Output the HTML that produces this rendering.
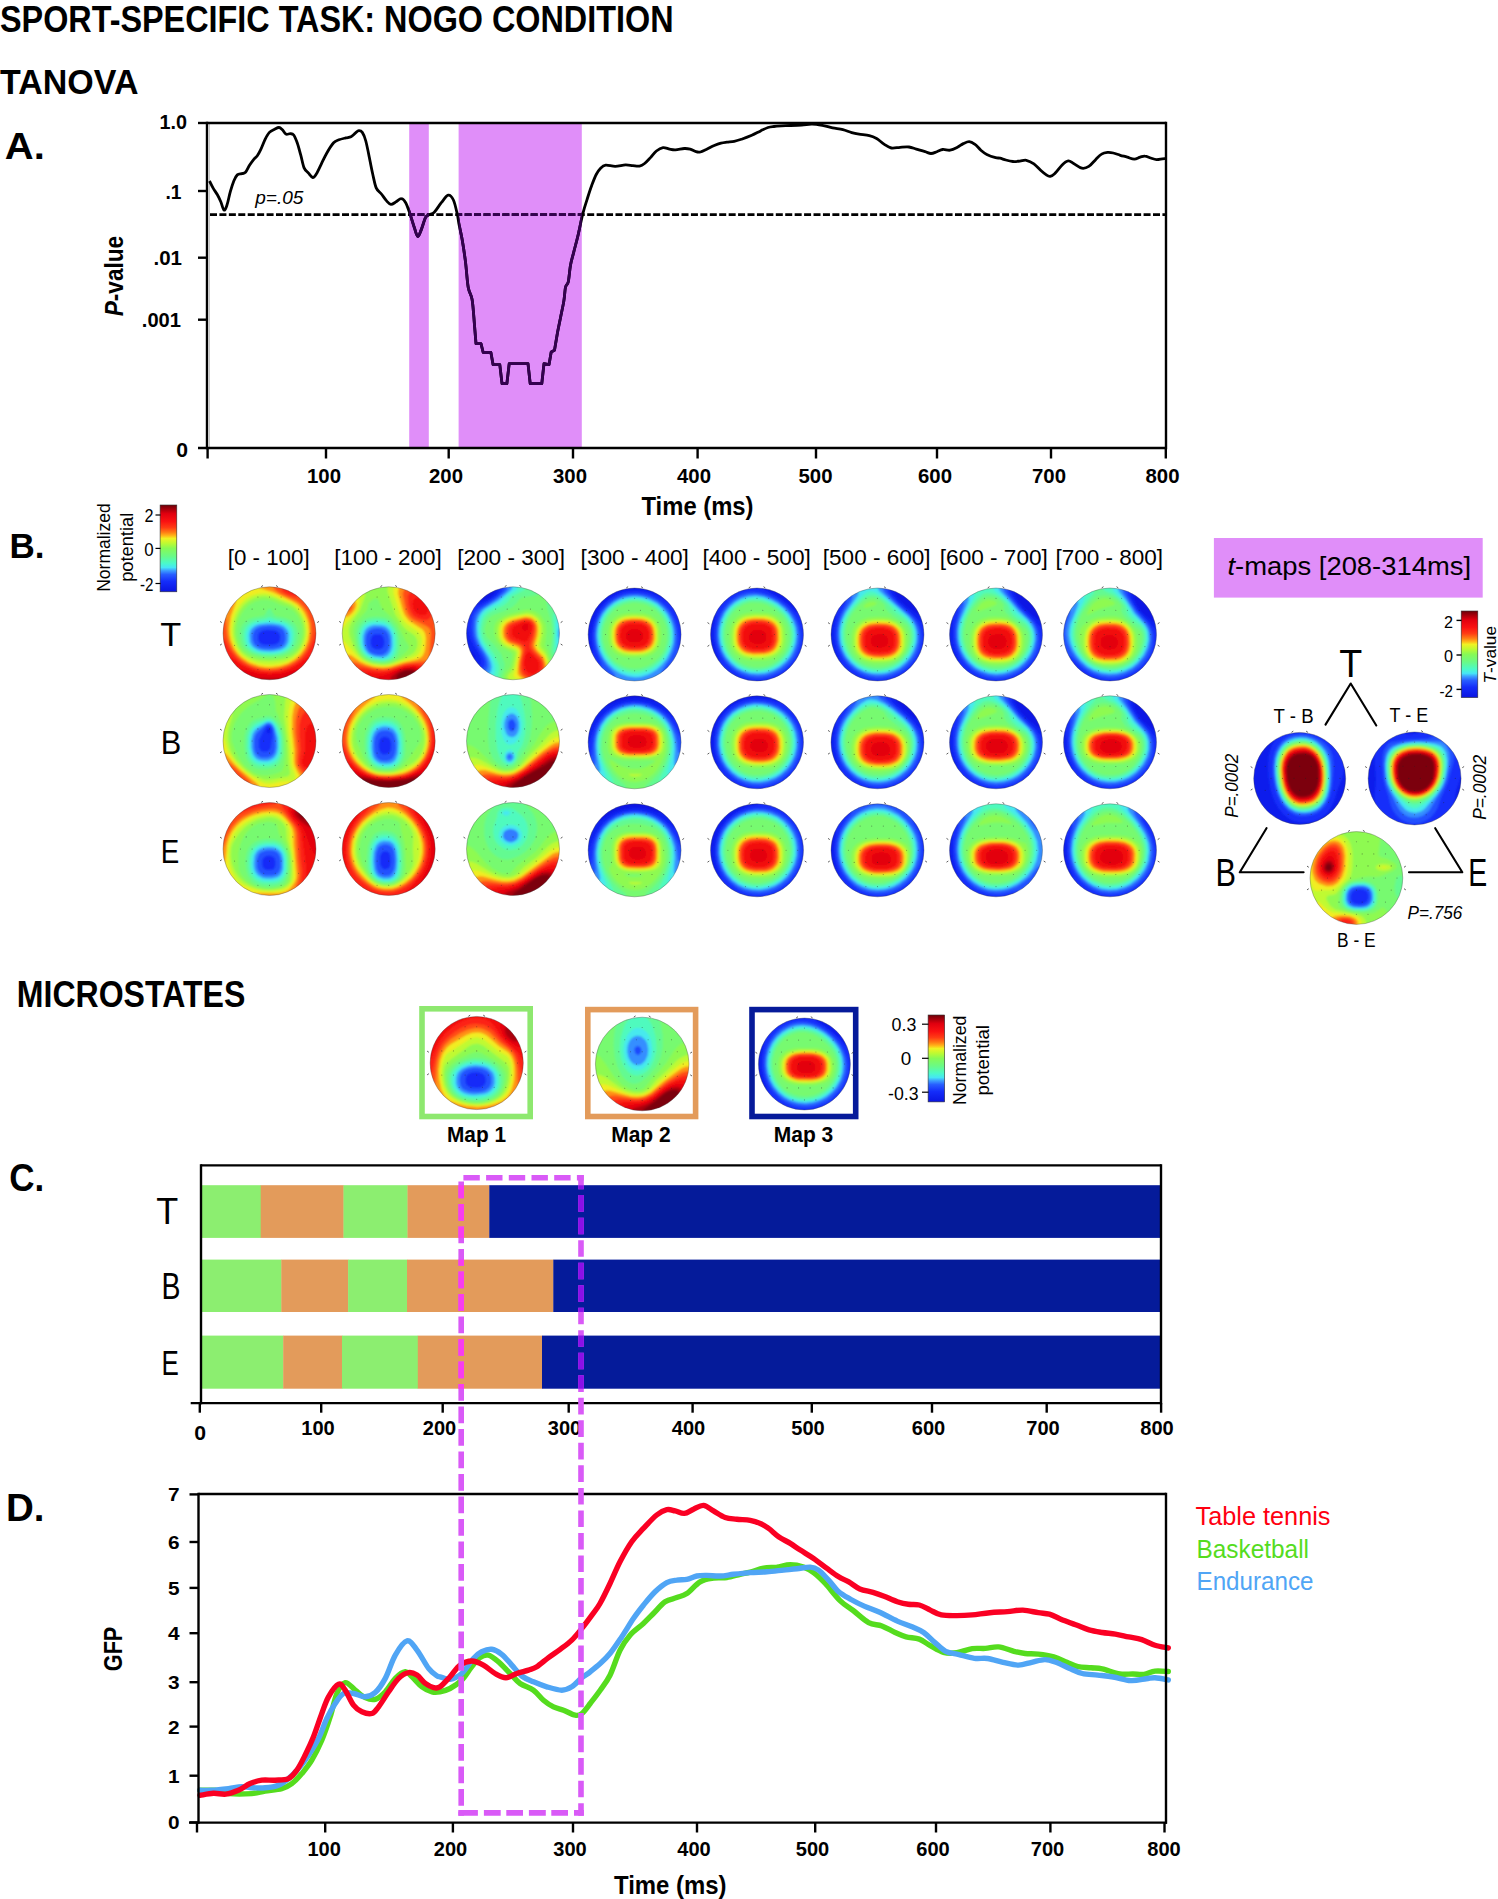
<!DOCTYPE html>
<html><head><meta charset="utf-8"><title>Sport-specific task: NoGo condition</title>
<style>
html,body{margin:0;padding:0;background:#fff;}
body{width:1498px;height:1899px;overflow:hidden;}
svg{display:block;font-family:"Liberation Sans", sans-serif;}
</style></head><body>
<svg width="1498" height="1899" viewBox="0 0 1498 1899">
<rect width="1498" height="1899" fill="#fff"/>
<text x="0" y="31.8" font-size="36.5" font-weight="bold" textLength="673.5" lengthAdjust="spacingAndGlyphs">SPORT-SPECIFIC TASK: NOGO CONDITION</text>
<text x="0" y="93.5" font-size="35.3" font-weight="bold" textLength="138.5" lengthAdjust="spacingAndGlyphs">TANOVA</text>
<text x="4.8" y="158.9" font-size="37.4" font-weight="bold" textLength="40" lengthAdjust="spacingAndGlyphs">A.</text>
<rect x="409.2" y="123.5" width="19.6" height="324.5" fill="#e08ef9"/>
<rect x="458.6" y="123.5" width="123.2" height="324.5" fill="#e08ef9"/>
<line x1="209.5" y1="124" x2="209.5" y2="447" stroke="#c8c8c8" stroke-width="1"/>
<defs><clipPath id="cpBand"><rect x="409.2" y="123.5" width="19.6" height="324.5"/><rect x="458.6" y="123.5" width="123.2" height="324.5"/></clipPath></defs>
<path d="M209.5 181 C210.1 182.2 211.7 185.6 213 187.9 C214.3 190.2 216.1 192.5 217.4 194.8 C218.7 197.1 219.7 199.2 220.8 201.8 C221.9 204.4 223 209.5 224 210.1 C225 210.7 225.8 208.4 226.9 205.3 C228 202.2 229.2 195.5 230.4 191.4 C231.6 187.3 232.7 183.8 233.8 181 C235 178.2 236 176.1 237.3 174.9 C238.6 173.7 240.3 174.1 241.7 173.7 C243.1 173.3 244.2 173.7 245.5 172.3 C246.8 170.9 248.1 167.5 249.5 165.3 C250.9 163.1 252.5 160.9 253.8 159.3 C255.1 157.7 256.2 157.4 257.3 155.8 C258.4 154.2 259.4 152.4 260.7 149.7 C262 146.9 263.7 142.2 265.1 139.3 C266.6 136.4 267.8 134.1 269.4 132.4 C271 130.7 273 130 274.6 129.2 C276.2 128.4 277.7 127.4 279 127.5 C280.3 127.6 281.2 128.7 282.4 129.8 C283.5 130.9 284.6 133.4 285.9 134.1 C287.2 134.8 289 133.5 290.3 133.7 C291.6 133.8 292.6 133.5 293.7 135 C294.8 136.5 296 139.5 297.2 142.8 C298.4 146.1 299.5 150.7 300.7 154.9 C301.9 159.1 302.8 164.9 304.1 167.9 C305.4 170.9 307.1 171.5 308.5 173.1 C309.9 174.7 311.5 177.3 312.8 177.5 C314.1 177.7 314.9 176.3 316.3 174 C317.8 171.7 319.8 167.1 321.5 163.6 C323.2 160.1 324.7 156.7 326.7 153.2 C328.7 149.7 331.6 145 333.6 142.8 C335.6 140.6 336.9 140.6 338.9 139.8 C340.9 139 343.8 138.4 345.8 137.9 C347.8 137.4 349.4 137.5 351 136.7 C352.6 135.9 354 134.2 355.3 133.2 C356.6 132.2 357.6 130.7 358.8 130.6 C360 130.5 361.1 130.7 362.3 132.4 C363.5 134.1 364.7 136.9 365.8 141 C366.9 145.1 368.1 151.2 369.2 156.7 C370.3 162.2 371.5 168.8 372.7 174 C373.9 179.2 374.8 184.6 376.2 187.9 C377.6 191.2 379.7 191.8 381.4 194 C383.1 196.2 385 199.2 386.6 200.9 C388.2 202.6 389.3 204.2 390.9 204.4 C392.5 204.6 394.4 202.8 396.1 201.8 C397.8 200.9 399.7 198.5 401.3 198.7 C402.9 198.8 404.2 200.2 405.7 202.7 C407.1 205.2 408.6 209.7 410 213.9 C411.4 218.1 413.1 224 414.4 227.8 C415.7 231.6 416.6 236.2 417.8 236.5 C419 236.8 420 232.8 421.3 229.6 C422.6 226.4 424.3 219.9 425.6 217.4 C426.9 214.9 427.7 215.7 429.1 214.8 C430.6 213.9 432.3 214.2 434.3 212.2 C436.3 210.2 439 205.5 441.3 202.7 C443.6 199.9 446.2 195.6 448.2 195.2 C450.2 194.8 451.9 196.9 453.4 200 C454.9 203.1 456.3 209.9 457.2 213.8 C458.1 217.7 458 218.9 458.8 223.2 C459.6 227.5 461.1 233.4 462.2 239.8 C463.3 246.2 464.5 254 465.5 261.9 C466.5 269.8 467.1 281 468.2 287.3 C469.3 293.6 471.1 293.6 472.1 299.5 C473.1 305.4 473.7 315.3 474.3 322.7 C474.9 330.1 475.7 340.2 476 343.7 L481 343.7 L483.2 352.5 L490.9 352.5 L493.1 364.7 L499.8 364.7 L502 383.5 L506.9 383.5 L509.2 363.6 L528 363.6 L530.2 383.5 L541.8 383.5 L544 363.6 L549 364.7 L551.2 352 L554.5 350.3 L557.3 333.7 L557.3 333.7 C557.8 330.9 559.5 322.7 560.6 317.2 C561.7 311.7 563.1 305.6 563.9 300.6 C564.7 295.6 564.8 290.4 565.5 287.3 C566.2 284.2 567.5 285.5 568.3 281.8 C569.1 278.1 569.6 270.2 570.5 265.2 C571.4 260.2 572.5 257.1 573.8 251.9 C575.1 246.7 576.8 240.6 578.3 234.2 C579.8 227.8 581.4 219.3 582.9 213.4 C584.4 207.5 585.8 203.3 587.3 198.7 C588.8 194 590.2 189.5 591.7 185.5 C593.2 181.5 594.7 177.4 596.2 174.5 C597.7 171.6 599 169.8 600.6 168.2 C602.2 166.6 603.3 165.5 605.7 165.2 C608.1 164.9 611.9 166.4 615.2 166.4 C618.5 166.4 622.5 165 625.5 164.9 C628.5 164.8 630.6 165.5 632.9 165.7 C635.2 165.9 637.5 166.5 639.5 166.1 C641.5 165.7 642.8 164.9 644.6 163.5 C646.4 162.1 648.5 159.7 650.5 157.6 C652.5 155.5 654.3 152.7 656.4 151 C658.5 149.3 660.8 147.9 663 147.6 C665.2 147.3 667.5 148.7 669.6 149.1 C671.7 149.5 673 149.9 675.5 149.8 C678 149.7 681.9 148.6 684.3 148.5 C686.7 148.4 688.1 148.6 690.1 149.1 C692.1 149.6 694.3 151.2 696 151.7 C697.7 152.2 698.7 152.4 700.4 152 C702.1 151.6 704.1 150.5 706.3 149.5 C708.5 148.5 711.1 146.9 713.6 145.8 C716.1 144.8 718.8 143.8 721 143.2 C723.2 142.6 724.7 142.5 726.9 142.2 C729.1 141.9 731.8 141.9 734.2 141.4 C736.7 140.9 738.7 140.2 741.6 139.2 C744.5 138.2 748.6 136.7 751.8 135.3 C755 133.9 757.9 132.2 760.6 130.9 C763.3 129.6 765.8 128.2 768 127.5 C770.2 126.8 771 126.8 773.9 126.5 C776.8 126.2 781 126 785.6 125.7 C790.2 125.5 797.3 125.3 801.7 125 C806.1 124.7 808.6 124 812 124.1 C815.4 124.1 818.9 124.7 822.3 125.3 C825.7 125.9 829.2 127.2 832.6 127.9 C836 128.6 839.7 128.9 842.9 129.7 C846.1 130.5 849 131.9 851.7 132.6 C854.4 133.3 856.1 133.6 859 134.1 C861.9 134.6 866.4 134.9 869.3 135.6 C872.2 136.3 874.1 137.1 876.6 138.5 C879.1 139.9 881.5 142.5 884 144.1 C886.5 145.7 888.6 147.5 891.3 148 C894 148.5 897.1 147.5 900.1 147.3 C903.1 147.1 906.3 146.7 909 147 C911.7 147.3 913.6 148.3 916.3 149.1 C919 149.9 922.6 151 925.1 151.7 C927.6 152.4 929 153.5 931 153.5 C933 153.5 934.9 152.4 936.9 151.7 C938.9 151 940.5 149.8 942.7 149.5 C944.9 149.2 947.7 150.6 950.1 150.2 C952.5 149.8 955.2 148.4 957.4 147.3 C959.6 146.2 961.3 144.5 963.3 143.6 C965.3 142.7 967.2 141.6 969.2 141.7 C971.2 141.8 973 143 975 144.4 C977 145.8 978.9 148.5 980.9 150.2 C982.9 151.9 984.3 153.2 986.8 154.4 C989.2 155.6 993.4 157 995.6 157.6 C997.8 158.2 998.3 157.8 1000 158.2 C1001.7 158.6 1003.6 159.4 1005.8 160 C1007.9 160.6 1010.5 161.3 1012.9 161.5 C1015.2 161.7 1017.7 161.3 1019.9 161.1 C1022.1 160.9 1024 159.9 1026.3 160.3 C1028.6 160.8 1031.5 162.1 1033.9 163.8 C1036.3 165.5 1038.8 168.6 1040.9 170.5 C1043 172.4 1045.2 174.2 1046.7 175.2 C1048.2 176.2 1048.8 176.6 1050.2 176.3 C1051.6 176 1053 175.2 1054.9 173.4 C1056.9 171.6 1059.7 167.3 1061.9 165.2 C1064.1 163.1 1066.3 161.2 1068.3 160.9 C1070.2 160.6 1071.3 162.3 1073.6 163.5 C1075.8 164.7 1079.3 167.7 1081.8 168.2 C1084.3 168.7 1086.5 167.9 1088.8 166.4 C1091.1 164.9 1093.7 161.5 1095.8 159.4 C1097.9 157.3 1099.6 155.3 1101.6 154.1 C1103.5 152.9 1105.5 152.6 1107.5 152.4 C1109.5 152.2 1111.2 152.5 1113.3 153 C1115.4 153.5 1118 154.6 1120.3 155.3 C1122.6 156 1125 156.4 1127.3 157.1 C1129.6 157.8 1132.1 159.2 1134.3 159.2 C1136.5 159.2 1138.4 157.6 1140.2 157.1 C1142 156.6 1143.2 155.9 1144.9 156.1 C1146.7 156.2 1148.8 157.4 1150.7 158 C1152.6 158.6 1154.5 159.5 1156.5 159.6 C1158.5 159.7 1160.8 159 1162.4 158.8 C1164 158.6 1165.3 158.6 1165.9 158.5" fill="none" stroke="#000" stroke-width="2.8" stroke-linejoin="round"/>
<line x1="210" y1="214.6" x2="1165" y2="214.6" stroke="#000" stroke-width="2.7" stroke-dasharray="7 2.43"/>
<g clip-path="url(#cpBand)"><path d="M209.5 181 C210.1 182.2 211.7 185.6 213 187.9 C214.3 190.2 216.1 192.5 217.4 194.8 C218.7 197.1 219.7 199.2 220.8 201.8 C221.9 204.4 223 209.5 224 210.1 C225 210.7 225.8 208.4 226.9 205.3 C228 202.2 229.2 195.5 230.4 191.4 C231.6 187.3 232.7 183.8 233.8 181 C235 178.2 236 176.1 237.3 174.9 C238.6 173.7 240.3 174.1 241.7 173.7 C243.1 173.3 244.2 173.7 245.5 172.3 C246.8 170.9 248.1 167.5 249.5 165.3 C250.9 163.1 252.5 160.9 253.8 159.3 C255.1 157.7 256.2 157.4 257.3 155.8 C258.4 154.2 259.4 152.4 260.7 149.7 C262 146.9 263.7 142.2 265.1 139.3 C266.6 136.4 267.8 134.1 269.4 132.4 C271 130.7 273 130 274.6 129.2 C276.2 128.4 277.7 127.4 279 127.5 C280.3 127.6 281.2 128.7 282.4 129.8 C283.5 130.9 284.6 133.4 285.9 134.1 C287.2 134.8 289 133.5 290.3 133.7 C291.6 133.8 292.6 133.5 293.7 135 C294.8 136.5 296 139.5 297.2 142.8 C298.4 146.1 299.5 150.7 300.7 154.9 C301.9 159.1 302.8 164.9 304.1 167.9 C305.4 170.9 307.1 171.5 308.5 173.1 C309.9 174.7 311.5 177.3 312.8 177.5 C314.1 177.7 314.9 176.3 316.3 174 C317.8 171.7 319.8 167.1 321.5 163.6 C323.2 160.1 324.7 156.7 326.7 153.2 C328.7 149.7 331.6 145 333.6 142.8 C335.6 140.6 336.9 140.6 338.9 139.8 C340.9 139 343.8 138.4 345.8 137.9 C347.8 137.4 349.4 137.5 351 136.7 C352.6 135.9 354 134.2 355.3 133.2 C356.6 132.2 357.6 130.7 358.8 130.6 C360 130.5 361.1 130.7 362.3 132.4 C363.5 134.1 364.7 136.9 365.8 141 C366.9 145.1 368.1 151.2 369.2 156.7 C370.3 162.2 371.5 168.8 372.7 174 C373.9 179.2 374.8 184.6 376.2 187.9 C377.6 191.2 379.7 191.8 381.4 194 C383.1 196.2 385 199.2 386.6 200.9 C388.2 202.6 389.3 204.2 390.9 204.4 C392.5 204.6 394.4 202.8 396.1 201.8 C397.8 200.9 399.7 198.5 401.3 198.7 C402.9 198.8 404.2 200.2 405.7 202.7 C407.1 205.2 408.6 209.7 410 213.9 C411.4 218.1 413.1 224 414.4 227.8 C415.7 231.6 416.6 236.2 417.8 236.5 C419 236.8 420 232.8 421.3 229.6 C422.6 226.4 424.3 219.9 425.6 217.4 C426.9 214.9 427.7 215.7 429.1 214.8 C430.6 213.9 432.3 214.2 434.3 212.2 C436.3 210.2 439 205.5 441.3 202.7 C443.6 199.9 446.2 195.6 448.2 195.2 C450.2 194.8 451.9 196.9 453.4 200 C454.9 203.1 456.3 209.9 457.2 213.8 C458.1 217.7 458 218.9 458.8 223.2 C459.6 227.5 461.1 233.4 462.2 239.8 C463.3 246.2 464.5 254 465.5 261.9 C466.5 269.8 467.1 281 468.2 287.3 C469.3 293.6 471.1 293.6 472.1 299.5 C473.1 305.4 473.7 315.3 474.3 322.7 C474.9 330.1 475.7 340.2 476 343.7 L481 343.7 L483.2 352.5 L490.9 352.5 L493.1 364.7 L499.8 364.7 L502 383.5 L506.9 383.5 L509.2 363.6 L528 363.6 L530.2 383.5 L541.8 383.5 L544 363.6 L549 364.7 L551.2 352 L554.5 350.3 L557.3 333.7 L557.3 333.7 C557.8 330.9 559.5 322.7 560.6 317.2 C561.7 311.7 563.1 305.6 563.9 300.6 C564.7 295.6 564.8 290.4 565.5 287.3 C566.2 284.2 567.5 285.5 568.3 281.8 C569.1 278.1 569.6 270.2 570.5 265.2 C571.4 260.2 572.5 257.1 573.8 251.9 C575.1 246.7 576.8 240.6 578.3 234.2 C579.8 227.8 581.4 219.3 582.9 213.4 C584.4 207.5 585.8 203.3 587.3 198.7 C588.8 194 590.2 189.5 591.7 185.5 C593.2 181.5 594.7 177.4 596.2 174.5 C597.7 171.6 599 169.8 600.6 168.2 C602.2 166.6 603.3 165.5 605.7 165.2 C608.1 164.9 611.9 166.4 615.2 166.4 C618.5 166.4 622.5 165 625.5 164.9 C628.5 164.8 630.6 165.5 632.9 165.7 C635.2 165.9 637.5 166.5 639.5 166.1 C641.5 165.7 642.8 164.9 644.6 163.5 C646.4 162.1 648.5 159.7 650.5 157.6 C652.5 155.5 654.3 152.7 656.4 151 C658.5 149.3 660.8 147.9 663 147.6 C665.2 147.3 667.5 148.7 669.6 149.1 C671.7 149.5 673 149.9 675.5 149.8 C678 149.7 681.9 148.6 684.3 148.5 C686.7 148.4 688.1 148.6 690.1 149.1 C692.1 149.6 694.3 151.2 696 151.7 C697.7 152.2 698.7 152.4 700.4 152 C702.1 151.6 704.1 150.5 706.3 149.5 C708.5 148.5 711.1 146.9 713.6 145.8 C716.1 144.8 718.8 143.8 721 143.2 C723.2 142.6 724.7 142.5 726.9 142.2 C729.1 141.9 731.8 141.9 734.2 141.4 C736.7 140.9 738.7 140.2 741.6 139.2 C744.5 138.2 748.6 136.7 751.8 135.3 C755 133.9 757.9 132.2 760.6 130.9 C763.3 129.6 765.8 128.2 768 127.5 C770.2 126.8 771 126.8 773.9 126.5 C776.8 126.2 781 126 785.6 125.7 C790.2 125.5 797.3 125.3 801.7 125 C806.1 124.7 808.6 124 812 124.1 C815.4 124.1 818.9 124.7 822.3 125.3 C825.7 125.9 829.2 127.2 832.6 127.9 C836 128.6 839.7 128.9 842.9 129.7 C846.1 130.5 849 131.9 851.7 132.6 C854.4 133.3 856.1 133.6 859 134.1 C861.9 134.6 866.4 134.9 869.3 135.6 C872.2 136.3 874.1 137.1 876.6 138.5 C879.1 139.9 881.5 142.5 884 144.1 C886.5 145.7 888.6 147.5 891.3 148 C894 148.5 897.1 147.5 900.1 147.3 C903.1 147.1 906.3 146.7 909 147 C911.7 147.3 913.6 148.3 916.3 149.1 C919 149.9 922.6 151 925.1 151.7 C927.6 152.4 929 153.5 931 153.5 C933 153.5 934.9 152.4 936.9 151.7 C938.9 151 940.5 149.8 942.7 149.5 C944.9 149.2 947.7 150.6 950.1 150.2 C952.5 149.8 955.2 148.4 957.4 147.3 C959.6 146.2 961.3 144.5 963.3 143.6 C965.3 142.7 967.2 141.6 969.2 141.7 C971.2 141.8 973 143 975 144.4 C977 145.8 978.9 148.5 980.9 150.2 C982.9 151.9 984.3 153.2 986.8 154.4 C989.2 155.6 993.4 157 995.6 157.6 C997.8 158.2 998.3 157.8 1000 158.2 C1001.7 158.6 1003.6 159.4 1005.8 160 C1007.9 160.6 1010.5 161.3 1012.9 161.5 C1015.2 161.7 1017.7 161.3 1019.9 161.1 C1022.1 160.9 1024 159.9 1026.3 160.3 C1028.6 160.8 1031.5 162.1 1033.9 163.8 C1036.3 165.5 1038.8 168.6 1040.9 170.5 C1043 172.4 1045.2 174.2 1046.7 175.2 C1048.2 176.2 1048.8 176.6 1050.2 176.3 C1051.6 176 1053 175.2 1054.9 173.4 C1056.9 171.6 1059.7 167.3 1061.9 165.2 C1064.1 163.1 1066.3 161.2 1068.3 160.9 C1070.2 160.6 1071.3 162.3 1073.6 163.5 C1075.8 164.7 1079.3 167.7 1081.8 168.2 C1084.3 168.7 1086.5 167.9 1088.8 166.4 C1091.1 164.9 1093.7 161.5 1095.8 159.4 C1097.9 157.3 1099.6 155.3 1101.6 154.1 C1103.5 152.9 1105.5 152.6 1107.5 152.4 C1109.5 152.2 1111.2 152.5 1113.3 153 C1115.4 153.5 1118 154.6 1120.3 155.3 C1122.6 156 1125 156.4 1127.3 157.1 C1129.6 157.8 1132.1 159.2 1134.3 159.2 C1136.5 159.2 1138.4 157.6 1140.2 157.1 C1142 156.6 1143.2 155.9 1144.9 156.1 C1146.7 156.2 1148.8 157.4 1150.7 158 C1152.6 158.6 1154.5 159.5 1156.5 159.6 C1158.5 159.7 1160.8 159 1162.4 158.8 C1164 158.6 1165.3 158.6 1165.9 158.5" fill="none" stroke="#340050" stroke-width="2.8" stroke-linejoin="round"/>
<line x1="210" y1="214.6" x2="1165" y2="214.6" stroke="#340050" stroke-width="2.7" stroke-dasharray="7 2.43"/>
</g>
<line x1="207" y1="123" x2="1166" y2="123" stroke="#000" stroke-width="2.6"/>
<line x1="207" y1="121.7" x2="207" y2="449.3" stroke="#000" stroke-width="2.4"/>
<line x1="1166" y1="121.7" x2="1166" y2="449.3" stroke="#000" stroke-width="2.4"/>
<line x1="198" y1="448" x2="1167" y2="448" stroke="#000" stroke-width="2.6"/>
<line x1="198" y1="123" x2="207" y2="123" stroke="#000" stroke-width="2.4"/>
<line x1="198" y1="191" x2="207" y2="191" stroke="#000" stroke-width="2.4"/>
<line x1="198" y1="257.7" x2="207" y2="257.7" stroke="#000" stroke-width="2.4"/>
<line x1="198" y1="319.7" x2="207" y2="319.7" stroke="#000" stroke-width="2.4"/>
<line x1="207.6" y1="448" x2="207.6" y2="458.5" stroke="#000" stroke-width="2.4"/>
<line x1="326" y1="448" x2="326" y2="458.5" stroke="#000" stroke-width="2.4"/>
<line x1="448.7" y1="448" x2="448.7" y2="458.5" stroke="#000" stroke-width="2.4"/>
<line x1="573" y1="448" x2="573" y2="458.5" stroke="#000" stroke-width="2.4"/>
<line x1="697.6" y1="448" x2="697.6" y2="458.5" stroke="#000" stroke-width="2.4"/>
<line x1="816" y1="448" x2="816" y2="458.5" stroke="#000" stroke-width="2.4"/>
<line x1="937" y1="448" x2="937" y2="458.5" stroke="#000" stroke-width="2.4"/>
<line x1="1051" y1="448" x2="1051" y2="458.5" stroke="#000" stroke-width="2.4"/>
<line x1="1165.8" y1="448" x2="1165.8" y2="458.5" stroke="#000" stroke-width="2.4"/>
<text x="187" y="128.7" font-size="19.8" font-weight="bold" text-anchor="end" textLength="27.5" lengthAdjust="spacingAndGlyphs">1.0</text>
<text x="181.5" y="198.7" font-size="19.8" font-weight="bold" text-anchor="end" textLength="16" lengthAdjust="spacingAndGlyphs">.1</text>
<text x="182" y="265" font-size="19.8" font-weight="bold" text-anchor="end" textLength="28.5" lengthAdjust="spacingAndGlyphs">.01</text>
<text x="181" y="326.7" font-size="19.8" font-weight="bold" text-anchor="end" textLength="39.2" lengthAdjust="spacingAndGlyphs">.001</text>
<text x="188" y="456.7" font-size="19.8" font-weight="bold" text-anchor="end" textLength="11.8" lengthAdjust="spacingAndGlyphs">0</text>
<text x="324" y="483.4" font-size="19.8" font-weight="bold" text-anchor="middle" textLength="34" lengthAdjust="spacingAndGlyphs">100</text>
<text x="446" y="483.4" font-size="19.8" font-weight="bold" text-anchor="middle" textLength="34" lengthAdjust="spacingAndGlyphs">200</text>
<text x="570" y="483.4" font-size="19.8" font-weight="bold" text-anchor="middle" textLength="34" lengthAdjust="spacingAndGlyphs">300</text>
<text x="694" y="483.4" font-size="19.8" font-weight="bold" text-anchor="middle" textLength="34" lengthAdjust="spacingAndGlyphs">400</text>
<text x="815.5" y="483.4" font-size="19.8" font-weight="bold" text-anchor="middle" textLength="34" lengthAdjust="spacingAndGlyphs">500</text>
<text x="935" y="483.4" font-size="19.8" font-weight="bold" text-anchor="middle" textLength="34" lengthAdjust="spacingAndGlyphs">600</text>
<text x="1049" y="483.4" font-size="19.8" font-weight="bold" text-anchor="middle" textLength="34" lengthAdjust="spacingAndGlyphs">700</text>
<text x="1162.5" y="483.4" font-size="19.8" font-weight="bold" text-anchor="middle" textLength="34" lengthAdjust="spacingAndGlyphs">800</text>
<text x="641.5" y="515.1" font-size="25.8" font-weight="bold" textLength="112" lengthAdjust="spacingAndGlyphs">Time (ms)</text>
<text x="123.3" y="316.3" font-size="25.5" font-weight="bold" textLength="80.5" lengthAdjust="spacingAndGlyphs" transform="rotate(-90 123.3 316.3)"><tspan font-style="italic">P</tspan>-value</text>
<text x="255.2" y="203.9" font-size="19.2" font-style="italic" textLength="48.2" lengthAdjust="spacingAndGlyphs">p=.05</text>
<text x="9.4" y="558.4" font-size="35" font-weight="bold" textLength="35" lengthAdjust="spacingAndGlyphs">B.</text>
<defs><linearGradient id="cbg2106" x1="0" y1="0" x2="0" y2="1"><stop offset="0.000" stop-color="#6e0008"/><stop offset="0.100" stop-color="#e1000f"/><stop offset="0.190" stop-color="#fa1212"/><stop offset="0.260" stop-color="#ff3c14"/><stop offset="0.315" stop-color="#ff7d14"/><stop offset="0.355" stop-color="#ffb919"/><stop offset="0.385" stop-color="#f0f223"/><stop offset="0.440" stop-color="#befa32"/><stop offset="0.500" stop-color="#87fa55"/><stop offset="0.590" stop-color="#69fa87"/><stop offset="0.670" stop-color="#4bfac8"/><stop offset="0.720" stop-color="#46e6f5"/><stop offset="0.755" stop-color="#3ca0ff"/><stop offset="0.800" stop-color="#285fff"/><stop offset="0.880" stop-color="#142dfa"/><stop offset="1.000" stop-color="#0a14e1"/></linearGradient></defs><rect x="160.1" y="505.0" width="16.7" height="86.8" fill="url(#cbg2106)" stroke="#333" stroke-width="0.6"/>
<line x1="155.5" y1="515" x2="160.5" y2="515" stroke="#000" stroke-width="1.2"/>
<line x1="155.5" y1="548.4" x2="160.5" y2="548.4" stroke="#000" stroke-width="1.2"/>
<line x1="155.5" y1="583.5" x2="160.5" y2="583.5" stroke="#000" stroke-width="1.2"/>
<text x="153.4" y="521.7" font-size="17.9" text-anchor="end" textLength="9" lengthAdjust="spacingAndGlyphs">2</text>
<text x="153.6" y="556" font-size="17.9" text-anchor="end" textLength="9.4" lengthAdjust="spacingAndGlyphs">0</text>
<text x="153.4" y="590.9" font-size="17.9" text-anchor="end" textLength="13.5" lengthAdjust="spacingAndGlyphs">-2</text>
<text x="110" y="591.8" font-size="18" textLength="88.5" lengthAdjust="spacingAndGlyphs" transform="rotate(-90 110 591.8)">Normalized</text>
<text x="133" y="581.8" font-size="17.5" textLength="69" lengthAdjust="spacingAndGlyphs" transform="rotate(-90 133 581.8)">potential</text>
<text x="227.7" y="565.3" font-size="22.3" textLength="81.9" lengthAdjust="spacingAndGlyphs">[0 - 100]</text>
<text x="334.3" y="565.3" font-size="22.3" textLength="107.4" lengthAdjust="spacingAndGlyphs">[100 - 200]</text>
<text x="457.2" y="565.3" font-size="22.3" textLength="107.9" lengthAdjust="spacingAndGlyphs">[200 - 300]</text>
<text x="580.6" y="565.3" font-size="22.3" textLength="108.3" lengthAdjust="spacingAndGlyphs">[300 - 400]</text>
<text x="702.4" y="565.3" font-size="22.3" textLength="108.4" lengthAdjust="spacingAndGlyphs">[400 - 500]</text>
<text x="822.8" y="565.3" font-size="22.3" textLength="107.8" lengthAdjust="spacingAndGlyphs">[500 - 600]</text>
<text x="939.8" y="565.3" font-size="22.3" textLength="108" lengthAdjust="spacingAndGlyphs">[600 - 700]</text>
<text x="1055.4" y="565.3" font-size="22.3" textLength="107.7" lengthAdjust="spacingAndGlyphs">[700 - 800]</text>
<text x="160.2" y="645.8" font-size="34" textLength="21" lengthAdjust="spacingAndGlyphs">T</text>
<text x="160.8" y="753.7" font-size="34" textLength="20.5" lengthAdjust="spacingAndGlyphs">B</text>
<text x="160.8" y="863" font-size="34" textLength="18.5" lengthAdjust="spacingAndGlyphs">E</text>
<rect x="1213.9" y="538" width="268.8" height="59.6" fill="#e08ef9"/>
<text x="1227.5" y="575.4" font-size="25.4" textLength="243.5" lengthAdjust="spacingAndGlyphs"><tspan font-style="italic">t</tspan>-maps [208-314ms]</text>
<defs><linearGradient id="cbg15223" x1="0" y1="0" x2="0" y2="1"><stop offset="0.000" stop-color="#6e0008"/><stop offset="0.100" stop-color="#e1000f"/><stop offset="0.190" stop-color="#fa1212"/><stop offset="0.260" stop-color="#ff3c14"/><stop offset="0.315" stop-color="#ff7d14"/><stop offset="0.355" stop-color="#ffb919"/><stop offset="0.385" stop-color="#f0f223"/><stop offset="0.440" stop-color="#befa32"/><stop offset="0.500" stop-color="#87fa55"/><stop offset="0.590" stop-color="#69fa87"/><stop offset="0.670" stop-color="#4bfac8"/><stop offset="0.720" stop-color="#46e6f5"/><stop offset="0.755" stop-color="#3ca0ff"/><stop offset="0.800" stop-color="#285fff"/><stop offset="0.880" stop-color="#142dfa"/><stop offset="1.000" stop-color="#0a14e1"/></linearGradient></defs><rect x="1461.2" y="611.0" width="16.6" height="86.6" fill="url(#cbg15223)" stroke="#333" stroke-width="0.6"/>
<line x1="1456.5" y1="620.4" x2="1461.5" y2="620.4" stroke="#000" stroke-width="1.4"/>
<line x1="1456.5" y1="655" x2="1461.5" y2="655" stroke="#000" stroke-width="1.4"/>
<line x1="1456.5" y1="689.4" x2="1461.5" y2="689.4" stroke="#000" stroke-width="1.4"/>
<text x="1453" y="627.5" font-size="17.1" text-anchor="end" textLength="9" lengthAdjust="spacingAndGlyphs">2</text>
<text x="1453" y="661.7" font-size="17.1" text-anchor="end" textLength="9" lengthAdjust="spacingAndGlyphs">0</text>
<text x="1453" y="697" font-size="17.1" text-anchor="end" textLength="13.5" lengthAdjust="spacingAndGlyphs">-2</text>
<text x="1496" y="683.5" font-size="17.1" textLength="57.5" lengthAdjust="spacingAndGlyphs" transform="rotate(-90 1496 683.5)"><tspan font-style="italic">T</tspan>-value</text>
<text x="1339.3" y="677.4" font-size="39.7" textLength="23" lengthAdjust="spacingAndGlyphs">T</text>
<text x="1215.5" y="886.2" font-size="38.8" textLength="20.5" lengthAdjust="spacingAndGlyphs">B</text>
<text x="1468.3" y="886.2" font-size="38.8" textLength="19" lengthAdjust="spacingAndGlyphs">E</text>
<text x="1273.6" y="722.8" font-size="20" textLength="40" lengthAdjust="spacingAndGlyphs">T - B</text>
<text x="1389.6" y="722.2" font-size="20" textLength="38.5" lengthAdjust="spacingAndGlyphs">T - E</text>
<text x="1337" y="946.9" font-size="20" textLength="38.6" lengthAdjust="spacingAndGlyphs">B - E</text>
<text x="1238.3" y="817.7" font-size="19.2" font-style="italic" textLength="64" lengthAdjust="spacingAndGlyphs" transform="rotate(-90 1238.3 817.7)">P=.0002</text>
<text x="1485.7" y="819.8" font-size="19.2" font-style="italic" textLength="65" lengthAdjust="spacingAndGlyphs" transform="rotate(-90 1485.7 819.8)">P=.0002</text>
<text x="1407.5" y="918.8" font-size="18.3" font-style="italic" textLength="54.8" lengthAdjust="spacingAndGlyphs">P=.756</text>
<path d="M1325.5 724.6 L1350.7 683.5 L1376.3 725.5" fill="none" stroke="#000" stroke-width="2.1" stroke-linejoin="round" stroke-linecap="round"/>
<path d="M1266.5 828.2 L1239.8 872.3 L1303.6 872.3" fill="none" stroke="#000" stroke-width="2.1" stroke-linejoin="round" stroke-linecap="round"/>
<path d="M1435.2 828.2 L1462.3 872.3 L1409 872.3" fill="none" stroke="#000" stroke-width="2.1" stroke-linejoin="round" stroke-linecap="round"/>
<text x="16.8" y="1007" font-size="37.8" font-weight="bold" textLength="228.5" lengthAdjust="spacingAndGlyphs">MICROSTATES</text>
<rect x="422" y="1008.8" width="108.2" height="107.7" fill="none" stroke="#8ee86f" stroke-width="5.6"/>
<rect x="587.8" y="1009.6" width="107.8" height="106.9" fill="none" stroke="#e39b5b" stroke-width="5.6"/>
<rect x="752" y="1009.6" width="103.7" height="106.9" fill="none" stroke="#061a9a" stroke-width="5.6"/>
<text x="447" y="1142.2" font-size="21.2" font-weight="bold" textLength="59" lengthAdjust="spacingAndGlyphs">Map 1</text>
<text x="611.2" y="1142.2" font-size="21.2" font-weight="bold" textLength="59.5" lengthAdjust="spacingAndGlyphs">Map 2</text>
<text x="773.8" y="1142.2" font-size="21.2" font-weight="bold" textLength="59.5" lengthAdjust="spacingAndGlyphs">Map 3</text>
<defs><linearGradient id="cbg10296" x1="0" y1="0" x2="0" y2="1"><stop offset="0.000" stop-color="#6e0008"/><stop offset="0.100" stop-color="#e1000f"/><stop offset="0.190" stop-color="#fa1212"/><stop offset="0.260" stop-color="#ff3c14"/><stop offset="0.315" stop-color="#ff7d14"/><stop offset="0.355" stop-color="#ffb919"/><stop offset="0.385" stop-color="#f0f223"/><stop offset="0.440" stop-color="#befa32"/><stop offset="0.500" stop-color="#87fa55"/><stop offset="0.590" stop-color="#69fa87"/><stop offset="0.670" stop-color="#4bfac8"/><stop offset="0.720" stop-color="#46e6f5"/><stop offset="0.755" stop-color="#3ca0ff"/><stop offset="0.800" stop-color="#285fff"/><stop offset="0.880" stop-color="#142dfa"/><stop offset="1.000" stop-color="#0a14e1"/></linearGradient></defs><rect x="928.1" y="1015.0" width="16.6" height="86.9" fill="url(#cbg10296)" stroke="#333" stroke-width="0.6"/>
<line x1="922" y1="1024.2" x2="928.5" y2="1024.2" stroke="#000" stroke-width="1.2"/>
<line x1="922" y1="1058.3" x2="928.5" y2="1058.3" stroke="#000" stroke-width="1.2"/>
<line x1="922" y1="1092.2" x2="928.5" y2="1092.2" stroke="#000" stroke-width="1.2"/>
<text x="916.4" y="1030.8" font-size="17.6" text-anchor="end" textLength="24.8" lengthAdjust="spacingAndGlyphs">0.3</text>
<text x="911.2" y="1064.7" font-size="17.6" text-anchor="end" textLength="10.5" lengthAdjust="spacingAndGlyphs">0</text>
<text x="918.5" y="1099.9" font-size="17.6" text-anchor="end" textLength="30.5" lengthAdjust="spacingAndGlyphs">-0.3</text>
<text x="965.7" y="1105.1" font-size="18.2" textLength="89.5" lengthAdjust="spacingAndGlyphs" transform="rotate(-90 965.7 1105.1)">Normalized</text>
<text x="989.3" y="1095.5" font-size="18.1" textLength="70.5" lengthAdjust="spacingAndGlyphs" transform="rotate(-90 989.3 1095.5)">potential</text>
<text x="9.2" y="1191.1" font-size="38" font-weight="bold" textLength="35" lengthAdjust="spacingAndGlyphs">C.</text>
<rect x="202" y="1185.2" width="59" height="52.7" fill="#8cee70"/>
<rect x="260.7" y="1185.2" width="83.1" height="52.7" fill="#e39b5b"/>
<rect x="343.5" y="1185.2" width="64.3" height="52.7" fill="#8cee70"/>
<rect x="407.5" y="1185.2" width="82.1" height="52.7" fill="#e39b5b"/>
<rect x="489.3" y="1185.2" width="671" height="52.7" fill="#051b9a"/>
<rect x="202" y="1259.6" width="79.6" height="52.4" fill="#8cee70"/>
<rect x="281.3" y="1259.6" width="67.1" height="52.4" fill="#e39b5b"/>
<rect x="348.1" y="1259.6" width="59.2" height="52.4" fill="#8cee70"/>
<rect x="407" y="1259.6" width="146.6" height="52.4" fill="#e39b5b"/>
<rect x="553.3" y="1259.6" width="607" height="52.4" fill="#051b9a"/>
<rect x="202" y="1335.6" width="81.5" height="53.1" fill="#8cee70"/>
<rect x="283.2" y="1335.6" width="59.1" height="53.1" fill="#e39b5b"/>
<rect x="342" y="1335.6" width="76.1" height="53.1" fill="#8cee70"/>
<rect x="417.8" y="1335.6" width="124.5" height="53.1" fill="#e39b5b"/>
<rect x="542" y="1335.6" width="618.3" height="53.1" fill="#051b9a"/>
<line x1="201" y1="1165.4" x2="1161" y2="1165.4" stroke="#000" stroke-width="2.4"/>
<line x1="201" y1="1164.2" x2="201" y2="1404.3" stroke="#000" stroke-width="2.4"/>
<line x1="1161" y1="1164.2" x2="1161" y2="1404.3" stroke="#000" stroke-width="2.4"/>
<line x1="190.7" y1="1403.1" x2="1162" y2="1403.1" stroke="#000" stroke-width="2.4"/>
<line x1="199.8" y1="1403.1" x2="199.8" y2="1412.7" stroke="#000" stroke-width="2.4"/>
<line x1="321.2" y1="1403.1" x2="321.2" y2="1412.7" stroke="#000" stroke-width="2.4"/>
<line x1="442.7" y1="1403.1" x2="442.7" y2="1412.7" stroke="#000" stroke-width="2.4"/>
<line x1="568.7" y1="1403.1" x2="568.7" y2="1412.7" stroke="#000" stroke-width="2.4"/>
<line x1="692.6" y1="1403.1" x2="692.6" y2="1412.7" stroke="#000" stroke-width="2.4"/>
<line x1="811.8" y1="1403.1" x2="811.8" y2="1412.7" stroke="#000" stroke-width="2.4"/>
<line x1="932" y1="1403.1" x2="932" y2="1412.7" stroke="#000" stroke-width="2.4"/>
<line x1="1046.7" y1="1403.1" x2="1046.7" y2="1412.7" stroke="#000" stroke-width="2.4"/>
<line x1="1161.1" y1="1403.1" x2="1161.1" y2="1412.7" stroke="#000" stroke-width="2.4"/>
<text x="206" y="1440.4" font-size="19.6" font-weight="bold" text-anchor="end" textLength="11.8" lengthAdjust="spacingAndGlyphs">0</text>
<text x="318" y="1435.3" font-size="19.6" font-weight="bold" text-anchor="middle" textLength="33.5" lengthAdjust="spacingAndGlyphs">100</text>
<text x="439.5" y="1435.3" font-size="19.6" font-weight="bold" text-anchor="middle" textLength="33.5" lengthAdjust="spacingAndGlyphs">200</text>
<text x="564.5" y="1435.3" font-size="19.6" font-weight="bold" text-anchor="middle" textLength="33.5" lengthAdjust="spacingAndGlyphs">300</text>
<text x="688.5" y="1435.3" font-size="19.6" font-weight="bold" text-anchor="middle" textLength="33.5" lengthAdjust="spacingAndGlyphs">400</text>
<text x="808" y="1435.3" font-size="19.6" font-weight="bold" text-anchor="middle" textLength="33.5" lengthAdjust="spacingAndGlyphs">500</text>
<text x="928.5" y="1435.3" font-size="19.6" font-weight="bold" text-anchor="middle" textLength="33.5" lengthAdjust="spacingAndGlyphs">600</text>
<text x="1043" y="1435.3" font-size="19.6" font-weight="bold" text-anchor="middle" textLength="33.5" lengthAdjust="spacingAndGlyphs">700</text>
<text x="1157" y="1435.3" font-size="19.6" font-weight="bold" text-anchor="middle" textLength="33.5" lengthAdjust="spacingAndGlyphs">800</text>
<text x="156.2" y="1223.9" font-size="36.5" textLength="22" lengthAdjust="spacingAndGlyphs">T</text>
<text x="161.6" y="1298.7" font-size="36" textLength="19" lengthAdjust="spacingAndGlyphs">B</text>
<text x="161.6" y="1374.8" font-size="35.8" textLength="17.3" lengthAdjust="spacingAndGlyphs">E</text>
<text x="6" y="1521" font-size="38.6" font-weight="bold" textLength="38.5" lengthAdjust="spacingAndGlyphs">D.</text>
<path d="M200 1790.3 C202.5 1790.3 210.3 1789.8 215 1790.3 C219.7 1790.8 222.3 1793 228.4 1793.6 C234.5 1794.1 245.6 1794 251.7 1793.6 C257.8 1793.2 260.1 1791.9 265.1 1791.1 C270.1 1790.3 277.4 1789.8 281.8 1788.6 C286.2 1787.3 288.5 1786.1 291.8 1783.6 C295.1 1781.1 298.5 1777.5 301.8 1773.6 C305.1 1769.7 308.5 1765.8 311.8 1760.2 C315.1 1754.6 318.7 1747.4 321.8 1740.2 C324.9 1733 327.7 1724.6 330.2 1716.8 C332.7 1709 334.4 1699.2 336.9 1693.5 C339.4 1687.8 342.1 1683.2 345.2 1682.6 C348.2 1682 351.9 1687.6 355.2 1690.1 C358.5 1692.6 361.9 1696.1 365.2 1697.6 C368.5 1699.1 371.8 1700.3 375.2 1699.3 C378.6 1698.3 381.9 1695.3 385.3 1691.8 C388.7 1688.3 392 1681.7 395.3 1678.4 C398.6 1675.1 402.5 1672.1 405.3 1671.8 C408.1 1671.5 409.2 1674.3 412 1676.8 C414.8 1679.3 418.7 1684.3 422 1686.8 C425.3 1689.3 429 1691 432 1691.8 C435 1692.6 437 1692.3 440 1691.8 C443 1691.2 446.4 1690.4 450 1688.5 C453.6 1686.6 458.1 1683.8 461.7 1680.2 C465.3 1676.6 468.6 1670.6 471.7 1666.8 C474.8 1663 477.2 1659.5 480 1657.6 C482.8 1655.6 485.3 1654.4 488.4 1655.1 C491.5 1655.8 494.8 1658.7 498.4 1661.8 C502 1664.9 506.5 1669.9 510.1 1673.5 C513.7 1677.1 516.2 1680.7 520.1 1683.5 C524 1686.3 529.6 1687.4 533.5 1690.2 C537.4 1693 540.2 1697.4 543.5 1700.2 C546.8 1703 550.2 1705.2 553.5 1706.9 C556.8 1708.6 559.9 1708.8 563.5 1710.2 C567.1 1711.6 572.1 1714.7 575.2 1715.2 C578.3 1715.8 579.4 1715.5 581.9 1713.5 C584.4 1711.5 587.2 1707.4 590.2 1703.5 C593.2 1699.6 596.9 1694.9 600.2 1690.2 C603.5 1685.5 606.7 1681.9 610 1675.2 C613.3 1668.5 616.7 1656.9 620 1650.2 C623.3 1643.5 626.1 1639.7 630 1635.2 C633.9 1630.8 639.5 1627.1 643.4 1623.5 C647.3 1619.9 649.8 1617.1 653.4 1613.5 C657 1609.9 661.2 1604.5 665.1 1601.8 C669 1599.1 673.2 1599 676.8 1597.6 C680.4 1596.2 682.9 1596.1 686.8 1593.5 C690.7 1590.9 695.6 1584.4 700.1 1581.8 C704.6 1579.2 709 1578.8 713.5 1578.1 C718 1577.4 722.3 1578.2 726.8 1577.6 C731.2 1577 736.3 1575.2 740.2 1574.3 C744.1 1573.4 746.3 1573.1 750.2 1572.1 C754.1 1571.1 759.2 1568.9 763.6 1568.1 C768 1567.3 772.5 1567.6 776.9 1567.1 C781.3 1566.5 785.8 1564.8 790.3 1564.8 C794.8 1564.8 799.7 1565.8 803.6 1567.1 C807.5 1568.4 810 1569.9 813.6 1572.6 C817.2 1575.3 820.9 1578.8 825.3 1583.5 C829.7 1588.2 835.4 1596.1 840 1600.6 C844.6 1605.1 848.4 1606.8 853.2 1610.5 C858 1614.2 863.8 1620 868.6 1622.6 C873.4 1625.2 877.5 1624.2 881.9 1625.9 C886.3 1627.6 891.1 1630.7 895.1 1632.5 C899.1 1634.3 902.1 1635.8 906.1 1636.9 C910.1 1638 915.3 1637.6 919.3 1639.1 C923.3 1640.6 926.3 1643.5 930.3 1645.7 C934.3 1647.9 939.1 1651.2 943.5 1652.4 C947.9 1653.6 952 1653.4 956.8 1652.8 C961.6 1652.2 967.4 1649.3 972.2 1648.6 C977 1647.9 981 1648.7 985.4 1648.4 C989.8 1648.1 993.8 1646.4 998.6 1646.9 C1003.4 1647.4 1009.6 1650.2 1014 1651.3 C1018.4 1652.4 1021 1653 1025.1 1653.5 C1029.1 1654 1033.5 1653.5 1038.3 1654.1 C1043.1 1654.6 1048.9 1655.4 1053.7 1656.8 C1058.5 1658.2 1062.9 1660.6 1066.9 1662.3 C1070.9 1664 1073.9 1665.8 1077.9 1666.7 C1082 1667.6 1087.2 1667.4 1091.2 1667.8 C1095.2 1668.2 1097.4 1667.9 1102.2 1668.9 C1107 1669.9 1114.7 1673.2 1119.8 1674 C1124.9 1674.8 1129 1673.9 1133 1674 C1137 1674.1 1140.3 1674.9 1144 1674.4 C1147.7 1673.9 1151 1671.6 1155 1671.1 C1159 1670.6 1166.1 1671.4 1168.3 1671.5" fill="none" stroke="#55dc1e" stroke-width="5.4" stroke-linejoin="round" stroke-linecap="round"/>
<path d="M200 1790.3 C201.9 1790.3 207 1790.6 211.7 1790.3 C216.4 1790 223.4 1789.2 228.4 1788.6 C233.4 1788 237.5 1786.7 241.7 1786.6 C245.9 1786.5 249.5 1787.6 253.4 1787.8 C257.3 1788 260.9 1788.2 265.1 1787.8 C269.3 1787.4 274.5 1786.7 278.4 1785.2 C282.3 1783.7 285.1 1781.4 288.5 1778.6 C291.9 1775.8 295.2 1772.5 298.5 1768.6 C301.8 1764.7 305.2 1760.2 308.5 1755.2 C311.8 1750.2 315.4 1744.6 318.5 1738.5 C321.6 1732.4 324 1724.3 326.8 1718.5 C329.6 1712.7 332.4 1707.7 335.2 1703.5 C338 1699.3 340.4 1695.2 343.5 1693.5 C346.6 1691.8 349.9 1693 353.5 1693.5 C357.1 1694 361.6 1697 365.2 1696.8 C368.8 1696.6 371.8 1695.7 375.2 1692.6 C378.6 1689.5 381.9 1684.7 385.3 1678.4 C388.7 1672.2 391.7 1661.3 395.3 1655.1 C398.9 1648.8 403.4 1641.7 407 1640.9 C410.6 1640.1 413.4 1645.5 417 1650.1 C420.6 1654.7 425.3 1664.1 428.6 1668.4 C431.9 1672.7 435.1 1674.5 437 1675.9 C438.9 1677.3 437.8 1676.2 440 1676.8 C442.2 1677.4 446.4 1679.8 450 1679.3 C453.6 1678.8 457.8 1677 461.7 1673.5 C465.6 1670 470.1 1662.1 473.4 1658.5 C476.7 1654.9 478.6 1653.3 481.7 1651.8 C484.8 1650.3 488.4 1648.9 491.7 1649.3 C495 1649.7 498.3 1651.7 501.7 1654.3 C505.1 1656.9 508.5 1661.5 511.8 1665.1 C515.1 1668.7 518.2 1673.2 521.8 1676 C525.4 1678.8 529.3 1680 533.5 1681.8 C537.7 1683.6 542.1 1685.4 546.8 1686.8 C551.5 1688.2 557.6 1690.2 561.8 1690.2 C566 1690.2 568.4 1688.9 571.8 1686.8 C575.1 1684.7 578.8 1680.2 581.9 1677.7 C585 1675.2 587.2 1674.2 590.2 1671.8 C593.2 1669.4 596.9 1666.5 600.2 1663.5 C603.5 1660.5 606.4 1657.9 610 1653.5 C613.6 1649.1 617.8 1642.7 621.7 1636.9 C625.6 1631.1 629.8 1623.8 633.4 1618.5 C637 1613.2 639.8 1609.7 643.4 1605.2 C647 1600.8 651.2 1595.6 655.1 1591.8 C659 1588 663.2 1584.5 666.8 1582.6 C670.4 1580.6 673.5 1580.6 676.8 1580.1 C680.1 1579.5 683.5 1580 686.8 1579.3 C690.1 1578.6 693.5 1576.7 696.8 1576 C700.1 1575.3 702.9 1575.4 706.8 1575.4 C710.7 1575.4 715.8 1576.2 720.2 1576 C724.7 1575.8 728.5 1574.9 733.5 1574.3 C738.5 1573.7 744.6 1573 750.2 1572.6 C755.8 1572.2 761.3 1572.2 766.9 1571.8 C772.5 1571.4 778.6 1570.6 783.6 1570.1 C788.6 1569.6 792.5 1569.3 796.9 1568.8 C801.3 1568.3 806.7 1566.9 810.3 1567.1 C813.9 1567.3 815.5 1567.9 818.6 1570.1 C821.7 1572.3 825.2 1576.5 828.6 1580.1 C832 1583.7 835 1588.6 838.7 1591.8 C842.4 1595 846.8 1597.1 851 1599.5 C855.2 1601.9 859.4 1604 864.2 1606.1 C869 1608.2 874.2 1609.8 879.7 1612.3 C885.2 1614.8 891.8 1618.6 897.3 1621.1 C902.8 1623.5 908.3 1625.1 912.7 1627 C917.1 1628.9 920 1629.9 923.7 1632.5 C927.4 1635.1 931 1639.3 934.7 1642.4 C938.4 1645.5 941.7 1649.3 945.7 1651.3 C949.8 1653.3 954.2 1653.4 959 1654.6 C963.8 1655.8 969.6 1657.6 974.4 1658.3 C979.2 1659 982.8 1657.8 987.6 1658.5 C992.4 1659.2 997.9 1661.2 1003 1662.3 C1008.1 1663.4 1013.7 1665.1 1018.5 1665.1 C1023.3 1665.1 1027.3 1663.2 1031.7 1662.3 C1036.1 1661.4 1040.9 1659.6 1044.9 1659.6 C1048.9 1659.6 1051.9 1660.9 1055.9 1662.3 C1059.9 1663.7 1064.7 1666.3 1069.1 1668.2 C1073.5 1670.1 1077.5 1672.3 1082.3 1673.5 C1087.1 1674.7 1092.6 1674.5 1097.8 1675.1 C1103 1675.7 1107.7 1676.1 1113.2 1677 C1118.7 1677.9 1125.3 1680.3 1130.8 1680.6 C1136.3 1680.9 1142.2 1679.3 1146.2 1678.8 C1150.2 1678.3 1151.3 1677.5 1155 1677.7 C1158.7 1677.9 1166.1 1679.5 1168.3 1679.9" fill="none" stroke="#50a5f5" stroke-width="5.4" stroke-linejoin="round" stroke-linecap="round"/>
<path d="M200 1795.3 C202.2 1795 209.1 1793.5 213.4 1793.3 C217.7 1793.1 221.7 1794.6 225.9 1794.1 C230.1 1793.6 234.4 1792 238.4 1790.3 C242.4 1788.5 246.2 1785.3 250.1 1783.6 C254 1781.9 257.6 1780.8 261.8 1780.2 C266 1779.6 270.7 1780.5 275.1 1780.2 C279.6 1779.9 284.9 1780.3 288.5 1778.6 C292.1 1776.9 294 1774.1 296.8 1770.2 C299.6 1766.3 302.3 1760.8 305.1 1755.2 C307.9 1749.6 310.7 1743.8 313.5 1736.8 C316.3 1729.8 319.3 1720.2 321.8 1713.5 C324.3 1706.8 325.7 1701.7 328.5 1696.8 C331.3 1691.9 335.7 1685.4 338.5 1684.3 C341.3 1683.2 342.7 1686.6 345.2 1690.1 C347.7 1693.6 350.7 1701.5 353.5 1705.1 C356.3 1708.7 358.8 1710.4 361.9 1711.8 C365 1713.2 369.1 1714.3 371.9 1713.5 C374.7 1712.7 375.8 1710.4 378.6 1706.8 C381.4 1703.2 385.3 1696.5 388.6 1691.8 C391.9 1687.1 395.3 1681.6 398.6 1678.4 C401.9 1675.2 405.5 1673.1 408.6 1672.6 C411.7 1672 414.2 1673.3 417 1675.1 C419.8 1676.9 422.5 1681.3 425.3 1683.4 C428.1 1685.5 431.2 1687 433.7 1687.6 C436.1 1688.2 437.3 1688.6 440 1686.8 C442.7 1685 446.7 1680.4 450 1676.8 C453.3 1673.2 456.4 1667.7 460 1665.1 C463.6 1662.5 467.8 1661 471.7 1661 C475.6 1661 479.5 1663 483.4 1665.1 C487.3 1667.2 491.4 1671.4 495.1 1673.5 C498.9 1675.6 502.3 1677.7 505.9 1677.7 C509.5 1677.7 513 1674.8 516.8 1673.5 C520.6 1672.2 525.2 1671.2 528.5 1670.1 C531.8 1669 533.5 1668.9 536.8 1666.8 C540.1 1664.7 544.6 1660.5 548.5 1657.6 C552.4 1654.7 556.3 1652.2 560.2 1649.3 C564.1 1646.4 568.2 1643.6 571.8 1640.1 C575.4 1636.6 578.5 1632.6 581.9 1628.4 C585.2 1624.2 588.9 1619.2 591.9 1615.1 C594.9 1610.9 597 1608.8 600 1603.5 C603 1598.2 606.7 1590.5 610 1583.5 C613.3 1576.5 616.4 1568.8 620 1561.8 C623.6 1554.8 627.8 1547.3 631.7 1541.7 C635.6 1536.1 639.2 1532.9 643.4 1528.4 C647.6 1524 652.8 1518.1 656.7 1515 C660.6 1511.9 663.7 1510.4 666.8 1509.7 C669.9 1509 672.2 1510.3 675.1 1510.9 C678 1511.5 681.2 1513.7 684.3 1513.4 C687.4 1513.1 690.3 1510.5 693.5 1509.2 C696.7 1507.9 700.2 1505.1 703.5 1505.4 C706.8 1505.7 709.9 1508.9 713.5 1510.9 C717.1 1512.9 721.3 1516.1 725.2 1517.5 C729.1 1518.9 732.6 1518.7 736.8 1519.2 C741 1519.7 746.3 1519.7 750.2 1520.4 C754.1 1521.1 757.1 1522.1 760.2 1523.4 C763.3 1524.7 765.5 1526.2 768.6 1528.4 C771.7 1530.6 775 1534.2 778.6 1536.7 C782.2 1539.2 786.7 1541.2 790.3 1543.4 C793.9 1545.6 796.4 1547.6 800.3 1550.1 C804.2 1552.6 809.1 1555.4 813.6 1558.4 C818.1 1561.5 822.8 1565.3 827 1568.4 C831.2 1571.5 835.1 1574.5 838.7 1576.8 C842.3 1579 845.3 1579.9 848.8 1581.9 C852.3 1583.9 855.8 1587.2 859.8 1588.9 C863.8 1590.7 869 1591.2 873 1592.4 C877 1593.6 880.1 1594.7 884.1 1596.2 C888.1 1597.8 893.3 1600.4 897.3 1601.7 C901.3 1603 904.6 1603.8 908.3 1604.3 C912 1604.8 915.6 1604 919.3 1605 C923 1606 926.6 1608.4 930.3 1610.1 C934 1611.8 936.9 1614 941.3 1614.9 C945.7 1615.8 951.6 1615.6 956.8 1615.6 C961.9 1615.6 966.7 1615.4 972.2 1614.9 C977.7 1614.4 983.9 1613.2 989.8 1612.7 C995.7 1612.2 1001.9 1612 1007.4 1611.6 C1012.9 1611.2 1017.8 1609.9 1022.9 1610.1 C1028 1610.3 1033.9 1612 1038.3 1612.7 C1042.7 1613.4 1045.6 1613.2 1049.3 1614.2 C1053 1615.2 1055.9 1617.1 1060.3 1618.9 C1064.7 1620.7 1070.9 1623 1075.7 1624.8 C1080.5 1626.6 1084.6 1628.6 1089 1629.9 C1093.4 1631.2 1097.8 1631.8 1102.2 1632.5 C1106.6 1633.2 1111 1633.4 1115.4 1634.1 C1119.8 1634.8 1124.2 1636 1128.6 1636.9 C1133 1637.8 1137.4 1638.2 1141.8 1639.6 C1146.2 1641 1150.6 1643.9 1155 1645.3 C1159.4 1646.7 1166.1 1647.5 1168.3 1648" fill="none" stroke="#fa0023" stroke-width="5.4" stroke-linejoin="round" stroke-linecap="round"/>
<line x1="198.5" y1="1494" x2="1166" y2="1494" stroke="#000" stroke-width="2.4"/>
<line x1="198.5" y1="1492.8" x2="198.5" y2="1823.8" stroke="#000" stroke-width="2.4"/>
<line x1="1166" y1="1492.8" x2="1166" y2="1823.8" stroke="#000" stroke-width="2.4"/>
<line x1="189" y1="1822.6" x2="1167" y2="1822.6" stroke="#000" stroke-width="2.4"/>
<line x1="197" y1="1822.6" x2="197" y2="1832.5" stroke="#000" stroke-width="2.4"/>
<line x1="325.2" y1="1822.6" x2="325.2" y2="1832.5" stroke="#000" stroke-width="2.4"/>
<line x1="452.9" y1="1822.6" x2="452.9" y2="1832.5" stroke="#000" stroke-width="2.4"/>
<line x1="573" y1="1822.6" x2="573" y2="1832.5" stroke="#000" stroke-width="2.4"/>
<line x1="697" y1="1822.6" x2="697" y2="1832.5" stroke="#000" stroke-width="2.4"/>
<line x1="815.2" y1="1822.6" x2="815.2" y2="1832.5" stroke="#000" stroke-width="2.4"/>
<line x1="936" y1="1822.6" x2="936" y2="1832.5" stroke="#000" stroke-width="2.4"/>
<line x1="1050.4" y1="1822.6" x2="1050.4" y2="1832.5" stroke="#000" stroke-width="2.4"/>
<line x1="1164.5" y1="1822.6" x2="1164.5" y2="1832.5" stroke="#000" stroke-width="2.4"/>
<line x1="189.5" y1="1494.4" x2="198.5" y2="1494.4" stroke="#000" stroke-width="2.4"/>
<text x="179.6" y="1501.4" font-size="19" font-weight="bold" text-anchor="end" textLength="11.6" lengthAdjust="spacingAndGlyphs">7</text>
<line x1="189.5" y1="1542" x2="198.5" y2="1542" stroke="#000" stroke-width="2.4"/>
<text x="179.6" y="1549" font-size="19" font-weight="bold" text-anchor="end" textLength="11.6" lengthAdjust="spacingAndGlyphs">6</text>
<line x1="189.5" y1="1587.9" x2="198.5" y2="1587.9" stroke="#000" stroke-width="2.4"/>
<text x="179.6" y="1594.9" font-size="19" font-weight="bold" text-anchor="end" textLength="11.6" lengthAdjust="spacingAndGlyphs">5</text>
<line x1="189.5" y1="1633.2" x2="198.5" y2="1633.2" stroke="#000" stroke-width="2.4"/>
<text x="179.6" y="1640.2" font-size="19" font-weight="bold" text-anchor="end" textLength="11.6" lengthAdjust="spacingAndGlyphs">4</text>
<line x1="189.5" y1="1682.2" x2="198.5" y2="1682.2" stroke="#000" stroke-width="2.4"/>
<text x="179.6" y="1689.2" font-size="19" font-weight="bold" text-anchor="end" textLength="11.6" lengthAdjust="spacingAndGlyphs">3</text>
<line x1="189.5" y1="1726.6" x2="198.5" y2="1726.6" stroke="#000" stroke-width="2.4"/>
<text x="179.6" y="1733.6" font-size="19" font-weight="bold" text-anchor="end" textLength="11.6" lengthAdjust="spacingAndGlyphs">2</text>
<line x1="189.5" y1="1775.7" x2="198.5" y2="1775.7" stroke="#000" stroke-width="2.4"/>
<text x="179.6" y="1782.7" font-size="19" font-weight="bold" text-anchor="end" textLength="11.6" lengthAdjust="spacingAndGlyphs">1</text>
<line x1="189.5" y1="1822.4" x2="198.5" y2="1822.4" stroke="#000" stroke-width="2.4"/>
<text x="179.6" y="1829.4" font-size="19" font-weight="bold" text-anchor="end" textLength="11.6" lengthAdjust="spacingAndGlyphs">0</text>
<text x="324.2" y="1856" font-size="19.8" font-weight="bold" text-anchor="middle" textLength="33.5" lengthAdjust="spacingAndGlyphs">100</text>
<text x="450.5" y="1856" font-size="19.8" font-weight="bold" text-anchor="middle" textLength="33.5" lengthAdjust="spacingAndGlyphs">200</text>
<text x="570" y="1856" font-size="19.8" font-weight="bold" text-anchor="middle" textLength="33.5" lengthAdjust="spacingAndGlyphs">300</text>
<text x="694" y="1856" font-size="19.8" font-weight="bold" text-anchor="middle" textLength="33.5" lengthAdjust="spacingAndGlyphs">400</text>
<text x="812.5" y="1856" font-size="19.8" font-weight="bold" text-anchor="middle" textLength="33.5" lengthAdjust="spacingAndGlyphs">500</text>
<text x="933" y="1856" font-size="19.8" font-weight="bold" text-anchor="middle" textLength="33.5" lengthAdjust="spacingAndGlyphs">600</text>
<text x="1047.5" y="1856" font-size="19.8" font-weight="bold" text-anchor="middle" textLength="33.5" lengthAdjust="spacingAndGlyphs">700</text>
<text x="1164" y="1856" font-size="19.8" font-weight="bold" text-anchor="middle" textLength="33.5" lengthAdjust="spacingAndGlyphs">800</text>
<text x="614" y="1894" font-size="25.3" font-weight="bold" textLength="112.5" lengthAdjust="spacingAndGlyphs">Time (ms)</text>
<text x="122.1" y="1671.2" font-size="25.4" font-weight="bold" textLength="44.5" lengthAdjust="spacingAndGlyphs" transform="rotate(-90 122.1 1671.2)">GFP</text>
<text x="1195.5" y="1525" font-size="25.2" fill="#ff0010" textLength="135" lengthAdjust="spacingAndGlyphs">Table tennis</text>
<text x="1196.5" y="1558.1" font-size="25.2" fill="#55dc1e" textLength="112.5" lengthAdjust="spacingAndGlyphs">Basketball</text>
<text x="1196.5" y="1589.9" font-size="25.2" fill="#50a5f5" textLength="117" lengthAdjust="spacingAndGlyphs">Endurance</text>
<defs><filter id="tblur" x="-10%" y="-10%" width="120%" height="120%"><feGaussianBlur stdDeviation="0.9"/></filter></defs>
<defs><clipPath id="tc1"><circle cx="269.5" cy="633.3" r="46.5"/></clipPath></defs><g clip-path="url(#tc1)"><g filter="url(#tblur)"><circle cx="269.5" cy="633.3" r="48.5" fill="#132bf8"/><path fill="#2251fe" d="M222.1 584l96.6 0 0 98.6 -98.5 -0 -0 -98.6zM262.7 630.4l-3.1 1.9 -1.2 2 -.4 1.9 .2 3.9 .8 1.9 1.8 1.7 3.9 1.2 7.7 .1 4.4 -1.1 2.3 -1.9 .9 -1.9 .2 -3.9 -.4 -1.9 -1.6 -2.3 -2.9 -1.6 -2.9 -.5 -5.8 -.1z"/><path fill="#368eff" d="M222.1 584l96.6 0 0 98.6 -98.5 -0 -0 -98.6zM261.3 626.5l-4.8 1.9 -2.1 2 -1.3 2.3 -.6 3.5 .2 3.8 1.5 3.9 1.8 1.9 3.4 2 3.3 .8 9.7 .3 6.4 -1.1 3.3 -1.8 2 -2.1 1.4 -3.9 -.1 -5.8 -1.4 -3.4 -1.9 -2 -3.9 -1.9 -3.9 -.8 -5.8 -.3z"/><path fill="#47e9ee" d="M222.1 584l96.6 0 0 98.6 -98.5 -0 -0 -98.6zM258.6 624.6l-3.6 1.4 -3.1 2.5 -1.4 1.9 -1.1 3.9 .5 7.7 2.2 3.9 2.1 1.9 3.7 1.9 2.9 .9 5.8 .7 5.8 -.1 8.1 -1.5 3.5 -1.8 2.2 -2 2.1 -3.9 .5 -7.7 -1.1 -3.9 -3.7 -3.8 -4.5 -2 -7.1 -1.1 -5.8 -.1z"/><path fill="#50fabe" d="M222.1 584l96.6 0 0 98.6 -98.5 -0 -0 -98.6zM257.1 622.7l-4 1.6 -3.2 2.3 -1.6 1.9 -1.5 3.9 -.3 5.8 .8 4.2 1.7 3.5 4.1 3.7 4.6 2.1 5 1.1 11.6 .1 5.8 -1 3.9 -1.6 3.6 -2.5 1.6 -1.9 2.2 -5.8 -0 -7.7 -1.6 -3.9 -3.9 -3.7 -5.8 -2.3 -9.6 -1.6z"/><path fill="#64fa91" d="M222.1 584l96.6 0 0 98.6 -98.5 -0 -0 -98.6zM265.6 618.8l-8.7 1.5 -3.9 1.1 -3.8 2.1 -3.1 3 -1.9 3.9 -.6 3.9 .4 5.8 2.1 5.8 3.1 3.4 3.5 2.4 4.2 1.6 5.8 1.2 7.7 .3 7.8 -.7 5.8 -1.7 3.8 -2.1 4.3 -4.4 2 -5.8 .2 -7.8 -1.2 -3.8 -1.1 -2 -4.2 -3.6 -5.8 -2.4 -7.7 -1.4 -3.9 -1.8 -1.9 0z"/><path fill="#77fa6f" d="M222.1 584l96.6 0 0 98.6 -98.5 -0 -0 -98.6zM268.2 609.1l-3.6 6.1 -1.9 .9 -9.7 1.7 -3.8 1.5 -3.9 2.5 -2.6 2.8 -1.9 3.8 -.7 3.9 .4 5.8 1.5 5.8 2.3 3.9 2.9 2.8 3.9 2.4 5.8 2.1 5.8 1.1 7.7 .3 7.8 -.7 5.7 -1.4 5.8 -2.9 2.4 -1.8 3.1 -3.9 1.6 -3.8 1 -5.8 .1 -3.9 -.7 -3.9 -1.9 -3.8 -3.6 -3.6 -5.8 -2.8 -9.7 -2 -1.9 -.9 -3.7 -6.2z"/><path fill="#8efa51" d="M222.1 584l96.6 0 0 98.6 -98.5 -0 -0 -98.6zM261.8 599.5l-7.1 1.9 -6.2 3.9 -5.1 5.3 -3.8 6.5 -2.1 5.6 -1.2 7.7 .7 7.8 2.6 7.5 3.8 5.2 3.9 2.8 5.8 2.6 7.7 1.7 7.8 .6 7.7 -.3 7.7 -1.6 5.8 -2.3 4.3 -2.7 3.5 -3.6 2.3 -4.1 1.5 -4.6 .9 -5.1 -.1 -5.8 -.8 -4.2 -1.9 -5.1 -1.9 -3.5 -3.6 -4.6 -5.5 -3.9 -8.3 -2.5 -6.2 -3.3 -3.5 -1.1 -3.9 -.9z"/><path fill="#c0fa31" d="M222.1 584l96.6 0 0 98.6 -98.5 -0 -0 -98.6zM255.3 597.5l-6.1 2.9 -5.8 4.9 -4.2 5.7 -3.5 7.7 -1.7 7.8 -.1 7.7 1.7 7.8 2.7 5.8 3.2 4.2 5.8 4.6 5.8 2.5 5.8 1.3 9.7 .8 9.6 -.6 7.8 -1.6 5.8 -2.5 5.8 -4.7 2.9 -4 2.7 -5.8 1.4 -5.8 .3 -5.8 -.7 -5.8 -1.8 -5.8 -2.9 -5.5 -3.9 -4.7 -4.4 -3.4 -18.4 -7.7 -8.1 -1.5 -3.9 .2z"/><path fill="#f1ed22" d="M222.1 584l96.6 0 0 98.6 -98.5 -0 -0 -98.6zM257.8 593.7l-6.7 2.1 -6.1 3.7 -5.5 5.8 -4.4 7.7 -2.6 7.8 -1 9.6 .9 7.8 2.6 7.7 3.6 5.8 4.8 4.8 5.8 3.8 7.7 3 7.7 1.3 7.8 .1 9.6 -1.4 5.8 -2.1 5.8 -3.3 4.9 -4.3 4.2 -5.8 2.5 -5.6 1.5 -6 .3 -5.8 -1.1 -7.7 -2 -5.8 -4.8 -7.7 -3.5 -3.5 -3.9 -2.6 -21.3 -8.8 -5.8 -1.1z"/><path fill="#ff9016" d="M221.1 585.9l14.6 14.2 .4 1.3 -5.3 15.4 -1.5 11.6 .4 5.8 1.1 5.8 2.2 5.8 2.1 3.9 2.8 3.9 3.6 3.6 7.7 5.2 9.7 3.6 5.8 1 5.8 .2 9.6 -1.2 7.8 -2.6 7.7 -4.7 5.4 -5.1 3.9 -5.8 3.1 -7.8 1.1 -7.7 -.5 -7.7 -1.6 -5.8 -2.6 -5.8 -3 -4.6 -3.9 -4 -5.8 -3.5 -19.3 -8.8 -13.8 -4.3 -.7 -3.8 60.9 -0 -0 98.5 -98.6 0 0 -97.5z"/><path fill="#ff4b14" d="M274.3 585.6l1.3 -1.6 43.2 -0 -0 98.6 -98.6 -0 -0 -66.8 5.8 2.3 .7 12.3 .8 5.8 1.6 5.8 3.6 7.7 4.4 5.8 4.3 4.1 5.8 3.9 5.8 2.7 7.8 2.1 7.7 .8 7.7 -.4 7 -1.6 6.6 -2.6 5.8 -3.5 6.2 -5.5 4.3 -5.8 3.5 -7.7 1.8 -9.7 -.7 -9.6 -3.4 -9.7 -3.6 -5.8 -4.3 -4.3 -3.8 -2.5 -15.2 -6.7 -5.5 -3.9 -1.6 -1.9z"/><path fill="#fc2313" d="M284 587.6l5.8 -.7 3.9 1.1 2.5 1.8 1.4 1.9 .6 3.9 -.7 .8 -1.9 .3 -4.9 -1.1 -4.8 -1.9 -2.9 -2 -1.4 -1.9zM316.9 631.9l1.9 -.1 0 50.8 -98.5 0 -0 -44.5 1.9 -.2 1.9 .5 4.7 9.4 3.9 5.8 5.5 5.8 5.2 4 5.8 3.2 7.8 2.7 7.7 1.4 7.7 .2 7.8 -1.1 7.7 -2.4 5.8 -2.8 7.2 -5.2 5.4 -5.8 3.8 -5.8 3.4 -7.7 1.5 -5.8z"/><path fill="#f20d11" d="M227.9 656.9l1.9 -.4 11.6 8.3 9.7 4.7 9.7 2.5 9.6 .7 9.7 -1 9.7 -3 9.6 -5.1 9.7 -7.4 1.9 .2 7.7 4.3 0 21.9 -98.5 0 -0 -21.3z"/><path fill="#e3010f" d="M241.5 668.9l15.5 4.6 11.6 1.2 11.6 -.8 7.7 -1.8 9.7 -3.2 1.7 .1 11.4 13.5 -82.3 0 11.2 -13.3z"/><path fill="#aa000c" d="M258.9 678.4l21.3 -0 1 .3 1 3.9 -25.3 -0 1 -3.9z"/></g></g><circle cx="269.5" cy="633.3" r="46.5" fill="none" stroke="#444" stroke-width="0.5" opacity="0.7"/><path d="M263.0 585.5l-1.8 1.2M276.0 585.5l1.8 1.2" stroke="#333" stroke-width="0.8" fill="none"/><path d="M221.8 622.6l-1.8 -1.2M221.8 644.0l-1.8 1.2" stroke="#333" stroke-width="0.8" fill="none"/><path d="M317.2 622.6l1.8 -1.2M317.2 644.0l1.8 1.2" stroke="#333" stroke-width="0.8" fill="none"/><g fill="#222" opacity="0.45"><circle cx="257.9" cy="597.0" r=".55"/><circle cx="269.5" cy="597.0" r=".55"/><circle cx="281.1" cy="597.0" r=".55"/><circle cx="252.1" cy="609.1" r=".55"/><circle cx="263.7" cy="609.1" r=".55"/><circle cx="275.3" cy="609.1" r=".55"/><circle cx="286.9" cy="609.1" r=".55"/><circle cx="298.6" cy="609.1" r=".55"/><circle cx="234.6" cy="621.2" r=".55"/><circle cx="246.2" cy="621.2" r=".55"/><circle cx="257.9" cy="621.2" r=".55"/><circle cx="269.5" cy="621.2" r=".55"/><circle cx="281.1" cy="621.2" r=".55"/><circle cx="292.8" cy="621.2" r=".55"/><circle cx="304.4" cy="621.2" r=".55"/><circle cx="240.4" cy="633.3" r=".55"/><circle cx="252.1" cy="633.3" r=".55"/><circle cx="263.7" cy="633.3" r=".55"/><circle cx="275.3" cy="633.3" r=".55"/><circle cx="286.9" cy="633.3" r=".55"/><circle cx="298.6" cy="633.3" r=".55"/><circle cx="310.2" cy="633.3" r=".55"/><circle cx="234.6" cy="645.4" r=".55"/><circle cx="246.2" cy="645.4" r=".55"/><circle cx="257.9" cy="645.4" r=".55"/><circle cx="269.5" cy="645.4" r=".55"/><circle cx="281.1" cy="645.4" r=".55"/><circle cx="292.8" cy="645.4" r=".55"/><circle cx="304.4" cy="645.4" r=".55"/><circle cx="252.1" cy="657.5" r=".55"/><circle cx="263.7" cy="657.5" r=".55"/><circle cx="275.3" cy="657.5" r=".55"/><circle cx="286.9" cy="657.5" r=".55"/><circle cx="298.6" cy="657.5" r=".55"/><circle cx="257.9" cy="669.6" r=".55"/><circle cx="269.5" cy="669.6" r=".55"/><circle cx="281.1" cy="669.6" r=".55"/></g>
<defs><clipPath id="tc2"><circle cx="388.7" cy="633.3" r="46.5"/></clipPath></defs><g clip-path="url(#tc2)"><g filter="url(#tblur)"><circle cx="388.7" cy="633.3" r="48.5" fill="#132bf8"/><path fill="#2251fe" d="M341.3 584l96.6 0 0 98.6 -98.5 -0 -0 -98.6zM374.2 634.3l-2.4 1.9 -1.2 3.9 .1 3.9 1.5 3.8 4 1.7 3.8 -.2 1.9 -.8 2.1 -2.6 .4 -3.9 -.5 -4.1 -2 -2.6 -1.7 -1z"/><path fill="#368eff" d="M341.3 584l96.6 0 0 98.6 -98.5 -0 -0 -98.6zM373 628.5l-3.9 1.9 -2.7 3.9 -.9 5.8 .2 3.9 1 3.8 2.7 3.9 2.9 2 5.8 1.4 3.9 -.2 1.9 -.6 3.3 -2.6 1.9 -3.9 .5 -7.7 -1.2 -5.8 -2.6 -3.7 -3.8 -2 -3.9 -.5z"/><path fill="#47e9ee" d="M341.3 584l96.6 0 0 98.6 -98.5 -0 -0 -98.6zM369.2 626.5l-2.7 1.9 -1.5 2 -1.9 5.8 .2 7.7 1.8 5.8 3.3 4 5.8 2.9 7.7 1 2 -.3 3.8 -1.8 3 -3.9 1.5 -5.8 -.3 -9.6 -2.2 -5.7 -3.9 -3.7 -3.9 -1.4 -7.7 -.3z"/><path fill="#50fabe" d="M341.3 584l96.6 0 0 98.6 -98.5 -0 -0 -98.6zM373 622.7l-2.7 .5 -3.8 1.9 -2 1.7 -2.2 3.6 -1.1 3.9 -.3 3.9 .4 5.8 1.3 4.7 1.6 3 2.3 2.7 5.8 3.4 9.6 1.6 5.8 -1.2 2 -1.1 1.9 -2 2.4 -5.3 .6 -9.7 -1.4 -7.7 -3.5 -5.7 -3.9 -2.7 -5.8 -1.4z"/><path fill="#64fa91" d="M341.3 584l96.6 0 0 98.6 -98.5 -0 -0 -98.6zM369.5 620.7l-3 1.2 -3.8 3.2 -2.1 3.3 -1.3 3.9 -.4 5.8 .6 5.8 1 3.9 1.8 3.8 4.2 4.7 6.1 3.1 9.4 1.4 3.8 -.3 3.9 -1.2 2.9 -1.9 1.7 -1.9 1.7 -3.9 .8 -3.8 -.3 -11.6 -2.7 -7.8 -4.1 -4.9 -5.8 -2.9 -7.7 -.8z"/><path fill="#77fa6f" d="M341.3 584l96.6 0 0 98.6 -98.5 -0 -0 -98.6zM371.6 616.9l-5.2 1.5 -3.8 2.6 -3.2 3.6 -1.9 3.9 -.7 3.9 -.1 5.8 .9 5.8 1.8 5.8 2.2 3.8 2.9 3.1 3.9 2.5 3.8 1.5 5.8 1.2 5.8 .3 3.9 -.6 3.9 -1.4 4.2 -2.7 1.7 -1.9 2 -5.8 .3 -5.8 -.5 -5.8 -1.3 -5.8 -1.6 -3.9 -4.8 -6.6 -5.8 -3.8 -7.8 -1.4z"/><path fill="#8efa51" d="M341.3 584l96.6 0 0 98.6 -98.5 -0 -0 -98.6zM372.6 599.5l-4.2 3.9 -1.2 5.8 -1 1.9 -8.9 9.7 -2.7 3.8 -1.2 3.9 -.2 3.9 2.2 11.6 2.1 5.8 2.2 3.8 3.5 3.9 3.3 2.3 5.8 2.3 5.8 1.1 5.8 .3 5.8 -1 7 -3.1 7.8 -5.8 3.6 -3.8 .9 -2 -0 -1.9 -3.9 -5.9 -7.7 -15.4 -5.8 -7.2 -8.9 -8.2 -2.1 -3.9 -2.1 -5.8 -2.4 -1z"/><path fill="#c0fa31" d="M341.3 584l17 0 6.8 9.7 -.5 3.8 -5.1 13.6 -7.3 9.6 -2.8 5.8 -.6 3.9 .6 5.8 4.7 11.6 4.9 7.7 5.5 4.7 7.7 3.2 9.7 1.4 5.8 -.4 3.9 -1 18.4 -7.9 3 -1.9 2 -1.9 1.9 -3.9 .7 -3.9 -.4 -3.8 -1.9 -3.9 -2.5 -2.3 -5.8 -3.7 -3.8 -3.7 -7.6 -11.6 -8 -23.2 -0 -3.8 1.5 -3.9 44.1 -0 4.7 3.8 0 94.8 -98.5 -0 -0 -98.6z"/><path fill="#f1ed22" d="M395.5 585l.8 -1 27.6 0 8.3 5.3 5.8 6.1 0 87.2 -98.6 -0 0 -41.7 3.9 -.4 13.1 15 6.2 5.4 7.8 3.4 7.7 1.5 7.7 .2 7.8 -1.8 20 -6.7 3.5 -2 3.1 -3.8 1.9 -7.8 -0 -3.8 -.8 -3.9 -2.6 -4.2 -11.6 -8 -3.1 -3.3 -2.5 -3.8 -2.5 -5.8 -5.3 -17.4 -.2 -3.9 .4 -1.9zM341.3 592l7.7 1 5.8 2.2 3.9 3.1 .7 3.1 -1.1 5.8 -3.1 5.8 -8.6 9.6 -3.4 5.1 -1.9 .1 -1.9 -.4 -0 -35.6z"/><path fill="#ff9016" d="M401.3 585.6l3.1 -1.6 9.5 0 6.7 2.5 5.8 3.2 5.2 4 3.4 3.9 3 5.8 0 79.2 -98.6 0 0 -23.8 7.8 -3.9 1.9 -.2 1.9 .6 8.9 6.1 6.6 3.2 7.7 2.1 7.8 .9 7.7 -.8 13.5 -4.4 13.3 -3 4.1 -1.7 2.2 -2.1 1.7 -3.9 1 -5.8 .4 -7.7 -.6 -3.9 -.8 -2.1 -1.9 -2.6 -13.5 -8.8 -4.5 -5.8 -2.2 -5.8 -4.3 -15.5 .2 -3.9 .9 -1.9zM347.1 599.3l3.9 -0 3.8 1.7 1.3 2.3 0 1.9 -1.1 3.9 -2.8 3.9 -3.2 2.8 -1.9 1 -1.9 -0 -3.9 -3.8 -1 -2 -.4 -3.8 1.3 -3.9 1.7 -1.9z"/><path fill="#ff4b14" d="M407.1 587.7l3.9 -.4 3.8 .7 9.7 4.4 6.2 5.2 2.8 3.9 1.6 3.8 1 7.7 -1.3 13.6 .7 3.8 2.5 5.3 0 20.7 -3.6 6.9 .4 11.6 -1 7.7 -94.4 0 0 -10.3 9.7 -7.6 3.9 -2.4 3.8 .6 7.8 3 7.7 2.1 11.6 1.1 5.8 -.8 15.5 -4.8 19.3 -2.5 3.7 -1.6 .8 -1.9 1.8 -23.2 -.3 -3.9 -1.1 -1.9 -2.3 -1.9 -14.2 -7.1 -2.9 -2.6 -2.6 -3.9 -2.1 -5.8 -2.7 -13.5 1.3 -3.8zM349.1 604.5l1.9 0 1.1 .8 .4 1.9 -1.5 2.9 -1.9 1.4 -1.9 -.6 -.9 -1.7 -0 -2 1.1 -1.9z"/><path fill="#fc2313" d="M409 593.5l1.9 -1.1 2 -.3 5.8 1.3 5.8 3 3.8 3.4 2.4 3.6 1.7 5.8 -.6 5.8 -2.2 3.8 -3.2 1.4 -3.9 -.2 -5.8 -2 -4 -3 -2.5 -3.9 -1.8 -5.8 -.7 -7.7 .2 -2zM405.1 664.9l7.7 -1 5.8 .2 3.9 1 3.3 2 2.9 3.9 .7 3.8 -.6 3.9 -1.7 3.9 -82.4 -0 10.4 -11.6 3.6 -2.9 3.9 0 13.5 2.3 7.7 .3 5.8 -.9z"/><path fill="#f20d11" d="M414.8 598.7l1.9 -.6 3.9 .8 3.9 2.4 1.8 2.1 1.7 3.8 .2 2 -.3 1.9 -1.5 2.8 -1.9 1.2 -3.9 .1 -3.9 -1.8 -1.9 -2 -2 -4.2 -.3 -3.8 .4 -2.1zM403.2 666.7l9.7 -1.2 3.8 .3 3.9 1.4 2.3 1.8 2.4 3.9 .1 3.9 -1.7 3.8 -1.5 2 -63.1 -0 4.7 -7.8 1.8 -1.9 2.8 -.5 11.6 .5 5.8 -.4z"/><path fill="#e3010f" d="M409 667l3.9 -0 3.8 .8 2.3 1.2 2 2 1 1.9 .2 3.9 -1.6 3 -2.8 2.8 -42.3 -0 .4 -3.9 2 -1.9 7.9 -1.6 14.5 -6.2z"/><path fill="#aa000c" d="M405.1 669l3.9 -.5 3.8 .1 3.9 1.6 2.3 2.7 .4 2 -.3 1.9 -1.1 1.9 -2 2 -3.6 1.9 -17.4 -0 -3.4 -1.9 -1.5 -2 .9 -1.9 4.9 -3.9 3.5 -1.9z"/><path fill="#7c0009" d="M405.1 670.6l5.8 -.4 3 .8 2 1.9 .5 2 -.4 1.9 -3.2 2.9 -5.8 1.7 -5.8 -.5 -4.3 -2.2 -.6 -1.9 1.1 -1.9 2.3 -2z"/></g></g><circle cx="388.7" cy="633.3" r="46.5" fill="none" stroke="#444" stroke-width="0.5" opacity="0.7"/><path d="M382.2 585.5l-1.8 1.2M395.2 585.5l1.8 1.2" stroke="#333" stroke-width="0.8" fill="none"/><path d="M341.0 622.6l-1.8 -1.2M341.0 644.0l-1.8 1.2" stroke="#333" stroke-width="0.8" fill="none"/><path d="M436.4 622.6l1.8 -1.2M436.4 644.0l1.8 1.2" stroke="#333" stroke-width="0.8" fill="none"/><g fill="#222" opacity="0.45"><circle cx="377.1" cy="597.0" r=".55"/><circle cx="388.7" cy="597.0" r=".55"/><circle cx="400.3" cy="597.0" r=".55"/><circle cx="371.3" cy="609.1" r=".55"/><circle cx="382.9" cy="609.1" r=".55"/><circle cx="394.5" cy="609.1" r=".55"/><circle cx="406.1" cy="609.1" r=".55"/><circle cx="417.8" cy="609.1" r=".55"/><circle cx="353.8" cy="621.2" r=".55"/><circle cx="365.4" cy="621.2" r=".55"/><circle cx="377.1" cy="621.2" r=".55"/><circle cx="388.7" cy="621.2" r=".55"/><circle cx="400.3" cy="621.2" r=".55"/><circle cx="411.9" cy="621.2" r=".55"/><circle cx="423.6" cy="621.2" r=".55"/><circle cx="359.6" cy="633.3" r=".55"/><circle cx="371.3" cy="633.3" r=".55"/><circle cx="382.9" cy="633.3" r=".55"/><circle cx="394.5" cy="633.3" r=".55"/><circle cx="406.1" cy="633.3" r=".55"/><circle cx="417.8" cy="633.3" r=".55"/><circle cx="429.4" cy="633.3" r=".55"/><circle cx="353.8" cy="645.4" r=".55"/><circle cx="365.4" cy="645.4" r=".55"/><circle cx="377.1" cy="645.4" r=".55"/><circle cx="388.7" cy="645.4" r=".55"/><circle cx="400.3" cy="645.4" r=".55"/><circle cx="411.9" cy="645.4" r=".55"/><circle cx="423.6" cy="645.4" r=".55"/><circle cx="371.3" cy="657.5" r=".55"/><circle cx="382.9" cy="657.5" r=".55"/><circle cx="394.5" cy="657.5" r=".55"/><circle cx="406.1" cy="657.5" r=".55"/><circle cx="417.8" cy="657.5" r=".55"/><circle cx="377.1" cy="669.6" r=".55"/><circle cx="388.7" cy="669.6" r=".55"/><circle cx="400.3" cy="669.6" r=".55"/></g>
<defs><clipPath id="tc3"><circle cx="513.0" cy="633.3" r="46.5"/></clipPath></defs><g clip-path="url(#tc3)"><g filter="url(#tblur)"><circle cx="513.0" cy="633.3" r="48.5" fill="#0b17e4"/><path fill="#1022ef" d="M465.6 584l96.6 0 0 98.6 -98.5 -0 -0 -98.6zM483.4 589.8l-3.4 1.9 -1.6 2 -.8 1.9 .1 1.9 .8 2 2.6 1.7 3.8 -1.1 5 -2.6 4.4 -3.8 .8 -2 -2.4 -1.9 -2 -.5 -3.8 -.2zM470.9 651.7l-.3 1.9 .8 2.4 1.9 2.2 2 .6 .4 -1.3 -.4 -2 -2 -2.7 -1.9 -1.6z"/><path fill="#152ffa" d="M465.6 584l96.6 0 0 98.6 -98.5 -0 -0 -22.4 5.8 4.2 5.8 1.4 4 -.6 1.8 -1.7 .4 -2.2 -1.7 -5.8 -6.1 -9.6 -2.9 -5.8 -3.3 -11.4 -3.8 -.6 -0 -44.1zM480.5 585.9l-3.2 1.4 -3.4 2.5 -1.7 1.9 -1.6 3.9 .2 3.8 .9 2 3.6 3.9 2 .3 1.9 -.5 9.7 -4.8 6.8 -4.7 3.3 -3.9 .4 -1.9 -.9 -1.1 -5.8 -3 -5.8 -.9z"/><path fill="#2251fe" d="M465.6 584l3.3 0 -5.2 4 -0 -4zM500.4 584l61.9 0 -0 98.6 -98.6 -0 -0 -13.1 7.7 1.3 5.8 -.3 5.8 -2.3 1.9 -3 -0 -3.9 -1.2 -3.8 -8 -13.6 -2.8 -7.7 -1.1 -9.7 .9 -9.6 1.7 -3.9 3.5 -3.9 16.7 -10.5 7.6 -6.9 1.1 -1.9 -.3 -1.9 -4.4 -3.9z"/><path fill="#368eff" d="M506.2 584l56.1 0 -0 98.6 -98.6 -0 -0 -4.2 15.4 -3.6 5.8 -3 2.6 -2.8 .7 -3.8 -1 -5.8 -2.9 -5.8 -6.1 -9.7 -2.4 -5.8 -1.3 -7.7 .6 -9.7 1.8 -5.8 4.2 -5.4 15.4 -10.2 9 -7.6 1.5 -1.9 .6 -1.9 -2.4 -3.9z"/><path fill="#47e9ee" d="M512 584l50.3 0 -0 43.8 -2 .2 -1.9 2.1 -.1 4.2 .1 2.2 1.2 1.6 2.7 .7 -0 43.8 -85.7 -0 8.3 -5.1 3.9 -3.3 2.2 -3.2 .6 -3.9 -.5 -3.8 -2 -5.8 -8.6 -13.6 -3 -7.7 -.7 -9.7 .7 -5.8 1.2 -3.8 2.2 -3.9 3.8 -3.9 13.8 -8.7 12.7 -10.6 1.1 -1.9 -1.1 -3.9z"/><path fill="#50fabe" d="M517.8 584l44.5 0 -0 33.5 -3.9 1.2 -1.9 1.4 -.5 4.5 -.1 15.5 .6 6.3 1.9 1.4 3.9 1.3 -0 33.5 -73.4 -0 5.2 -7.8 1 -3.8 0 -3.9 -.8 -3.8 -2.3 -5.8 -9 -13.6 -2.7 -5.8 -1.3 -7.7 1.1 -9.7 2.4 -5.8 3.5 -3.8 13.7 -7.8 8.3 -7.7 8.5 -5.8 1.4 -1.9z"/><path fill="#64fa91" d="M527.5 584l34.8 0 -0 23.9 -7.7 4 -.8 1.1 -.6 3.9 1 15.4 -.7 17.4 1.1 3.8 7.7 5.1 -0 24 -65.2 -0 2.3 -13.6 -.5 -3.8 -1.3 -3.9 -4 -7.7 -8.6 -11.4 -2.1 -4.1 -1.5 -7.7 .2 -3.9 1.3 -5.8 2.1 -4 3.8 -4 14.9 -7.4 4.4 -3.9 2.6 -3.9 1.3 -1 12.6 -6.7 1.4 -5.8z"/><path fill="#77fa6f" d="M544.9 584l17.4 0 -0 2.8 -15.5 14.6 -.4 1.9 1.1 5.8 3.2 10.8 1.3 8.6 .2 7.7 -1.6 13.5 .3 3.9 1.4 3.9 3.1 5.8 3 8 3.9 5.3 -0 6 -60.1 -0 -.7 -2 -.2 -3.8 3.3 -9.7 0 -3.8 -3.7 -9.7 -8.2 -10.3 -5.8 -5.6 -1.5 -3.4 -.7 -3.9 .2 -3.9 2 -5.8 1.9 -2.6 3.9 -2.9 11.6 -4.1 7.8 -3.9 4.4 -3.9 2.6 -3.8 2.4 -2 15.7 -2.4 1.6 -1.4z"/><path fill="#8efa51" d="M521.7 610.8l3.9 -.9 3.8 -.1 5.8 1.7 3.9 2.6 2.6 2.8 3.3 5.8 1.1 3.8 .3 5.8 -1.5 13 2.3 4.4 4.5 13.5 .8 5.8 -.3 3.9 -1.1 3.9 -3.5 5.8 -40.7 -0 -1.7 -2 -.8 -1.9 .4 -3.9 5.3 -7.4 .8 -2.2 1.5 -7.8 -.1 -3.8 -2.3 -2 -7.6 -4 -5.1 -5.6 -1.9 -3.9 -.9 -3.9 -.4 -3.8 .3 -3.9 1.4 -3.8 1.4 -2 5 -3.8 6 -2.6z"/><path fill="#c0fa31" d="M517.8 614.7l9.7 -1.6 5.8 1.3 3.6 2.5 1.9 1.9 3 5.8 .6 3.9 -.1 5.8 -2 9.7 .1 1.9 .8 1.9 3.7 4.2 1.9 3.4 2.6 7.9 .6 3.9 -.6 5.8 -1.5 3.8 -2.8 3.9 -2.1 1.9 -22.7 0 -10.2 -1.9 -2.1 -1.9 -.3 -2 .7 -1.9 3.6 -4.2 1.5 -3.5 2.7 -13.6 -.5 -1.9 -1.8 -1.7 -7.7 -3.2 -3.9 -2.8 -1.6 -2 -2.5 -5.8 -.2 -7.7 1.1 -3.9 1.1 -1.9 4.1 -3.7 5.8 -2.5z"/><path fill="#f1ed22" d="M517.8 616.6l7.7 -1.5 5.8 .7 4.6 3 1.6 1.9 1.8 3.9 .7 3.9 -.2 5.8 -2.4 11.6 2 3.8 5.5 5.9 2.2 5.7 1 5.8 -.8 5.8 -1.8 3.9 -2.6 3 -4.3 2.8 -12.3 -0 -9.2 -3.9 -3.3 -1.9 -.1 -2 1.8 -5.8 2.6 -13.5 .3 -3.8 -.8 -2 -1.7 -1.4 -7.8 -3 -2.4 -1.4 -2.1 -1.9 -2.3 -3.9 -.8 -3.8 .1 -5.8 1.4 -3.9 1.4 -1.9 4.7 -3.4z"/><path fill="#ff9016" d="M525.6 616.7l5.8 1 3.9 3 1.3 2 1.2 3.9 .2 3.8 -.7 5.8 -2.2 7.7 -.1 2 1.7 3.8 7.2 7.8 2.3 7.7 -.2 5.8 -1.5 3.9 -3.4 4 -2.9 1.8 -2.9 .9 -3.9 .2 -4.7 -1.1 -5 -2.6 -3.5 -3.2 -.5 -2 .2 -5.8 .7 -5.8 1.8 -7.7 -.2 -3.9 -2.3 -2.6 -7.8 -3 -3.4 -2.1 -2.9 -3.9 -.9 -3.8 -.1 -3.9 .9 -3.8 2.9 -3.9 5.5 -2.8z"/><path fill="#ff4b14" d="M523.6 618.4l3.9 -.2 3.8 1.2 2 1.5 1.9 3.1 .7 2.5 0 3.9 -.9 5.8 -2.3 7.7 .3 3.9 2.7 3.8 5.9 5.8 1.3 2.2 1.2 3.6 .3 5.8 -1.5 4.5 -3.8 4.3 -3.9 1.7 -3.9 .3 -3.8 -1 -3.9 -2 -2.1 -2 -1.6 -3.8 -.2 -3.9 .5 -5.8 2.2 -9.7 -.7 -3.8 -1.9 -2 -2 -1 -7.7 -2.9 -2.4 -1.9 -2.2 -3.8 -.4 -3.9 .4 -3.8 2.1 -3.9 4.4 -2.8z"/><path fill="#fc2313" d="M521.7 620.5l3.9 -.8 3.8 .6 2 1.1 2.2 3.2 .5 2 -.2 3.8 -1.3 5.8 -2.6 7.8 -0 3.8 3 3.9 7.4 7.7 1.6 3.9 .4 3.8 -.7 3.9 -1 1.9 -1.6 2.1 -3.9 2.1 -3.8 .3 -2.7 -.6 -3.1 -1.7 -2.1 -2.2 -1.4 -3.8 -.2 -5.8 .9 -5.8 2.1 -7.8 -.1 -1.9 -1.2 -1.9 -2.5 -1.9 -9.4 -3.9 -2.2 -1.9 -1.3 -2.7 -.3 -5.1 1.5 -3.8 2.1 -2 2.5 -1.3z"/><path fill="#f20d11" d="M521.7 622.4l3.9 -1 3.8 .8 2 2.2 .6 2.1 -.5 3.9 -2.1 5.8 -1.9 4 -1.9 1.4 -2 -.2 -8.1 -3.3 -2.3 -1.9 -1 -2 -.2 -3.8 .8 -2 1.6 -1.9zM527.5 652.3l1.9 -.1 3.9 3 3.7 4.2 2 3.8 .3 3.9 -.5 1.9 -1.6 2.8 -2 1.4 -1.9 .5 -3.9 -.5 -1.9 -1.2 -2.1 -3 -.9 -3.8 -0 -5.8 1.1 -4.4z"/><path fill="#e3010f" d="M523.6 624.5l1.9 -.5 2 .3 1.3 2.2 -1.3 3.3 -2 1.1 -1.9 -.3 -2.1 -2.2 .1 -1.9zM529.4 658l1.2 1.3 -1.2 2 -.7 -2z"/></g></g><circle cx="513.0" cy="633.3" r="46.5" fill="none" stroke="#444" stroke-width="0.5" opacity="0.7"/><path d="M506.5 585.5l-1.8 1.2M519.5 585.5l1.8 1.2" stroke="#333" stroke-width="0.8" fill="none"/><path d="M465.3 622.6l-1.8 -1.2M465.3 644.0l-1.8 1.2" stroke="#333" stroke-width="0.8" fill="none"/><path d="M560.7 622.6l1.8 -1.2M560.7 644.0l1.8 1.2" stroke="#333" stroke-width="0.8" fill="none"/><g fill="#222" opacity="0.45"><circle cx="501.4" cy="597.0" r=".55"/><circle cx="513.0" cy="597.0" r=".55"/><circle cx="524.6" cy="597.0" r=".55"/><circle cx="495.6" cy="609.1" r=".55"/><circle cx="507.2" cy="609.1" r=".55"/><circle cx="518.8" cy="609.1" r=".55"/><circle cx="530.4" cy="609.1" r=".55"/><circle cx="542.1" cy="609.1" r=".55"/><circle cx="478.1" cy="621.2" r=".55"/><circle cx="489.8" cy="621.2" r=".55"/><circle cx="501.4" cy="621.2" r=".55"/><circle cx="513.0" cy="621.2" r=".55"/><circle cx="524.6" cy="621.2" r=".55"/><circle cx="536.2" cy="621.2" r=".55"/><circle cx="547.9" cy="621.2" r=".55"/><circle cx="483.9" cy="633.3" r=".55"/><circle cx="495.6" cy="633.3" r=".55"/><circle cx="507.2" cy="633.3" r=".55"/><circle cx="518.8" cy="633.3" r=".55"/><circle cx="530.4" cy="633.3" r=".55"/><circle cx="542.1" cy="633.3" r=".55"/><circle cx="553.7" cy="633.3" r=".55"/><circle cx="478.1" cy="645.4" r=".55"/><circle cx="489.8" cy="645.4" r=".55"/><circle cx="501.4" cy="645.4" r=".55"/><circle cx="513.0" cy="645.4" r=".55"/><circle cx="524.6" cy="645.4" r=".55"/><circle cx="536.2" cy="645.4" r=".55"/><circle cx="547.9" cy="645.4" r=".55"/><circle cx="495.6" cy="657.5" r=".55"/><circle cx="507.2" cy="657.5" r=".55"/><circle cx="518.8" cy="657.5" r=".55"/><circle cx="530.4" cy="657.5" r=".55"/><circle cx="542.1" cy="657.5" r=".55"/><circle cx="501.4" cy="669.6" r=".55"/><circle cx="513.0" cy="669.6" r=".55"/><circle cx="524.6" cy="669.6" r=".55"/></g>
<defs><clipPath id="tc4"><circle cx="634.6" cy="634.5" r="46.5"/></clipPath></defs><g clip-path="url(#tc4)"><g filter="url(#tblur)"><circle cx="634.6" cy="634.5" r="48.5" fill="#0f1fec"/><path fill="#152ffa" d="M682 587.1l1.9 -1.9 0 98.6 -98.5 0 -0 -27.5 7 -3.4 .5 -1.9 -1 -9.7 -.1 -7.7 2 -11.6 3.9 -9.7 3.9 -5.8 3.1 -3.5 5.8 -4.9 7.7 -4.3 5.8 -2 9.7 -1.4 5.8 .3 9.6 1.9 7.8 3 9.6 5.5 1.9 -.4z"/><path fill="#2251fe" d="M624 594.6l5.8 -1.1 7.7 -.3 5.8 .8 5.8 1.6 5.8 2.5 5.8 3.7 5.3 4.7 4.6 5.8 4.2 7.7 2.5 7.8 1 9.6 -.2 12.6 5.8 2.1 0 31.7 -98.6 0 0 -1.1 16.3 -16.3 -.7 -3.8 -5.2 -13.6 -1.6 -9.6 -.1 -5.8 .6 -5.8 2.8 -9.7 4.2 -7.7 6.9 -7.6 7.8 -5.2z"/><path fill="#368eff" d="M624 596.5l5.8 -1.2 7.7 -.2 7.8 1.3 5.8 2 5.8 3.1 6.2 5 5 5.8 3.4 5.8 2.2 5.8 1.7 7.7 .1 7.7 -.8 5.8 -1.5 5.8 -3.5 7.8 -8.9 13.5 8.2 11.6 -56.9 -0 3.4 -7.7 -1.1 -2 -8.7 -9.6 -5.8 -9.7 -2.1 -5.8 -1.4 -5.8 -.7 -7.7 .4 -5.8 1.1 -5.8 2.1 -5.8 3.1 -5.8 3 -3.9 3.8 -3.9 5.1 -3.7 5.8 -3z"/><path fill="#47e9ee" d="M633.6 596.7l7.7 .6 7.8 2.1 7.7 4.2 5.7 4.8 4.6 5.8 3.9 7.7 1.7 5.8 .8 7.8 -.6 7.7 -2.3 7.7 -3.9 7.8 -4.1 5.3 -5.8 5.4 -5.8 3.8 -3.9 1.8 -5.8 1.7 -5.8 .6 -7.7 -1 -7.7 -2.9 -5.8 -3.7 -5.8 -5.4 -4.3 -5.6 -4 -7.8 -2.2 -7.7 -.8 -7.7 .7 -7.8 2.2 -7.7 3 -5.8 4.4 -5.8 6.8 -5.7 5.8 -3.1 5.8 -1.9z"/><path fill="#50fabe" d="M629.8 598.7l7.7 -.2 7.8 1.4 6.6 2.7 5.9 3.9 5.8 5.8 3.8 5.8 3 7.5 1.1 6 0 7.7 -1 5.8 -2.9 7.8 -3.5 5.8 -5.3 5.9 -5.8 4.4 -5.8 2.8 -7.7 2.1 -7.8 .1 -5.8 -1.2 -7.7 -3.4 -5.8 -4.2 -5.8 -6.4 -3.6 -5.9 -2.3 -5.8 -1.6 -7.8 -0 -7.7 1.4 -7.7 2.3 -5.8 3.6 -5.8 4.1 -4.5 5.8 -4.3 5.8 -2.8z"/><path fill="#64fa91" d="M629.8 600.5l7.7 -.2 5.8 1 5.8 2 5.8 3.2 5.8 5.2 3.9 5.2 3.3 6.9 1.4 5.8 .5 5.8 -.9 7.8 -2.4 7.2 -3.6 6.3 -4.1 4.7 -6.2 4.9 -7.3 3.5 -5.8 1.4 -5.8 .3 -7.8 -1.3 -5.8 -2.4 -5.8 -3.8 -5.3 -5.4 -3.8 -5.8 -2.6 -5.8 -1.7 -7.7 -.1 -7.7 1 -5.8 2.9 -7.5 2.5 -4.1 5.2 -5.8 5.6 -3.9 6 -2.6z"/><path fill="#77fa6f" d="M633.6 602.6l5.8 .4 6.4 1.6 7.1 3.6 3.9 3.1 3.9 4.2 3.8 6.4 2 5.7 .7 5.9 -.4 7.8 -1.6 5.8 -2.6 5.4 -3.9 5.3 -5.2 4.7 -6.4 3.7 -5.8 1.9 -5.8 .6 -5.8 -.4 -6.4 -1.9 -6.8 -3.9 -4.2 -3.7 -3.8 -4.9 -3.4 -6.8 -1.6 -5.8 -.6 -5.8 .5 -5.8 1.2 -5.6 3.9 -7.7 3.4 -4.1 4.4 -3.9 7.3 -3.8z"/><path fill="#8efa51" d="M622 614.1l7.7 -1.3 13.6 .3 7.7 2.4 5.7 4.5 3.4 5.8 1.1 5.8 .1 5.8 -1.3 7.8 -1.9 3.8 -3.2 3.5 -2 1.5 -5.8 2.4 -5.8 1.1 -9.6 .3 -5.8 -.5 -5.8 -1.4 -3.9 -2 -3.4 -2.9 -3.5 -5.8 -1.2 -5.8 -.1 -7.8 1.1 -5.8 1.8 -3.8 3.4 -3.9 3.8 -2.6z"/><path fill="#c0fa31" d="M625.9 615.9l7.7 -.6 9.7 .6 5.8 1.8 3.6 2.3 1.9 1.9 2.3 3.9 1.1 3.8 .2 9.7 -.8 3.9 -1.7 3.8 -3.7 3.9 -4.8 2.6 -3.9 .9 -7.7 .6 -7.8 -.3 -5.8 -1.2 -3.8 -1.9 -4.7 -4.6 -1.7 -3.8 -.9 -5.8 .3 -7.8 1.1 -3.8 2.3 -3.9 3.6 -3.2 3.8 -1.8z"/><path fill="#f1ed22" d="M625.9 617.6l7.7 -.7 9.7 .7 5.8 2.1 4.6 4.2 2.3 5.8 .2 9.6 -1.7 5.8 -3.5 4.3 -3.8 2.2 -3.9 1.2 -5.8 .6 -7.7 -.1 -7.8 -1.7 -3.8 -2.2 -2.3 -2.3 -2.1 -3.9 -.8 -3.9 -.1 -7.7 .7 -3.9 1.9 -3.8 2.7 -2.9 3.8 -2.2z"/><path fill="#ff9016" d="M624 619.7l7.7 -1.3 9.7 .4 5.8 1.7 3.9 2.8 2.7 4.5 1 7.7 -.2 3.9 -1 3.8 -2.5 4 -2.2 1.8 -3.6 1.8 -3.9 .9 -5.8 .4 -9.7 -.7 -3.8 -1.4 -3.9 -2.8 -1.9 -2.7 -1.3 -3.2 -.5 -5.8 .4 -5.8 1.4 -3.7 1.3 -2.1 2.5 -2.3z"/><path fill="#ff4b14" d="M629.8 619.9l7.7 -.1 5.8 .8 3.9 1.6 3.8 3.6 2 5.8 -.1 7.7 -1.8 5.1 -3.9 3.7 -3.9 1.7 -3.8 .7 -9.7 -0 -6.1 -1.5 -3.2 -1.9 -2.3 -2.7 -1.4 -3.1 -.6 -3.9 .1 -5.8 1 -3.9 2.6 -3.8 2.2 -1.7 3.8 -1.6z"/><path fill="#fc2313" d="M627.8 621.8l5.8 -.5 7.7 .5 3.9 1.4 3.3 2.6 1.3 1.9 1.2 3.8 .1 5.9 -1.6 5.8 -2.4 2.7 -1.9 1.3 -3.9 1.3 -3.8 .5 -6.8 -0 -6.8 -1.8 -3.8 -3.4 -1.4 -2.6 -.7 -3.8 .6 -7.8 1.5 -3.1 1.9 -2.1z"/><path fill="#f20d11" d="M629.8 623.8l10.3 .1 4.7 1.9 2 2 1.6 3.8 .3 5.8 -1.5 4.8 -3.1 3 -4.6 1.5 -7.8 .3 -5.8 -1.4 -3.8 -3.4 -1.5 -4.8 -0 -3.8 .8 -3.9 1.1 -1.9 1.9 -2z"/><path fill="#e3010f" d="M631.7 629.3l5.8 0 1.9 .6 2.3 1.8 1 1.9 .3 3.8 -.7 2 -1.9 1.9 -4.8 1.3 -3.9 -.3 -2.9 -1 -1.9 -1.9 -.7 -2 .3 -3.8 1.3 -2.4 2 -1.3z"/></g></g><circle cx="634.6" cy="634.5" r="46.5" fill="none" stroke="#444" stroke-width="0.5" opacity="0.7"/><path d="M628.1 586.7l-1.8 1.2M641.1 586.7l1.8 1.2" stroke="#333" stroke-width="0.8" fill="none"/><path d="M586.9 623.8l-1.8 -1.2M586.9 645.2l-1.8 1.2" stroke="#333" stroke-width="0.8" fill="none"/><path d="M682.3 623.8l1.8 -1.2M682.3 645.2l1.8 1.2" stroke="#333" stroke-width="0.8" fill="none"/><g fill="#222" opacity="0.45"><circle cx="623.0" cy="598.2" r=".55"/><circle cx="634.6" cy="598.2" r=".55"/><circle cx="646.2" cy="598.2" r=".55"/><circle cx="617.2" cy="610.3" r=".55"/><circle cx="628.8" cy="610.3" r=".55"/><circle cx="640.4" cy="610.3" r=".55"/><circle cx="652.0" cy="610.3" r=".55"/><circle cx="663.7" cy="610.3" r=".55"/><circle cx="599.7" cy="622.4" r=".55"/><circle cx="611.4" cy="622.4" r=".55"/><circle cx="623.0" cy="622.4" r=".55"/><circle cx="634.6" cy="622.4" r=".55"/><circle cx="646.2" cy="622.4" r=".55"/><circle cx="657.9" cy="622.4" r=".55"/><circle cx="669.5" cy="622.4" r=".55"/><circle cx="605.5" cy="634.5" r=".55"/><circle cx="617.2" cy="634.5" r=".55"/><circle cx="628.8" cy="634.5" r=".55"/><circle cx="640.4" cy="634.5" r=".55"/><circle cx="652.0" cy="634.5" r=".55"/><circle cx="663.7" cy="634.5" r=".55"/><circle cx="675.3" cy="634.5" r=".55"/><circle cx="599.7" cy="646.6" r=".55"/><circle cx="611.4" cy="646.6" r=".55"/><circle cx="623.0" cy="646.6" r=".55"/><circle cx="634.6" cy="646.6" r=".55"/><circle cx="646.2" cy="646.6" r=".55"/><circle cx="657.9" cy="646.6" r=".55"/><circle cx="669.5" cy="646.6" r=".55"/><circle cx="617.2" cy="658.7" r=".55"/><circle cx="628.8" cy="658.7" r=".55"/><circle cx="640.4" cy="658.7" r=".55"/><circle cx="652.0" cy="658.7" r=".55"/><circle cx="663.7" cy="658.7" r=".55"/><circle cx="623.0" cy="670.8" r=".55"/><circle cx="634.6" cy="670.8" r=".55"/><circle cx="646.2" cy="670.8" r=".55"/></g>
<defs><clipPath id="tc5"><circle cx="757.0" cy="634.5" r="46.5"/></clipPath></defs><g clip-path="url(#tc5)"><g filter="url(#tblur)"><circle cx="757.0" cy="634.5" r="48.5" fill="#0f1fec"/><path fill="#152ffa" d="M709.6 585.2l54 0 -.4 3.9 12.1 6.4 5.8 3.7 6.9 5.3 8.6 7.9 1.9 -.2 7.7 -4.1 0 75.7 -98.5 -0 -0 -10.9 11.6 -9.1 .9 -1.3 -.9 -3.8 -3.1 -7.8 -2.3 -11.6 -.1 -11.6 2.1 -13.5 -.5 -1.8 -7.7 -4 -0 -23.2z"/><path fill="#2251fe" d="M746.4 592.6l5.8 -.7 7.7 .6 9.7 3 7.7 4 7.8 5.7 6.9 7.1 4 5.8 3.3 7.7 1.5 7.8 .1 5.8 -1.3 7.7 -4 9.6 -4.1 5.8 -6.4 6.5 -5.8 4 -9.7 4.1 -7.7 1.5 -7.8 -.1 -7.7 -1.5 -7.7 -3.3 -5.8 -3.9 -7.2 -7.3 -4.9 -7.7 -2.9 -7.7 -1.6 -7.7 -.1 -9.7 1.9 -9.7 2.2 -5.8 4.8 -7.7 5.8 -6.2 5.8 -4.1 3.9 -1.9z"/><path fill="#368eff" d="M748.3 594.8l7.7 -.5 7.8 1.2 7.7 2.9 5.8 3.2 7.7 6 5.9 6.6 4.4 7.7 1.9 5.8 .9 7.8 -.7 7.7 -1.7 5.8 -3.8 7.7 -4.9 6.3 -5.8 5 -7.8 4.4 -7.7 2.5 -7.7 .8 -7.8 -.6 -7.7 -2.4 -5.8 -3 -5.8 -4.5 -5.6 -6.5 -4.2 -7.8 -2.4 -7.7 -.9 -7.7 .4 -7.8 1.9 -7.7 3.6 -7.7 5.3 -7 5.8 -4.9 5.8 -3.3z"/><path fill="#47e9ee" d="M748.3 596.7l7.7 -.6 7.8 1.2 7.7 2.9 5.8 3.3 6.2 4.9 5.2 5.8 3.7 5.8 2.8 7.7 .9 7.7 -.9 7.7 -2.6 7.8 -3.2 5.8 -4.4 5.3 -5.8 4.8 -5.8 3.3 -7.7 2.6 -7.7 .9 -7.8 -.7 -7.7 -2.4 -5.8 -3.1 -5.8 -4.8 -4.8 -5.9 -3.2 -5.8 -2.5 -7.8 -1 -7.7 .5 -7.7 2 -7.7 3.2 -6.7 3.9 -5.3 5.8 -5.3 5.8 -3.5z"/><path fill="#50fabe" d="M748.3 598.6l5.8 -.7 7.7 .7 6.6 2.1 7.4 3.8 5.4 4.1 5.8 6.1 3.8 6.2 2.5 6.8 .8 5.8 -.4 7.8 -2.3 7.7 -3 5.8 -4.6 5.8 -4.6 4 -6.3 3.7 -7.2 2.5 -7.7 1 -5.8 -.4 -7.8 -2 -5.8 -2.9 -5.8 -4.4 -4.6 -5.4 -3.4 -5.8 -2.7 -7.7 -1 -7.7 .5 -7.8 1.6 -6.3 3.4 -7.2 4.3 -5.7 4.5 -4 6.5 -3.8z"/><path fill="#64fa91" d="M748.3 600.6l5.8 -.7 5.8 .4 5.8 1.4 6.5 2.9 5.8 3.9 6.2 5.8 4 5.8 2.6 5.9 1.4 7.6 -.2 5.8 -1.2 5.8 -2.4 5.8 -3.8 5.8 -5.4 5.3 -5.8 3.8 -5.9 2.5 -7.6 1.4 -5.8 -.1 -5.8 -1 -6 -2.3 -6.1 -3.8 -5.3 -5.2 -3.9 -5.8 -2.6 -6.4 -1.5 -7.8 .2 -7.7 1.8 -7.7 2.1 -4.8 3.9 -5.8 5.1 -4.9 6.3 -3.8z"/><path fill="#77fa6f" d="M750.2 602.6l9.7 .1 6.4 1.9 7.3 3.8 5.6 4.3 3.9 3.9 3.8 5.9 2 5.3 .9 5.8 -.4 7.7 -1.7 5.8 -2.7 5.4 -3.9 4.8 -3.8 3.5 -6.3 3.7 -5.3 2 -7.8 1 -5.8 -.4 -5.8 -1.5 -5.8 -2.8 -5.8 -4.4 -3.8 -4.6 -2.7 -4.8 -2 -5.8 -1.1 -5.8 -0 -6 1.5 -7.5 2.3 -5.6 3.9 -5.6 4.4 -4.3 6.5 -3.8z"/><path fill="#8efa51" d="M752.2 612.3l13.5 .2 5.8 1.3 3.9 1.9 3.4 2.4 4.6 5.8 1.5 3.9 1 5.8 .1 5.8 -.9 5.8 -1.4 3.8 -2.5 3.9 -5.8 4.8 -5.8 2.1 -3.9 .6 -11.6 .2 -7.7 -.7 -5.8 -2.1 -3.9 -2.6 -2.2 -2.3 -2.5 -3.9 -1.9 -5.8 -.5 -9.6 .7 -5.8 2.4 -5.8 4 -4.8 3.9 -2.4 5.8 -1.9z"/><path fill="#c0fa31" d="M746.4 616l9.7 -1.1 11.6 .7 5.8 2 5.3 4.4 2.3 3.8 1.2 3.9 .5 9.7 -.5 3.8 -1.2 3.9 -1.8 3.2 -2.4 2.6 -3.4 2.3 -5.8 1.9 -5.8 .8 -7.8 -0 -5.8 -.6 -3.8 -1.1 -3.9 -1.8 -3.9 -3.4 -2.4 -3.9 -1.1 -3.9 -.5 -7.7 .9 -7.7 1.6 -3.9 3.2 -3.9 4.1 -2.7z"/><path fill="#f1ed22" d="M746.4 617.9l7.7 -1.2 11.6 .4 5.8 1.7 3.9 2.5 1.9 2 1.6 2.5 1.4 3.9 .4 9.7 -.5 3.8 -1.3 3.9 -3.5 4.4 -3.9 2.5 -3.8 1.3 -5.8 .8 -7.8 0 -5.8 -.7 -3.8 -1.2 -3.9 -2.2 -1.9 -1.9 -2.1 -3 -1.4 -3.9 -.5 -5.8 .5 -7.7 1.3 -3.9 2.8 -3.8 3.2 -2.5z"/><path fill="#ff9016" d="M746.4 619.6l7.7 -1.4 9.7 .2 6.4 1.7 3.3 1.8 2 2 1.8 2.8 1.1 3 .6 9.7 -1.7 6.7 -1.9 2.9 -1.9 1.9 -3.9 2.1 -3.9 1.1 -11.6 .5 -7.7 -1.4 -3.9 -1.9 -2.4 -2.3 -2.4 -3.8 -1 -3.9 -.3 -5.8 .6 -5.8 1.6 -3.8 1.3 -2 2.6 -2.3z"/><path fill="#ff4b14" d="M752.2 619.9l9.7 -.1 5.8 1.1 5.4 3 2.3 3 1.1 2.8 .7 3.9 -.2 7.7 -2.4 5.8 -1.7 1.9 -2.8 2 -6.7 1.9 -11.2 0 -6.8 -1.9 -2.9 -1.9 -1.9 -2.3 -1.7 -3.6 -.6 -3.8 .2 -7.8 1.1 -3.8 2.8 -3.9 2.1 -1.5 3.8 -1.7z"/><path fill="#fc2313" d="M752.2 621.6l7.7 -.2 5.8 .7 4.2 1.7 3.6 3.7 1.7 6 -.3 7.7 -1.4 4 -3.8 3.8 -5.9 2 -11.6 .1 -6.4 -2.1 -3.8 -3.9 -1.7 -5.8 -0 -5.8 .7 -3.9 1.5 -2.8 3.1 -3z"/><path fill="#f20d11" d="M754.1 623.8l7.7 0 3.9 1 3.9 2.4 1.8 2.5 1.1 5.8 -.4 5.8 -2 3.8 -2.5 2.1 -5.8 1.8 -8 0 -6.2 -1.9 -3.2 -3.2 -1.1 -2.6 -.5 -3.9 .2 -3.9 1 -3.8 1.3 -2 2.2 -1.9z"/><path fill="#e3010f" d="M752.2 631.1l1.9 -.8 3.9 -.5 3.9 .7 2.2 1.1 1.6 1.9 .6 2 -0 3.8 -1 2 -2.4 1.9 -3 .7 -3.8 .1 -3.9 -1 -2.1 -1.7 -1.2 -3.9 .9 -3.9z"/></g></g><circle cx="757.0" cy="634.5" r="46.5" fill="none" stroke="#444" stroke-width="0.5" opacity="0.7"/><path d="M750.5 586.7l-1.8 1.2M763.5 586.7l1.8 1.2" stroke="#333" stroke-width="0.8" fill="none"/><path d="M709.3 623.8l-1.8 -1.2M709.3 645.2l-1.8 1.2" stroke="#333" stroke-width="0.8" fill="none"/><path d="M804.7 623.8l1.8 -1.2M804.7 645.2l1.8 1.2" stroke="#333" stroke-width="0.8" fill="none"/><g fill="#222" opacity="0.45"><circle cx="745.4" cy="598.2" r=".55"/><circle cx="757.0" cy="598.2" r=".55"/><circle cx="768.6" cy="598.2" r=".55"/><circle cx="739.6" cy="610.3" r=".55"/><circle cx="751.2" cy="610.3" r=".55"/><circle cx="762.8" cy="610.3" r=".55"/><circle cx="774.4" cy="610.3" r=".55"/><circle cx="786.1" cy="610.3" r=".55"/><circle cx="722.1" cy="622.4" r=".55"/><circle cx="733.8" cy="622.4" r=".55"/><circle cx="745.4" cy="622.4" r=".55"/><circle cx="757.0" cy="622.4" r=".55"/><circle cx="768.6" cy="622.4" r=".55"/><circle cx="780.2" cy="622.4" r=".55"/><circle cx="791.9" cy="622.4" r=".55"/><circle cx="727.9" cy="634.5" r=".55"/><circle cx="739.6" cy="634.5" r=".55"/><circle cx="751.2" cy="634.5" r=".55"/><circle cx="762.8" cy="634.5" r=".55"/><circle cx="774.4" cy="634.5" r=".55"/><circle cx="786.1" cy="634.5" r=".55"/><circle cx="797.7" cy="634.5" r=".55"/><circle cx="722.1" cy="646.6" r=".55"/><circle cx="733.8" cy="646.6" r=".55"/><circle cx="745.4" cy="646.6" r=".55"/><circle cx="757.0" cy="646.6" r=".55"/><circle cx="768.6" cy="646.6" r=".55"/><circle cx="780.2" cy="646.6" r=".55"/><circle cx="791.9" cy="646.6" r=".55"/><circle cx="739.6" cy="658.7" r=".55"/><circle cx="751.2" cy="658.7" r=".55"/><circle cx="762.8" cy="658.7" r=".55"/><circle cx="774.4" cy="658.7" r=".55"/><circle cx="786.1" cy="658.7" r=".55"/><circle cx="745.4" cy="670.8" r=".55"/><circle cx="757.0" cy="670.8" r=".55"/><circle cx="768.6" cy="670.8" r=".55"/></g>
<defs><clipPath id="tc6"><circle cx="877.5" cy="634.5" r="46.5"/></clipPath></defs><g clip-path="url(#tc6)"><g filter="url(#tblur)"><circle cx="877.5" cy="634.5" r="48.5" fill="#0b17e4"/><path fill="#1022ef" d="M830.1 585.2l67.6 0 -2.8 7.7 .6 2 2.8 3.8 5.8 5.8 13 9.3 1.9 0 7.7 -3.8 0 73.8 -98.5 -0 -0 -98.6z"/><path fill="#152ffa" d="M830.1 585.2l62.4 0 -1.7 5.8 .5 1.9 6 7.8 15.7 13.5 7.9 7.8 5.8 -1.1 0 62.9 -98.5 -0 -0 -10.9 11.6 -9.1 .9 -1.3 -.9 -3.8 -3.1 -7.8 -2.3 -11.6 -.1 -11.6 1.6 -9.6 0 -3.9 -7.7 -3.9 -0 -25.1z"/><path fill="#2251fe" d="M832.1 585.2l55.9 0 -.8 5.8 1 1.9 8.7 9.7 17.2 15.5 4 5.8 2.3 5.8 .9 5.8 .1 3.8 -1.9 9.7 -3.4 7.7 -4.1 5.8 -4.5 4.8 -7.7 5.7 -7.8 3.4 -9.6 2.1 -5.8 .2 -9.7 -1.7 -5.8 -2.3 -7.7 -4.9 -5.6 -5.3 -4.3 -5.8 -3.8 -7.8 -2.3 -7.7 -.9 -7.7 .4 -7.8 1.7 -7.7 2.1 -5.8 4.8 -9.7 .6 -1.9 -.3 -1.9 -14.4 -15.5z"/><path fill="#368eff" d="M845.6 585.2l37.8 0 -.5 3.9 .6 1.9 1.5 1.9 11.6 11.6 13.3 11.6 4.7 5.8 2.6 5.8 1.2 5.8 -.2 7.8 -1.3 5.8 -2.4 5.8 -3.5 5.8 -5 5.8 -6.3 4.9 -7.7 3.8 -7.7 2 -7.8 .5 -7.7 -1.1 -7.7 -2.8 -5.8 -3.5 -5.8 -5.1 -4.9 -6.5 -3.7 -7.7 -1.7 -5.8 -.9 -7.7 .4 -7.8 1.3 -5.8 2.1 -5.8 2.9 -5.8 6.2 -9.6 1.4 -3.9z"/><path fill="#47e9ee" d="M855.3 585.2l22.8 0 0 3.9 1.2 1.9 28.3 25.1 3.8 4.2 3.1 5.5 1.7 5.8 .3 5.8 -.7 5.8 -2.6 7.7 -3.3 5.8 -4.3 5.3 -5.8 4.9 -5.8 3.2 -7.8 2.7 -5.8 .8 -7.7 -.3 -7.7 -1.9 -7.8 -4 -5.8 -4.8 -4.8 -5.9 -3.1 -5.8 -2.1 -5.8 -1.1 -5.8 -.3 -7.7 .8 -5.8 1.6 -5.8 3.2 -7 12.6 -18.1 .4 -2z"/><path fill="#50fabe" d="M866.9 591.8l3.9 -.7 3.8 .9 3.9 1.9 5.8 4 23.2 20.6 4.1 5.4 2.3 5.8 .8 5.8 -.8 7.7 -1.9 5.8 -3 5.8 -4.6 5.8 -4.6 4 -6.4 3.8 -7.2 2.5 -7.7 .9 -5.8 -.3 -7.7 -2.1 -5.8 -2.8 -5.8 -4.5 -4.7 -5.3 -3.4 -5.8 -2.7 -7.8 -.9 -5.8 .1 -7.7 1.7 -7.7 2.1 -5.2 3.9 -6.5 5.8 -7.4 5.8 -6.3z"/><path fill="#64fa91" d="M866.9 595.9l3.9 -1 3.8 .3 3.9 1.4 3.9 2.3 6.3 5.6 6.6 7.7 8.3 5.7 3.9 3.5 2.9 4.4 1.5 3.8 .8 5.8 -.4 5.8 -1.5 5.8 -2.7 5.8 -4.3 5.8 -4 3.7 -5.8 3.6 -5.9 2.4 -7.7 1.4 -5.8 -0 -6.9 -1.4 -6.6 -2.8 -5.8 -4.1 -3.9 -4 -3.8 -5.9 -2.6 -6.4 -1.3 -5.8 -.3 -7.7 1.4 -7.8 2.2 -5.8 3.4 -5.8 4.9 -6.3 5.8 -6z"/><path fill="#77fa6f" d="M868.8 598.3l5.8 -.2 6 2.6 3.9 3.9 1.1 3.8 3.2 3.9 4.9 3.9 11.8 7.5 2 2 2 4 .9 5.8 -.3 5.8 -1.5 5.8 -2.6 5.8 -4.3 5.4 -3.9 3.1 -5.8 3.2 -5.8 1.9 -7.7 1 -5.8 -.4 -5.8 -1.4 -5.8 -2.7 -5.8 -4.3 -3.3 -3.9 -2.5 -4.2 -2.7 -7.4 -1.1 -5.8 -.1 -5.8 1.6 -7.7 2.3 -5.7 3.8 -6.2 6.4 -7.4 5.2 -4.4z"/><path fill="#8efa51" d="M868.8 602l3.9 -.6 1.9 .4 1.7 .8 .2 1.9 -3.8 1.8 -5.8 1.4 -2 .1 -1.7 -1.3 1.7 -2.1zM868.8 617.6l9.7 -.8 9.6 .7 7.8 3.1 4.6 3.2 3.7 3.9 2.1 3.9 1 3.8 .2 5.8 -.6 3.9 -1.1 3.9 -1.9 3.8 -2.2 2.9 -3.9 3.4 -3.9 2.1 -5.8 1.8 -5.8 .7 -9.6 -.3 -5.8 -1.1 -3.9 -1.5 -3.9 -2.3 -3.7 -3.7 -2.9 -5.8 -.8 -3.9 -.2 -9.7 1.2 -5.8 2 -3.8 4.4 -4.4 3.9 -2.1z"/><path fill="#c0fa31" d="M872.7 620l9.7 -.3 7.7 .8 5.8 2.4 5.4 4.9 2.1 3.8 1 3.9 .1 9.7 -1.7 5.8 -2.7 3.8 -2.3 2.1 -3.8 2.1 -3.9 1.2 -5.8 .7 -9.7 0 -5.8 -.8 -3.8 -1.2 -3.9 -2.3 -3.6 -3.7 -1.9 -3.9 -1 -5.8 .1 -7.7 1.6 -5.8 2.7 -3.8 4 -3.2 3.9 -1.6z"/><path fill="#f1ed22" d="M872.7 621.6l9.7 -.3 7.7 1 5.8 2.6 4.5 4.7 2 5.8 0 9.7 -1.8 5.8 -1.3 1.9 -3.4 3.1 -3.9 1.9 -5.8 1.2 -13.5 -0 -7.7 -2.2 -3.1 -2 -2.7 -3.1 -2 -4.7 -.6 -3.8 0 -5.8 1.2 -5.8 2.2 -3.9 3 -2.8 3.9 -1.9z"/><path fill="#ff9016" d="M870.7 623.5l7.7 -.7 9.7 .6 5.8 2.1 3.9 3.4 1.6 2.7 1.1 3.9 .3 7.7 -1.3 5.8 -3.7 4.8 -3.8 2.3 -3.9 1.2 -5.8 .6 -7.7 -.1 -7.8 -1.8 -3.8 -2.5 -2 -2.1 -2.1 -4.3 -.6 -3.9 0 -5.8 .8 -4.3 1.6 -3.4 2.3 -2.5 3.8 -2.5z"/><path fill="#ff4b14" d="M868.8 625.6l7.7 -1.4 9.7 .4 5.8 1.7 3.9 2.9 2.4 4.3 .8 7.7 -.8 5.8 -2.4 4.4 -2 1.7 -3.8 2 -7.8 1.3 -9.6 -.5 -3.9 -.9 -3.9 -2.2 -2 -1.9 -2.1 -3.9 -.7 -5.8 .3 -5.8 .7 -2.4 1.8 -3.4 2 -1.9z"/><path fill="#fc2313" d="M868.8 627.6l5.8 -1.5 9.7 -0 5.8 1.4 3.4 2.2 2.7 3.8 .9 5.8 -.4 5.8 -.8 2.7 -2 2.8 -3.1 2.3 -2.7 1 -7.7 .9 -5.8 -.2 -3.9 -.8 -2.3 -.9 -2.8 -2 -1.6 -1.9 -1.6 -3.9 -.2 -7.7 .8 -3.9 1.1 -1.9 1.6 -1.9z"/><path fill="#f20d11" d="M870.7 629.5l5.8 -1.2 5.8 -.1 5.8 1.2 3.5 2.2 2.3 3.8 .5 4 -.4 5.8 -2.2 3.8 -3.7 2.4 -7.7 1.2 -7.8 -.7 -2.6 -.9 -2.6 -2 -1.4 -1.9 -1.1 -3 -.1 -6.7 2 -5z"/><path fill="#e3010f" d="M874.6 634.9l5.8 -.9 3.9 .8 1.9 1.1 2.1 3.4 -.1 3.9 -1.1 1.9 -2.5 2 -4.2 .7 -5.8 -.7 -1.9 -1.3 -1.7 -2.6 -.1 -3.9 1.8 -3.1z"/></g></g><circle cx="877.5" cy="634.5" r="46.5" fill="none" stroke="#444" stroke-width="0.5" opacity="0.7"/><path d="M871.0 586.7l-1.8 1.2M884.0 586.7l1.8 1.2" stroke="#333" stroke-width="0.8" fill="none"/><path d="M829.8 623.8l-1.8 -1.2M829.8 645.2l-1.8 1.2" stroke="#333" stroke-width="0.8" fill="none"/><path d="M925.2 623.8l1.8 -1.2M925.2 645.2l1.8 1.2" stroke="#333" stroke-width="0.8" fill="none"/><g fill="#222" opacity="0.45"><circle cx="865.9" cy="598.2" r=".55"/><circle cx="877.5" cy="598.2" r=".55"/><circle cx="889.1" cy="598.2" r=".55"/><circle cx="860.1" cy="610.3" r=".55"/><circle cx="871.7" cy="610.3" r=".55"/><circle cx="883.3" cy="610.3" r=".55"/><circle cx="894.9" cy="610.3" r=".55"/><circle cx="906.6" cy="610.3" r=".55"/><circle cx="842.6" cy="622.4" r=".55"/><circle cx="854.2" cy="622.4" r=".55"/><circle cx="865.9" cy="622.4" r=".55"/><circle cx="877.5" cy="622.4" r=".55"/><circle cx="889.1" cy="622.4" r=".55"/><circle cx="900.8" cy="622.4" r=".55"/><circle cx="912.4" cy="622.4" r=".55"/><circle cx="848.4" cy="634.5" r=".55"/><circle cx="860.1" cy="634.5" r=".55"/><circle cx="871.7" cy="634.5" r=".55"/><circle cx="883.3" cy="634.5" r=".55"/><circle cx="894.9" cy="634.5" r=".55"/><circle cx="906.6" cy="634.5" r=".55"/><circle cx="918.2" cy="634.5" r=".55"/><circle cx="842.6" cy="646.6" r=".55"/><circle cx="854.2" cy="646.6" r=".55"/><circle cx="865.9" cy="646.6" r=".55"/><circle cx="877.5" cy="646.6" r=".55"/><circle cx="889.1" cy="646.6" r=".55"/><circle cx="900.8" cy="646.6" r=".55"/><circle cx="912.4" cy="646.6" r=".55"/><circle cx="860.1" cy="658.7" r=".55"/><circle cx="871.7" cy="658.7" r=".55"/><circle cx="883.3" cy="658.7" r=".55"/><circle cx="894.9" cy="658.7" r=".55"/><circle cx="906.6" cy="658.7" r=".55"/><circle cx="865.9" cy="670.8" r=".55"/><circle cx="877.5" cy="670.8" r=".55"/><circle cx="889.1" cy="670.8" r=".55"/></g>
<defs><clipPath id="tc7"><circle cx="996.0" cy="634.5" r="46.5"/></clipPath></defs><g clip-path="url(#tc7)"><g filter="url(#tblur)"><circle cx="996.0" cy="634.5" r="48.5" fill="#0b17e4"/><path fill="#1022ef" d="M948.6 585.2l70 0 -3.5 7.7 .1 2 1.8 3.8 4.1 5.8 5.7 5.8 10.7 8.9 1.9 .7 5.8 -1.9 0 65.8 -98.5 -0 -0 -98.6z"/><path fill="#152ffa" d="M948.6 585.2l65 0 -2 5.8 -.1 1.9 1.8 3.9 4 5.8 5 5.8 12.2 11.6 4.9 6.2 2 1.6 3.8 -.6 0 56.6 -98.5 -0 -0 -10.9 11.6 -9.1 .9 -1.3 -.9 -3.8 -3.1 -7.8 -1.9 -7.7 -.7 -9.7 .2 -13.5 -.3 -1.1 -5.8 -2.1 -0 -31.6z"/><path fill="#2251fe" d="M948.6 585.2l60.4 0 -1.3 5.8 1.8 3.9 8.9 11.6 15.2 15.4 3.4 5.8 1.9 5.8 .2 9.7 -.6 3.9 -2 5.8 -2 3.8 -4.1 5.8 -4.5 4.8 -5.8 4.4 -5.8 3.3 -7.7 2.5 -9.7 1.2 -9.6 -1.2 -5.8 -2 -7.8 -4.2 -5.8 -5 -3.8 -4.5 -3.3 -5.1 -3.4 -7.7 -1.5 -5.8 -.8 -5.8 -0 -7.7 .7 -5.8 2.9 -11.6 .3 -3.9 -.7 -1.2 -11.6 -8.4 -0 -13.6z"/><path fill="#368eff" d="M948.6 585.2l55.8 0 -.6 3.9 .2 1.9 1.2 1.9 13 15.7 13.2 13.3 2.5 3.9 2.2 5.8 .6 7.7 -2 9.7 -3.9 7.7 -6.4 7.8 -6.2 4.9 -7.7 3.8 -7.8 2 -7.7 .5 -7.7 -1.1 -7.8 -2.8 -5.8 -3.5 -5.8 -5.1 -4.9 -6.5 -2.9 -5.8 -2.4 -7.7 -.8 -5.8 0 -7.7 .9 -5.8 1.5 -5.8 4.2 -11.6 .7 -3.9 -16.6 -17.4z"/><path fill="#47e9ee" d="M960.2 585.2l39.3 0 -.3 3.9 .9 1.9 8.4 8.7 9.7 11.6 9.4 8.7 3.1 3.9 2.8 5.8 1.2 5.8 -.2 5.8 -1.4 5.8 -2.4 5.8 -3.8 5.8 -3.4 3.8 -5.3 4.4 -5.8 3.2 -7.7 2.7 -7.8 .9 -7.7 -.7 -7.7 -2.4 -5.8 -3.2 -5.8 -4.8 -3.9 -4.6 -3.9 -6.6 -2.3 -6.3 -1.1 -5.8 -.3 -7.7 .7 -5.8 1.5 -5.8 7.5 -17.4 .9 -3.9 -.8 -1.9 -8.5 -11.6z"/><path fill="#50fabe" d="M971.8 585.2l21.4 0 .2 3.9 1.6 1.9 7.7 5.7 3.9 3.5 3.7 4.3 6 8.4 9.6 8 2.6 3 2.3 3.8 1.8 5.8 .2 5.8 -1.1 5.8 -1.9 5.3 -3.7 6.3 -3.3 3.9 -4.6 4 -5.8 3.5 -5.8 2.2 -7.7 1.4 -7.8 -.3 -5.8 -1.3 -7.7 -3.6 -5.3 -4 -4.4 -4.7 -3.8 -6.2 -2 -4.6 -1.5 -5.7 -.6 -5.8 .2 -5.8 1.6 -7.8 2.1 -5.8 9.3 -17.4 1.6 -3.8 -4.7 -9.7z"/><path fill="#64fa91" d="M987.3 592.8l3.9 .5 3.8 1.3 3.9 2 5.3 4.1 3.4 3.9 2.5 5.8 2.6 3.8 4.2 3.9 9.1 5.9 2.6 3.8 1.6 3.8 .7 5.8 -.7 5.8 -1.8 5.8 -3.2 5.8 -4.9 5.8 -4 3.2 -5.8 3.1 -5.8 2 -7.7 1 -5.8 -.4 -7.8 -2.1 -5.8 -3 -4.8 -3.8 -4.8 -5.8 -3.9 -7.6 -1.6 -5.9 -.7 -5.8 .5 -7.7 1.8 -7.1 3.7 -8.4 4 -6.7 5.8 -7.6 5.8 -4.4z"/><path fill="#77fa6f" d="M987.3 596.4l5.8 .4 3.9 1.6 3.5 2.2 3.3 3.9 .1 3.9 1.6 3.8 3.9 3.9 8.1 5.8 8.5 7 1.9 3.8 .6 4.7 -.6 5.8 -1.8 5.8 -3.1 5.8 -3.2 3.8 -3.5 3 -3.9 2.3 -5.8 2.3 -7.7 1.3 -5.8 -0 -5.8 -1 -5.8 -2.2 -5.8 -3.7 -3.8 -3.9 -3.8 -5.8 -2.3 -5.8 -1.6 -7.7 -.1 -5.8 1.9 -9.6 2 -4.9 3.8 -7.3 5.8 -7.8 3.9 -3.3z"/><path fill="#8efa51" d="M985.4 600.5l3.9 -.7 4.7 .9 2.7 1.9 -.1 1.9 -5.4 2.5 -11.6 3.9 -1.9 .5 -1.4 -1.1 .7 -1.9 2.7 -3.9 2.1 -1.9zM985.4 617.9l3.9 -.9 5.8 -.3 9.6 .8 3.9 1.3 5.8 3.4 4.3 3.6 2.9 3.9 1.9 3.9 .8 3.8 .3 3.9 -.5 5.8 -1.3 3.9 -2.1 3.8 -2.4 2.9 -3.6 2.9 -4.2 2.2 -5.8 1.6 -7.7 .6 -7.7 -.5 -5.8 -1.7 -3.9 -1.9 -2.8 -2.2 -3.3 -3.9 -2.5 -5.8 -.7 -3.8 -.2 -7.8 .8 -5.8 1.4 -3.8 3.4 -4.7 5.8 -4z"/><path fill="#c0fa31" d="M991.2 619.8l9.7 -.2 7.7 1.3 5.8 3.4 4.8 5.4 1.6 3.9 .7 3.8 .1 5.8 -.6 5.8 -2.7 5.8 -2 2.3 -3.8 2.7 -3.9 1.6 -3.9 .8 -7.7 .3 -7.7 -.4 -3.9 -1 -3.9 -1.7 -3.3 -2.6 -2.8 -3.9 -1.5 -3.9 -.7 -5.8 .2 -7.7 1.6 -5.8 2.6 -3.8 3.9 -3.2 3.9 -1.8z"/><path fill="#f1ed22" d="M989.2 621.8l9.7 -.6 7.7 .8 5.8 2.7 4.7 4.9 1.7 3.9 .7 3.9 -.2 9.6 -2.1 5.8 -1.4 2 -3.4 2.8 -3.9 1.8 -3.8 .9 -5.8 .5 -7.8 -.3 -3.8 -.7 -3.9 -1.6 -3.9 -2.8 -1.9 -2.6 -1.7 -3.8 -.8 -5.8 0 -5.8 1.3 -5.8 2.1 -3.9 3 -2.8 3.8 -2.1z"/><path fill="#ff9016" d="M989.2 623.4l9.7 -.6 7.7 .9 4.8 2.1 3.8 3.9 2.3 5.8 .3 9.6 -1.6 5.8 -3.8 4.7 -3.9 2.1 -3.8 1.1 -11.6 .4 -7.8 -1.8 -3.8 -2.5 -1.9 -2 -1.9 -3.9 -.8 -3.9 -0 -7.7 .7 -3.9 1.7 -3.8 2.2 -2.6 3.8 -2.4z"/><path fill="#ff4b14" d="M987.3 625.6l5.8 -1.2 9.7 .1 5.8 1.6 3.8 2.7 2.9 4.7 1 7.8 -.2 3.8 -.9 3.9 -2.8 4.3 -1.9 1.6 -3.9 1.8 -3.8 .8 -5.8 .2 -8.8 -1 -4.1 -1.9 -2.2 -1.9 -1.4 -2 -1.5 -3.8 -.5 -5.8 .4 -5.8 .7 -2.4 1.9 -3.5 1.9 -1.9z"/><path fill="#fc2313" d="M987.3 627.6l5.8 -1.4 7.7 -.1 5.8 1.2 4 2.4 1.8 2.2 1.5 3.6 .5 5.8 -.7 5.8 -1.3 3 -1.9 2.3 -3.8 2.4 -2 .6 -9.7 .6 -6.8 -1.2 -4.8 -3.2 -1.7 -2.6 -1.1 -3.9 -0 -7.7 .9 -3.9 1.1 -1.9 1.6 -1.9z"/><path fill="#f20d11" d="M989.2 629.5l5.8 -1.1 5.8 .1 5 1.1 2.9 2 2.4 3.8 .7 5.8 -.8 5.8 -2.5 3.7 -3.6 2.1 -2.2 .5 -7.7 .4 -5.8 -1.2 -3.9 -2.8 -2.1 -4.6 -.1 -7.7 2.2 -5z"/><path fill="#e3010f" d="M993.1 634.7l5.8 -.6 3.9 1 1.9 1.5 1.5 2.7 .4 1.9 -.7 3.9 -1.4 1.9 -3.7 1.9 -3.8 .3 -3.9 -.6 -2.7 -1.6 -1.5 -1.9 -.5 -1.9 .2 -3.9 .8 -1.9 1.8 -1.8z"/></g></g><circle cx="996.0" cy="634.5" r="46.5" fill="none" stroke="#444" stroke-width="0.5" opacity="0.7"/><path d="M989.5 586.7l-1.8 1.2M1002.5 586.7l1.8 1.2" stroke="#333" stroke-width="0.8" fill="none"/><path d="M948.3 623.8l-1.8 -1.2M948.3 645.2l-1.8 1.2" stroke="#333" stroke-width="0.8" fill="none"/><path d="M1043.7 623.8l1.8 -1.2M1043.7 645.2l1.8 1.2" stroke="#333" stroke-width="0.8" fill="none"/><g fill="#222" opacity="0.45"><circle cx="984.4" cy="598.2" r=".55"/><circle cx="996.0" cy="598.2" r=".55"/><circle cx="1007.6" cy="598.2" r=".55"/><circle cx="978.6" cy="610.3" r=".55"/><circle cx="990.2" cy="610.3" r=".55"/><circle cx="1001.8" cy="610.3" r=".55"/><circle cx="1013.4" cy="610.3" r=".55"/><circle cx="1025.1" cy="610.3" r=".55"/><circle cx="961.1" cy="622.4" r=".55"/><circle cx="972.8" cy="622.4" r=".55"/><circle cx="984.4" cy="622.4" r=".55"/><circle cx="996.0" cy="622.4" r=".55"/><circle cx="1007.6" cy="622.4" r=".55"/><circle cx="1019.2" cy="622.4" r=".55"/><circle cx="1030.9" cy="622.4" r=".55"/><circle cx="966.9" cy="634.5" r=".55"/><circle cx="978.6" cy="634.5" r=".55"/><circle cx="990.2" cy="634.5" r=".55"/><circle cx="1001.8" cy="634.5" r=".55"/><circle cx="1013.4" cy="634.5" r=".55"/><circle cx="1025.1" cy="634.5" r=".55"/><circle cx="1036.7" cy="634.5" r=".55"/><circle cx="961.1" cy="646.6" r=".55"/><circle cx="972.8" cy="646.6" r=".55"/><circle cx="984.4" cy="646.6" r=".55"/><circle cx="996.0" cy="646.6" r=".55"/><circle cx="1007.6" cy="646.6" r=".55"/><circle cx="1019.2" cy="646.6" r=".55"/><circle cx="1030.9" cy="646.6" r=".55"/><circle cx="978.6" cy="658.7" r=".55"/><circle cx="990.2" cy="658.7" r=".55"/><circle cx="1001.8" cy="658.7" r=".55"/><circle cx="1013.4" cy="658.7" r=".55"/><circle cx="1025.1" cy="658.7" r=".55"/><circle cx="984.4" cy="670.8" r=".55"/><circle cx="996.0" cy="670.8" r=".55"/><circle cx="1007.6" cy="670.8" r=".55"/></g>
<defs><clipPath id="tc8"><circle cx="1110.0" cy="634.5" r="46.5"/></clipPath></defs><g clip-path="url(#tc8)"><g filter="url(#tblur)"><circle cx="1110.0" cy="634.5" r="48.5" fill="#0b17e4"/><path fill="#1022ef" d="M1062.6 585.2l77.7 0 -6 9.7 -.6 1.9 1 3.9 1.8 3.8 5.4 7.5 9.6 8.6 1.9 1 5.8 -1.5 0 63.7 -98.5 -0 -0 -98.6z"/><path fill="#152ffa" d="M1062.6 585.2l72.2 0 -4.4 9.7 1.2 3.8 2.8 5.8 5.4 7.8 9.5 9.6 4.1 5.3 2 1.6 3.8 -.4 0 55.4 -98.5 -0 -0 -98.6z"/><path fill="#2251fe" d="M1062.6 585.2l67.1 0 -2.8 7.7 1.4 3.9 7.9 13.5 10.6 11.6 2.8 3.9 2.7 5.8 .8 3.9 -.2 9.6 -2.4 7.8 -2 3.8 -4 5.8 -4.6 4.8 -7.7 5.7 -9.7 4.1 -7.7 1.4 -7.7 0 -7.8 -1.4 -9.6 -4.2 -7.8 -5.4 -11.6 -11.5 -1.9 -.5 -7.7 3.9 -0 -74.2z"/><path fill="#368eff" d="M1062.6 585.2l62 0 -1.6 5.8 .4 1.9 12.3 19.4 10.5 11.6 2.3 3.8 1.9 5.8 .1 7.8 -1.8 7.7 -3.9 7.7 -6.4 7.8 -6.2 4.9 -7.7 3.8 -7.8 2 -7.7 .5 -7.7 -1 -7.8 -2.8 -7.7 -4.5 -5.8 -5.1 -4.8 -5.6 -3.8 -5.8 -3.5 -7.7 -1.1 -3.9 -.9 -5.8 .1 -3.8 1.1 -5.8 3.5 -11.6 -.3 -1.3 -.9 -.7 -8.7 -5.2 -0 -19.9z"/><path fill="#47e9ee" d="M1062.6 585.2l56.5 0 -.7 3.9 .2 1.9 7.8 10 7.7 12.2 10 10.7 2.4 3.8 1.5 3.9 .7 7.7 -1.6 7.8 -3.5 7.7 -6.1 7.7 -5.3 4.4 -7.7 4.1 -7.8 2.1 -7.7 .5 -7.7 -1 -7.8 -2.8 -5.8 -3.4 -6.7 -5.8 -4.6 -5.8 -3.4 -5.8 -2.3 -5.8 -1.5 -7.7 .2 -5.8 1.1 -5.8 7 -17.4 .9 -3.9 -1.2 -1.9 -15 -15.5z"/><path fill="#50fabe" d="M1078.1 585.2l34.6 0 -.2 3.9 1.2 1.9 10.2 9.7 2.8 3.8 5.5 10.3 7.8 7 3.8 4.6 2 4 1 5.1 -.2 5.8 -1.4 5.8 -2.6 5.8 -4 5.8 -3.8 3.8 -4.5 3.5 -5.8 3 -7.7 2.2 -7.8 .6 -7.7 -1.1 -7.7 -2.8 -5.8 -3.6 -5.8 -5.3 -4.7 -6.1 -3 -5.8 -2 -5.8 -.9 -5.8 .2 -5.8 2.5 -9.7 9.7 -19.3 .8 -3.9 -7.7 -11.6z"/><path fill="#64fa91" d="M1093.6 585.2l8.3 0 .5 3.9 2.8 1.9 7.7 3.3 6.4 4.4 5.2 6.2 1.6 3.5 .8 3.9 1.9 3.8 3.7 3.9 7.5 4.9 1.9 2.3 2 3.7 1 4.6 -.3 5.8 -1.5 5.8 -2.7 5.8 -4.2 5.8 -3.9 3.7 -3.9 2.7 -5.8 2.7 -7.7 1.9 -7.8 .1 -7.7 -1.5 -5.8 -2.3 -5.5 -3.5 -4.2 -3.8 -4.4 -5.8 -3.9 -7.8 -1.3 -4.4 -.8 -5.2 .3 -5.8 1.3 -5.8 3 -7.8 3.9 -7.1 5.8 -8.7 6 -7.4 .3 -1.9 -2.2 -5.8z"/><path fill="#77fa6f" d="M1097.4 596.3l3.9 -1.1 5.8 .2 5.8 2 4.9 3.3 3.3 3.8 .6 2 -.5 3.8 1.4 3.9 3.4 3.9 10.1 8.9 3.8 2.8 2 3.4 .5 4.2 -.5 5.8 -2 5.8 -1.9 3.9 -2.7 3.8 -3.6 3.9 -3.4 2.5 -5.8 2.8 -5.8 1.6 -7.7 .5 -7.7 -1 -5.8 -1.9 -5.8 -3.2 -5.4 -5.2 -3.8 -5.8 -2.7 -5.8 -1.6 -5.8 -.5 -5.8 .4 -4.7 2 -6.9 3.8 -8.1 5.8 -9 3.9 -4.4z"/><path fill="#8efa51" d="M1103.2 598.6l3.9 .2 5 1.9 2.3 1.9 .4 2 -1.9 1 -11.3 2.8 -5.2 2 -8.7 4.6 -1.1 -.8 2.6 -5.8 4.3 -5.3 3.9 -2.8zM1097.4 617.4l9.7 -1 7.7 .2 3.9 .7 3.8 1.6 3.9 2.5 6.5 6.3 2.4 3.9 1.5 3.8 .7 5.8 -.2 5.8 -1.1 3.9 -1.9 3.8 -3.1 3.9 -2.9 2.4 -5.8 3 -5.8 1.5 -5.8 .5 -7.7 -.5 -5.8 -1.4 -3.9 -1.6 -5.3 -3.9 -3.3 -3.9 -3 -5.7 -1.9 -7.2 -.5 -6.4 .5 -5.3 2.8 -4.3 3 -2.6 5.8 -3.7z"/><path fill="#c0fa31" d="M1101.3 619.8l11.6 -.4 7.7 1.1 5.8 3.1 2.4 2.2 2.9 3.8 1.7 3.9 .7 3.9 .2 5.8 -.5 5.8 -2.1 5.8 -3.2 3.8 -2.7 2 -4.3 1.9 -4.7 1.1 -5.8 .4 -7.8 -.3 -5.8 -1.2 -3.8 -1.8 -3.9 -2.8 -2.6 -3.1 -2 -3.9 -1 -5.8 .1 -7.7 1.2 -5.8 2 -3.9 4.2 -4.3 3.9 -2.1z"/><path fill="#f1ed22" d="M1101.3 621.7l11.6 -.5 7.7 1.3 5.8 3.3 3.3 3.9 1.7 3.8 .8 3.9 .1 5.8 -.6 5.8 -2.4 5.8 -4.8 4.4 -3.9 1.7 -3.8 .9 -13.6 .2 -7.7 -2.1 -3.9 -2.5 -2.3 -2.6 -2 -3.9 -1.1 -5.8 .2 -7.7 1.3 -5.8 2.3 -3.9 3.6 -3.2 3.8 -1.8z"/><path fill="#ff9016" d="M1099.4 623.8l7.7 -1 9.7 .4 3.9 1.1 3.1 1.5 3.9 3.9 2.4 5.8 .5 9.6 -1.3 5.8 -2.3 3.9 -2 1.9 -4.3 2.5 -3.9 1 -11.6 .4 -7.7 -1.6 -3.9 -2.3 -2 -1.9 -2.3 -3.9 -1 -3.8 -.3 -5.8 .5 -5.8 1.2 -3.9 2.8 -3.9 3 -2.3z"/><path fill="#ff4b14" d="M1099.4 625.5l5.8 -1.1 9.7 .2 5.8 1.4 4.8 3.6 1.4 2 1.4 3.8 .6 7.8 -.8 5.8 -1.6 3.5 -2 2.3 -3.8 2.5 -3.9 1.2 -9.7 .5 -7.7 -1.2 -2.6 -1.1 -3.2 -2.4 -2.3 -3.4 -1.2 -3.9 -.3 -5.8 .5 -5.8 1.4 -3.6 1.9 -2.7 1.9 -1.7z"/><path fill="#fc2313" d="M1099.4 627.6l5.8 -1.3 9.7 .2 5.8 1.8 3.8 3.3 2.2 5.8 .1 7.8 -1.8 5.8 -2.4 2.8 -1.9 1.4 -4.1 1.6 -9.5 .5 -3.8 -.3 -3.9 -1.2 -4.3 -2.9 -1.5 -2 -1.4 -3.8 -.4 -3.9 .2 -5.8 1.1 -3.8 1.2 -2 1.7 -1.9z"/><path fill="#f20d11" d="M1101.3 629.6l5.8 -1 5.8 .1 4.5 1 3.3 1.9 2.5 3.8 1 5.8 -.6 5.8 -1 2.5 -2 2.3 -1.9 1.4 -3.9 1.3 -7.7 .4 -5.8 -1.1 -2.1 -1 -2.2 -1.9 -1.5 -2.4 -.9 -3.4 .2 -7.7 .7 -2.4 1.9 -2.9z"/><path fill="#e3010f" d="M1107.1 635.2l5.8 .2 3.9 2.6 1.2 3.2 .1 2 -1.3 3.7 -2 1.5 -3.8 1.1 -3.9 -0 -3.9 -1.4 -1.9 -2.1 -.8 -2.8 .8 -4.4 1.9 -2.1z"/></g></g><circle cx="1110.0" cy="634.5" r="46.5" fill="none" stroke="#444" stroke-width="0.5" opacity="0.7"/><path d="M1103.5 586.7l-1.8 1.2M1116.5 586.7l1.8 1.2" stroke="#333" stroke-width="0.8" fill="none"/><path d="M1062.3 623.8l-1.8 -1.2M1062.3 645.2l-1.8 1.2" stroke="#333" stroke-width="0.8" fill="none"/><path d="M1157.7 623.8l1.8 -1.2M1157.7 645.2l1.8 1.2" stroke="#333" stroke-width="0.8" fill="none"/><g fill="#222" opacity="0.45"><circle cx="1098.4" cy="598.2" r=".55"/><circle cx="1110.0" cy="598.2" r=".55"/><circle cx="1121.6" cy="598.2" r=".55"/><circle cx="1092.6" cy="610.3" r=".55"/><circle cx="1104.2" cy="610.3" r=".55"/><circle cx="1115.8" cy="610.3" r=".55"/><circle cx="1127.4" cy="610.3" r=".55"/><circle cx="1139.1" cy="610.3" r=".55"/><circle cx="1075.1" cy="622.4" r=".55"/><circle cx="1086.8" cy="622.4" r=".55"/><circle cx="1098.4" cy="622.4" r=".55"/><circle cx="1110.0" cy="622.4" r=".55"/><circle cx="1121.6" cy="622.4" r=".55"/><circle cx="1133.2" cy="622.4" r=".55"/><circle cx="1144.9" cy="622.4" r=".55"/><circle cx="1080.9" cy="634.5" r=".55"/><circle cx="1092.6" cy="634.5" r=".55"/><circle cx="1104.2" cy="634.5" r=".55"/><circle cx="1115.8" cy="634.5" r=".55"/><circle cx="1127.4" cy="634.5" r=".55"/><circle cx="1139.1" cy="634.5" r=".55"/><circle cx="1150.7" cy="634.5" r=".55"/><circle cx="1075.1" cy="646.6" r=".55"/><circle cx="1086.8" cy="646.6" r=".55"/><circle cx="1098.4" cy="646.6" r=".55"/><circle cx="1110.0" cy="646.6" r=".55"/><circle cx="1121.6" cy="646.6" r=".55"/><circle cx="1133.2" cy="646.6" r=".55"/><circle cx="1144.9" cy="646.6" r=".55"/><circle cx="1092.6" cy="658.7" r=".55"/><circle cx="1104.2" cy="658.7" r=".55"/><circle cx="1115.8" cy="658.7" r=".55"/><circle cx="1127.4" cy="658.7" r=".55"/><circle cx="1139.1" cy="658.7" r=".55"/><circle cx="1098.4" cy="670.8" r=".55"/><circle cx="1110.0" cy="670.8" r=".55"/><circle cx="1121.6" cy="670.8" r=".55"/></g>
<defs><clipPath id="tc9"><circle cx="269.5" cy="741.0" r="46.5"/></clipPath></defs><g clip-path="url(#tc9)"><g filter="url(#tblur)"><circle cx="269.5" cy="741.0" r="48.5" fill="#0f1fec"/><path fill="#152ffa" d="M222.1 691.7l96.6 0 0 98.6 -98.5 -0 -0 -98.6zM267.9 728.4l-1.2 1.9 .1 2 1.7 1.6 1.5 -1.6 .4 -2 -1.2 -1.9 -.7 -.4z"/><path fill="#2251fe" d="M222.1 691.7l96.6 0 0 98.6 -98.5 -0 -0 -98.6zM266.3 726.5l-2.6 3.9 -4.9 9.6 .1 7.8 1.9 2.8 1.9 1.1 3.9 .1 1.9 -.9 1.2 -1.2 1 -1.9 1.7 -11 .1 -6.4 -1.7 -3.9 -2.3 -1.1z"/><path fill="#368eff" d="M222.1 691.7l96.6 0 0 98.6 -98.5 -0 -0 -98.6zM266.1 724.6l-9.1 8 -2 3.1 -1 4.4 .1 7.7 .9 4.1 2.5 3.6 3.3 1.9 2 .4 5.8 -.3 3.6 -2 2.2 -3 1.1 -4.7 -.1 -9.7 -1.8 -9.6 -1.2 -2.3 -1.9 -2 -1.9 -.5z"/><path fill="#47e9ee" d="M222.1 691.7l96.6 0 0 98.6 -98.5 -0 -0 -98.6zM266.3 722.6l-9.3 5.8 -2 1.8 -2.4 4 -1.2 5.8 0 7.7 1.6 6.6 2 3 1.9 1.7 1.9 1 3.9 .8 3.9 .1 3.8 -.8 3.9 -2.5 2.4 -4.1 1.2 -5.8 -.3 -9.6 -2.6 -9.7 -2.1 -3.9 -2.2 -1.9 -2.2 -.6z"/><path fill="#50fabe" d="M222.1 691.7l96.6 0 0 98.6 -98.5 -0 -0 -98.6zM267.2 720.7l-10.2 4.8 -3.7 2.9 -2.3 3.9 -1.5 5.8 -.1 9.7 1.7 7.7 2 3.4 1.9 1.9 2 1.3 3.8 1.2 7.8 .1 5.4 -2.1 3.5 -3.9 2 -5.8 .2 -11.6 -.9 -5.8 -1.2 -3.8 -2.9 -5.8 -2.3 -2.6 -1.9 -1.2z"/><path fill="#64fa91" d="M222.1 691.7l96.6 0 0 98.6 -98.5 -0 -0 -98.6zM267.5 718.8l-10.5 3.7 -3.9 2.5 -3.8 5.4 -1.7 5.8 -.4 11.6 .8 5.8 1.4 3.9 1.8 3 2.6 2.8 3.2 1.8 3.8 1 7.8 .1 5.8 -1.9 1.9 -1.4 2.8 -3.5 1.6 -3.9 .7 -3.8 -.1 -13.6 -1.1 -5.7 -1.5 -3.9 -2 -3.9 -3.2 -3.9 -3 -1.8z"/><path fill="#77fa6f" d="M222.1 691.7l96.6 0 0 98.6 -98.5 -0 -0 -98.6zM264 716.8l-9 2.7 -3.9 2.6 -3.4 4.4 -1.8 3.8 -1.3 5.8 -.3 11.6 1.7 9.7 1.8 3.9 3 3.8 2.2 1.8 3.9 1.8 3.9 .8 5.8 .1 7.7 -1.6 3.9 -2.6 1.9 -2.4 1.7 -3.7 1.4 -5.8 .1 -11.6 -.6 -5.8 -1.2 -5.8 -2.5 -5.8 -2.6 -3.8 -2.1 -2.3 -3.9 -2.2 -3.8 -.2z"/><path fill="#8efa51" d="M222.1 691.7l44.6 0 .3 1.9 -.6 2 -17.2 10.2 -5.8 4.9 -3.9 4.4 -3.9 6 -1.9 4.2 -1.9 6.9 -.3 4 .3 5.3 3.8 10.1 4.4 7.8 4.4 5.8 4.8 4.3 5.8 3.5 5.8 2 5.8 .5 5.3 -.7 4.3 -1.3 3.9 -1.5 1.9 -1.4 2 -4.7 1.4 -10.4 -.1 -11.6 -1.3 -11.6 -2.1 -7.7 -6 -13.6 -.8 -9.6 -.8 -2.6 -1.8 -3.2 0 -3.9 46.2 0 0 98.6 -98.5 -0 -0 -98.6z"/><path fill="#c0fa31" d="M287.9 691.7l30.9 0 0 98.6 -98.6 -0 0 -87 12.1 9.7 -.3 3.8 -3.5 11.6 -.7 5.8 .1 5.8 2.3 9.7 1.8 3.9 3.7 5.8 9.1 9.6 8.3 6 9.7 4.2 3.8 .7 5.8 -.3 14.6 -2.9 2.8 -1.9 .4 -1.9 -1.5 -9.7 -.4 -11.6 -1.2 -13.5 -2.9 -21.3 1 -15.4 1.7 -7.8 .6 -1.9z"/><path fill="#f1ed22" d="M295.6 691.7l20.2 0 3 3.1 -0 95.5 -98.6 -0 0 -52.3 1.9 .1 2 1.6 2.5 8.1 2.7 5.8 6.8 9.6 10.4 9.7 12.4 8 5.8 2.6 5.8 .6 11.6 -2.5 9.6 -.7 2 -.6 1.6 -1.6 -.1 -3.9 -2.7 -7.7 -.7 -3.9 -.5 -11.6 -2.2 -19.3 -.7 -11.6 .5 -9.7 1.8 -9.6 3 -7.5 1.4 -2.2z"/><path fill="#ff9016" d="M301.4 695.2l3.9 -1.2 3.8 .5 3.9 2 5.8 5.5 -0 88.2 -8.4 0 -4.4 -3.8 -2.7 -3.7 -2.8 -6 -3.5 -5.8 -2.4 -5.8 -.5 -3.9 -0 -11.5 -2.1 -19.4 .2 -13.5 1.3 -7.7 2.1 -6.6 1.9 -3.5zM224.1 753.5l1.9 .5 7.6 9.2 6 6.1 18.4 15.2 .5 1.9 -1.3 3.9 -37 -0 0 -35.7z"/><path fill="#ff4b14" d="M303.3 702.7l3.9 -1.1 3.8 .9 3.9 2.5 3.9 4.1 -0 80 -3.9 -2.1 -3 -2.5 -10.5 -12 -3.8 -5.4 -1.1 -3.9 .5 -13.5 -1.7 -17.4 .3 -11.6 1 -5.8 1.8 -5.8 2.2 -3.9zM227.9 763.2l1.9 .1 2 1.5 17.6 15.9 1.3 1.9 -.3 1.9 -2.6 5.8 -27.6 0 -0 -23z"/><path fill="#fc2313" d="M307.2 710.4l1.9 -.2 3.9 1.3 3.9 3.3 1.9 2.4 -0 63.8 -3.9 -2.1 -11.6 -8.7 -2.8 -3.1 -1.5 -3.9 -0 -3.9 1.4 -9.6 -1.2 -15.5 .3 -9.7 1.3 -5.8 1.6 -3.8 2.9 -3.6zM237.6 774.8l1.9 2 -11.4 13.5 -5.7 0z"/><path fill="#f20d11" d="M309.1 724.1l1.9 -.6 2 .4 3.2 2.6 2.6 3.5 -0 39 -5.8 .1 -5.8 -1.1 -2 -.9 -1.9 -1.7 -1 -2.2 .1 -3.8 3 -9.7 -0 -17.4 1.7 -5.8z"/></g></g><circle cx="269.5" cy="741.0" r="46.5" fill="none" stroke="#444" stroke-width="0.5" opacity="0.7"/><path d="M263.0 693.2l-1.8 1.2M276.0 693.2l1.8 1.2" stroke="#333" stroke-width="0.8" fill="none"/><path d="M221.8 730.3l-1.8 -1.2M221.8 751.7l-1.8 1.2" stroke="#333" stroke-width="0.8" fill="none"/><path d="M317.2 730.3l1.8 -1.2M317.2 751.7l1.8 1.2" stroke="#333" stroke-width="0.8" fill="none"/><g fill="#222" opacity="0.45"><circle cx="257.9" cy="704.7" r=".55"/><circle cx="269.5" cy="704.7" r=".55"/><circle cx="281.1" cy="704.7" r=".55"/><circle cx="252.1" cy="716.8" r=".55"/><circle cx="263.7" cy="716.8" r=".55"/><circle cx="275.3" cy="716.8" r=".55"/><circle cx="286.9" cy="716.8" r=".55"/><circle cx="298.6" cy="716.8" r=".55"/><circle cx="234.6" cy="728.9" r=".55"/><circle cx="246.2" cy="728.9" r=".55"/><circle cx="257.9" cy="728.9" r=".55"/><circle cx="269.5" cy="728.9" r=".55"/><circle cx="281.1" cy="728.9" r=".55"/><circle cx="292.8" cy="728.9" r=".55"/><circle cx="304.4" cy="728.9" r=".55"/><circle cx="240.4" cy="741.0" r=".55"/><circle cx="252.1" cy="741.0" r=".55"/><circle cx="263.7" cy="741.0" r=".55"/><circle cx="275.3" cy="741.0" r=".55"/><circle cx="286.9" cy="741.0" r=".55"/><circle cx="298.6" cy="741.0" r=".55"/><circle cx="310.2" cy="741.0" r=".55"/><circle cx="234.6" cy="753.1" r=".55"/><circle cx="246.2" cy="753.1" r=".55"/><circle cx="257.9" cy="753.1" r=".55"/><circle cx="269.5" cy="753.1" r=".55"/><circle cx="281.1" cy="753.1" r=".55"/><circle cx="292.8" cy="753.1" r=".55"/><circle cx="304.4" cy="753.1" r=".55"/><circle cx="252.1" cy="765.2" r=".55"/><circle cx="263.7" cy="765.2" r=".55"/><circle cx="275.3" cy="765.2" r=".55"/><circle cx="286.9" cy="765.2" r=".55"/><circle cx="298.6" cy="765.2" r=".55"/><circle cx="257.9" cy="777.3" r=".55"/><circle cx="269.5" cy="777.3" r=".55"/><circle cx="281.1" cy="777.3" r=".55"/></g>
<defs><clipPath id="tc10"><circle cx="388.7" cy="741.0" r="46.5"/></clipPath></defs><g clip-path="url(#tc10)"><g filter="url(#tblur)"><circle cx="388.7" cy="741.0" r="48.5" fill="#132bf8"/><path fill="#2251fe" d="M341.3 691.7l96.6 0 0 98.6 -98.5 -0 -0 -98.6zM380.9 738.1l-1.4 1.9 -.8 3.9 .1 3.9 .9 3.8 2.2 2.4 1.9 .5 3.9 -.4 1.9 -1.5 1.3 -2.9 .4 -5.8 -1 -3.9 -1.3 -1.9 -3.2 -1.3 -2 0z"/><path fill="#368eff" d="M341.3 691.7l96.6 0 0 98.6 -98.5 -0 -0 -98.6zM381.9 730.4l-3.8 1.9 -2.7 3.9 -1.4 5.8 .3 9.7 1.8 5 2.4 2.7 3.4 1.5 5.8 .1 3.9 -1.7 1.9 -2.1 1.6 -3.6 .9 -5.8 -.6 -8.9 -1.8 -4.6 -2 -2.3 -3.9 -1.7z"/><path fill="#47e9ee" d="M341.3 691.7l96.6 0 0 98.6 -98.5 -0 -0 -98.6zM377.7 728.4l-3.6 3.9 -2.1 5.8 -.5 9.6 1.1 7.8 1.6 3.4 2 2.2 3.5 2.1 6.1 .9 5.5 -.9 2.3 -1.4 1.9 -2.1 2.4 -6.2 .6 -11.6 -1.6 -7.7 -3.3 -4.9 -3.9 -2.1 -3.9 -.6 -3.8 .2z"/><path fill="#50fabe" d="M341.3 691.7l96.6 0 0 98.6 -98.5 -0 -0 -98.6zM379.1 724.6l-2.9 1.5 -2 1.7 -1.9 2.6 -1.6 3.9 -1.3 9.6 .1 5.8 .9 5.8 3 5.8 4.7 3.5 5.8 1.3 3.9 .1 3.8 -.7 3.9 -2.1 1.9 -2.1 2.4 -5.8 .8 -5.8 0 -5.8 -1.3 -9.6 -2.9 -5.8 -2.8 -2.6 -2 -1.1 -5.8 -1z"/><path fill="#64fa91" d="M341.3 691.7l96.6 0 0 98.6 -98.5 -0 -0 -98.6zM376.1 722.6l-2.6 1.9 -3 3.9 -2.7 7.7 -.6 5.8 .1 7.8 1.6 7.7 3.7 5.8 2.3 1.9 3.2 1.6 7.7 1.2 3.9 -.2 3.8 -1 2.9 -1.6 2.9 -2.9 1.7 -2.9 1.1 -3.8 .6 -5.8 -.1 -9.7 -.9 -5.8 -1.3 -3.9 -2.2 -3.8 -1.7 -2 -4.9 -2.9 -3.9 -.8 -5.8 .1z"/><path fill="#77fa6f" d="M341.3 691.7l96.6 0 0 98.6 -98.5 -0 -0 -98.6zM375.4 718.8l-3.2 2.1 -3.3 3.7 -3.2 7.7 -.9 5.8 -.2 7.8 .4 5.8 1.6 5.8 3.4 5.8 2.2 2.2 3.9 2.3 3.9 1.2 3.8 .5 5.8 -.1 3.9 -.8 3.3 -1.5 2.7 -1.9 3.2 -3.9 1.7 -3.8 .9 -5.8 .1 -9.7 -.8 -7.7 -.9 -3.9 -1.6 -3.9 -2.6 -3.8 -2.1 -2.1 -3.9 -2.3 -3.9 -1.1 -5.8 -.2 -3.8 .3z"/><path fill="#8efa51" d="M341.3 691.7l96.6 0 0 98.6 -98.5 -0 -0 -98.6zM381 707.2l-5.8 1.9 -3.7 2 -5 3.6 -3.9 4.1 -3.9 6 -1.9 4.9 -.7 4.6 .3 5.8 .4 2.1 6.6 15.3 2.3 3.8 3.3 3.9 5.2 3.6 3.9 1.4 5.8 .8 7.7 -.3 5.5 -1.6 3.5 -2 4.3 -3.8 3.2 -3.9 12.5 -17.8 .6 -5.4 -.5 -5.8 -2 -5.2 -3.9 -6.1 -3.9 -4.2 -5.4 -3.8 -3.7 -2 -6.3 -2 -7.8 -.6z"/><path fill="#c0fa31" d="M341.3 691.7l96.6 0 0 98.6 -98.5 -0 -0 -98.6zM381 703.3l-6.8 2.4 -5.8 3.4 -5.8 5 -3.9 4.7 -3.8 7.1 -2 6.4 -.6 7.7 .6 5.8 2 5.9 3.8 6.3 6.8 7.2 4.8 3.6 4.6 2.2 5.1 1.1 7.7 .4 5.8 -.6 8.3 -2.9 10.6 -5.8 2.4 -1.6 3.8 -3.8 3.9 -6.7 1.5 -5.3 .7 -5.8 -.3 -5.8 -1.9 -7.2 -3.9 -7.6 -3.8 -4.9 -5.8 -5.2 -7.1 -4.1 -6.5 -2.1 -7.7 -.7z"/><path fill="#f1ed22" d="M341.3 691.7l96.6 0 0 98.6 -98.5 -0 -0 -98.6zM384.1 699.4l-6 1.5 -7.7 3.8 -5.8 4.3 -5.8 6.1 -3.9 5.8 -3.1 7.5 -1.3 5.8 -.2 7.7 1.6 7.8 2.6 5.8 4.1 5.8 6.3 5.8 6.3 3.8 5.4 2 7.3 .9 7.7 -.2 5.8 -.9 10.7 -3.7 6.4 -3.9 4.1 -3.8 4 -5.7 2.4 -5.9 1.4 -7 .1 -6.6 -1.5 -7.7 -2.4 -6.2 -3.9 -6.4 -5.8 -6.4 -5.8 -4.5 -7.7 -3.9 -7.8 -1.8z"/><path fill="#ff9016" d="M341.3 691.7l32.3 0 1.2 3.9 -.3 1.9 -8.1 6.2 -5.8 5.5 -4.6 5.7 -3.4 5.8 -2.5 5.8 -1.4 5.8 -.6 5.8 .4 5.8 1.3 5.8 3.1 6.8 3.9 5.4 5.4 5.2 5.9 3.9 6.1 2.4 5.8 1.3 7.7 .4 6 -.3 9.1 -1.9 6.2 -2.4 5.8 -3.4 4.2 -3.9 4.3 -5.8 2.7 -5.8 1.5 -5.8 .6 -5.8 -.6 -7.7 -1.4 -5.8 -2.3 -5.8 -3.4 -5.8 -5.6 -6.9 -5.8 -5.3 -7.1 -5.2 -.8 -1.9 1 -3.9 35.8 -0 0 98.6 -98.5 -0 -0 -98.6z"/><path fill="#ff4b14" d="M339.9 693.6l15 14.5 .3 1 -7 15.4 -2 9.7 -.1 5.8 .7 5.8 1.8 5.8 2.8 5.8 2.7 3.9 4.7 4.8 3.8 3.1 5.8 3.3 9.7 2.9 11.6 .7 10.9 -1.3 6.5 -1.9 4.4 -2 3.3 -2 4.5 -3.8 5.8 -7.7 2.6 -5.8 1.5 -5.8 .6 -5.8 -.5 -7.7 -1.3 -5.8 -2 -5.8 -8.3 -15.5 .8 -1.9 9.2 -11.6 10.3 -0 0 98.5 -98.6 0 0 -97.1z"/><path fill="#fc2313" d="M438 712l0 78.3 -98.6 0 0 -48 2 -0 1.9 1.8 1 3.7 3.6 7.7 5.5 7.8 6.4 5.8 6.5 3.8 7.9 2.8 9.7 1.4 11.6 -.3 9.8 -1.9 5.6 -2.2 6.2 -3.6 6 -5.8 3.8 -5.8 3.1 -7.8 1.6 -9.6 -.5 -9.7 -2.3 -11.6 .9 -1.9z"/><path fill="#f20d11" d="M436.1 739.5l1.9 -.1 0 50.9 -98.5 0 -0 -26.3 7.7 -3.2 7.3 6.3 6.2 4.4 7.1 3.4 8.4 2.3 7.7 .8 7.7 0 13.6 -1.9 5.8 -2 5.8 -3 5 -4 3.6 -3.8 3.8 -5.8 1.9 -3.9 2.1 -5.8 1 -5.4z"/><path fill="#e3010f" d="M428.3 764.7l9.7 4.9 -0 20.7 -98.6 -0 -0 -11.8 13.5 -8.3 1.9 .4 9.7 4.4 7.7 2.3 9.7 1.4 11.6 .1 9.7 -1.3 9.4 -2.7 7.4 -3.9z"/><path fill="#aa000c" d="M418.7 774.3l1.9 -.4 2 .5 12.4 8.1 3 3.3 0 4.5 -96.1 -0 1.7 -3.9 3.4 -3.9 9.8 -6.7 2 -.5 17.4 3.8 13.5 .7 15.5 -1.6z"/><path fill="#7c0009" d="M362.6 778.4l3.9 .3 5.8 1.2 15.4 1.2 17.4 -1.3 7.8 -1.7 3.8 -0 4.6 2.5 4.7 3.9 1.4 1.9 .9 3.9 -77.1 0 1 -3.9 1.3 -1.9 4.7 -3.9z"/></g></g><circle cx="388.7" cy="741.0" r="46.5" fill="none" stroke="#444" stroke-width="0.5" opacity="0.7"/><path d="M382.2 693.2l-1.8 1.2M395.2 693.2l1.8 1.2" stroke="#333" stroke-width="0.8" fill="none"/><path d="M341.0 730.3l-1.8 -1.2M341.0 751.7l-1.8 1.2" stroke="#333" stroke-width="0.8" fill="none"/><path d="M436.4 730.3l1.8 -1.2M436.4 751.7l1.8 1.2" stroke="#333" stroke-width="0.8" fill="none"/><g fill="#222" opacity="0.45"><circle cx="377.1" cy="704.7" r=".55"/><circle cx="388.7" cy="704.7" r=".55"/><circle cx="400.3" cy="704.7" r=".55"/><circle cx="371.3" cy="716.8" r=".55"/><circle cx="382.9" cy="716.8" r=".55"/><circle cx="394.5" cy="716.8" r=".55"/><circle cx="406.1" cy="716.8" r=".55"/><circle cx="417.8" cy="716.8" r=".55"/><circle cx="353.8" cy="728.9" r=".55"/><circle cx="365.4" cy="728.9" r=".55"/><circle cx="377.1" cy="728.9" r=".55"/><circle cx="388.7" cy="728.9" r=".55"/><circle cx="400.3" cy="728.9" r=".55"/><circle cx="411.9" cy="728.9" r=".55"/><circle cx="423.6" cy="728.9" r=".55"/><circle cx="359.6" cy="741.0" r=".55"/><circle cx="371.3" cy="741.0" r=".55"/><circle cx="382.9" cy="741.0" r=".55"/><circle cx="394.5" cy="741.0" r=".55"/><circle cx="406.1" cy="741.0" r=".55"/><circle cx="417.8" cy="741.0" r=".55"/><circle cx="429.4" cy="741.0" r=".55"/><circle cx="353.8" cy="753.1" r=".55"/><circle cx="365.4" cy="753.1" r=".55"/><circle cx="377.1" cy="753.1" r=".55"/><circle cx="388.7" cy="753.1" r=".55"/><circle cx="400.3" cy="753.1" r=".55"/><circle cx="411.9" cy="753.1" r=".55"/><circle cx="423.6" cy="753.1" r=".55"/><circle cx="371.3" cy="765.2" r=".55"/><circle cx="382.9" cy="765.2" r=".55"/><circle cx="394.5" cy="765.2" r=".55"/><circle cx="406.1" cy="765.2" r=".55"/><circle cx="417.8" cy="765.2" r=".55"/><circle cx="377.1" cy="777.3" r=".55"/><circle cx="388.7" cy="777.3" r=".55"/><circle cx="400.3" cy="777.3" r=".55"/></g>
<defs><clipPath id="tc11"><circle cx="513.0" cy="741.0" r="46.5"/></clipPath></defs><g clip-path="url(#tc11)"><g filter="url(#tblur)"><circle cx="513.0" cy="741.0" r="48.5" fill="#1f49fd"/><path fill="#368eff" d="M465.6 691.7l96.6 0 0 98.6 -98.5 -0 -0 -98.6zM509.2 720.7l-1.1 1.9 0 5.5 2 2.8 1.9 .6 1.9 -.8 1.4 -2.3 .6 -4 -2 -4.4 -1.9 -1 -1.9 .7zM509.1 755.5l-.9 2.1 1.9 .7 .7 -.9 -.1 -1.9z"/><path fill="#47e9ee" d="M465.6 691.7l96.6 0 0 98.6 -98.5 -0 -0 -98.6zM508.1 714.9l-1.9 2.3 -1.4 3.5 -.6 3.9 .2 3.8 2.2 5.8 2 2 3.4 1.1 2 -.5 1.9 -1.3 1.9 -2.8 1.3 -4.3 0 -5.8 -2 -5.8 -3.1 -2.9 -2 -.5 -1.9 .3zM507.5 753.6l-1.3 1.9 -.3 2 .6 1.9 1.7 1.8 2.6 .1 2.2 -1.9 .7 -1.9 -.2 -2 -1.5 -2.3 -1.9 -.7z"/><path fill="#50fabe" d="M465.6 691.7l96.6 0 0 98.6 -98.5 -0 -0 -98.6zM506.9 709.1l-2.6 3.3 -1.9 4.4 -1.3 5.8 -.1 5.8 .9 5.8 2.4 6.3 1.9 2.6 1.9 1.2 2 .2 3.8 -1.1 2 -1.4 3 -3.9 1.8 -3.9 .9 -3.8 .2 -7.8 -2.1 -7.9 -1.9 -3.4 -1.9 -2.2 -2 -1.4 -1.9 -.5 -1.9 .1zM506.2 751.6l-1.3 1.9 -.5 2 .3 3.8 1 2 2.4 1.6 2 .2 1.9 -.7 2.6 -3.1 .5 -3.8 -.5 -2 -2.6 -3.2 -1.9 -.5 -2 .2z"/><path fill="#64fa91" d="M465.6 691.7l38.2 0 -3.6 7.7 -2.9 11.6 -1.5 13.6 0 13.5 1.5 11.6 2.6 7.7 2.4 3.9 2 1.9 3.8 1.6 3.9 -.7 3 -2.8 1.7 -3.9 1.1 -5.3 3.9 -6.1 1.6 -4 1.7 -7.8 .5 -11.6 -1.2 -9.6 -2.6 -11.7 -2 -5.3 -2.3 -4.3 44.8 -0 0 98.6 -98.5 -0 -0 -98.6z"/><path fill="#77fa6f" d="M465.6 691.7l26.6 0 -2.5 13.5 -1.5 17.4 -.1 15.5 1.2 11.6 3 7.7 4.8 5.8 5.2 3 5.8 .8 3.9 -.8 3.7 -3 10.4 -15.4 1.9 -3.9 1.9 -5.8 1.9 -11.6 .3 -11.6 -1.2 -13.5 -1.9 -9.7 33.2 0 0 98.6 -98.5 -0 -0 -98.6z"/><path fill="#8efa51" d="M558.4 720.4l3.9 -.3 -0 70.2 -98.6 0 -0 -45.5 5.8 .1 3.9 1.8 5.7 4.4 13.1 12.2 5.8 3.8 6.3 2.1 5.8 -.1 5 -2 4.3 -3.8 14.7 -19.4 7.2 -11.6 4.6 -5.8 2.8 -2.3 3.9 -2.3z"/><path fill="#c0fa31" d="M558.4 730.1l3.9 -0 -0 60.2 -98.6 -0 -0 -30.2 7.7 -2.6 3.9 .4 5.8 2.4 17.4 9.4 3.8 1.1 3.9 .4 5.8 -.8 3.9 -1.6 5.1 -3.6 8.4 -9.8 10.1 -9.6 10.3 -11.6 4.7 -3.1z"/><path fill="#f1ed22" d="M554.6 738l3.9 -1.2 3.8 .2 0 53.3 -98.5 -0 -0 -18.6 9.6 -6 3.9 -1 3.8 .6 15.5 5.8 5.8 1.6 5.8 .1 5.8 -1.4 7.6 -4.3 13.7 -13.1 15.4 -13.5z"/><path fill="#ff9016" d="M554.6 743.1l3.9 -.9 3.8 .3 0 47.8 -98.5 -0 -0 -7.3 14.1 -12.1 3.2 -1 3.9 .2 13.5 3.6 5.8 .9 5.8 -.5 3.9 -1.1 7.7 -4.2 21.3 -18.1 7.7 -5.5z"/><path fill="#ff4b14" d="M552.6 747.5l3.9 -1.2 5.8 .3 -0 43.7 -93.9 0 14.6 -15.7 5.8 -.6 15.5 2.3 5.8 -.6 3.8 -1.1 3.9 -1.8 6 -3.7 19.1 -15.7z"/><path fill="#fc2313" d="M554.6 749.5l3.9 -.4 3.8 .6 0 40.6 -83.9 0 8.5 -11.9 3.9 -1.1 15.5 .6 3.8 -.6 5.8 -2 10.3 -6.3 20.7 -16z"/><path fill="#f20d11" d="M556.5 751.5l5.8 .8 -0 38 -75.7 -0 4.2 -7.8 1.9 -1.6 15.5 -1.5 7.7 -2.6 12.6 -7.8 18.3 -13.8 5.8 -2.9z"/><path fill="#e3010f" d="M550.7 755.3l5.8 -1.5 5.8 1.2 -0 13.6 -1.8 2.4 -1.5 3.8 -1.9 15.5 -62.4 0 2.7 -5.8 1.1 -.7 11.6 -3 7.7 -3.3 19.2 -12.3 9.8 -7.6z"/><path fill="#aa000c" d="M552.6 756.9l3.9 -.6 4.2 1.1 1.6 1.4 -0 4.5 -6.1 7.7 -1 3.8 -1.1 9.7 -1.8 5.8 -48.7 -0 .8 -3.9 2.3 -1.9 13 -6.5 20.7 -12.8 8.3 -6.3z"/><path fill="#7c0009" d="M550.7 761.2l3.9 -1.1 2.1 1.2 -.3 1.9 -4 5.8 -.8 3.9 -.9 9.6 -1.1 3.9 -2 3.9 -36.1 -0 -.3 -3.9 1.8 -1.9 14.5 -9.8 17.7 -9.6z"/></g></g><circle cx="513.0" cy="741.0" r="46.5" fill="none" stroke="#444" stroke-width="0.5" opacity="0.7"/><path d="M506.5 693.2l-1.8 1.2M519.5 693.2l1.8 1.2" stroke="#333" stroke-width="0.8" fill="none"/><path d="M465.3 730.3l-1.8 -1.2M465.3 751.7l-1.8 1.2" stroke="#333" stroke-width="0.8" fill="none"/><path d="M560.7 730.3l1.8 -1.2M560.7 751.7l1.8 1.2" stroke="#333" stroke-width="0.8" fill="none"/><g fill="#222" opacity="0.45"><circle cx="501.4" cy="704.7" r=".55"/><circle cx="513.0" cy="704.7" r=".55"/><circle cx="524.6" cy="704.7" r=".55"/><circle cx="495.6" cy="716.8" r=".55"/><circle cx="507.2" cy="716.8" r=".55"/><circle cx="518.8" cy="716.8" r=".55"/><circle cx="530.4" cy="716.8" r=".55"/><circle cx="542.1" cy="716.8" r=".55"/><circle cx="478.1" cy="728.9" r=".55"/><circle cx="489.8" cy="728.9" r=".55"/><circle cx="501.4" cy="728.9" r=".55"/><circle cx="513.0" cy="728.9" r=".55"/><circle cx="524.6" cy="728.9" r=".55"/><circle cx="536.2" cy="728.9" r=".55"/><circle cx="547.9" cy="728.9" r=".55"/><circle cx="483.9" cy="741.0" r=".55"/><circle cx="495.6" cy="741.0" r=".55"/><circle cx="507.2" cy="741.0" r=".55"/><circle cx="518.8" cy="741.0" r=".55"/><circle cx="530.4" cy="741.0" r=".55"/><circle cx="542.1" cy="741.0" r=".55"/><circle cx="553.7" cy="741.0" r=".55"/><circle cx="478.1" cy="753.1" r=".55"/><circle cx="489.8" cy="753.1" r=".55"/><circle cx="501.4" cy="753.1" r=".55"/><circle cx="513.0" cy="753.1" r=".55"/><circle cx="524.6" cy="753.1" r=".55"/><circle cx="536.2" cy="753.1" r=".55"/><circle cx="547.9" cy="753.1" r=".55"/><circle cx="495.6" cy="765.2" r=".55"/><circle cx="507.2" cy="765.2" r=".55"/><circle cx="518.8" cy="765.2" r=".55"/><circle cx="530.4" cy="765.2" r=".55"/><circle cx="542.1" cy="765.2" r=".55"/><circle cx="501.4" cy="777.3" r=".55"/><circle cx="513.0" cy="777.3" r=".55"/><circle cx="524.6" cy="777.3" r=".55"/></g>
<defs><clipPath id="tc12"><circle cx="634.6" cy="742.3" r="46.5"/></clipPath></defs><g clip-path="url(#tc12)"><g filter="url(#tblur)"><circle cx="634.6" cy="742.3" r="48.5" fill="#0b17e4"/><path fill="#1022ef" d="M587.2 693l8 0 9.4 11.8 1.9 1.1 11.6 -4.6 9.7 -2.1 11.6 -.3 7.7 .9 3.9 1 3.9 .1 .5 -.2 3.9 -7.7 24.5 0 0 98.6 -98.5 -0 -0 -98.6z"/><path fill="#152ffa" d="M624 702.5l5.8 -1 7.7 -.2 5.8 .6 5.8 1.4 9.7 4.1 5.8 3.8 7.7 6.1 2 .1 9.6 -6.1 0 80.3 -98.6 0 0 -49.3 3.9 -.4 3.3 -10.2 3.4 -7.7 3.8 -5.8 3.4 -3.9 4.3 -3.9 5 -3.3 5.8 -2.8z"/><path fill="#2251fe" d="M624 704.3l7.7 -1.2 9.7 .3 7.7 1.9 7.8 3.4 7.7 5.6 5.4 5.8 5.1 7.7 5 9.7 3.8 -.3 0 54.4 -98.6 -0 0 -33.6 5.8 -2 .5 -1.1 2 -17.4 3 -9.7 4.3 -7.7 3.1 -3.9 4.1 -3.9 8.2 -5.2z"/><path fill="#368eff" d="M633.6 704.5l5.8 .2 5.8 1.1 9.7 3.8 4.3 2.7 4.7 3.9 3.5 3.8 3.9 5.8 4.1 9.7 1.7 7.7 1 8.5 1.9 2.2 3.9 1 -0 36.6 -98.6 0 -0 -20.9 9.9 -6.1 .3 -3.9 -.9 -13.5 .6 -7.7 1.8 -7.8 3.4 -7.7 5.9 -7.7 8 -6.3 9.6 -4z"/><path fill="#47e9ee" d="M629.8 706.4l5.8 -.3 5.3 .5 10.2 2.9 5.2 2.9 4.4 3.2 3.9 3.8 3.5 4.6 3.9 7.7 2.4 9.7 .5 7.7 -.9 15.4 .3 .6 9.6 5.7 0 20.8 -98.6 0 0 -7.2 13.6 -11.6 1.4 -2.5 -3.1 -15.4 -.7 -9.7 1.1 -9.6 3.6 -9.7 5.4 -7.7 6.9 -5.8 7.7 -3.9z"/><path fill="#50fabe" d="M627.8 708.3l5.8 -.6 5.8 .3 9.7 2.5 3.9 1.8 5.8 3.9 4 3.9 3.7 4.7 4.2 8.8 1.4 5.8 .6 5.8 -1.1 11.6 -4.1 15.4 .9 2.4 15.5 14.7 -0 2.3 -89.4 -0 11 -13.6 .4 -1.9 -5.4 -15.5 -2 -9.6 -.2 -9.7 1 -5.8 1.4 -4.8 3.9 -7.4 6.4 -7.1 7.1 -4.7z"/><path fill="#64fa91" d="M627.8 710.2l5.8 -.6 5.8 .3 5.8 1.2 5.8 2.3 4.6 2.8 5.1 4.3 3.8 4.6 2.7 4.6 2.1 5.8 1.1 5.8 .2 5.8 -.5 5.8 -3.4 11.6 -7.7 15.4 7.1 11.6 -57.3 0 4.7 -9.6 -.6 -2 -6.9 -11.5 -4 -9.7 -1.4 -5.8 -.6 -5.8 .7 -10 1.6 -5.5 2.3 -4.9 5.8 -7.5 3.6 -3 4.1 -2.6 3.9 -1.7z"/><path fill="#77fa6f" d="M625.9 714.2l5.8 -.9 5.8 -0 6.9 1 5.4 1.9 7 4.3 5.8 5.4 2.6 3.9 2.2 5.8 1 6.5 0 7 -1 5.8 -1.9 5.8 -2.9 6.3 -3.8 5.9 -5.8 6.5 -7.5 6.4 1.1 5.8 -20.9 0 .8 -3.8 -.7 -2 -7.6 -6 -5.8 -6.3 -5.6 -8.9 -2.9 -7.8 -1.5 -7.7 0 -7.7 1.7 -7.8 2.5 -5.6 3.8 -5 5.8 -4.8 3.6 -2z"/><path fill="#8efa51" d="M620.1 723.4l3.9 -.8 7.7 -.5 11.6 .1 7.7 .8 5.8 1.8 3.9 2.3 2.2 2.6 1.7 3.4 1.4 8.2 -0 7.8 -1.4 5.4 -3.9 8.8 -3.9 6.6 -3.7 4.3 -4.9 3.9 -4.9 2.5 -7.7 1.6 -5.8 -.7 -3.9 -1.3 -3.9 -2.2 -4.7 -3.8 -3.3 -3.9 -3.6 -5.9 -.9 -3.7 .9 -1.5 7.6 5.3 4 2.1 7.8 2.2 7.7 .2 4.1 -.6 5.7 -1.9 6.4 -3.9 1.6 -1.9 -2.3 -.8 -15.5 .4 -13.5 -.4 -9.7 -2.5 -3.9 -2.3 -1.5 -2.2 -1.3 -5.8 .2 -7.7 .9 -5.8 1.8 -3.9 1.9 -2.2 3.8 -2.7z"/><path fill="#c0fa31" d="M620.1 725.8l7.7 -1.4 17.4 -0 5.8 .6 5.8 2.1 3.9 3.3 2.2 5.1 .6 9.7 -1.2 5.8 -1.6 2.1 -3.9 2.5 -9.6 2.2 -21.3 -.2 -5.8 -1.2 -3.7 -1.6 -2.4 -1.9 -2.3 -3.9 -.7 -5.8 .3 -7.7 1.2 -3.9 1.3 -1.9 2.4 -2.1zM629.8 774l12.8 .2 -2.9 1.9 -4.1 .5 -4.8 -.5 -2.3 -1.9z"/><path fill="#f1ed22" d="M629.8 725.8l11.6 -.1 7.7 .5 5.5 1.6 3 1.9 2.7 3.9 .9 5.8 -.2 7.7 -2.2 4.7 -1.9 1.6 -3.9 1.8 -9.7 1.4 -17.4 -.4 -5.5 -1.3 -3.5 -2 -2.9 -3.8 -.8 -3.9 -0 -7.7 1.1 -4.8 2.2 -3 3.6 -2.2 3.9 -1.1z"/><path fill="#ff9016" d="M624 727.8l7.7 -.9 13.6 .2 5.8 .9 3.8 1.7 2.3 2 1.8 3.9 .4 7.7 -1.1 5.8 -1.3 1.9 -2.4 2 -3.5 1.4 -3.9 .7 -17.4 .3 -5.8 -.8 -4.2 -1.6 -2.4 -2 -2 -3.8 -.5 -5.8 .4 -5.8 1 -2.6 1.9 -2.5 1.9 -1.3z"/><path fill="#ff4b14" d="M624 729.2l7.7 -1.1 11.6 .1 5.8 .7 3.9 1.4 2 1.4 2.1 3.9 .3 9.6 -1.2 3.9 -1.6 1.9 -3.5 2 -7.8 1.2 -15.4 -.3 -4.5 -.9 -3.3 -1.7 -2 -2.2 -1.2 -3.9 .3 -9.6 2.2 -3.9z"/><path fill="#fc2313" d="M629.8 729.6l15.5 .1 6.6 2 2.1 1.9 1.4 3.9 -.1 7.7 -1.6 3.9 -2.4 1.9 -2.2 .9 -7.7 1.1 -11.6 -.2 -3.9 -.7 -3.8 -1.8 -2 -2 -1 -3.1 -.2 -5.8 .5 -3.8 1 -2 2 -1.9 3.5 -1.4z"/><path fill="#f20d11" d="M629.8 731.5l13.5 -.1 3.9 .7 3.1 1.5 1.5 2 .9 3.8 0 3.9 -1 3.8 -2.6 2.4 -5.8 1.6 -13.2 -.1 -5.7 -1.9 -1.7 -2 -.8 -1.9 .2 -8.5 1.9 -3.1z"/><path fill="#e3010f" d="M633.6 735.3l7.7 .1 3.9 1.9 1.5 4 -.7 3.9 -2.4 1.9 -4.2 .7 -5.8 -.1 -3.9 -1.2 -1.4 -1.3 -.7 -2 .2 -3.8 1.9 -2.6z"/></g></g><circle cx="634.6" cy="742.3" r="46.5" fill="none" stroke="#444" stroke-width="0.5" opacity="0.7"/><path d="M628.1 694.5l-1.8 1.2M641.1 694.5l1.8 1.2" stroke="#333" stroke-width="0.8" fill="none"/><path d="M586.9 731.6l-1.8 -1.2M586.9 753.0l-1.8 1.2" stroke="#333" stroke-width="0.8" fill="none"/><path d="M682.3 731.6l1.8 -1.2M682.3 753.0l1.8 1.2" stroke="#333" stroke-width="0.8" fill="none"/><g fill="#222" opacity="0.45"><circle cx="623.0" cy="706.0" r=".55"/><circle cx="634.6" cy="706.0" r=".55"/><circle cx="646.2" cy="706.0" r=".55"/><circle cx="617.2" cy="718.1" r=".55"/><circle cx="628.8" cy="718.1" r=".55"/><circle cx="640.4" cy="718.1" r=".55"/><circle cx="652.0" cy="718.1" r=".55"/><circle cx="663.7" cy="718.1" r=".55"/><circle cx="599.7" cy="730.2" r=".55"/><circle cx="611.4" cy="730.2" r=".55"/><circle cx="623.0" cy="730.2" r=".55"/><circle cx="634.6" cy="730.2" r=".55"/><circle cx="646.2" cy="730.2" r=".55"/><circle cx="657.9" cy="730.2" r=".55"/><circle cx="669.5" cy="730.2" r=".55"/><circle cx="605.5" cy="742.3" r=".55"/><circle cx="617.2" cy="742.3" r=".55"/><circle cx="628.8" cy="742.3" r=".55"/><circle cx="640.4" cy="742.3" r=".55"/><circle cx="652.0" cy="742.3" r=".55"/><circle cx="663.7" cy="742.3" r=".55"/><circle cx="675.3" cy="742.3" r=".55"/><circle cx="599.7" cy="754.4" r=".55"/><circle cx="611.4" cy="754.4" r=".55"/><circle cx="623.0" cy="754.4" r=".55"/><circle cx="634.6" cy="754.4" r=".55"/><circle cx="646.2" cy="754.4" r=".55"/><circle cx="657.9" cy="754.4" r=".55"/><circle cx="669.5" cy="754.4" r=".55"/><circle cx="617.2" cy="766.5" r=".55"/><circle cx="628.8" cy="766.5" r=".55"/><circle cx="640.4" cy="766.5" r=".55"/><circle cx="652.0" cy="766.5" r=".55"/><circle cx="663.7" cy="766.5" r=".55"/><circle cx="623.0" cy="778.6" r=".55"/><circle cx="634.6" cy="778.6" r=".55"/><circle cx="646.2" cy="778.6" r=".55"/></g>
<defs><clipPath id="tc13"><circle cx="757.0" cy="742.3" r="46.5"/></clipPath></defs><g clip-path="url(#tc13)"><g filter="url(#tblur)"><circle cx="757.0" cy="742.3" r="48.5" fill="#0f1fec"/><path fill="#152ffa" d="M785 694.7l1 -1.7 20.3 0 -0 98.6 -98.6 0 -0 -10.5 11.6 -9.1 1.2 -1.6 -4.2 -11.6 -1.8 -7.8 -.6 -5.8 .1 -7.7 1.9 -9.7 2.2 -5.8 2.1 -3.8 4.3 -5.8 4.4 -4.3 3.9 -2.8 5.8 -3.1 5.8 -2.1 9.7 -1.5 5.8 -.1 9.6 1.2 9.7 2.8 1.9 -1.2z"/><path fill="#2251fe" d="M746.4 702.5l7.7 -1.3 9.7 .4 7.7 1.8 7.8 3.4 7.7 5.6 5.4 5.8 3.8 5.8 3.2 7.7 1.5 7.7 .1 7.8 -1.4 7.7 -4.1 9.7 -4 5.8 -6.4 6.4 -5.8 4.1 -9.7 4.1 -7.7 1.4 -7.8 -.1 -7.7 -1.5 -7.7 -3.3 -5.8 -3.9 -7.2 -7.2 -4.8 -7.8 -3 -7.7 -1.5 -7.7 0 -9.7 1.6 -7.7 3.2 -7.8 3.9 -5.9 5.8 -5.9 7.8 -4.9z"/><path fill="#368eff" d="M746.4 704.4l7.7 -1.3 7.8 .1 7.7 1.6 7.7 3.2 6.4 4.3 5.8 5.8 4.9 7.8 2.7 7.7 1.1 7.7 -.5 7.8 -2 7.7 -3.8 7.7 -4.9 6.3 -5.8 5 -5.8 3.5 -7.7 2.9 -7.8 1.2 -7.7 -.2 -7.7 -1.9 -7.8 -3.8 -5.8 -4.5 -5.5 -6.5 -3.4 -5.8 -2.7 -7.8 -1.3 -7.7 .2 -7.7 1.7 -7.8 3.4 -7.7 4.1 -5.8 5.5 -5.1 5.8 -3.7z"/><path fill="#47e9ee" d="M746.4 706.2l7.7 -1.4 7.8 .2 7.5 1.6 6 2.5 5.8 3.6 5.8 5.5 4.2 5.8 3.3 7.7 1.5 7.7 -.1 7.8 -1.7 7.7 -2.5 5.8 -4.7 7 -5.8 5.6 -5.8 3.8 -7.7 3 -7.8 1.3 -7.7 -.2 -7.7 -2 -5.8 -2.7 -5.8 -4.2 -5.4 -5.8 -3.6 -5.8 -2.9 -7.7 -1.3 -7.8 .2 -7.7 1.7 -7.7 2.5 -5.8 3.9 -5.8 4.9 -4.9 5.8 -3.9z"/><path fill="#50fabe" d="M754.1 706.4l7.7 .2 7.8 1.8 5.8 2.5 5.8 4 5.1 5.1 3.8 5.8 2.7 6.5 1.3 7.1 -.1 7.7 -1.2 5.8 -3.2 7.7 -4.1 5.8 -6.1 5.8 -6 3.6 -5.8 2.3 -7.7 1.4 -7.7 -.3 -5.8 -1.4 -7.8 -3.5 -5.3 -4 -5.1 -5.8 -3.4 -5.8 -2.2 -5.8 -1.4 -7.7 0 -5.9 1.5 -7.7 2.4 -6.1 3.9 -6 5.2 -5.3 6 -3.8 6.2 -2.5z"/><path fill="#64fa91" d="M754.1 708.3l7.7 .2 5.8 1.3 6.4 2.5 5.8 3.9 5.2 5.3 3.9 6.2 2.2 5.9 1.1 5.8 0 5.8 -1.4 7.7 -2.3 5.8 -3.8 5.8 -5.5 5.4 -5.8 3.8 -5.9 2.4 -7.6 1.5 -5.8 -.1 -7.7 -1.6 -5.8 -2.6 -5.8 -4.2 -4.4 -4.6 -3.6 -5.8 -2.3 -5.8 -1.5 -7.7 .2 -7.5 1.3 -6 2.5 -6 3.9 -5.6 3.9 -3.9 5.8 -3.9 5.8 -2.4z"/><path fill="#77fa6f" d="M746.4 712.3l7.7 -1.5 5.8 -0 7.8 1.4 4.8 2 5.9 3.9 4.7 4.8 3.9 5.9 1.9 4.8 1.1 5.8 -.1 7.7 -1.2 5.8 -2.5 5.8 -3.1 4.4 -5.8 5.4 -6.2 3.7 -5.3 2 -5.9 .9 -5.8 -.1 -5.2 -.8 -5.2 -2 -6.2 -3.8 -4.1 -3.9 -4.1 -5.8 -2.2 -5 -1.5 -6.6 -.4 -5.8 1.2 -7.7 2.2 -5.8 2.3 -4 5.3 -5.7 5.7 -3.9z"/><path fill="#8efa51" d="M752.2 721.7l11.6 -.2 9.7 1.6 5.8 3 5.2 5.6 2.1 5.8 .5 3.8 -.1 7.2 -.9 4.4 -1.5 3.9 -2.5 3.9 -2.8 2.8 -3.9 2.4 -3.9 1.3 -5.8 .9 -11.6 .1 -5.8 -.6 -5.8 -1.8 -3.8 -2.2 -3.1 -2.9 -2.5 -3.9 -1.8 -5.8 -.4 -7.7 .5 -5.8 2.1 -5.8 3.2 -4 3.9 -2.9 5.8 -2.2z"/><path fill="#c0fa31" d="M746.4 725.6l7.7 -1.3 13.6 .3 7.7 2.4 3.9 2.9 1.9 2.3 1.7 3.3 1 3.9 .3 5.8 -.9 7.7 -1.6 3.9 -2.4 3 -3.9 2.8 -3.9 1.6 -5.8 1.1 -7.7 .3 -5.8 -.3 -5.8 -1.2 -3.9 -1.7 -3.8 -2.9 -3.1 -4.7 -1.1 -3.8 -.5 -7.8 .8 -5.8 1.4 -3.8 2.5 -3.4 3.8 -3z"/><path fill="#f1ed22" d="M758 725.9l9.7 .5 5.8 1.8 4.7 3.5 2.5 3.9 1.1 3.8 .4 3.9 -.2 5.8 -.8 3.9 -1.9 3.8 -1.8 2 -2.5 1.9 -3.5 1.6 -3.8 1.1 -5.8 .5 -7.8 -.1 -5.8 -1 -3.8 -1.4 -3.8 -2.6 -2 -2.5 -1.6 -3.3 -1 -5.8 .3 -7.8 1.1 -3.8 2.5 -3.9 4.5 -3.3 3.8 -1.5z"/><path fill="#ff9016" d="M752.2 727.7l9.7 -.3 5.8 .6 5.8 2.1 4 3.5 2.5 5.8 .2 9.7 -1.8 5.8 -3.5 3.9 -3.4 1.9 -3.8 1.1 -5.8 .6 -7.8 -.1 -7.7 -1.8 -3 -1.7 -2.8 -2.8 -1.6 -3 -1 -3.9 -.1 -7.7 .8 -3.9 1.9 -3.7 1.9 -2.1 3.9 -2.4z"/><path fill="#ff4b14" d="M750.2 729.6l5.8 -.7 9.7 .3 5.8 1.7 3.7 2.7 2.1 3.2 .8 2.6 .5 7.8 -1.3 5.8 -2.8 3.8 -3 2.1 -3.9 1.3 -3.9 .7 -7.7 .1 -7.7 -1.4 -3.9 -2.1 -1.9 -1.9 -1.7 -2.6 -1.1 -3.9 -0 -7.7 .8 -3.9 2 -3.3 1.9 -1.9z"/><path fill="#fc2313" d="M750.2 731.4l5.8 -.9 9.7 .4 3.8 1.1 3.9 2.7 1.9 2.7 .7 2 .6 5.8 -.7 5.8 -2.5 4.1 -2 1.7 -3.8 1.6 -3.9 .7 -5.8 .2 -7.7 -1 -3.4 -1.5 -2.4 -1.9 -1.9 -3.3 -.7 -2.5 -.3 -5.8 .6 -3.9 2.3 -4.4 1.9 -1.7z"/><path fill="#f20d11" d="M752.2 733.4l5.8 -.6 5.8 .2 3.9 .9 3.8 2.7 2 3.5 .5 5.1 -.5 4.7 -2 3.4 -1.9 1.7 -3.9 1.6 -7.7 .6 -5.8 -.7 -3.7 -1.6 -2.1 -1.9 -1.9 -4.3 -0 -7.4 1.5 -3.8 1.8 -1.9z"/><path fill="#e3010f" d="M754.1 739.4l5.8 -.8 3.9 .7 1.9 1.2 1.9 2.8 .2 3.9 -.7 1.9 -1.9 1.9 -3.4 1.2 -3.8 .2 -5 -1.4 -1.9 -1.9 -.8 -1.9 -.1 -2 1.4 -3.8z"/></g></g><circle cx="757.0" cy="742.3" r="46.5" fill="none" stroke="#444" stroke-width="0.5" opacity="0.7"/><path d="M750.5 694.5l-1.8 1.2M763.5 694.5l1.8 1.2" stroke="#333" stroke-width="0.8" fill="none"/><path d="M709.3 731.6l-1.8 -1.2M709.3 753.0l-1.8 1.2" stroke="#333" stroke-width="0.8" fill="none"/><path d="M804.7 731.6l1.8 -1.2M804.7 753.0l1.8 1.2" stroke="#333" stroke-width="0.8" fill="none"/><g fill="#222" opacity="0.45"><circle cx="745.4" cy="706.0" r=".55"/><circle cx="757.0" cy="706.0" r=".55"/><circle cx="768.6" cy="706.0" r=".55"/><circle cx="739.6" cy="718.1" r=".55"/><circle cx="751.2" cy="718.1" r=".55"/><circle cx="762.8" cy="718.1" r=".55"/><circle cx="774.4" cy="718.1" r=".55"/><circle cx="786.1" cy="718.1" r=".55"/><circle cx="722.1" cy="730.2" r=".55"/><circle cx="733.8" cy="730.2" r=".55"/><circle cx="745.4" cy="730.2" r=".55"/><circle cx="757.0" cy="730.2" r=".55"/><circle cx="768.6" cy="730.2" r=".55"/><circle cx="780.2" cy="730.2" r=".55"/><circle cx="791.9" cy="730.2" r=".55"/><circle cx="727.9" cy="742.3" r=".55"/><circle cx="739.6" cy="742.3" r=".55"/><circle cx="751.2" cy="742.3" r=".55"/><circle cx="762.8" cy="742.3" r=".55"/><circle cx="774.4" cy="742.3" r=".55"/><circle cx="786.1" cy="742.3" r=".55"/><circle cx="797.7" cy="742.3" r=".55"/><circle cx="722.1" cy="754.4" r=".55"/><circle cx="733.8" cy="754.4" r=".55"/><circle cx="745.4" cy="754.4" r=".55"/><circle cx="757.0" cy="754.4" r=".55"/><circle cx="768.6" cy="754.4" r=".55"/><circle cx="780.2" cy="754.4" r=".55"/><circle cx="791.9" cy="754.4" r=".55"/><circle cx="739.6" cy="766.5" r=".55"/><circle cx="751.2" cy="766.5" r=".55"/><circle cx="762.8" cy="766.5" r=".55"/><circle cx="774.4" cy="766.5" r=".55"/><circle cx="786.1" cy="766.5" r=".55"/><circle cx="745.4" cy="778.6" r=".55"/><circle cx="757.0" cy="778.6" r=".55"/><circle cx="768.6" cy="778.6" r=".55"/></g>
<defs><clipPath id="tc14"><circle cx="877.5" cy="742.3" r="46.5"/></clipPath></defs><g clip-path="url(#tc14)"><g filter="url(#tblur)"><circle cx="877.5" cy="742.3" r="48.5" fill="#0b17e4"/><path fill="#1022ef" d="M830.1 693l70.2 0 -3.5 7.7 .5 2 5.5 5.8 8.5 7.2 3.8 2.8 2 .6 9.6 -5.5 0 78 -98.5 -0 -0 -98.6z"/><path fill="#152ffa" d="M830.1 693l62 0 -1.6 5.8 2.6 3.9 19.3 17.4 8.5 9.4 5.8 -1.2 0 63.3 -98.5 -0 -0 -10.9 11.6 -9.1 .9 -1.3 -.9 -3.8 -3.1 -7.8 -2.3 -11.6 -.1 -11.6 1.6 -9.6 .2 -3.9 -.2 -.6 -7.7 -3.9 -0 -24.5z"/><path fill="#2251fe" d="M837.9 693l47.7 0 -.6 3.9 .6 1.9 21.9 19.2 5.6 5.9 5 7.8 2.2 5.8 .9 7.7 -.4 5.8 -1.4 5.8 -3.3 7.7 -4.1 5.8 -6.4 6.5 -5.8 4 -9.7 4.1 -7.7 1.4 -7.8 -0 -7.7 -1.5 -7.7 -3.3 -5.8 -3.9 -7.2 -7.3 -3.9 -5.8 -3.4 -7.7 -1.8 -7.7 -.5 -9.7 .6 -5.8 2 -7.7 3.4 -7.8 5.4 -9.6 -.4 -2.1 -11.2 -13.4z"/><path fill="#368eff" d="M853.3 693l25.3 0 -0 3.9 1.8 1.9 11.6 8.3 13.5 11.4 6.7 7.4 3.5 5.8 2 5.8 .7 7.7 -.6 5.8 -2.4 7.7 -3.1 5.8 -4.9 6.3 -5.8 5 -5.8 3.5 -7.7 2.9 -7.7 1.2 -7.8 -.2 -7.7 -1.9 -7.7 -3.8 -5.8 -4.5 -5.6 -6.5 -3.3 -5.8 -2.3 -5.8 -1.4 -5.8 -.5 -5.8 .4 -7.8 1.8 -7.7 3.5 -7.7 12.5 -17.4 -.2 -2 -3.9 -7.7z"/><path fill="#47e9ee" d="M866.9 699.9l3.9 -.6 5.8 1 7.7 3.7 7.7 5.3 10.6 8.8 6.8 6.9 4.3 6.6 2 5.8 .8 5.8 -.7 7.8 -1.7 5.8 -4.1 7.7 -4.4 5.3 -5.8 4.8 -5.8 3.3 -7.8 2.6 -7.7 .9 -7.7 -.6 -7.8 -2.4 -5.8 -3.2 -5.8 -4.8 -4.8 -5.9 -3.1 -5.8 -2.6 -7.7 -.9 -7.8 .2 -5.8 1.6 -7.7 2.3 -5.8 3.5 -6 5.8 -7.2 7.7 -7.3z"/><path fill="#50fabe" d="M870.7 702.6l5.8 .5 5.8 2.2 7.7 4.8 7.6 6.2 7.9 7.1 3.9 4.5 3.1 5.8 1.7 5.7 .3 5.8 -1.2 7.8 -2.1 5.8 -3.4 5.8 -4.2 4.7 -5.8 4.5 -5.8 3 -7.8 2.3 -7.7 .5 -5.8 -.7 -7.7 -2.5 -5.8 -3.3 -5.4 -4.7 -4.5 -5.8 -3.7 -7.7 -1.5 -5.8 -.6 -5.8 .5 -7.7 2.2 -7.7 3.3 -6.7 5.1 -6.9 6.5 -6.2 5.8 -3.8z"/><path fill="#64fa91" d="M866.9 706l3.9 -1 5.8 .4 3.8 1.2 5.8 3.3 19.4 16.5 3.8 5.1 2 4.2 1.2 5.6 .1 5.8 -1.7 7.8 -2.5 5.8 -4.5 5.8 -4.2 3.7 -5.8 3.5 -5.8 2.4 -7.8 1.4 -5.8 -0 -5.8 -1 -6 -2.3 -6.1 -3.9 -5.3 -5.1 -3.8 -5.9 -2.6 -6.4 -1.3 -5.8 -.3 -7.7 1.4 -7.7 2.3 -5.8 3.4 -5.8 4.8 -5.8 5.8 -5.1z"/><path fill="#77fa6f" d="M868.8 708l3.9 -.5 3.8 .4 5.7 2.5 2.3 1.9 2 3.9 3.7 3.8 7.4 5.8 7.9 5 2.3 2.8 2.4 5.8 .6 5.8 -.6 5.8 -1.6 5.8 -3.1 5.5 -3.8 4.2 -3.9 2.8 -5.8 3 -5.5 1.9 -6.1 .9 -7.7 -.3 -5.8 -1.4 -5.8 -2.7 -3.9 -2.6 -3.9 -3.8 -3.7 -5.6 -2.4 -5.8 -1.5 -7.7 -.1 -5.8 1.6 -7.8 2.3 -5.6 3.8 -6 5.3 -5.8 5 -3.8z"/><path fill="#8efa51" d="M866.9 727.6l9.7 -1.3 13.5 .6 5.8 2 3.9 2.1 5.4 4.5 2.3 3.5 .8 2.3 .5 3.9 -.3 5.8 -2.4 7.7 -4.4 5.8 -3.9 2.9 -5.8 2.5 -5.8 1.1 -5.8 .4 -5.8 -.2 -7.7 -1.2 -5.8 -2.5 -4 -3 -3.1 -3.8 -2.2 -5.8 -.7 -7.8 1.1 -7.7 1.9 -3.9 3.1 -3.3 5.8 -3.5z"/><path fill="#c0fa31" d="M870.7 729.6l9.7 -.7 9.6 .7 5.8 1.7 6.2 4.3 2.8 3.8 .7 2 .9 3.8 .2 3.9 -.3 3.9 -1.1 3.8 -3.7 5.8 -3.7 2.9 -3.9 1.7 -5.8 1.1 -7.7 .4 -7.8 -.4 -5.8 -1.1 -3.8 -1.6 -4.1 -3 -2.8 -3.8 -1.6 -5.8 -.1 -7.8 1.4 -5.8 2.5 -3.8 2.7 -2.4 3.9 -2.1z"/><path fill="#f1ed22" d="M870.7 731.2l7.7 -.7 9.7 .3 5.8 1.4 5.8 3.5 1.9 2.2 1.9 3.4 .9 3.9 .1 3.8 -.1 3.9 -1 3.9 -1.8 3.2 -1.9 2.1 -3.9 2.5 -3.8 1.3 -5.8 1 -9.7 .1 -9.7 -1.7 -3.8 -1.9 -3.2 -2.8 -2.3 -3.8 -.9 -3.9 -.1 -7.7 .9 -3.9 2 -3.9 3.6 -3.2 3.8 -1.9z"/><path fill="#ff9016" d="M868.8 733.3l7.7 -1.2 9.7 .1 7 1.4 4.6 2.6 2.8 3.2 2 5.8 -.1 7.8 -1 3.8 -1.8 2.8 -1.9 2 -3.9 2.2 -3.8 1.2 -5.8 .7 -7.8 -.1 -5.8 -.7 -3.8 -1.2 -3.9 -2.3 -2.4 -2.6 -1.7 -3.9 -.6 -5.8 .5 -5.8 1.5 -3.9 1.5 -1.9 3.1 -2.5z"/><path fill="#ff4b14" d="M874.6 733.6l9.7 -.2 5.8 .9 3.8 1.3 4.6 3.8 1.2 2.2 1 3.6 -0 7.8 -1.3 3.8 -3.2 3.9 -3.5 1.9 -4.6 1.2 -11.6 .4 -8.1 -1.6 -3.5 -1.9 -2 -1.9 -2.1 -3.9 -.6 -3.9 .1 -5.8 1.1 -3.8 2.9 -3.9 2.6 -1.7z"/><path fill="#fc2313" d="M872.7 735.5l7.7 -.6 7.8 .6 5.3 1.9 2.5 2 2.2 3.8 .7 5.8 -.8 5.8 -2.6 3.9 -2.8 1.9 -2.6 1 -3.9 .9 -5.8 .2 -5.8 -.3 -3.8 -.9 -5.1 -2.8 -1.7 -1.9 -1.5 -3.9 -.2 -5.8 .6 -3.9 2.1 -3.6 1.9 -1.7z"/><path fill="#f20d11" d="M874.6 737.4l12 0 5.2 2 2.1 1.8 1.9 4 .3 3.8 -.4 3.9 -2.1 3.9 -2.5 1.9 -3 1.1 -7.7 .9 -7.7 -1 -2.7 -1 -2.6 -1.9 -1.3 -2 -1.1 -3.8 -0 -3.9 .9 -3.9 1.2 -1.9 2.2 -1.9z"/><path fill="#e3010f" d="M876.5 742.6l3.9 -.4 3.8 .3 2.2 .7 1.7 1.3 1.6 2.6 .4 1.9 -.1 2 -1.9 3.3 -3.9 1.8 -3.8 .5 -3.9 -.5 -3.9 -2.1 -1.7 -3.1 .4 -3.8 1.3 -2.4 2 -1.5z"/></g></g><circle cx="877.5" cy="742.3" r="46.5" fill="none" stroke="#444" stroke-width="0.5" opacity="0.7"/><path d="M871.0 694.5l-1.8 1.2M884.0 694.5l1.8 1.2" stroke="#333" stroke-width="0.8" fill="none"/><path d="M829.8 731.6l-1.8 -1.2M829.8 753.0l-1.8 1.2" stroke="#333" stroke-width="0.8" fill="none"/><path d="M925.2 731.6l1.8 -1.2M925.2 753.0l1.8 1.2" stroke="#333" stroke-width="0.8" fill="none"/><g fill="#222" opacity="0.45"><circle cx="865.9" cy="706.0" r=".55"/><circle cx="877.5" cy="706.0" r=".55"/><circle cx="889.1" cy="706.0" r=".55"/><circle cx="860.1" cy="718.1" r=".55"/><circle cx="871.7" cy="718.1" r=".55"/><circle cx="883.3" cy="718.1" r=".55"/><circle cx="894.9" cy="718.1" r=".55"/><circle cx="906.6" cy="718.1" r=".55"/><circle cx="842.6" cy="730.2" r=".55"/><circle cx="854.2" cy="730.2" r=".55"/><circle cx="865.9" cy="730.2" r=".55"/><circle cx="877.5" cy="730.2" r=".55"/><circle cx="889.1" cy="730.2" r=".55"/><circle cx="900.8" cy="730.2" r=".55"/><circle cx="912.4" cy="730.2" r=".55"/><circle cx="848.4" cy="742.3" r=".55"/><circle cx="860.1" cy="742.3" r=".55"/><circle cx="871.7" cy="742.3" r=".55"/><circle cx="883.3" cy="742.3" r=".55"/><circle cx="894.9" cy="742.3" r=".55"/><circle cx="906.6" cy="742.3" r=".55"/><circle cx="918.2" cy="742.3" r=".55"/><circle cx="842.6" cy="754.4" r=".55"/><circle cx="854.2" cy="754.4" r=".55"/><circle cx="865.9" cy="754.4" r=".55"/><circle cx="877.5" cy="754.4" r=".55"/><circle cx="889.1" cy="754.4" r=".55"/><circle cx="900.8" cy="754.4" r=".55"/><circle cx="912.4" cy="754.4" r=".55"/><circle cx="860.1" cy="766.5" r=".55"/><circle cx="871.7" cy="766.5" r=".55"/><circle cx="883.3" cy="766.5" r=".55"/><circle cx="894.9" cy="766.5" r=".55"/><circle cx="906.6" cy="766.5" r=".55"/><circle cx="865.9" cy="778.6" r=".55"/><circle cx="877.5" cy="778.6" r=".55"/><circle cx="889.1" cy="778.6" r=".55"/></g>
<defs><clipPath id="tc15"><circle cx="996.0" cy="742.3" r="46.5"/></clipPath></defs><g clip-path="url(#tc15)"><g filter="url(#tblur)"><circle cx="996.0" cy="742.3" r="48.5" fill="#0b17e4"/><path fill="#1022ef" d="M948.6 693l70 0 -3.5 7.7 .1 2 1.8 3.8 4.1 5.8 5.7 5.8 10.7 8.9 1.9 .7 5.8 -1.9 0 65.8 -98.5 -0 -0 -98.6z"/><path fill="#152ffa" d="M948.6 693l65 0 -2 5.8 -.1 1.9 1.8 3.9 4 5.8 5 5.8 12.2 11.6 4.9 6.2 2 1.6 3.8 -.6 0 56.6 -98.5 -0 -0 -10.9 11.6 -9.1 .9 -1.3 -.9 -3.8 -3.1 -7.8 -1.9 -7.7 -.7 -9.7 .2 -13.5 -.3 -1.1 -5.8 -2.1 -0 -31.6z"/><path fill="#2251fe" d="M948.6 693l60.4 0 -1.3 5.8 1.8 3.9 8.9 11.6 15.2 15.4 3.4 5.8 1.9 5.8 .2 9.7 -.6 3.9 -2 5.8 -2 3.8 -4.1 5.8 -4.5 4.8 -5.8 4.4 -5.8 3.3 -7.7 2.5 -9.7 1.2 -9.6 -1.2 -5.8 -2 -7.8 -4.2 -5.8 -5 -3.8 -4.5 -3.3 -5.1 -3.4 -7.7 -1.5 -5.8 -.8 -5.8 -0 -7.7 .7 -5.8 2.9 -11.6 .3 -3.9 -.7 -1.2 -11.6 -8.4 -0 -13.6z"/><path fill="#368eff" d="M948.6 693l55.8 0 -.6 3.9 .2 1.9 1.2 1.9 13 15.7 13.2 13.3 2.5 3.9 2.2 5.8 .6 7.7 -2 9.7 -3.9 7.7 -6.4 7.8 -6.2 4.9 -7.7 3.8 -7.8 2 -7.7 .5 -7.7 -1.1 -7.8 -2.8 -5.8 -3.5 -5.8 -5.1 -4.9 -6.5 -2.9 -5.8 -2.4 -7.7 -.8 -5.8 0 -7.7 .9 -5.8 1.5 -5.8 4.2 -11.6 .7 -3.9 -16.6 -17.4z"/><path fill="#47e9ee" d="M960.2 693l39.3 0 -.3 3.9 .9 1.9 8.4 8.7 9.7 11.6 9.4 8.7 3.1 3.9 2.8 5.8 1.2 5.8 -.2 5.8 -1.4 5.8 -2.4 5.8 -3.8 5.8 -3.4 3.8 -5.3 4.4 -5.8 3.2 -7.7 2.7 -7.8 .9 -7.7 -.7 -7.7 -2.4 -5.8 -3.2 -5.8 -4.8 -3.9 -4.6 -3.9 -6.6 -2.3 -6.3 -1.1 -5.8 -.3 -7.7 .7 -5.8 1.5 -5.8 7.5 -17.4 .9 -3.9 -.8 -1.9 -8.5 -11.6z"/><path fill="#50fabe" d="M971.8 693l21.4 0 .2 3.9 1.6 1.9 7.7 5.7 3.9 3.5 3.7 4.3 6 8.4 9.6 8 2.7 3 2.3 3.8 1.7 5.8 .2 5.8 -1 5.8 -2 5.3 -3.8 6.3 -3.3 3.9 -4.5 3.9 -5.8 3.6 -5.8 2.2 -7.7 1.4 -7.8 -.3 -5.8 -1.3 -7.7 -3.6 -5.3 -4 -5.2 -5.8 -3.4 -5.8 -3.1 -9.6 -.6 -5.8 .2 -5.8 1.6 -7.8 2.1 -5.8 9.3 -17.4 1.6 -3.8 -4.7 -9.7z"/><path fill="#64fa91" d="M987.3 700.6l3.9 .5 3.8 1.3 3.9 2 5.3 4.1 3.4 3.9 2.5 5.8 2.5 3.8 4.4 3.9 9 5.7 2.8 4 1.5 3.8 .7 5.8 -.6 5.8 -2 5.8 -2.4 4.5 -4.1 5.2 -5.6 4.8 -5.8 3.3 -5.8 2 -7.7 1.1 -5.8 -.4 -5.8 -1.4 -7.5 -3.6 -4.9 -3.9 -5 -5.8 -3.2 -5.8 -2 -5.8 -.9 -5.8 .1 -7.7 1.7 -7.7 2.3 -6.1 5.8 -10.3 5.8 -7.6 5.8 -4.4z"/><path fill="#77fa6f" d="M987.3 704.2l5.8 .4 3.9 1.6 3.5 2.2 3.3 3.9 .6 5.8 2.6 3.9 2.2 1.9 14.8 9.5 2.1 2.1 2 3.9 .8 5.8 -.6 5.8 -2 5.8 -2.3 3.7 -3.8 4.5 -3.9 3.4 -6.3 3.8 -5.3 2 -7.7 1 -5.8 -.4 -5.8 -1.5 -5.8 -2.8 -5.8 -4.5 -3.9 -4.4 -2.9 -4.8 -2.1 -5.8 -1 -5.8 .2 -7.5 1.9 -8 2 -4.8 3.8 -7.3 5.8 -7.8 3.9 -3.3z"/><path fill="#8efa51" d="M985.4 708.3l3.9 -.7 4.7 .9 2.7 1.9 -.1 1.9 -5.4 2.5 -11.6 3.9 -1.9 .5 -1.4 -1.1 .7 -1.9 2.7 -3.9 2.1 -1.9zM985.4 725.6l9.7 -.8 9.6 .7 7.8 2.7 8.3 5.4 4.5 5.8 1.2 5.8 -.1 3.8 -.8 3.9 -3.5 6.2 -1.9 1.9 -3.9 2.5 -5.8 1.7 -7.7 .9 -17.4 -.5 -7.7 -2.2 -3.9 -2.4 -3.8 -4.2 -1.8 -3.9 -1.1 -7.7 .1 -3.9 .8 -3.9 1.9 -4 3.9 -3.8 5.8 -2.8z"/><path fill="#c0fa31" d="M989.2 727.6l9.7 -.3 7.7 .6 5.8 1.9 5.9 3.8 1.9 1.9 2.4 3.9 1.1 5.8 -0 3.8 -.8 3.9 -2.8 4.4 -3.8 3 -3.9 1.7 -7.7 1.5 -7.8 .3 -7.7 -.3 -7.7 -1.5 -3.9 -1.7 -3.9 -3 -2.7 -4.4 -.9 -3.9 0 -7.7 1.1 -3.9 2.7 -3.8 3.7 -2.9 5.8 -2.2z"/><path fill="#f1ed22" d="M987.3 729.4l9.7 -.6 9.6 .6 5.8 1.9 3.9 2.5 3.3 3.7 1.9 5.8 -.3 7.7 -1 2.7 -2 2.8 -3.8 2.8 -3.9 1.6 -5.8 1.1 -5.8 .3 -7.7 -.1 -5.8 -.8 -5.8 -2 -3.6 -2.6 -1.7 -1.9 -1.7 -3.9 -.5 -5.8 .7 -5.8 2.1 -3.8 2.7 -2.6 3.9 -2.1z"/><path fill="#ff9016" d="M985.4 731.2l7.7 -1 9.7 .1 5.8 .9 5.8 2.9 3.3 3.4 1.1 1.9 .9 3.9 -.4 7.7 -2 3.9 -2.9 2.6 -3.9 1.9 -9.6 1.6 -7.8 0 -5.8 -.6 -5.5 -1.6 -3.2 -2 -2 -1.9 -2 -3.9 -.6 -3.8 .3 -5.8 1.5 -3.9 1.9 -2.3 3.8 -2.6z"/><path fill="#ff4b14" d="M991.2 731.6l13.5 .2 5.8 1.6 3.9 2.6 2.5 3.4 1.1 5.8 -.7 5.8 -2.3 3.9 -2.5 2 -4.7 1.9 -10.8 1 -10.9 -1 -4.6 -1.9 -2.5 -2 -1.5 -1.9 -1.4 -3.9 -.1 -5.8 .9 -3.9 2.7 -3.7 3.2 -2.1z"/><path fill="#fc2313" d="M989.2 733.3l7.7 -.5 7.8 .5 3.8 1.1 3.9 2.3 2.2 2.7 1.1 3.9 -.1 5.8 -1.7 3.8 -1.8 2 -3.5 1.9 -7.8 1.5 -11.6 -.5 -4 -1 -3.5 -1.9 -2.2 -2.5 -1.3 -3.3 -.2 -3.9 .4 -3.9 2.1 -3.8 2.3 -2z"/><path fill="#f20d11" d="M989.2 735.4l5.8 -.6 7.7 .3 2.5 .5 4.2 1.9 2 1.9 1.5 3.9 -.2 5.8 -2.2 3.8 -2.9 2 -2.9 .9 -7.8 .9 -7.7 -.8 -3 -1 -2.8 -1.8 -2.3 -4 -.3 -3.9 .6 -3.9 3 -3.8z"/><path fill="#e3010f" d="M991.2 739.3l7.7 -.7 3.9 .7 1.9 1.1 2 1.9 1 2.9 .1 1.9 -1.1 3 -3.9 2.8 -3.9 .6 -7.6 -.6 -3.3 -1.9 -1.4 -1.9 -.4 -2 .5 -3.8 1.3 -2z"/></g></g><circle cx="996.0" cy="742.3" r="46.5" fill="none" stroke="#444" stroke-width="0.5" opacity="0.7"/><path d="M989.5 694.5l-1.8 1.2M1002.5 694.5l1.8 1.2" stroke="#333" stroke-width="0.8" fill="none"/><path d="M948.3 731.6l-1.8 -1.2M948.3 753.0l-1.8 1.2" stroke="#333" stroke-width="0.8" fill="none"/><path d="M1043.7 731.6l1.8 -1.2M1043.7 753.0l1.8 1.2" stroke="#333" stroke-width="0.8" fill="none"/><g fill="#222" opacity="0.45"><circle cx="984.4" cy="706.0" r=".55"/><circle cx="996.0" cy="706.0" r=".55"/><circle cx="1007.6" cy="706.0" r=".55"/><circle cx="978.6" cy="718.1" r=".55"/><circle cx="990.2" cy="718.1" r=".55"/><circle cx="1001.8" cy="718.1" r=".55"/><circle cx="1013.4" cy="718.1" r=".55"/><circle cx="1025.1" cy="718.1" r=".55"/><circle cx="961.1" cy="730.2" r=".55"/><circle cx="972.8" cy="730.2" r=".55"/><circle cx="984.4" cy="730.2" r=".55"/><circle cx="996.0" cy="730.2" r=".55"/><circle cx="1007.6" cy="730.2" r=".55"/><circle cx="1019.2" cy="730.2" r=".55"/><circle cx="1030.9" cy="730.2" r=".55"/><circle cx="966.9" cy="742.3" r=".55"/><circle cx="978.6" cy="742.3" r=".55"/><circle cx="990.2" cy="742.3" r=".55"/><circle cx="1001.8" cy="742.3" r=".55"/><circle cx="1013.4" cy="742.3" r=".55"/><circle cx="1025.1" cy="742.3" r=".55"/><circle cx="1036.7" cy="742.3" r=".55"/><circle cx="961.1" cy="754.4" r=".55"/><circle cx="972.8" cy="754.4" r=".55"/><circle cx="984.4" cy="754.4" r=".55"/><circle cx="996.0" cy="754.4" r=".55"/><circle cx="1007.6" cy="754.4" r=".55"/><circle cx="1019.2" cy="754.4" r=".55"/><circle cx="1030.9" cy="754.4" r=".55"/><circle cx="978.6" cy="766.5" r=".55"/><circle cx="990.2" cy="766.5" r=".55"/><circle cx="1001.8" cy="766.5" r=".55"/><circle cx="1013.4" cy="766.5" r=".55"/><circle cx="1025.1" cy="766.5" r=".55"/><circle cx="984.4" cy="778.6" r=".55"/><circle cx="996.0" cy="778.6" r=".55"/><circle cx="1007.6" cy="778.6" r=".55"/></g>
<defs><clipPath id="tc16"><circle cx="1110.0" cy="742.3" r="46.5"/></clipPath></defs><g clip-path="url(#tc16)"><g filter="url(#tblur)"><circle cx="1110.0" cy="742.3" r="48.5" fill="#0b17e4"/><path fill="#1022ef" d="M1062.6 693l77.7 0 -6 9.7 -.6 1.9 1 3.9 1.8 3.8 5.4 7.5 9.6 8.6 1.9 1 5.8 -1.5 0 63.7 -98.5 -0 -0 -98.6z"/><path fill="#152ffa" d="M1062.6 693l72.2 0 -4.4 9.7 1.2 3.8 2.8 5.8 5.4 7.8 9.5 9.6 4.1 5.3 2 1.6 3.8 -.4 0 55.4 -98.5 -0 -0 -10.9 11.6 -9.1 .9 -1.3 -.9 -3.8 -3.1 -7.8 -1.9 -7.7 -1.3 -19.3 -1.5 -1.9 -3.8 -1.1 -0 -35.7z"/><path fill="#2251fe" d="M1062.6 693l67.1 0 -2.8 7.7 1.4 3.9 7.9 13.5 10.6 11.6 2.8 3.9 2.7 5.8 .8 3.9 -.2 9.6 -2.4 7.8 -2 3.8 -4 5.8 -4.6 4.8 -5.8 4.4 -5.8 3.3 -7.7 2.5 -9.7 1.2 -9.6 -1.2 -5.8 -2 -7.8 -4.2 -5.8 -5 -3.8 -4.5 -3.3 -5.1 -3.4 -7.7 -1.6 -5.8 -.9 -11.6 2.1 -19.3 -.7 -1.6 -9.6 -5.9 -0 -19.6z"/><path fill="#368eff" d="M1062.6 693l62 0 -1.6 5.8 .4 1.9 12.3 19.4 10.5 11.6 2.3 3.8 1.9 5.8 .1 7.8 -1.8 7.7 -3.9 7.7 -6.4 7.8 -6.2 4.9 -7.7 3.8 -7.8 2 -7.7 .5 -7.7 -1.1 -7.8 -2.8 -5.8 -3.5 -5.8 -5.1 -3.6 -4.5 -3.4 -5.8 -2.2 -5.8 -1.7 -7.8 -.3 -5.8 .5 -7.7 4.6 -19.3 -.6 -2 -1 -1 -13.5 -11.7 -0 -6.6z"/><path fill="#47e9ee" d="M1068.4 693l50.7 0 -.7 3.9 .2 1.9 7.8 10 7.7 12.2 10 10.7 2.4 3.8 1.9 5.8 .1 7.8 -2.1 7.7 -4.1 7.7 -7 7.8 -7 4.7 -5.8 2.5 -7.7 1.7 -7.7 .1 -7.8 -1.5 -5.8 -2.3 -5.8 -3.7 -5.8 -5.5 -4 -5.7 -2.8 -5.8 -1.7 -5.8 -1 -7.7 .1 -5.8 1.3 -7.8 6 -17.4 .6 -3.8 -13 -15.5z"/><path fill="#50fabe" d="M1080 693l32.7 0 -.3 3.9 1.2 1.9 10.3 9.7 2.8 3.8 5.5 10.3 7.7 7 3.9 4.6 1.9 4 1.1 5.1 -.2 5.8 -1.4 5.8 -2.7 5.8 -4 5.8 -4.4 4.3 -4.7 3.4 -6.9 3.3 -5.8 1.5 -7.7 .6 -7.7 -1.2 -5.8 -2 -5.8 -3.4 -5.4 -4.6 -4.5 -5.8 -2.1 -3.9 -2.2 -5.8 -1.2 -5.8 -.4 -5.8 .5 -5.8 1.7 -7.9 2.9 -7.5 5.5 -11.6 1.3 -3.9 -7 -11.6z"/><path fill="#64fa91" d="M1093.6 693l8 0 .5 3.9 3 1.9 9.8 4.5 5.8 4.5 4.7 6.5 1.5 5.8 1.8 3.8 3.6 3.9 7.7 4.8 2.4 2.9 1.8 3.9 .8 5.8 -.6 5.8 -2 5.8 -2.4 4.5 -3.9 5 -4.4 4 -5.2 3.4 -5.8 2.4 -7.8 1.4 -5.8 -0 -5.8 -1 -6 -2.3 -5.6 -3.5 -4.6 -4.2 -4.3 -5.8 -2.8 -5.8 -1.6 -5.8 -.6 -5.8 .2 -5.8 1 -5.8 3.1 -9.1 3.8 -7.7 5.8 -8.8 4.7 -5.4 .8 -1.9 -2.2 -5.8z"/><path fill="#77fa6f" d="M1097.4 704.2l3.9 -1.2 5.8 .2 5.8 2 3.8 2.4 4.4 4.7 .6 2 -.5 3.8 .4 2 3.4 5.7 14.2 9.7 2.7 3.9 1 5.8 -.6 5.8 -1.3 3.8 -3 5.4 -3.9 4.7 -3.8 3.5 -6.3 3.8 -5.3 2 -5.8 .9 -5.8 -0 -5.3 -.9 -5.2 -2 -6.1 -3.8 -4.7 -4.6 -3.9 -5.3 -2.5 -5.6 -1.3 -5.8 -.3 -5.8 .3 -3.9 1.9 -8.4 3.7 -8.9 4 -6.8 4 -4.8z"/><path fill="#8efa51" d="M1103.2 706.4l3.9 .2 4.9 1.9 2.4 1.9 .4 1.9 -3.9 1.7 -9.3 2.2 -11.9 4.6 -1.3 -.7 1.3 -3.9 4.7 -5.8 4.9 -3.1zM1103.2 727.6l11.6 -.2 7.7 1 5.8 2.4 7.2 4.8 3.3 3.8 .9 2 .7 3.8 -.1 3.9 -.9 3.9 -3.3 5.3 -2 1.7 -3.8 1.9 -5.8 1.6 -13.6 .8 -13.5 -.8 -5.8 -1.6 -5.8 -3.6 -3.6 -5.3 -1.1 -5.8 .1 -5.8 2.1 -5.8 2.5 -2.8 3.9 -2.3 5.8 -1.9z"/><path fill="#c0fa31" d="M1105.2 729.6l9.7 -.1 7.7 .7 5.8 2.2 4.7 3.1 3.1 3.9 1.4 3.8 -.2 7.8 -1.9 3.8 -3.2 3 -3.9 2 -5.8 1.6 -5.8 .6 -9.7 .1 -7.7 -.7 -5.8 -1.6 -5.3 -3 -3 -3.9 -1.1 -3.9 .1 -7.7 1.6 -3.9 1.9 -2.2 3.9 -2.7 5.8 -2z"/><path fill="#f1ed22" d="M1099.4 731.7l7.7 -.8 9.7 .1 5.8 .7 5.8 2.2 4.5 3.6 2.2 3.9 .6 5.8 -.5 3.8 -.9 2 -2 2.5 -3.9 2.6 -3.9 1.4 -5.8 1 -9.6 .3 -7.8 -.5 -5.8 -1.4 -3.8 -1.8 -2.7 -2.2 -2.3 -3.9 -.6 -3.8 .4 -5.8 1.9 -3.9 1.9 -1.9 3.3 -2.1z"/><path fill="#ff9016" d="M1097.4 733.4l7.7 -1.3 11.6 0 7.8 1.3 3.8 1.9 4 4.1 1.3 3.8 0 5.8 -1.4 3.9 -1.7 1.9 -2.8 2 -3.2 1.3 -5.8 1.2 -15.5 0 -5.8 -1.2 -3.3 -1.3 -2.8 -2 -2.6 -3.8 -.7 -3.9 .1 -3.9 1.1 -3.8 1.3 -2 3 -2.3z"/><path fill="#ff4b14" d="M1103.2 733.5l7.7 -.4 7.8 .4 5.8 1.4 3.8 2.3 2 2.2 1.5 3.9 -.1 5.8 -1.7 3.9 -2 1.9 -3.6 1.9 -9.6 1.7 -7.7 0 -5.8 -.6 -3.9 -1.1 -3.6 -1.9 -2.2 -2.2 -1.5 -3.6 -.3 -3.9 .6 -3.8 2.5 -3.9 2.6 -1.8z"/><path fill="#fc2313" d="M1101.3 735.2l5.8 -.7 9.7 .1 5.1 .9 4.1 2 2.4 2.4 1.3 3.4 .1 3.8 -.9 3.9 -1.4 1.9 -2.6 2 -6.2 1.9 -13.5 .3 -3.9 -.7 -4.4 -1.5 -2.5 -2 -1.4 -1.9 -1 -3.9 .2 -3.8 1.4 -3.7 1.9 -1.9z"/><path fill="#f20d11" d="M1101.3 737.2l5.8 -1 5.8 -.1 5.8 .7 3.9 1.3 2.1 1.3 1.5 1.9 .6 2 .2 3.8 -1.2 3.9 -1.9 1.9 -3.3 1.6 -5.8 1.1 -5.8 .1 -5.8 -.6 -5.2 -2.2 -1.9 -1.9 -.9 -1.9 -.2 -5.8 .7 -2 1.5 -1.9z"/><path fill="#e3010f" d="M1109 739.2l5.8 .2 3.9 1.5 1.9 1.7 1 2.6 .1 1.9 -.5 1.9 -1.5 1.9 -4.4 2 -4.4 .3 -4.4 -.3 -4.4 -2 -1.5 -1.9 -.5 -1.9 .7 -3.9 2.4 -2.4z"/></g></g><circle cx="1110.0" cy="742.3" r="46.5" fill="none" stroke="#444" stroke-width="0.5" opacity="0.7"/><path d="M1103.5 694.5l-1.8 1.2M1116.5 694.5l1.8 1.2" stroke="#333" stroke-width="0.8" fill="none"/><path d="M1062.3 731.6l-1.8 -1.2M1062.3 753.0l-1.8 1.2" stroke="#333" stroke-width="0.8" fill="none"/><path d="M1157.7 731.6l1.8 -1.2M1157.7 753.0l1.8 1.2" stroke="#333" stroke-width="0.8" fill="none"/><g fill="#222" opacity="0.45"><circle cx="1098.4" cy="706.0" r=".55"/><circle cx="1110.0" cy="706.0" r=".55"/><circle cx="1121.6" cy="706.0" r=".55"/><circle cx="1092.6" cy="718.1" r=".55"/><circle cx="1104.2" cy="718.1" r=".55"/><circle cx="1115.8" cy="718.1" r=".55"/><circle cx="1127.4" cy="718.1" r=".55"/><circle cx="1139.1" cy="718.1" r=".55"/><circle cx="1075.1" cy="730.2" r=".55"/><circle cx="1086.8" cy="730.2" r=".55"/><circle cx="1098.4" cy="730.2" r=".55"/><circle cx="1110.0" cy="730.2" r=".55"/><circle cx="1121.6" cy="730.2" r=".55"/><circle cx="1133.2" cy="730.2" r=".55"/><circle cx="1144.9" cy="730.2" r=".55"/><circle cx="1080.9" cy="742.3" r=".55"/><circle cx="1092.6" cy="742.3" r=".55"/><circle cx="1104.2" cy="742.3" r=".55"/><circle cx="1115.8" cy="742.3" r=".55"/><circle cx="1127.4" cy="742.3" r=".55"/><circle cx="1139.1" cy="742.3" r=".55"/><circle cx="1150.7" cy="742.3" r=".55"/><circle cx="1075.1" cy="754.4" r=".55"/><circle cx="1086.8" cy="754.4" r=".55"/><circle cx="1098.4" cy="754.4" r=".55"/><circle cx="1110.0" cy="754.4" r=".55"/><circle cx="1121.6" cy="754.4" r=".55"/><circle cx="1133.2" cy="754.4" r=".55"/><circle cx="1144.9" cy="754.4" r=".55"/><circle cx="1092.6" cy="766.5" r=".55"/><circle cx="1104.2" cy="766.5" r=".55"/><circle cx="1115.8" cy="766.5" r=".55"/><circle cx="1127.4" cy="766.5" r=".55"/><circle cx="1139.1" cy="766.5" r=".55"/><circle cx="1098.4" cy="778.6" r=".55"/><circle cx="1110.0" cy="778.6" r=".55"/><circle cx="1121.6" cy="778.6" r=".55"/></g>
<defs><clipPath id="tc17"><circle cx="269.5" cy="849.0" r="46.5"/></clipPath></defs><g clip-path="url(#tc17)"><g filter="url(#tblur)"><circle cx="269.5" cy="849.0" r="48.5" fill="#132bf8"/><path fill="#2251fe" d="M222.1 799.7l96.6 0 0 98.6 -98.5 -0 -0 -98.6zM266.7 855.8l-3.1 1.9 -1.1 2 -.3 3.8 .6 3.5 1.9 2.3 1.9 .7 5.8 -.3 2 -1.4 1 -2.8 0 -3.9 -1 -3.8 -3.5 -2z"/><path fill="#368eff" d="M222.1 799.7l96.6 0 0 98.6 -98.5 -0 -0 -98.6zM261.3 851.9l-2.4 2.2 -2.1 5.5 .1 7.8 1.6 3.8 2.3 2.5 3.9 1.7 7.7 .2 3.9 -1.2 1.9 -1.5 1.2 -1.7 1.3 -3.8 -.1 -7.8 -.5 -2.6 -1.5 -3.2 -2.3 -2.2 -3.9 -1.3 -5.8 -.1z"/><path fill="#47e9ee" d="M222.1 799.7l96.6 0 0 98.6 -98.5 -0 -0 -98.6zM262.4 848l-3.5 1.8 -2 1.8 -2.3 4.1 -.9 7.8 .3 3.8 1 3.9 2.7 3.9 5 2.8 3.9 .7 5.8 -0 5.4 -1.6 2.3 -1.8 1.5 -2.1 1.4 -3.8 .2 -9.7 -1.4 -5.8 -2.9 -3.9 -4.6 -2.3 -5.8 -.5z"/><path fill="#50fabe" d="M222.1 799.7l96.6 0 0 98.6 -98.5 -0 -0 -98.6zM260.3 846.1l-3.4 1.9 -2 2 -2.9 5.8 -.7 3.8 -0 5.8 .5 3.9 1.3 3.9 3.8 4.6 5.8 2.7 3.9 .6 5.8 -0 5.8 -1.4 3.5 -2.7 1.4 -1.9 1.9 -5.8 .1 -9.7 -.6 -3.8 -1.4 -3.9 -3 -4.1 -1.9 -1.3 -3.9 -1.4 -7.7 -.3z"/><path fill="#64fa91" d="M222.1 799.7l96.6 0 0 98.6 -98.5 -0 -0 -98.6zM258.3 844.2l-5.2 3.9 -2.5 3.8 -1.2 3.9 -.6 5.8 .2 5.8 .7 3.9 1.6 3.8 3.8 4.6 3.8 2.3 3.9 1.2 9.6 .4 3.9 -.6 3.9 -1.5 1.9 -1.5 2.4 -2.9 1.6 -3.9 .7 -3.9 -.2 -11.6 -.7 -3.8 -1.9 -4.5 -3.8 -4.4 -5.8 -2.4 -9.7 -.1z"/><path fill="#77fa6f" d="M222.1 799.7l96.6 0 0 98.6 -98.5 -0 -0 -98.6zM259.1 840.3l-4.1 1.8 -3.9 3 -2.3 2.9 -1.8 3.9 -1.2 5.8 -.2 5.8 .5 5.8 1.6 5.8 3.8 5.8 2.4 1.9 3.7 2 5.1 1.3 5.8 .6 5.8 -.4 5.9 -1.5 3.8 -3.1 1.9 -2.7 1.5 -3.9 .8 -3.9 .3 -5.8 -.4 -7.7 -2.2 -8.6 -3.8 -5.7 -2 -1.6 -3.8 -1.9 -3.9 -.7 -5.8 -.2z"/><path fill="#8efa51" d="M222.1 799.7l96.6 0 0 98.6 -98.5 -0 -0 -98.6zM259.7 822.9l-4.3 1.9 -6.2 4.7 -4.3 5 -3.5 6.5 -1.9 6.1 -1 6.7 -0 9.7 .8 7.7 2 3.9 5.1 5.8 5.7 3.9 4.6 1.9 6 1.4 5.8 .5 5.8 -.3 5.8 -1.2 3.8 -1.8 2.8 -2.5 1.1 -2.2 1.6 -5.5 .6 -5.8 -.1 -7.7 -.5 -5.8 -1.3 -5.8 -2.2 -5.5 -6.6 -10 -2.5 -9.7 -1.6 -1.9 -6.7 -1.5z"/><path fill="#c0fa31" d="M222.1 799.7l96.6 0 0 98.6 -98.5 -0 -0 -98.6zM258.5 819l-7.3 3.4 -6 4.3 -5.6 5.8 -5.3 7.8 -2.5 4.9 -.8 4.7 -.3 5.8 1.1 7.9 3 7.6 3.8 5.8 4.8 4.7 5.8 3.7 7.8 3 7.7 1.5 7.7 .1 7.8 -1.2 5.2 -2.1 4.2 -3.9 1 -1.9 .9 -5.8 .3 -7.8 -.7 -11.6 -1.1 -5.8 -3.3 -11.6 -.6 -9.6 -1.7 -3.9 -1.5 -1.9 -2.7 -2.5 -3.9 -2.1 -3.9 -1 -3.8 -.2z"/><path fill="#f1ed22" d="M222.1 799.7l96.6 0 0 98.6 -98.5 -0 -0 -98.6zM262.1 815.2l-9 2.9 -7.8 4.3 -7.7 6.3 -3.9 5 -3.8 8.6 -1.2 5.8 -.4 7.7 1.3 9.7 1.6 5.8 3.8 7.7 2.6 2.8 5.8 3.6 9.7 3.9 7.7 1.7 9.7 .7 9.6 -1.1 3.9 -1.1 4.6 -2.8 3.4 -3.8 1.6 -3.9 -.5 -19.3 -2.7 -19.4 -.3 -9.6 -1.3 -3.9 -2.5 -3.9 -6.2 -5.8 -3.8 -1.8 -3.9 -.8 -5.8 0z"/><path fill="#ff9016" d="M222.1 799.7l96.6 0 0 98.6 -66.3 -0 1.5 -3.9 1.1 -1.1 21.2 .2 3.9 -.3 5.8 -1.4 3.9 -2.9 4.6 -6.1 1.5 -3.8 .4 -3.9 -2.8 -30.9 -.1 -9.7 -1.1 -5.8 -3.3 -5.8 -5 -5.7 -3.9 -3.2 -3.9 -1.6 -5.8 -.7 -7.7 .7 -7.7 2 -5.8 2.4 -5.8 3.3 -3.9 2.9 -3.9 3.9 -3.8 5.4 -2.9 6.1 -1.7 5.8 -2 17.4 -1.2 1.4 -3.8 1.2 -0 -64.5z"/><path fill="#ff4b14" d="M222.1 799.7l96.6 0 0 98.6 -19.3 -0 -.9 -2 -2 -5.8 -.7 -3.8 2.6 -7.7 .6 -3.9 -1.8 -17.4 -1.3 -25.1 -1.1 -3.9 -2 -3.9 -8.8 -10.9 -3.9 -3.2 -3.9 -1.4 -3.8 -.5 -9.7 .9 -9.7 2.5 -9.6 4.6 -5.8 4.4 -5.1 5.6 -5.5 9.6 -3 9.4 -1.9 1.6 -1.9 -0 -0 -47.7z"/><path fill="#fc2313" d="M227.9 799.7l48.2 0 .7 3.9 -18 3.3 -5.8 1.5 -13.5 5 -12.1 -13.7zM285.9 801.2l2.1 -1.5 30.8 0 -0 94.3 -3.9 2.4 -3.9 .3 -3.8 -2 -3.3 -4.1 -2.5 -5.9 -.4 -3.8 1.1 -9.7 -1.9 -13.5 -1.6 -25.1 -2.2 -5.8 -7.4 -9.7 -7.7 -11.6 .8 -1.9z"/><path fill="#f20d11" d="M297.5 800.7l1.5 -1 19.8 0 -0 81.8 -3.9 2.8 -1.9 .3 -2 -.6 -1.9 -1.6 -2.1 -3.4 -.9 -3.9 -.1 -9.6 -4.5 -32.9 -2.5 -5.8 -7.7 -9.7 -2.9 -5.8 -.2 -1.9 .6 -1.9 2.9 -2.8z"/><path fill="#e3010f" d="M303.3 802.9l5.8 -1.1 3.9 .4 3.8 2.3 2 2.1 -0 46.7 -2 .8 -1.9 -.2 -1.9 -2 -3.9 -7.8 -3.1 -9.6 -2.5 -5.8 -2.8 -3.9 -7.1 -7.6 -2 -4 -.2 -1.9 .6 -2 1.6 -1.7 3.9 -2.4z"/><path fill="#aa000c" d="M301.4 807.4l3.9 -.4 3.8 .7 3.1 1.7 1.9 1.9 1.8 3.9 .4 3.8 -1.4 5.8 -1.9 2.1 -1.9 .6 -3.9 -1.6 -7.7 -5.6 -3.9 -4.2 -1.1 -2.9 .3 -1.9 2.7 -2.4z"/><path fill="#7c0009" d="M299.5 812.7l1.9 -1 2 -.1 1.9 .6 1.9 1.8 .5 1.2 -.4 1.9 -2 1.4 -1.9 0 -2 -.8 -2.4 -2.5 -0 -1.9z"/></g></g><circle cx="269.5" cy="849.0" r="46.5" fill="none" stroke="#444" stroke-width="0.5" opacity="0.7"/><path d="M263.0 801.2l-1.8 1.2M276.0 801.2l1.8 1.2" stroke="#333" stroke-width="0.8" fill="none"/><path d="M221.8 838.3l-1.8 -1.2M221.8 859.7l-1.8 1.2" stroke="#333" stroke-width="0.8" fill="none"/><path d="M317.2 838.3l1.8 -1.2M317.2 859.7l1.8 1.2" stroke="#333" stroke-width="0.8" fill="none"/><g fill="#222" opacity="0.45"><circle cx="257.9" cy="812.7" r=".55"/><circle cx="269.5" cy="812.7" r=".55"/><circle cx="281.1" cy="812.7" r=".55"/><circle cx="252.1" cy="824.8" r=".55"/><circle cx="263.7" cy="824.8" r=".55"/><circle cx="275.3" cy="824.8" r=".55"/><circle cx="286.9" cy="824.8" r=".55"/><circle cx="298.6" cy="824.8" r=".55"/><circle cx="234.6" cy="836.9" r=".55"/><circle cx="246.2" cy="836.9" r=".55"/><circle cx="257.9" cy="836.9" r=".55"/><circle cx="269.5" cy="836.9" r=".55"/><circle cx="281.1" cy="836.9" r=".55"/><circle cx="292.8" cy="836.9" r=".55"/><circle cx="304.4" cy="836.9" r=".55"/><circle cx="240.4" cy="849.0" r=".55"/><circle cx="252.1" cy="849.0" r=".55"/><circle cx="263.7" cy="849.0" r=".55"/><circle cx="275.3" cy="849.0" r=".55"/><circle cx="286.9" cy="849.0" r=".55"/><circle cx="298.6" cy="849.0" r=".55"/><circle cx="310.2" cy="849.0" r=".55"/><circle cx="234.6" cy="861.1" r=".55"/><circle cx="246.2" cy="861.1" r=".55"/><circle cx="257.9" cy="861.1" r=".55"/><circle cx="269.5" cy="861.1" r=".55"/><circle cx="281.1" cy="861.1" r=".55"/><circle cx="292.8" cy="861.1" r=".55"/><circle cx="304.4" cy="861.1" r=".55"/><circle cx="252.1" cy="873.2" r=".55"/><circle cx="263.7" cy="873.2" r=".55"/><circle cx="275.3" cy="873.2" r=".55"/><circle cx="286.9" cy="873.2" r=".55"/><circle cx="298.6" cy="873.2" r=".55"/><circle cx="257.9" cy="885.3" r=".55"/><circle cx="269.5" cy="885.3" r=".55"/><circle cx="281.1" cy="885.3" r=".55"/></g>
<defs><clipPath id="tc18"><circle cx="388.7" cy="849.0" r="46.5"/></clipPath></defs><g clip-path="url(#tc18)"><g filter="url(#tblur)"><circle cx="388.7" cy="849.0" r="48.5" fill="#132bf8"/><path fill="#2251fe" d="M341.3 799.7l96.6 0 0 98.6 -98.5 -0 -0 -98.6zM382.4 851.9l-2.4 4.1 0 8.2 2 3.9 1.9 1.1 2 .1 1.9 -.5 1.6 -1.4 .8 -2 .6 -3.8 -.4 -5.8 -.7 -2.3 -1.9 -1.9 -3.9 -.4z"/><path fill="#368eff" d="M341.3 799.7l96.6 0 0 98.6 -98.5 -0 -0 -98.6zM379.7 846.1l-1.7 1.9 -2 5.8 -.4 7.8 .6 6.2 1.9 4.6 2 2.1 3.8 1.4 3.9 -.1 1.9 -.6 1.9 -1.4 2.5 -4.5 1.1 -7.7 -.9 -9.7 -1.6 -3.9 -3 -2.8 -1.9 -.7 -3.9 -.2z"/><path fill="#47e9ee" d="M341.3 799.7l96.6 0 0 98.6 -98.5 -0 -0 -98.6zM379.3 842.2l-3.2 3.3 -2.3 6.4 -.6 9.6 1 8.5 1.9 4.5 2.6 2.5 5.1 1.7 5.8 -.3 3.9 -2.2 1.9 -3.2 1.2 -3.7 .7 -9.7 -1.1 -9.7 -2.7 -5.8 -3.9 -2.8 -5.8 -.5z"/><path fill="#50fabe" d="M341.3 799.7l96.6 0 0 98.6 -98.5 -0 -0 -98.6zM380.7 838.4l-2.7 1.3 -1.9 1.7 -1.9 2.8 -1.6 3.9 -1.3 9.6 .2 7.8 .7 5.2 1.9 4.4 3.9 3.6 5.8 1.8 5.8 -.1 3.9 -1.4 1.9 -1.6 2.2 -4.2 1.5 -9.7 -.1 -7.7 -.7 -5.8 -1.1 -3.9 -1.8 -3.4 -3.8 -3.6 -3.9 -1.2 -3.9 -.1z"/><path fill="#64fa91" d="M341.3 799.7l96.6 0 0 98.6 -98.5 -0 -0 -98.6zM377.8 836.4l-4.1 3.9 -2 3.8 -1.2 3.9 -1 11.6 .2 7.7 .7 3.9 3.5 5.8 4.2 3.2 5.8 1.7 3.9 .1 3.8 -.6 3.9 -1.8 1.9 -1.7 1.9 -2.8 .5 -2 .9 -5.8 .2 -9.6 -.4 -5.8 -1.1 -5.8 -2.6 -5.8 -3.2 -3.5 -2 -1.1 -3.8 -.9 -3.9 -.1 -3.9 .6z"/><path fill="#77fa6f" d="M341.3 799.7l96.6 0 0 98.6 -98.5 -0 -0 -98.6zM377 832.6l-2.8 2 -3.1 3.8 -2.9 7.7 -1.2 9.7 0 9.7 .7 3.8 1.6 3.9 2.7 3.9 4.5 3.8 3.5 1.6 3.9 .8 7.7 -.4 3.9 -1.5 3.2 -2.4 1.7 -1.9 1.7 -3.9 .7 -7.7 -0 -9.7 -.5 -5.8 -1.2 -5.8 -1.3 -3.9 -2.4 -4.1 -1.9 -2.1 -3.9 -2.4 -3.9 -.8 -3.8 -.1 -3.9 .5z"/><path fill="#8efa51" d="M341.3 799.7l96.6 0 0 98.6 -98.5 -0 -0 -98.6zM384.3 819l-6.2 1.8 -4.1 2.1 -5.1 3.8 -4.4 5 -1.9 3.1 -2.2 5.5 -1.1 5.8 -0 5.8 1.4 7.3 2.5 6.2 4.2 7.7 4.6 5.8 4.1 3.2 3.9 1.6 3.9 .8 5.8 -0 3.8 -.9 5.2 -2.7 4 -3.9 2.4 -3.9 .7 -5.8 -.5 -15.4 -1.1 -9.7 -3.5 -13.5 -.9 -5.8 -2.2 -2 -5.5 -1.9z"/><path fill="#c0fa31" d="M341.3 799.7l96.6 0 0 98.6 -98.5 -0 -0 -98.6zM382.6 815.2l-5.2 1.9 -6.6 3.9 -4.3 3.6 -3.9 4.5 -3.3 5.4 -2.2 5.8 -1 5.8 -.1 5.8 .9 5.8 3.1 7.8 5.2 7.7 4.9 5.8 4.1 3.4 3.9 2.1 5.8 1.3 5.8 .1 5.8 -1.5 5.7 -3.5 7.6 -7.7 3.4 -5.8 .8 -1.9 .6 -3.9 -.6 -11.6 .4 -15.5 -2.2 -5.8 -2.5 -3.8 -3.6 -3.9 -3.8 -2.8 -5.8 -2.8 -3.9 -.8 -3.9 -.2z"/><path fill="#f1ed22" d="M341.3 799.7l96.6 0 0 98.6 -98.5 -0 -0 -98.6zM385.6 811.3l-5.6 1.6 -5.8 2.9 -5.8 4.1 -5.8 5.7 -3.9 5.5 -2.5 5.3 -1.7 5.8 -.8 7.8 .9 7.7 1.9 5.8 3.2 5.8 4.6 5.8 5.7 5.8 6.1 4.1 5.8 1.8 5.8 .5 5.8 -.8 5.8 -2.5 7 -5 4.6 -4.7 3.9 -5.5 3.2 -7.2 1.4 -5.8 .6 -7.8 -.9 -7.7 -2.4 -7.3 -3.4 -6.2 -4.3 -5.5 -5.8 -5.1 -5.8 -3.3 -5.8 -1.7z"/><path fill="#ff9016" d="M341.3 799.7l96.6 0 0 98.6 -98.5 -0 -0 -98.6zM381 809.4l-6.8 3.6 -5.8 4.2 -5.8 5.4 -4.6 6.1 -3.1 6 -2.3 7.6 -.7 7.7 .4 5.8 2.1 7.7 2.9 5.8 4.5 5.8 6.6 6.4 5.8 4.1 3.9 1.7 5.8 1.2 7.7 -.1 5.8 -1.7 6.9 -3.8 6.7 -5.5 3.8 -4.6 3.9 -6.7 2.4 -6.4 1.4 -7.8 -.2 -7.7 -1.8 -7.7 -3.7 -8.3 -5.2 -7.2 -6.4 -6.3 -5.8 -4 -5.8 -2.5 -5.8 -.6z"/><path fill="#ff4b14" d="M341.3 799.7l38.9 0 .6 3.9 -1.4 1.9 -14.9 12.2 -4.7 5.2 -4 5.8 -2.8 5.8 -1.9 5.8 -1 5.8 -0 7.7 1.5 7.8 2.3 5.8 3.5 5.8 5.2 5.7 5.8 4.8 5.8 3.7 5.8 2.1 7.7 .8 5.8 -.6 5.8 -2 7.7 -4.5 5 -4.2 4.7 -5.6 3.5 -6 2.4 -5.8 1.7 -7.8 .3 -5.8 -.6 -5.8 -1.4 -5.8 -2.4 -5.8 -3.3 -5.8 -4.3 -5.8 -5.6 -5.9 -8.5 -7.6 -1.1 -1.9 .7 -3.9 39.8 -0 0 98.6 -98.5 -0 -0 -98.6z"/><path fill="#fc2313" d="M341.3 799.7l25.9 0 2.9 7.7 -1.1 2 -8.4 9.1 -4.8 6.3 -3.3 5.8 -2.3 5.8 -1.5 5.8 -.8 5.8 .1 5.8 .8 5.8 1.7 5.8 2.8 5.8 4.1 5.8 5.2 5.1 7.7 5.6 3.9 2.1 5.8 1.9 7.7 .7 5.8 -.5 5.8 -1.8 5.8 -2.9 5.8 -4.3 5.5 -5.9 4 -5.8 2.9 -5.8 2.4 -7.7 1 -9.7 -1.4 -9.6 -2 -5.8 -4 -7.8 -10.1 -13.5 -2.3 -3.9 2.7 -7.7 28.3 0 0 98.6 -98.5 -0 -0 -98.6z"/><path fill="#f20d11" d="M341.3 799.7l8.1 0 9.3 11.6 .9 1.9 -.6 2 -5 7.7 -4.1 7.7 -2.2 5.8 -1.8 7.8 -.6 7.7 .4 7.7 2.3 9.7 1 2.2 .3 3.6 -9.9 6.9 -0 -82.3zM420.6 799.7l17.4 0 -0 98.6 -32 -0 -1.2 -3.9 -.3 -1.9 10.3 -9.9 7 -9.4 3.8 -7.8 2.7 -9.6 .5 -9.7 -1.8 -9.7 -4.1 -9.6 -8.1 -13.6 -.7 -1.9 .7 -2.3z"/><path fill="#e3010f" d="M432.2 808.8l3.9 -.4 1.9 .5 -0 82.8 -1.9 1 -3.9 .5 -3.9 -1.1 -2.2 -1.6 -3.6 -3.7 -2.2 -4 .5 -1.9 5.2 -9.7 3.2 -7.7 1.8 -7.7 .5 -5.8 -.2 -5.8 -1.6 -7.8 -2.8 -7.7 -4.4 -9.7 -.1 -1.9 4 -4.8z"/></g></g><circle cx="388.7" cy="849.0" r="46.5" fill="none" stroke="#444" stroke-width="0.5" opacity="0.7"/><path d="M382.2 801.2l-1.8 1.2M395.2 801.2l1.8 1.2" stroke="#333" stroke-width="0.8" fill="none"/><path d="M341.0 838.3l-1.8 -1.2M341.0 859.7l-1.8 1.2" stroke="#333" stroke-width="0.8" fill="none"/><path d="M436.4 838.3l1.8 -1.2M436.4 859.7l1.8 1.2" stroke="#333" stroke-width="0.8" fill="none"/><g fill="#222" opacity="0.45"><circle cx="377.1" cy="812.7" r=".55"/><circle cx="388.7" cy="812.7" r=".55"/><circle cx="400.3" cy="812.7" r=".55"/><circle cx="371.3" cy="824.8" r=".55"/><circle cx="382.9" cy="824.8" r=".55"/><circle cx="394.5" cy="824.8" r=".55"/><circle cx="406.1" cy="824.8" r=".55"/><circle cx="417.8" cy="824.8" r=".55"/><circle cx="353.8" cy="836.9" r=".55"/><circle cx="365.4" cy="836.9" r=".55"/><circle cx="377.1" cy="836.9" r=".55"/><circle cx="388.7" cy="836.9" r=".55"/><circle cx="400.3" cy="836.9" r=".55"/><circle cx="411.9" cy="836.9" r=".55"/><circle cx="423.6" cy="836.9" r=".55"/><circle cx="359.6" cy="849.0" r=".55"/><circle cx="371.3" cy="849.0" r=".55"/><circle cx="382.9" cy="849.0" r=".55"/><circle cx="394.5" cy="849.0" r=".55"/><circle cx="406.1" cy="849.0" r=".55"/><circle cx="417.8" cy="849.0" r=".55"/><circle cx="429.4" cy="849.0" r=".55"/><circle cx="353.8" cy="861.1" r=".55"/><circle cx="365.4" cy="861.1" r=".55"/><circle cx="377.1" cy="861.1" r=".55"/><circle cx="388.7" cy="861.1" r=".55"/><circle cx="400.3" cy="861.1" r=".55"/><circle cx="411.9" cy="861.1" r=".55"/><circle cx="423.6" cy="861.1" r=".55"/><circle cx="371.3" cy="873.2" r=".55"/><circle cx="382.9" cy="873.2" r=".55"/><circle cx="394.5" cy="873.2" r=".55"/><circle cx="406.1" cy="873.2" r=".55"/><circle cx="417.8" cy="873.2" r=".55"/><circle cx="377.1" cy="885.3" r=".55"/><circle cx="388.7" cy="885.3" r=".55"/><circle cx="400.3" cy="885.3" r=".55"/></g>
<defs><clipPath id="tc19"><circle cx="513.0" cy="849.0" r="46.5"/></clipPath></defs><g clip-path="url(#tc19)"><g filter="url(#tblur)"><circle cx="513.0" cy="849.0" r="48.5" fill="#317cff"/><path fill="#47e9ee" d="M465.6 799.7l96.6 0 0 98.6 -98.5 -0 -0 -98.6zM505.2 830.6l-1.7 1.9 -.8 3.9 1.6 3.2 1.9 1.5 3 1.1 3 -0 3.7 -1.6 2 -2.3 .6 -3.8 -.7 -2 -1.9 -2.1 -2 -1 -3.8 -.6 -2 .4z"/><path fill="#50fabe" d="M465.6 799.7l96.6 0 0 98.6 -98.5 -0 -0 -98.6zM502.9 811.3l-.8 1.9 2.2 2.2 2 .4 1.9 -.3 2.2 -2.3 -1 -1.9 -1.2 -.6 -1.9 -.3zM503.9 826.8l-3.5 3.5 -1.4 4.2 .6 3.9 2.7 3.9 3.9 2.4 3.9 .7 3.8 -.4 5 -2.7 1.7 -2 1.5 -3.8 -.3 -3.9 -2.1 -3.9 -3.8 -2.8 -3.9 -.9 -3.9 .1z"/><path fill="#64fa91" d="M465.6 799.7l96.6 0 0 98.6 -98.5 -0 -0 -98.6zM500.2 809.4l-2 1.9 -.8 2 -.2 3.8 -3.5 9.7 -.4 5.8 1 5.8 1.9 3.9 2.3 2.8 5.8 3.9 5.8 1 5.8 -1 3.9 -2 3.2 -2.8 3.7 -5.8 1.3 -7.7 -.4 -3.9 -1 -3.9 -1.9 -3.8 -3 -3.7 -7.8 -6 -3.8 -1.5 -3.9 -.3 -3.8 .7z"/><path fill="#77fa6f" d="M465.6 799.7l96.6 0 0 98.6 -98.5 -0 -0 -98.6zM501.4 801.6l-4.8 2.5 -3.9 3.2 -3.2 4 -2.2 3.8 -1.6 3.9 -1.4 5.8 -.1 9.7 1.2 5.8 2.1 5.8 2.3 3.8 2.9 3.4 3.9 3.2 3.9 1.9 3.8 1 3.9 .1 5.8 -1.4 5.8 -2.7 5.8 -4 5.1 -5.3 3.7 -5.8 1.5 -3.9 1.1 -5.8 -.1 -5.8 -1.3 -5.8 -2.6 -5.8 -4.5 -5.8 -4.8 -3.9 -5.8 -2.7 -5.8 -1 -5.8 .3z"/><path fill="#8efa51" d="M560.4 830.4l1.9 -.3 0 68.2 -98.5 0 -0 -53.3 3.8 .4 3.9 2 3.9 3.5 11 12.6 6.9 5.8 8 3.9 6.9 .5 2.3 -.5 6.9 -7.7 17.7 -13.6 3.7 -3.8 8.1 -10.6 3.8 -3.6 3.9 -2.2z"/><path fill="#c0fa31" d="M556.5 841.6l5.8 -.4 -0 57.1 -98.6 -0 0 -35.3 5.8 -1.4 3.9 .6 3.8 1.8 11.6 7.2 7.8 3.8 7.7 2 5.8 -.1 5.5 -1.8 2.9 -2 5.2 -5.8 13.5 -10 11.6 -11.5 3.8 -2.6z"/><path fill="#f1ed22" d="M556.5 847.6l5.8 -.2 -0 50.9 -98.6 0 .2 -23.2 7.6 -4 3.8 -.8 3.9 .8 15.1 5.9 6.1 1.7 7.8 .6 5.8 -1.1 3.8 -1.6 5 -3.4 27.9 -22.8z"/><path fill="#ff9016" d="M552.6 853.8l3.9 -1.5 5.8 .3 -0 45.7 -98.6 -0 -0 -11.7 12.7 -9.6 2.7 -.7 3.9 .3 13.5 3.5 5.8 1 5.8 .2 5.8 -1.1 7.8 -3.8z"/><path fill="#ff4b14" d="M554.6 857.1l3.9 -.5 3.8 1.1 0 40.6 -97.6 0 16.4 -16.5 2 -.8 3.8 -0 13.6 2 5.8 .2 5.8 -.7 3.8 -1.1 5.8 -3 25.2 -17.3z"/><path fill="#fc2313" d="M552.6 861.5l3.9 -.6 2.4 .6 3.4 2 -0 34.8 -86.2 -0 8.7 -11.6 2.1 -1.6 3.8 -.6 15.5 .5 5.8 -.8 3.9 -1.1 5.8 -2.9 17.4 -11.8z"/><path fill="#f20d11" d="M552.6 865.1l3.1 .3 2.7 1.6 2 2.3 1.6 3.8 .2 25.2 -76.6 -0 5.8 -9.7 3.2 -.9 13.5 -1 7.8 -1.9 5.8 -2.8 17.4 -11.6 7.7 -3.6z"/><path fill="#e3010f" d="M548.8 868.9l3.9 -0 1.9 .9 2.7 3.3 1.4 3.9 .5 3.9 -.2 5.8 -2.5 11.6 -62.2 -0 2.1 -5.8 2.1 -1.8 13.6 -2.7 5.8 -2.1 5.8 -3.3 13.5 -9.2 5.8 -2.7z"/><path fill="#aa000c" d="M543 872.8l3.9 -.9 3.8 .3 2 1.2 2 3.6 .9 3.9 -.1 5.8 -1.4 5.8 -2.7 5.8 -48 -0 .3 -3.9 2.1 -1.9 12.1 -4.6 17.4 -11.5z"/><path fill="#7c0009" d="M543 875l3.9 -.3 1.9 .4 2 1.9 1.3 3.9 0 5.8 -1.1 3.8 -2.2 4.4 -2.7 3.3 -32.4 0 -1.1 -3.8 2.1 -1.9 7 -4.5 12.6 -9.1 4.8 -2.6z"/></g></g><circle cx="513.0" cy="849.0" r="46.5" fill="none" stroke="#444" stroke-width="0.5" opacity="0.7"/><path d="M506.5 801.2l-1.8 1.2M519.5 801.2l1.8 1.2" stroke="#333" stroke-width="0.8" fill="none"/><path d="M465.3 838.3l-1.8 -1.2M465.3 859.7l-1.8 1.2" stroke="#333" stroke-width="0.8" fill="none"/><path d="M560.7 838.3l1.8 -1.2M560.7 859.7l1.8 1.2" stroke="#333" stroke-width="0.8" fill="none"/><g fill="#222" opacity="0.45"><circle cx="501.4" cy="812.7" r=".55"/><circle cx="513.0" cy="812.7" r=".55"/><circle cx="524.6" cy="812.7" r=".55"/><circle cx="495.6" cy="824.8" r=".55"/><circle cx="507.2" cy="824.8" r=".55"/><circle cx="518.8" cy="824.8" r=".55"/><circle cx="530.4" cy="824.8" r=".55"/><circle cx="542.1" cy="824.8" r=".55"/><circle cx="478.1" cy="836.9" r=".55"/><circle cx="489.8" cy="836.9" r=".55"/><circle cx="501.4" cy="836.9" r=".55"/><circle cx="513.0" cy="836.9" r=".55"/><circle cx="524.6" cy="836.9" r=".55"/><circle cx="536.2" cy="836.9" r=".55"/><circle cx="547.9" cy="836.9" r=".55"/><circle cx="483.9" cy="849.0" r=".55"/><circle cx="495.6" cy="849.0" r=".55"/><circle cx="507.2" cy="849.0" r=".55"/><circle cx="518.8" cy="849.0" r=".55"/><circle cx="530.4" cy="849.0" r=".55"/><circle cx="542.1" cy="849.0" r=".55"/><circle cx="553.7" cy="849.0" r=".55"/><circle cx="478.1" cy="861.1" r=".55"/><circle cx="489.8" cy="861.1" r=".55"/><circle cx="501.4" cy="861.1" r=".55"/><circle cx="513.0" cy="861.1" r=".55"/><circle cx="524.6" cy="861.1" r=".55"/><circle cx="536.2" cy="861.1" r=".55"/><circle cx="547.9" cy="861.1" r=".55"/><circle cx="495.6" cy="873.2" r=".55"/><circle cx="507.2" cy="873.2" r=".55"/><circle cx="518.8" cy="873.2" r=".55"/><circle cx="530.4" cy="873.2" r=".55"/><circle cx="542.1" cy="873.2" r=".55"/><circle cx="501.4" cy="885.3" r=".55"/><circle cx="513.0" cy="885.3" r=".55"/><circle cx="524.6" cy="885.3" r=".55"/></g>
<defs><clipPath id="tc20"><circle cx="634.6" cy="850.3" r="46.5"/></clipPath></defs><g clip-path="url(#tc20)"><g filter="url(#tblur)"><circle cx="634.6" cy="850.3" r="48.5" fill="#0b17e4"/><path fill="#1022ef" d="M670.4 801l13.5 -0 0 98.6 -98.5 -0 -0 -88.6 11.6 9.3 1.9 .9 1.9 -.8 7.7 -5.4 5.8 -3 5.8 -2.1 7.8 -1.7 5.8 -.5 7.7 .4 7.7 1.4 9.7 3.2 3.2 -.1z"/><path fill="#152ffa" d="M627.8 810.4l5.8 -.5 5.8 .2 7.7 1.4 5.8 1.9 9.7 5.2 11.6 9.7 1.9 -.3 7.8 -4.1 -0 75.7 -98.6 0 -0 -48.3 3.8 -.5 3 -9.2 3.2 -7.7 4.9 -7.7 3.4 -3.9 6.8 -5.4 5.8 -3.2 5.8 -2.1z"/><path fill="#2251fe" d="M625.9 812.4l7.7 -.9 7.8 .5 7.7 1.8 7.7 3.5 7.1 4.9 5.7 5.8 5.1 7.8 5.3 10.7 3.9 -.1 -0 53.1 -98.6 0 0 -33.3 5.8 -1.9 .6 -1.5 2 -17.4 1.6 -5.8 2.4 -5.8 5.1 -7.7 5.9 -5.8 7.5 -4.7z"/><path fill="#368eff" d="M624 814.5l5.8 -1.1 7.7 -.2 5.8 .8 5.8 1.6 5.8 2.5 5.8 3.8 4.6 4.2 3.3 3.9 4.5 7.7 2.2 5.8 1.7 7.8 1.1 9.2 2 1.8 3.8 1 0 36.3 -98.6 -0 0 -20.9 10 -6.2 .3 -3.8 -.8 -9.7 .1 -7.7 1.2 -7.8 2.6 -7.7 4.7 -7.7 5.6 -5.8 7.3 -4.9z"/><path fill="#47e9ee" d="M624 816.1l5.8 -1.2 5.8 -.3 5.8 .6 5.8 1.4 5.8 2.3 5.4 3.3 4.6 3.9 3.5 4.1 4.5 7.5 3 9.7 .8 9.6 -.9 15.5 .4 .7 9.6 5.7 0 20.7 -98.6 -0 0 -7.2 13.6 -11.5 1.4 -2.6 -3.1 -15.5 -.7 -9.6 1.3 -9.7 2.7 -7.7 4.2 -6.8 5.8 -6 5.8 -3.8z"/><path fill="#50fabe" d="M631.7 816.4l9.7 .5 5.8 1.4 4.7 2 8.5 5.8 6.4 7.7 2.1 3.9 2.2 5.8 1.2 5.8 .3 5.8 -1 9.7 -4.1 15.4 .9 2.4 15.5 14.8 -0 2.1 -89.4 0 11 -13.5 .5 -1.9 -5.5 -15.5 -2 -9.6 -.3 -5.8 .5 -5.8 2.7 -9.7 5.2 -8.5 3.8 -4 3.9 -3 7.9 -3.8z"/><path fill="#64fa91" d="M633.6 818.4l5.8 .3 5.8 1.2 5.8 2.2 3.9 2.2 4.7 3.8 3.5 3.8 3.4 5.2 1.9 4.5 2 9.7 0 5.8 -.7 5.8 -3.2 10.2 -7.5 14.9 7 11.6 -57.2 -0 4.8 -9.7 -8.6 -15.4 -3.5 -9.7 -1.1 -5.8 -.3 -5.8 .4 -5.8 1.4 -5.8 2.4 -5.8 2.2 -3.5 5.8 -6.2 5.8 -3.8 4.7 -2z"/><path fill="#77fa6f" d="M627.8 824l5.8 -.6 7.7 .6 7.8 2.1 5.8 2.5 3.8 2.7 3.9 4.1 2.4 4.3 2.1 5.8 .9 5.8 .1 5.8 -.9 5.8 -1.7 5.8 -2.9 6.2 -3.9 6 -5.8 6.5 -7.4 6.4 1 5.8 -20.9 0 .9 -3.9 -.8 -1.9 -7.6 -6.1 -5.8 -6.2 -5.5 -9 -2.9 -7.7 -1.4 -7.7 .1 -7.7 1.9 -7.8 2 -4.3 3.9 -5.1 3.9 -3 6 -3z"/><path fill="#8efa51" d="M627.8 831.8l15.5 -.2 7.7 1.2 3.9 1.5 3.8 2.7 2.3 2.7 1.1 1.9 1.6 5.8 .9 7.7 -0 5.8 -1.5 5.8 -2.4 5.2 -4.2 6.4 -5.5 5.7 -5.8 3.8 -5.8 2 -3.9 .4 -5.8 -.7 -3.8 -1.3 -3.9 -2.2 -4.7 -3.8 -3.4 -3.9 -3.4 -5.8 -1.1 -3.8 2.1 -3.9 -.2 -17.4 .7 -3.9 1.5 -3.8 1.3 -2 3.3 -2.9 3.9 -1.9zM623.7 874.5l4.6 1.9 5.3 .6 7 -.6 2.8 -1.9 -15.6 -.5z"/><path fill="#c0fa31" d="M622 835.7l3.9 -1.2 3.8 -.4 15.5 -0 5.8 1 5.1 2.7 3.1 3.8 1.5 5.8 .2 13.6 -.9 3.8 -1.3 2 -2 1.9 -3.8 1.6 -11.6 1.1 -13.5 -.3 -5.8 -1.4 -3.9 -2.5 -1.9 -2.4 -1.5 -3.8 -.5 -5.8 .3 -9.7 1.1 -3.9 1.2 -1.9 1.8 -1.9zM629.8 882l12.8 .2 -2.9 1.9 -4.1 .5 -4.8 -.5 -2.2 -1.9z"/><path fill="#f1ed22" d="M629.8 835.6l11.6 -.2 5.8 .4 5.8 1.8 2.7 2.1 1.5 1.9 1.4 3.9 .5 11.6 -1.1 5.8 -3 3.8 -3.9 1.9 -3.9 .9 -15.5 .3 -7.7 -1.3 -3.4 -1.8 -1.9 -1.9 -1.9 -3.9 -.6 -3.8 -.1 -7.8 .9 -5.8 2.3 -3.8 2.6 -2 4 -1.5z"/><path fill="#ff9016" d="M625.9 837.7l5.8 -.9 11.6 0 5.8 .8 4.2 2.1 3 3.9 1.1 5.8 -.2 9.6 -1.3 3.9 -1.5 1.9 -2.8 1.9 -2.5 .9 -3.9 .7 -7.7 .3 -9.7 -.6 -3.8 -1.1 -3.1 -2.1 -1.5 -1.9 -1.4 -3.9 -.3 -7.7 .5 -5.8 1.9 -4.1 1.9 -1.9z"/><path fill="#ff4b14" d="M625.9 839.3l5.8 -1.1 11.6 -0 5.8 1 3.9 2.3 2.2 4 .6 3.9 -.3 9.6 -1.7 3.9 -2.1 1.9 -2.6 1.3 -5.8 1.1 -13.5 -.2 -3.9 -1 -2.4 -1.2 -2 -1.9 -1.7 -3.9 -.2 -11.6 1.1 -3.8 1.3 -1.9z"/><path fill="#fc2313" d="M631.7 839.7l13.5 .2 3.9 1.2 3.1 2.5 1.5 3.8 .3 7.8 -1 5.3 -2 2.6 -3.2 1.7 -2.6 .6 -9.6 .4 -7.8 -.8 -3.8 -2.1 -2 -3 -.6 -2.8 -.1 -7.7 .7 -3.9 1.1 -1.9 2 -2 2.7 -1.1z"/><path fill="#f20d11" d="M633.6 841.6l7.7 -0 3.9 .6 3.3 1.4 1.7 1.9 1.2 3.9 .1 5.8 -.7 3.8 -1.7 2.4 -3.9 1.8 -9.7 .6 -5.8 -.6 -4 -2.2 -1.9 -3.9 .3 -9.7 .9 -1.9 1.7 -1.9 3 -1.4z"/><path fill="#e3010f" d="M633.6 847l5.8 -.3 3.9 .9 1.7 1.7 .7 1.9 .2 3.9 -.7 2 -2.4 1.9 -3.4 .6 -3.9 -.1 -3.8 -.9 -2 -1.9 -.4 -1.6 .1 -3.9 .8 -1.9 1.5 -1.5z"/></g></g><circle cx="634.6" cy="850.3" r="46.5" fill="none" stroke="#444" stroke-width="0.5" opacity="0.7"/><path d="M628.1 802.5l-1.8 1.2M641.1 802.5l1.8 1.2" stroke="#333" stroke-width="0.8" fill="none"/><path d="M586.9 839.6l-1.8 -1.2M586.9 861.0l-1.8 1.2" stroke="#333" stroke-width="0.8" fill="none"/><path d="M682.3 839.6l1.8 -1.2M682.3 861.0l1.8 1.2" stroke="#333" stroke-width="0.8" fill="none"/><g fill="#222" opacity="0.45"><circle cx="623.0" cy="814.0" r=".55"/><circle cx="634.6" cy="814.0" r=".55"/><circle cx="646.2" cy="814.0" r=".55"/><circle cx="617.2" cy="826.1" r=".55"/><circle cx="628.8" cy="826.1" r=".55"/><circle cx="640.4" cy="826.1" r=".55"/><circle cx="652.0" cy="826.1" r=".55"/><circle cx="663.7" cy="826.1" r=".55"/><circle cx="599.7" cy="838.2" r=".55"/><circle cx="611.4" cy="838.2" r=".55"/><circle cx="623.0" cy="838.2" r=".55"/><circle cx="634.6" cy="838.2" r=".55"/><circle cx="646.2" cy="838.2" r=".55"/><circle cx="657.9" cy="838.2" r=".55"/><circle cx="669.5" cy="838.2" r=".55"/><circle cx="605.5" cy="850.3" r=".55"/><circle cx="617.2" cy="850.3" r=".55"/><circle cx="628.8" cy="850.3" r=".55"/><circle cx="640.4" cy="850.3" r=".55"/><circle cx="652.0" cy="850.3" r=".55"/><circle cx="663.7" cy="850.3" r=".55"/><circle cx="675.3" cy="850.3" r=".55"/><circle cx="599.7" cy="862.4" r=".55"/><circle cx="611.4" cy="862.4" r=".55"/><circle cx="623.0" cy="862.4" r=".55"/><circle cx="634.6" cy="862.4" r=".55"/><circle cx="646.2" cy="862.4" r=".55"/><circle cx="657.9" cy="862.4" r=".55"/><circle cx="669.5" cy="862.4" r=".55"/><circle cx="617.2" cy="874.5" r=".55"/><circle cx="628.8" cy="874.5" r=".55"/><circle cx="640.4" cy="874.5" r=".55"/><circle cx="652.0" cy="874.5" r=".55"/><circle cx="663.7" cy="874.5" r=".55"/><circle cx="623.0" cy="886.6" r=".55"/><circle cx="634.6" cy="886.6" r=".55"/><circle cx="646.2" cy="886.6" r=".55"/></g>
<defs><clipPath id="tc21"><circle cx="757.0" cy="850.3" r="46.5"/></clipPath></defs><g clip-path="url(#tc21)"><g filter="url(#tblur)"><circle cx="757.0" cy="850.3" r="48.5" fill="#0f1fec"/><path fill="#152ffa" d="M759.9 801l46.4 0 -0 98.6 -98.6 -0 0 -7.8 13.6 -11.5 .1 -2 -5.2 -13.5 -1.7 -11.6 .2 -5.8 1.3 -7.7 3.7 -9.7 2.3 -3.9 4.5 -5.8 8.3 -7 5.8 -3.4 5.8 -2.4 5.8 -1.7 5.4 -.9 1.1 -2 .1 -1.9z"/><path fill="#2251fe" d="M756 808.6l7.7 .1 7.8 1.5 7.7 3.1 7.7 5.4 6.8 7.4 3.4 5.8 2.9 7.7 1.5 9.7 -.3 5.8 -2.2 9.7 -3.5 7.7 -5.7 7.7 -4.8 4.6 -5.8 4 -3.9 2 -5.8 2.1 -9.6 1.6 -5.8 -.2 -7.8 -1.6 -7.7 -3.3 -7.7 -5.6 -5.2 -5.5 -4.7 -7.7 -2.9 -7.8 -1.5 -9.6 .3 -7.8 1.8 -7.7 3.4 -7.7 4.9 -7 5.8 -5.5 5.8 -3.8 9.7 -3.8z"/><path fill="#368eff" d="M756 810.6l7.7 .2 7.8 1.8 7.7 3.6 5.6 4.1 5.4 5.8 3.7 5.8 2.9 7.7 1.4 7.8 -.4 9.6 -2.1 7.8 -3.9 7.7 -4.4 5.8 -6.3 5.5 -5.8 3.5 -7.7 2.9 -7.7 1.2 -7.8 -.3 -7.7 -1.9 -7.7 -3.8 -5.8 -4.5 -5.5 -6.5 -3.3 -5.8 -2.7 -7.7 -1.1 -7.7 .3 -7.8 1.8 -7.7 3.6 -7.7 4.3 -5.8 6.3 -5.8 5.9 -3.6 7.8 -3z"/><path fill="#47e9ee" d="M754.1 812.6l7.7 -.1 7.8 1.5 7.7 3.3 5.8 4.2 5.8 6.3 3.6 6.1 2.8 7.7 .8 5.8 -.1 7.8 -1.8 7.7 -3.6 7.7 -4.3 5.8 -5.1 4.9 -5.8 3.7 -7.8 3.1 -7.7 1.3 -7.7 -.3 -7.8 -1.9 -5.8 -2.8 -5.8 -4.2 -5.2 -5.7 -3.6 -5.8 -2.9 -7.7 -1.2 -7.8 .3 -7.7 1.3 -5.8 3.3 -7.7 4 -5.8 6 -5.8 5.8 -3.7 5.8 -2.4z"/><path fill="#50fabe" d="M754.1 814.3l7.7 -.1 5.8 1.1 7.8 3 5.8 3.9 5.6 5.9 3.7 5.8 2.3 5.8 1.4 7.7 -.1 7.7 -1.3 5.8 -3.2 7.7 -4.1 5.8 -6.1 5.8 -6 3.7 -5.8 2.2 -7.7 1.4 -7.7 -.3 -5.8 -1.3 -7.8 -3.6 -5.2 -4 -4.4 -4.8 -4.1 -6.8 -2.1 -5.8 -1.3 -7.7 .1 -5.8 1.6 -7.8 3.5 -7.7 4.2 -5.7 4.2 -3.9 5.8 -3.9 5.5 -2.4z"/><path fill="#64fa91" d="M754.1 816.2l7.7 -.1 5.8 1.2 7.4 3 5.5 3.9 4.5 4.7 3.9 6.2 2.4 6.5 1 5.8 -0 5.8 -1.5 7.7 -2.3 5.8 -3.8 5.8 -5.5 5.4 -5.8 3.8 -5.9 2.4 -7.6 1.4 -5.8 -0 -7.7 -1.7 -5.8 -2.6 -5.8 -4.1 -4.3 -4.6 -3.6 -5.8 -2.3 -5.8 -1.3 -7.7 .1 -5.8 1.6 -7.8 2 -4.7 3.9 -5.9 4.8 -4.8 5.6 -3.9 5.1 -2.3z"/><path fill="#77fa6f" d="M748.3 820.1l7.7 -1.5 3.9 -.1 7.7 1.3 6 2.4 5.5 3.9 4 4.1 3.9 6.2 1.9 5.1 1.2 7.8 -.3 5.8 -1.3 5.8 -2.4 5.8 -3 4.6 -5.3 5 -6.3 3.8 -5.6 2 -7.9 1.1 -5.8 -.4 -5.8 -1.5 -5.8 -2.7 -3.9 -2.8 -3.9 -3.8 -3.5 -5.3 -2.3 -5.8 -1.1 -5.8 -.2 -5.8 1.2 -7.7 2.1 -5 3.8 -5.9 4.7 -4.6 5.7 -3.9z"/><path fill="#8efa51" d="M750.2 831.8l11.6 -.5 9.7 1.3 5.8 2.5 1.9 1.3 4.5 5.2 2.1 5.8 .5 3.9 -.1 5.8 -1.1 5.8 -1.6 3.9 -2.4 3.4 -5.8 4.8 -3.8 1.7 -5.8 1.2 -9.7 .2 -7.7 -.7 -5.8 -1.8 -3.9 -2.4 -2.7 -2.6 -2.6 -3.8 -1.8 -5.8 -.4 -7.8 .5 -5.8 2.1 -5.8 3 -3.8 3.8 -3.1 3.9 -1.7z"/><path fill="#c0fa31" d="M746.4 835.4l7.7 -1.3 13.6 .5 5.8 1.8 3.8 2.4 2 1.9 1.8 2.8 1.5 3.9 .5 3.9 -.1 7.7 -1.3 5.8 -2.4 3.8 -2 2 -3.8 2.4 -5.8 1.8 -5.8 .6 -7.8 -.1 -3.8 -.4 -5.8 -1.6 -3.9 -2.2 -2.6 -2.5 -2.3 -3.8 -1.4 -5.8 -.1 -7.7 .6 -3.9 1.4 -3.9 2.8 -3.8 3.5 -2.7z"/><path fill="#f1ed22" d="M756 835.7l9.7 .3 5.8 1.5 3.7 2.1 2.1 1.9 2.5 3.9 1 3.9 .3 3.9 -.1 5.8 -.8 3.8 -2 3.9 -1.7 1.9 -5 3.2 -7.8 1.7 -7.7 .2 -5.8 -.6 -3.9 -1 -3.8 -2 -2 -1.6 -2.7 -3.7 -1.6 -5.8 -.2 -5.8 .8 -5.8 1.6 -3.9 3.6 -3.9 3.4 -1.9 4.8 -1.5z"/><path fill="#ff9016" d="M752.2 837.5l9.7 -.3 5.8 .8 5.8 2.4 3.2 3.2 2.4 5.8 .2 9.6 -1.8 5.8 -4 4.3 -3.9 1.9 -3.9 .9 -11.6 .3 -7.7 -1.8 -3.1 -1.7 -2.7 -2.8 -1.9 -3.9 -.8 -4.9 .3 -7.7 1.2 -3.9 2.9 -3.9 2.2 -1.6 3.8 -1.7z"/><path fill="#ff4b14" d="M750.2 839.4l7.7 -.7 7.8 .4 5.8 2.1 2.9 2.4 1.4 1.9 1.5 3.9 .4 7.7 -1.3 5.8 -3 4.1 -3.9 2.3 -3.8 1.1 -9.7 .4 -7.7 -1.3 -3.9 -2.1 -1.9 -1.8 -1.7 -2.7 -1.1 -3.9 -.1 -7.7 .8 -3.9 2.1 -3.5 1.9 -1.8z"/><path fill="#fc2313" d="M750.2 841.2l7.7 -.9 7.8 .6 3.8 1.3 3.9 3.2 1.9 4.2 .4 7.5 -1.5 5.8 -2.7 3.1 -5.9 2.7 -9.6 .4 -5.8 -.8 -3.5 -1.6 -2.3 -1.9 -1.9 -3.1 -.8 -2.7 -.2 -5.8 .5 -3.9 2.4 -4.6 1.9 -1.7z"/><path fill="#f20d11" d="M752.2 843.2l7.7 -.6 5.8 .7 3.9 2 1.9 2.1 1.5 3.9 .2 5.8 -1 3.9 -2.6 3.3 -5.8 2.5 -7.7 .2 -5.8 -1.2 -2 -1 -2.1 -1.9 -1.8 -3.9 -.3 -3.8 .4 -4.6 1.3 -3.2 1.7 -1.9z"/><path fill="#e3010f" d="M754.1 849.1l3.9 -.7 3.8 .3 2 .7 1.9 1.4 1.6 4.4 -.1 1.9 -1.5 2.9 -1.9 1.3 -3.9 .9 -3.9 -.1 -3.8 -1.5 -1.4 -1.6 -.8 -1.9 .2 -3.9 2 -2.9z"/></g></g><circle cx="757.0" cy="850.3" r="46.5" fill="none" stroke="#444" stroke-width="0.5" opacity="0.7"/><path d="M750.5 802.5l-1.8 1.2M763.5 802.5l1.8 1.2" stroke="#333" stroke-width="0.8" fill="none"/><path d="M709.3 839.6l-1.8 -1.2M709.3 861.0l-1.8 1.2" stroke="#333" stroke-width="0.8" fill="none"/><path d="M804.7 839.6l1.8 -1.2M804.7 861.0l1.8 1.2" stroke="#333" stroke-width="0.8" fill="none"/><g fill="#222" opacity="0.45"><circle cx="745.4" cy="814.0" r=".55"/><circle cx="757.0" cy="814.0" r=".55"/><circle cx="768.6" cy="814.0" r=".55"/><circle cx="739.6" cy="826.1" r=".55"/><circle cx="751.2" cy="826.1" r=".55"/><circle cx="762.8" cy="826.1" r=".55"/><circle cx="774.4" cy="826.1" r=".55"/><circle cx="786.1" cy="826.1" r=".55"/><circle cx="722.1" cy="838.2" r=".55"/><circle cx="733.8" cy="838.2" r=".55"/><circle cx="745.4" cy="838.2" r=".55"/><circle cx="757.0" cy="838.2" r=".55"/><circle cx="768.6" cy="838.2" r=".55"/><circle cx="780.2" cy="838.2" r=".55"/><circle cx="791.9" cy="838.2" r=".55"/><circle cx="727.9" cy="850.3" r=".55"/><circle cx="739.6" cy="850.3" r=".55"/><circle cx="751.2" cy="850.3" r=".55"/><circle cx="762.8" cy="850.3" r=".55"/><circle cx="774.4" cy="850.3" r=".55"/><circle cx="786.1" cy="850.3" r=".55"/><circle cx="797.7" cy="850.3" r=".55"/><circle cx="722.1" cy="862.4" r=".55"/><circle cx="733.8" cy="862.4" r=".55"/><circle cx="745.4" cy="862.4" r=".55"/><circle cx="757.0" cy="862.4" r=".55"/><circle cx="768.6" cy="862.4" r=".55"/><circle cx="780.2" cy="862.4" r=".55"/><circle cx="791.9" cy="862.4" r=".55"/><circle cx="739.6" cy="874.5" r=".55"/><circle cx="751.2" cy="874.5" r=".55"/><circle cx="762.8" cy="874.5" r=".55"/><circle cx="774.4" cy="874.5" r=".55"/><circle cx="786.1" cy="874.5" r=".55"/><circle cx="745.4" cy="886.6" r=".55"/><circle cx="757.0" cy="886.6" r=".55"/><circle cx="768.6" cy="886.6" r=".55"/></g>
<defs><clipPath id="tc22"><circle cx="877.5" cy="850.3" r="46.5"/></clipPath></defs><g clip-path="url(#tc22)"><g filter="url(#tblur)"><circle cx="877.5" cy="850.3" r="48.5" fill="#0f1fec"/><path fill="#152ffa" d="M830.1 801l96.6 0 0 98.6 -98.5 -0 -0 -10.9 11.6 -9.1 .9 -1.3 -.9 -3.8 -3.1 -7.8 -2.3 -11.6 -.1 -11.6 1.6 -9.8 -0 -3.7 -7.7 -3.8 -0 -25.2z"/><path fill="#2251fe" d="M845.6 801l81.2 0 -0 3.8 -14.7 13.6 .9 3.9 5.3 9.6 2 5.8 1.2 5.8 .5 9.7 -1.8 9.7 -4.1 9.6 -4.1 5.8 -6.5 6.5 -5.8 4 -9.6 4.1 -7.8 1.4 -7.7 -0 -7.7 -1.5 -7.8 -3.3 -5.8 -3.9 -5.5 -5.3 -4.3 -5.8 -3.1 -5.8 -2.1 -5.8 -1.5 -7.8 -.3 -7.7 1 -7.7 3.2 -9.7 4.2 -7.7 7.1 -9.7 -.5 -1.9 -6.3 -9.7z"/><path fill="#368eff" d="M870.7 806.6l5.8 -1.1 7.7 .7 7.8 3 7.7 4.8 7 6.4 5.8 7.7 3.8 7.7 2 7.8 .5 7.7 -.9 7.7 -2.4 7.7 -4.5 7.8 -5.5 6.2 -5.8 4.5 -7.7 3.8 -7.8 2.1 -7.7 .4 -7.7 -1.1 -7.8 -2.7 -5.8 -3.5 -5.8 -5.2 -4.9 -6.5 -3.7 -7.7 -2 -7.7 -.5 -7.7 .7 -7.8 2.2 -7.7 3.9 -7.7 6.2 -7.8 5.9 -5.1 5.8 -3.6z"/><path fill="#47e9ee" d="M868.8 810.2l7.7 -1.3 7.8 .7 5.8 1.8 7.7 4.1 5.8 4.8 5.8 6.7 3.8 6.8 2.6 7.8 1 7.7 -.6 7.7 -2 7.7 -2.9 5.8 -5.8 7.3 -5.8 4.8 -5.8 3.3 -7.7 2.6 -7.7 .9 -7.8 -.7 -7.7 -2.4 -5.8 -3.1 -5.8 -4.8 -4.8 -5.9 -3.2 -5.8 -2.5 -7.7 -1 -7.8 .5 -7.7 2 -7.7 2.6 -5.8 4.5 -6.7 5.8 -5.8 5.8 -4z"/><path fill="#50fabe" d="M868.8 812.5l5.8 -1.2 7.7 .2 7.8 2.2 5.8 3 5.8 4.5 5.8 6.4 3.8 6.6 2.6 7.4 1 7.7 -.2 5.8 -1.7 7.7 -2.4 5.8 -5.1 6.8 -5.8 5 -6.3 3.7 -7.2 2.5 -7.7 1 -5.8 -.4 -7.8 -2 -5.8 -2.9 -5.8 -4.4 -4.6 -5.4 -3.4 -5.8 -2.7 -7.7 -1.1 -7.8 .6 -7.7 1.6 -6.4 3.3 -7.1 4.4 -6.1 5.8 -5.4 5.8 -3.7z"/><path fill="#64fa91" d="M870.7 814.2l5.8 -.8 7.7 .7 6.8 2.4 6.5 3.9 6.1 5.6 3.8 5.2 3.2 6.6 1.7 5.8 .8 7.7 -.4 5.8 -2 7.7 -3.1 5.8 -4 4.5 -5.8 4.4 -5.8 3.1 -7.8 2.4 -7.7 .6 -5.8 -.7 -5.8 -1.7 -5.8 -3.1 -5.8 -4.7 -3.9 -4.8 -3.8 -7.5 -1.7 -6 -.6 -5.8 .5 -7.7 1.8 -6.5 3.5 -7.1 4.6 -5.8 5.4 -4.6 5.8 -3.4z"/><path fill="#77fa6f" d="M872.7 816.2l5.8 -.4 5.8 .7 5.4 1.9 6.5 3.9 5.5 5.1 3.9 5.2 3.8 8.6 1.5 6.2 .5 5.8 -.9 7.7 -2 5.8 -2.5 3.9 -4.3 4.2 -3.9 2.6 -5.8 2.8 -7.7 2.4 -7.7 .6 -7.3 -1 -6.3 -2.4 -5.3 -3.4 -4.3 -4 -3.9 -5.7 -1.9 -4.6 -1.6 -7 -.4 -7.4 1.1 -6.1 2.8 -7.6 1.9 -3.2 3.7 -4.7 4.2 -3.8 6.4 -3.9z"/><path fill="#8efa51" d="M866.9 839.3l9.7 -1.1 15.4 .4 7.8 1.8 5.8 3.3 1.9 1.9 .9 1.8 1 3.6 .3 4.2 -1.2 7.7 -2.9 6.3 -3.9 3.9 -3.9 2.5 -5.8 2.2 -5.8 .8 -9.6 .1 -9.7 -1.1 -5.8 -2.2 -3.9 -2.6 -3.5 -4.1 -1.8 -3.9 -1 -7.7 .7 -5.8 1.8 -3.9 3.8 -3.9 3.9 -2.3z"/><path fill="#c0fa31" d="M868.8 841.5l7.7 -1 13.6 .3 7.7 1.8 5.1 2.9 3.4 3.8 1.6 5.8 -.8 7.8 -2.8 5.8 -2.6 2.8 -3.9 2.5 -3.9 1.4 -5.8 .8 -11.6 .1 -7.7 -.8 -5.8 -2 -3.9 -2.5 -3.4 -4.3 -1.2 -3.8 -.2 -7.8 .9 -3.8 2 -3.5 2.3 -2.3 5.4 -3z"/><path fill="#f1ed22" d="M868.8 843l7.7 -1 11.6 .1 5.8 1 5.8 2.4 4.1 3.8 1.1 1.9 1 3.9 -.3 7.7 -2 4.5 -3 3.2 -2.8 1.8 -3.9 1.4 -5.8 1 -9.6 .2 -7.8 -.7 -5.7 -1.7 -3.4 -2 -3.5 -3.8 -1.4 -3.9 -.3 -5.8 .5 -3.8 1.7 -3.9 2.5 -2.7 3.8 -2.3z"/><path fill="#ff9016" d="M874.6 843.4l9.7 -.2 5.8 .5 5.8 1.5 3.8 2.2 3.2 3.8 1.3 5.8 -.6 6.5 -1.4 3.2 -1.6 1.9 -2.8 2.1 -5.8 2.1 -11.6 .8 -5.8 -.2 -5.8 -1.1 -3.9 -1.5 -3 -2.2 -2.7 -3.8 -.9 -3.9 .1 -5.8 1.2 -3.9 1.5 -2.2 3.8 -3 3.9 -1.5z"/><path fill="#ff4b14" d="M870.7 845.4l7.7 -.9 9.7 .3 5.8 1.3 3.9 2 2.9 3.2 1.3 3.8 -.2 7.8 -1.8 3.8 -2.2 2.1 -3.3 1.8 -8.3 1.7 -7.8 .1 -5.8 -.5 -4.7 -1.3 -3.5 -1.9 -2 -2 -1.9 -3.8 -.3 -5.8 .6 -3.9 2.2 -3.7 1.9 -1.6z"/><path fill="#fc2313" d="M870.7 847l5.8 -1 9.7 .1 5.8 1 3.8 1.8 2.4 2.3 1.7 3.9 .1 5.8 -1.2 3.9 -1.5 1.9 -2.6 1.9 -6.6 2 -13.5 .1 -6.9 -2.1 -2.7 -1.9 -2 -3.3 -.6 -2.5 .1 -5.8 .5 -1.9 1.9 -2.8 1.9 -1.6z"/><path fill="#f20d11" d="M870.7 849.3l5.8 -1.3 5.8 -.2 5.8 .6 3.9 1.1 2.6 1.7 1.5 2 .8 1.9 .2 5.8 -1.3 3.4 -1.9 2 -1.9 1.1 -5.8 1.5 -11.6 -.2 -5.6 -2 -2.2 -1.9 -1 -2 -.6 -5.8 1.6 -4.7z"/><path fill="#e3010f" d="M876.5 852.8l5.8 -.5 3.9 .6 1.9 .9 1.6 1.3 .9 2 .2 3.8 -1 2 -3.6 2.1 -5.8 .6 -5 -.8 -2.8 -1.9 -1 -2 .1 -3.8 .9 -2z"/></g></g><circle cx="877.5" cy="850.3" r="46.5" fill="none" stroke="#444" stroke-width="0.5" opacity="0.7"/><path d="M871.0 802.5l-1.8 1.2M884.0 802.5l1.8 1.2" stroke="#333" stroke-width="0.8" fill="none"/><path d="M829.8 839.6l-1.8 -1.2M829.8 861.0l-1.8 1.2" stroke="#333" stroke-width="0.8" fill="none"/><path d="M925.2 839.6l1.8 -1.2M925.2 861.0l1.8 1.2" stroke="#333" stroke-width="0.8" fill="none"/><g fill="#222" opacity="0.45"><circle cx="865.9" cy="814.0" r=".55"/><circle cx="877.5" cy="814.0" r=".55"/><circle cx="889.1" cy="814.0" r=".55"/><circle cx="860.1" cy="826.1" r=".55"/><circle cx="871.7" cy="826.1" r=".55"/><circle cx="883.3" cy="826.1" r=".55"/><circle cx="894.9" cy="826.1" r=".55"/><circle cx="906.6" cy="826.1" r=".55"/><circle cx="842.6" cy="838.2" r=".55"/><circle cx="854.2" cy="838.2" r=".55"/><circle cx="865.9" cy="838.2" r=".55"/><circle cx="877.5" cy="838.2" r=".55"/><circle cx="889.1" cy="838.2" r=".55"/><circle cx="900.8" cy="838.2" r=".55"/><circle cx="912.4" cy="838.2" r=".55"/><circle cx="848.4" cy="850.3" r=".55"/><circle cx="860.1" cy="850.3" r=".55"/><circle cx="871.7" cy="850.3" r=".55"/><circle cx="883.3" cy="850.3" r=".55"/><circle cx="894.9" cy="850.3" r=".55"/><circle cx="906.6" cy="850.3" r=".55"/><circle cx="918.2" cy="850.3" r=".55"/><circle cx="842.6" cy="862.4" r=".55"/><circle cx="854.2" cy="862.4" r=".55"/><circle cx="865.9" cy="862.4" r=".55"/><circle cx="877.5" cy="862.4" r=".55"/><circle cx="889.1" cy="862.4" r=".55"/><circle cx="900.8" cy="862.4" r=".55"/><circle cx="912.4" cy="862.4" r=".55"/><circle cx="860.1" cy="874.5" r=".55"/><circle cx="871.7" cy="874.5" r=".55"/><circle cx="883.3" cy="874.5" r=".55"/><circle cx="894.9" cy="874.5" r=".55"/><circle cx="906.6" cy="874.5" r=".55"/><circle cx="865.9" cy="886.6" r=".55"/><circle cx="877.5" cy="886.6" r=".55"/><circle cx="889.1" cy="886.6" r=".55"/></g>
<defs><clipPath id="tc23"><circle cx="996.0" cy="850.3" r="46.5"/></clipPath></defs><g clip-path="url(#tc23)"><g filter="url(#tblur)"><circle cx="996.0" cy="850.3" r="48.5" fill="#0f1fec"/><path fill="#152ffa" d="M948.6 801l96.6 0 0 98.6 -98.5 -0 -0 -10.9 11.6 -9.1 .9 -1.3 -.9 -3.8 -3.1 -7.8 -1.9 -7.7 -.7 -7.7 -.1 -14.8 -5.8 -2.2 -0 -33.3z"/><path fill="#2251fe" d="M948.6 801l96.6 0 0 98.6 -21.6 -0 -4.3 -7.8 -1.1 -.7 -17.4 3.4 -5.8 0 -7.7 -1.2 -9.7 -3.8 -3.9 -2.4 -5.8 -5 -3.8 -4.5 -3.3 -5.1 -3.4 -7.7 -1.6 -5.8 -.9 -7.7 .3 -7.8 4 -19.3 -.9 -1.8 -11.6 -8.6 -0 -12.8z"/><path fill="#368eff" d="M954.4 801l90.8 0 0 2.2 -15.6 15.2 .2 1.9 5.8 8.2 1.9 1.9 7.7 -3.6 0 40.8 -5.8 -2 -1.9 1.6 -7.4 9.2 -6.1 5.4 -7.7 5 -9.7 3.5 -7.7 1.2 -9.7 -.6 -7.7 -2.4 -7.8 -4.4 -5.8 -5.1 -4.9 -6.5 -3.7 -7.7 -1.6 -5.8 -1 -9.7 1 -9.6 2.2 -7.8 4.9 -11.6 1.1 -3.8 -13.2 -15.5z"/><path fill="#47e9ee" d="M968 801l51.1 0 -3.6 7.7 .6 2 10.4 11.6 6.6 9.6 4 9.7 1.1 9.7 -1.8 9.6 -3.7 7.8 -6.1 7.7 -8.3 6.7 -7.8 3.9 -7.7 2 -7.7 .5 -7.8 -1.1 -7.7 -2.9 -5.8 -3.7 -5.7 -5.4 -4 -5.5 -2.9 -6.1 -1.8 -5.8 -.8 -5.8 -.1 -5.8 1 -7.7 2.4 -7.8 3.8 -7.7 7 -11.6 .1 -1.9 -5.7 -9.7z"/><path fill="#50fabe" d="M981.5 801l23.1 0 -.7 3.9 1 1.9 11.4 8.6 8.7 8.8 5.4 7.7 4 9.7 1 5.8 -.2 7.7 -2.2 7.8 -2.9 5.8 -4.5 5.8 -5.4 4.9 -5.8 3.7 -7.8 3.1 -7.7 1.3 -5.8 -0 -7.2 -1.5 -6.3 -2.6 -5.8 -3.8 -5.8 -6 -3.9 -6.1 -2.5 -6.6 -1.3 -5.8 -.3 -5.8 .5 -5.8 1.7 -7.2 2.6 -6.3 4.5 -7.7 4.5 -5.7 7.4 -7.9 1.1 -1.9 -1.9 -5.8z"/><path fill="#64fa91" d="M993.1 808.5l5.8 .5 7.7 2.9 7.8 5.1 5.8 5.1 5.1 5.9 3.7 5.8 2.8 6.5 1.4 7.1 -.3 7.7 -1.4 5.8 -2.6 5.8 -4.3 5.8 -6.3 5.8 -5.9 3.6 -5.8 2.3 -7.7 1.4 -7.7 -.4 -5.8 -1.3 -5.8 -2.7 -5.8 -4.1 -4.4 -4.6 -3.8 -5.8 -2.3 -5.8 -1.4 -7.7 .1 -7.8 1.6 -7.7 2.4 -6.1 3.9 -6.6 5.8 -7 5.8 -5 5.8 -3.2z"/><path fill="#77fa6f" d="M989.2 812.5l5.8 -.8 5.8 .9 5.8 2.4 5.8 3.6 6.4 5.6 5.2 6.1 3.9 6.7 2.2 6.5 .8 5.8 -.3 5.8 -1.4 5.8 -3.3 6.6 -3.8 4.6 -5.8 4.8 -5.9 3.3 -5.7 2 -7.8 1 -5.8 -.4 -5.8 -1.5 -5.8 -2.8 -5.8 -4.3 -3.8 -4.2 -3.2 -5.2 -1.9 -5.8 -.9 -5.8 .2 -7 1.9 -8.5 1.9 -4.8 4 -6.8 5.7 -6.6 5.8 -4.5z"/><path fill="#8efa51" d="M989.2 816.1l5.8 -.8 6.7 1.2 7 3.9 2.1 1.9 1.1 1.9 -11.1 -1.6 -5.8 -0 -5.8 .7 -9.7 2.2 -.9 -1.3 3.2 -3.8 2.5 -2zM985.4 837.7l9.7 -.8 11.6 .4 7.7 1.5 11.6 4.7 1.9 5.8 .1 5.9 -1.2 5.8 -2.7 5.8 -3.9 4.1 -3.9 2.4 -5.8 1.7 -5.8 .7 -11.6 .1 -7.7 -.6 -5.8 -1.4 -5.8 -3.2 -3.9 -4.4 -2.1 -5.2 -.7 -7.8 1.3 -5.8 2.6 -3.8 4.7 -3.3 3.9 -1.5z"/><path fill="#c0fa31" d="M989.2 839.5l11.6 -.3 7.7 .8 7.8 2.5 3.8 2.8 3.1 4 1.2 5.8 -.3 5.8 -1.5 3.9 -1.4 1.9 -3 2.6 -5.8 2.5 -5.8 1.2 -5.8 .5 -9.7 -.1 -5.8 -.7 -5.8 -1.6 -4.3 -2.4 -3.4 -3.9 -1.5 -3.9 -.3 -7.7 .9 -3.9 2.6 -3.8 4.1 -3.1 5.8 -2.1z"/><path fill="#f1ed22" d="M985.4 841.5l7.7 -.9 11.6 .3 7.8 1.7 3.8 2 3.1 2.8 1.2 1.9 1.2 3.9 -.2 7.7 -1.6 3.9 -1.7 1.9 -3.9 2.6 -5.8 1.9 -5.8 .8 -15.5 -.4 -5.8 -1.5 -3.8 -1.9 -3.5 -3.4 -1.7 -3.9 -.4 -5.8 .5 -3.8 1.9 -3.9 1.9 -1.9 3.2 -2.1z"/><path fill="#ff9016" d="M983.4 843.4l7.7 -1.4 11.6 0 5.8 .9 5.8 2.3 2.8 2.2 2.2 3.9 .6 5.8 -1.1 5.8 -1.2 1.9 -3.3 2.8 -3.8 1.8 -5.8 1.2 -7.8 .4 -7.7 -.4 -5.8 -1.2 -3.9 -1.8 -3.2 -2.8 -1.2 -1.9 -1.1 -3.9 .1 -5.8 1.2 -3.8 1.4 -2 2.8 -2.3z"/><path fill="#ff4b14" d="M989.2 843.4l9.7 -.4 6.6 .5 5 1.4 4.2 2.5 2.6 3.9 .7 3.8 -.5 5.8 -2.3 3.9 -2.8 2.2 -3.9 1.5 -9.6 1.2 -11.6 -.7 -3.9 -1.1 -3.9 -2.3 -1.9 -2.1 -1.3 -2.6 -.5 -5.8 .7 -3.8 2.6 -3.9 2.4 -1.6z"/><path fill="#fc2313" d="M987.3 845.2l5.8 -.7 9.7 .1 4.8 .9 4.2 1.9 2.6 2.6 1.2 3.2 .1 5.8 -1.4 3.9 -1.8 1.9 -3.3 1.9 -8.4 1.7 -11.6 -.5 -4.5 -1.2 -3.2 -1.8 -2 -2 -.9 -2 -.6 -3.8 .2 -3.9 1.4 -3.3 1.9 -2z"/><path fill="#f20d11" d="M987.3 847.3l5.8 -1 5.8 -.1 5.8 .6 3.9 1.4 1.9 1.3 2.3 3.7 .3 3.9 -.7 3.9 -1.4 1.9 -2.4 1.9 -7.1 2 -9.2 -0 -7 -2 -2.5 -1.9 -1.3 -1.9 -.7 -5.8 .7 -3.1 1.9 -2.7z"/><path fill="#e3010f" d="M995 849.3l5.8 .3 3.9 1.3 1.9 1.6 1.4 2.7 .2 1.9 -.2 1.9 -1.4 2.4 -1.8 1.5 -2.1 .7 -5.8 .9 -5.8 -.8 -2.1 -.8 -2.2 -1.9 -1.2 -3.9 1 -3.9 2.6 -2.3z"/></g></g><circle cx="996.0" cy="850.3" r="46.5" fill="none" stroke="#444" stroke-width="0.5" opacity="0.7"/><path d="M989.5 802.5l-1.8 1.2M1002.5 802.5l1.8 1.2" stroke="#333" stroke-width="0.8" fill="none"/><path d="M948.3 839.6l-1.8 -1.2M948.3 861.0l-1.8 1.2" stroke="#333" stroke-width="0.8" fill="none"/><path d="M1043.7 839.6l1.8 -1.2M1043.7 861.0l1.8 1.2" stroke="#333" stroke-width="0.8" fill="none"/><g fill="#222" opacity="0.45"><circle cx="984.4" cy="814.0" r=".55"/><circle cx="996.0" cy="814.0" r=".55"/><circle cx="1007.6" cy="814.0" r=".55"/><circle cx="978.6" cy="826.1" r=".55"/><circle cx="990.2" cy="826.1" r=".55"/><circle cx="1001.8" cy="826.1" r=".55"/><circle cx="1013.4" cy="826.1" r=".55"/><circle cx="1025.1" cy="826.1" r=".55"/><circle cx="961.1" cy="838.2" r=".55"/><circle cx="972.8" cy="838.2" r=".55"/><circle cx="984.4" cy="838.2" r=".55"/><circle cx="996.0" cy="838.2" r=".55"/><circle cx="1007.6" cy="838.2" r=".55"/><circle cx="1019.2" cy="838.2" r=".55"/><circle cx="1030.9" cy="838.2" r=".55"/><circle cx="966.9" cy="850.3" r=".55"/><circle cx="978.6" cy="850.3" r=".55"/><circle cx="990.2" cy="850.3" r=".55"/><circle cx="1001.8" cy="850.3" r=".55"/><circle cx="1013.4" cy="850.3" r=".55"/><circle cx="1025.1" cy="850.3" r=".55"/><circle cx="1036.7" cy="850.3" r=".55"/><circle cx="961.1" cy="862.4" r=".55"/><circle cx="972.8" cy="862.4" r=".55"/><circle cx="984.4" cy="862.4" r=".55"/><circle cx="996.0" cy="862.4" r=".55"/><circle cx="1007.6" cy="862.4" r=".55"/><circle cx="1019.2" cy="862.4" r=".55"/><circle cx="1030.9" cy="862.4" r=".55"/><circle cx="978.6" cy="874.5" r=".55"/><circle cx="990.2" cy="874.5" r=".55"/><circle cx="1001.8" cy="874.5" r=".55"/><circle cx="1013.4" cy="874.5" r=".55"/><circle cx="1025.1" cy="874.5" r=".55"/><circle cx="984.4" cy="886.6" r=".55"/><circle cx="996.0" cy="886.6" r=".55"/><circle cx="1007.6" cy="886.6" r=".55"/></g>
<defs><clipPath id="tc24"><circle cx="1110.0" cy="850.3" r="46.5"/></clipPath></defs><g clip-path="url(#tc24)"><g filter="url(#tblur)"><circle cx="1110.0" cy="850.3" r="48.5" fill="#0f1fec"/><path fill="#152ffa" d="M1062.6 801l96.6 0 0 98.6 -98.5 -0 -0 -10.9 11.6 -9.1 .9 -1.3 -.9 -3.8 -3.1 -7.8 -1.9 -7.7 -.8 -7.7 -0 -14.1 -2 -1.2 -3.8 -1.2 -0 -33.8z"/><path fill="#2251fe" d="M1062.6 801l91.2 0 -13.4 15.5 1.2 3.8 6.9 11.6 3.5 7.8 1.9 7.7 .3 5.8 -1.5 9.7 -2.2 5.8 -2 3.8 -4 5.8 -4.6 4.8 -5.8 4.4 -5.8 3.3 -7.7 2.5 -9.7 1.2 -9.6 -1.2 -5.8 -2 -7.8 -4.2 -5.8 -5 -3.8 -4.5 -3.3 -5.1 -3.4 -7.7 -1.6 -5.8 -.9 -7.7 .2 -7.8 3.3 -15.4 .2 -3.9 -11.9 -9 -0 -14.2z"/><path fill="#368eff" d="M1064.6 801l75.5 0 -5.9 9.7 -.3 1.9 1.9 3.9 8.9 13.5 3.9 7.7 2.2 7.8 .4 7.7 -1.2 7.7 -2.9 7.8 -3.5 5.8 -5.5 6.2 -5.8 4.5 -7.8 3.8 -7.7 2 -7.7 .5 -7.8 -1.1 -7.7 -2.8 -5.8 -3.5 -5.8 -5.1 -4.9 -6.5 -2.9 -5.8 -2.5 -7.7 -.9 -7.7 .9 -11.6 2.2 -7.8 4.6 -11.6 .4 -1.9 -.4 -1.9 -14.3 -15.5z"/><path fill="#47e9ee" d="M1080 801l50.4 0 -2.9 7.7 2 3.9 9 11.6 6.2 9.7 3.6 9.6 .8 7.8 -1.3 9.6 -1.3 3.9 -2.7 5.5 -5.8 7.5 -7.7 6.1 -5.8 2.9 -7.8 2.1 -7.7 .5 -7.7 -1 -7.8 -2.9 -5.8 -3.7 -5.7 -5.4 -3.9 -5.5 -2.2 -4.2 -2.1 -5.8 -1.1 -5.8 -.4 -5.8 .7 -7.7 2.1 -7.7 3.3 -7.8 5.5 -9.6 1.4 -3.9 -7.1 -11.6z"/><path fill="#50fabe" d="M1091.6 801l29.2 0 -.9 3.9 .2 1.9 10.2 10.4 5.8 6.9 5.8 8.4 3.4 7.2 1.5 5.8 .4 7.7 -1.3 7.7 -2.2 5.8 -3.8 6.1 -5.2 5.5 -6.4 4.5 -5.8 2.7 -5.8 1.5 -7.7 .6 -7.7 -1.2 -6.4 -2.3 -5.2 -3.1 -5.8 -5.1 -4.1 -5.3 -3.7 -7.7 -1.5 -5.8 -.6 -5.8 .2 -5.8 1 -5.8 2.5 -7.8 3 -5.8 12.1 -17.4 -2.7 -7.7z"/><path fill="#64fa91" d="M1101.3 808.5l3.9 -1.3 5.8 .2 5.8 2.1 7.7 5.2 7.6 7.5 5.9 7.7 3.9 6.6 2.6 7 .9 5.8 -.4 7.7 -1.4 5.8 -2.7 5.8 -4.7 5.8 -4.4 3.9 -6.4 3.9 -6.7 2.4 -7.7 1 -5.8 -.4 -5.8 -1.4 -7.6 -3.6 -6 -4.8 -3.8 -4.6 -3.3 -6 -1.9 -5.8 -.9 -5.8 .1 -7.8 1.6 -7.7 2.4 -6.2 3.9 -6.8 5.8 -7.3 5.8 -5.4z"/><path fill="#77fa6f" d="M1101.3 812.4l3.9 -1.1 5.8 -.1 5.8 1.8 5.9 3.5 6.2 5.8 7.2 9.2 3.9 6.4 2.8 7.6 .8 5.8 -.4 5.8 -1.3 5.8 -2.9 5.8 -3.3 3.9 -5.4 4.3 -5.8 3.2 -5.8 2.2 -7.7 1 -5.8 -.4 -5.8 -1.5 -5.8 -2.7 -5.8 -4.1 -3.8 -4 -2.5 -3.8 -2.2 -5.8 -1.2 -5.8 -.2 -7.8 2.1 -9.6 2 -5 3.8 -6.8 4.6 -5.6 5.1 -4.7z"/><path fill="#8efa51" d="M1107.1 814.5l3.9 .2 5.6 1.8 5.1 3.8 1.2 2 -2.3 .8 -13.5 -.2 -15.7 3.2 .5 -1.9 1.3 -1.9 4.1 -3.9 4 -2.3zM1101.3 835.6l13.5 -.6 11.6 1.3 5.8 1.9 5.8 4.3 2 2.6 1.3 4.2 .1 7.7 -2 7.8 -2.3 3.8 -2.9 3.1 -5.8 3.6 -5.8 1.7 -5.8 .6 -11.6 -.1 -5.8 -.7 -5.8 -1.7 -3.9 -2 -3.9 -3.5 -3 -4.8 -1.5 -5.8 -.3 -7.7 1.7 -5.8 3.1 -4.1 3.9 -2.7 5.8 -2.2z"/><path fill="#c0fa31" d="M1107.1 837.7l11.6 .1 7.7 1.3 5.8 2.5 4.4 3.9 2.5 5.8 .1 7.7 -1.6 5.8 -1.5 2.5 -3.3 3.3 -4.4 2.4 -7.8 1.7 -15.4 .3 -7.8 -1.2 -3.8 -1.4 -3.9 -2.3 -3.2 -3.4 -2.3 -5.8 -.3 -5.8 .7 -5.8 2 -3.8 3.1 -3.1 3.9 -2.2 5.8 -1.7z"/><path fill="#f1ed22" d="M1103.2 839.5l9.7 -.4 7.7 .5 5.8 1.3 5.8 3 3.1 3.5 1.8 5.8 -.2 7.8 -1.3 3.8 -1.5 2.1 -3.8 3.2 -3.9 1.8 -9.7 1.6 -9.6 .1 -5.8 -.6 -5.8 -1.6 -4.7 -2.7 -3.1 -3.9 -1.4 -3.8 -.2 -7.8 .9 -3.8 2.3 -3.9 4.2 -3.2 3.9 -1.6z"/><path fill="#ff9016" d="M1099.4 841.6l7.7 -1.1 11.6 .2 5.8 1.1 5.8 2.8 2.8 2.8 1.1 2 1 3.8 -.2 7.7 -1.6 3.9 -1.5 1.9 -3.5 2.7 -3.9 1.5 -5.8 1.1 -7.7 .3 -7.7 -.4 -5.5 -1.3 -4.1 -1.9 -2.3 -2 -2.5 -3.8 -.9 -5.8 .5 -5.8 1.2 -3.1 2.2 -2.7 3.6 -2.5z"/><path fill="#ff4b14" d="M1099.4 843.1l7.7 -1.3 9.7 .1 7.7 1.4 3.9 1.9 3.7 4.1 1.1 3.9 -.3 7.7 -1.7 3.9 -1.8 1.9 -3.1 1.9 -3.7 1.3 -5.8 .9 -12.9 -.2 -4.5 -1.1 -3.9 -1.7 -1.9 -1.4 -2.6 -3.6 -1 -3.8 .1 -5.8 1.2 -3.9 1.2 -1.9 3 -2.6z"/><path fill="#fc2313" d="M1105.2 843.5l13.5 .1 5.8 1.6 3.5 2.2 2.5 3.9 .6 3.8 -.4 5.8 -2.2 3.9 -2.3 1.9 -4.8 2 -8.5 .9 -11 -.9 -4.4 -1.8 -2 -1.4 -2.1 -2.6 -1.1 -3.9 -.1 -3.9 .6 -3.8 2.5 -3.9 2.2 -1.5 3.8 -1.6z"/><path fill="#f20d11" d="M1107.1 845.3l11.6 .4 4.9 1.7 2.5 1.9 1.2 2 1 3.8 -.1 3.9 -1.8 4.1 -1.9 1.8 -3.7 1.8 -6 .9 -9.6 -.3 -2.7 -.6 -3.9 -1.9 -1.9 -1.9 -1.6 -3.9 -.1 -3.9 .9 -3.8 1.3 -2 2.4 -1.9 3.6 -1.4z"/><path fill="#e3010f" d="M1107.1 849.2l7.7 -.2 2 .3 3.8 1.9 1.6 2 .7 1.9 .1 3.9 -.9 1.9 -1.9 1.9 -5.4 2 -6.4 -0 -5.4 -2 -1.9 -1.9 -.8 -1.9 .1 -3.9 .7 -1.9 1.6 -2z"/></g></g><circle cx="1110.0" cy="850.3" r="46.5" fill="none" stroke="#444" stroke-width="0.5" opacity="0.7"/><path d="M1103.5 802.5l-1.8 1.2M1116.5 802.5l1.8 1.2" stroke="#333" stroke-width="0.8" fill="none"/><path d="M1062.3 839.6l-1.8 -1.2M1062.3 861.0l-1.8 1.2" stroke="#333" stroke-width="0.8" fill="none"/><path d="M1157.7 839.6l1.8 -1.2M1157.7 861.0l1.8 1.2" stroke="#333" stroke-width="0.8" fill="none"/><g fill="#222" opacity="0.45"><circle cx="1098.4" cy="814.0" r=".55"/><circle cx="1110.0" cy="814.0" r=".55"/><circle cx="1121.6" cy="814.0" r=".55"/><circle cx="1092.6" cy="826.1" r=".55"/><circle cx="1104.2" cy="826.1" r=".55"/><circle cx="1115.8" cy="826.1" r=".55"/><circle cx="1127.4" cy="826.1" r=".55"/><circle cx="1139.1" cy="826.1" r=".55"/><circle cx="1075.1" cy="838.2" r=".55"/><circle cx="1086.8" cy="838.2" r=".55"/><circle cx="1098.4" cy="838.2" r=".55"/><circle cx="1110.0" cy="838.2" r=".55"/><circle cx="1121.6" cy="838.2" r=".55"/><circle cx="1133.2" cy="838.2" r=".55"/><circle cx="1144.9" cy="838.2" r=".55"/><circle cx="1080.9" cy="850.3" r=".55"/><circle cx="1092.6" cy="850.3" r=".55"/><circle cx="1104.2" cy="850.3" r=".55"/><circle cx="1115.8" cy="850.3" r=".55"/><circle cx="1127.4" cy="850.3" r=".55"/><circle cx="1139.1" cy="850.3" r=".55"/><circle cx="1150.7" cy="850.3" r=".55"/><circle cx="1075.1" cy="862.4" r=".55"/><circle cx="1086.8" cy="862.4" r=".55"/><circle cx="1098.4" cy="862.4" r=".55"/><circle cx="1110.0" cy="862.4" r=".55"/><circle cx="1121.6" cy="862.4" r=".55"/><circle cx="1133.2" cy="862.4" r=".55"/><circle cx="1144.9" cy="862.4" r=".55"/><circle cx="1092.6" cy="874.5" r=".55"/><circle cx="1104.2" cy="874.5" r=".55"/><circle cx="1115.8" cy="874.5" r=".55"/><circle cx="1127.4" cy="874.5" r=".55"/><circle cx="1139.1" cy="874.5" r=".55"/><circle cx="1098.4" cy="886.6" r=".55"/><circle cx="1110.0" cy="886.6" r=".55"/><circle cx="1121.6" cy="886.6" r=".55"/></g>
<defs><clipPath id="tc25"><circle cx="476.7" cy="1063.0" r="46.6"/></clipPath></defs><g clip-path="url(#tc25)"><g filter="url(#tblur)"><circle cx="476.7" cy="1063.0" r="48.6" fill="#132bf8"/><path fill="#2251fe" d="M429.2 1013.6l96.9 0 -0 98.8 -98.8 -0 -0 -98.8zM468.5 1073.7l-2 1.9 -1.1 3.9 .4 3.9 2.2 2.8 3.8 1.6 5.9 .3 3.7 -.8 2.6 -2 1.3 -1.9 .4 -2 -.2 -3.8 -.9 -2 -2 -1.9 -3 -1.2 -3.9 -.5 -3.9 .4z"/><path fill="#368eff" d="M429.2 1013.6l96.9 0 -0 98.8 -98.8 -0 -0 -98.8zM473.4 1067.8l-7.3 1.8 -3.1 2.1 -1.7 1.9 -1 1.9 -.8 3.9 .8 5.9 1.9 2.9 1.9 1.6 5.9 2.1 7.7 .4 3.9 -.5 3.9 -1.3 4.1 -3.3 1.7 -3.9 -0 -5.8 -1.5 -3.9 -2.4 -2.6 -3.9 -2.1 -3.9 -.9z"/><path fill="#47e9ee" d="M429.2 1013.6l96.9 0 -0 98.8 -98.8 -0 -0 -98.8zM468.8 1065.9l-6.7 2.8 -3.3 3 -1.3 1.9 -1.2 3.9 -.2 5.8 1.3 3.9 1.3 1.9 2 2 3.4 1.9 3.9 1.2 5.8 .8 9.7 -.9 3.4 -1.1 3.3 -1.9 3.3 -3.9 1.2 -3.9 -.1 -5.8 -1.2 -3.9 -1.2 -1.9 -4.5 -3.9 -5.2 -1.9 -6.8 -.7z"/><path fill="#50fabe" d="M429.2 1013.6l96.9 0 -0 98.8 -98.8 -0 -0 -98.8zM467.5 1064l-5.2 1.9 -3.1 2 -2.8 2.8 -1.8 3 -1.1 3.9 -.1 5.8 1.1 3.8 2.8 3.9 3 2.5 3.8 1.8 5.8 1.4 5.9 .4 9.6 -1.2 3.9 -1.5 3.9 -2.7 3.4 -4.6 1.1 -5.8 -.6 -5.8 -1.7 -3.9 -1.4 -1.9 -4.7 -3.7 -5.8 -2.3 -7.7 -.8z"/><path fill="#64fa91" d="M429.2 1013.6l96.9 0 -0 98.8 -98.8 -0 -0 -98.8zM466.3 1062l-6.1 2.5 -3.9 2.7 -2.4 2.5 -2.2 3.9 -1.2 5.8 .4 3.9 2.1 5.8 3.1 3.9 4.1 3 3.9 1.6 5.1 1.2 6.5 .5 5.8 -.4 5.8 -1.3 3.9 -1.7 3.9 -2.8 1.9 -2.1 2.2 -3.8 1.2 -5.8 -1.2 -7.8 -3.8 -5.8 -6.1 -4.3 -7.8 -2.5 -7.7 -.4z"/><path fill="#77fa6f" d="M429.2 1013.6l96.9 0 -0 98.8 -98.8 -0 -0 -98.8zM471.6 1058.2l-5.5 1.3 -7.8 3.4 -4.2 3 -3.3 3.9 -2 3.9 -.6 3.9 .5 5.8 1.9 5.5 2.7 4.2 4.8 3.8 4.1 2.1 5.8 1.6 5.8 .7 5.8 -0 4.1 -.5 6.5 -1.9 3.8 -2 3.1 -2.4 2.8 -3.4 1.9 -3.8 1.1 -3.9 .4 -3.9 -.5 -3.9 -1.3 -3.8 -4.4 -6 -3.9 -2.9 -3.9 -2.1 -3.9 -1.5 -5.8 -1.4 -3.9 -.2z"/><path fill="#8efa51" d="M429.2 1013.6l96.9 0 -0 98.8 -98.8 -0 -0 -98.8zM474.6 1052.3l-4.7 1.5 -11.6 5.7 -5.9 3.9 -3.8 3.9 -2 3 -.7 3.3 0 5.8 1.1 5.8 1.4 3.9 2.5 3.9 4.3 3.9 5 2.7 5.8 1.9 7.8 1.2 6.1 -0 7.4 -1.3 5.8 -2.2 3.9 -2.3 2.4 -2 3.1 -3.9 2.9 -7.7 .8 -5.8 -.2 -3.9 -1.6 -3.9 -2.8 -3.8 -6.5 -5.5 -13.6 -7.3 -3.9 -1z"/><path fill="#c0fa31" d="M429.2 1013.6l96.9 0 -0 98.8 -98.8 -0 -0 -98.8zM471.8 1044.6l-3.8 2.2 -17.4 12.7 -4.9 4.5 -1.6 3.8 -.7 5.9 .4 5.8 1.1 5.8 2.5 5.8 3.1 3.9 3.9 3.1 5.8 3 7.8 2.2 7.7 .8 7.8 -.5 5.8 -1.3 5.8 -2.4 3.9 -2.3 3 -2.6 3.1 -3.9 2.5 -5.8 1.2 -5.8 .5 -5.8 -.6 -6 -2 -3.8 -2 -1.9 -21.2 -16.3 -5.8 -2.1z"/><path fill="#f1ed22" d="M429.2 1013.6l96.9 0 -0 98.8 -98.8 -0 -0 -98.8zM470 1038.8l-21.4 13.6 -2 1.5 -1.9 2.7 -2.7 7.4 -.9 7.7 .4 7.8 1.7 7.7 3.1 5.8 3.5 3.9 4.6 3.2 7.7 3.2 7.8 1.7 7.7 .4 5.8 -.5 7.8 -1.7 7.7 -3.5 3.8 -2.8 3.6 -3.9 2.3 -3.8 2 -5.8 1.2 -7.8 -.1 -7.7 -1.1 -6.1 -2 -4 -1.9 -2.1 -7.8 -4.5 -15.5 -12.1 -5.8 -1.8 -3.9 .3z"/><path fill="#ff9016" d="M429.2 1013.6l96.9 0 -0 98.8 -98.8 -0 -0 -98.8zM471.8 1033l-5.7 2.3 -15.5 8.9 -3.9 3.6 -3.9 5.7 -2.4 6.6 -1.5 9.7 .3 9.7 2 9.7 2.7 5.8 2.8 3.5 2 1.6 3.8 2 5.8 2 7.8 1.9 11.6 .9 9.7 -1 7.7 -1.9 5.9 -2.3 5.8 -4.2 3.2 -4.4 1.8 -3.9 2 -7.8 .7 -7.7 -.3 -7.8 -1.3 -5.8 -1.7 -3.9 -2.5 -3.4 -9.7 -6.6 -11.6 -10.2 -3.9 -2.2 -3.9 -1.2 -3.8 -.2z"/><path fill="#ff4b14" d="M429.2 1013.6l96.9 0 -0 75 -7.8 -4.1 -.6 -1.2 -.7 -13.5 -1.1 -7.8 -2 -5.8 -2.4 -3.9 -3.9 -3.8 -7.8 -5.8 -10.5 -10.4 -5.9 -3.1 -3.8 -.9 -3.9 -.2 -7.8 1.6 -7.7 3.6 -9.7 6.1 -5.8 5.8 -4.3 7.1 -2.6 7.8 -1.3 7.7 -1 15.5 -.5 1 -7.7 4.3 -0 -75zM475.7 1111.8l1.9 -0 .8 .6 -3.4 -0z"/><path fill="#fc2313" d="M429.2 1013.6l96.9 0 -0 61 -3.9 -.9 -1.4 -2 -3.4 -13.5 -1.7 -3.9 -3.2 -4.3 -10.9 -9.3 -8.5 -10 -3.8 -3.3 -5.9 -2.7 -7.7 -.9 -5.8 .8 -7.8 2.9 -7.7 4.4 -7.8 6.3 -5.1 6.4 -3.1 5.8 -2.8 7.8 -3.2 13.5 -1.3 2 -3.8 .9 -0 -61z"/><path fill="#f20d11" d="M429.2 1013.6l96.9 0 -0 46 -3.9 -.2 -2.9 -5.1 -3 -3.9 -11.5 -9.7 -3.5 -3.9 -6.2 -9.9 -3.9 -4.6 -5.8 -3.4 -7.8 -1.5 -7.7 .7 -5.8 2 -7.8 4.2 -5.8 4.2 -5.8 5.5 -5.1 6.7 -3.2 5.8 -5.3 12.2 -1.9 .6 -1.9 -.2 -0 -45.5z"/><path fill="#e3010f" d="M504.8 1020.7l3.9 -1 5.8 .4 5.8 2.9 3.7 4.2 2.1 5.7 -.2 5.9 -1.7 4.1 -3.9 4.3 -1.9 -0 -7.8 -4.6 -4.6 -3.8 -3 -3.9 -2.4 -5.8 -.4 -3.9 .9 -1.9z"/><path fill="#aa000c" d="M506.7 1026.8l1.9 -.7 3.9 .1 2.5 1 2.4 1.9 1.3 1.9 1 3.9 -.8 3.9 -1.2 1.9 -1.3 .9 -2 -.2 -3.8 -1.9 -3 -2.7 -1.4 -1.9 -1.4 -3.9 0 -1.9z"/></g></g><circle cx="476.7" cy="1063.0" r="46.6" fill="none" stroke="#444" stroke-width="0.5" opacity="0.7"/><path d="M470.2 1015.1l-1.8 1.2M483.2 1015.1l1.8 1.2" stroke="#333" stroke-width="0.8" fill="none"/><path d="M428.9 1052.3l-1.8 -1.2M428.9 1073.7l-1.8 1.2" stroke="#333" stroke-width="0.8" fill="none"/><path d="M524.5 1052.3l1.8 -1.2M524.5 1073.7l1.8 1.2" stroke="#333" stroke-width="0.8" fill="none"/><g fill="#222" opacity="0.45"><circle cx="465.1" cy="1026.7" r=".55"/><circle cx="476.7" cy="1026.7" r=".55"/><circle cx="488.3" cy="1026.7" r=".55"/><circle cx="459.2" cy="1038.8" r=".55"/><circle cx="470.9" cy="1038.8" r=".55"/><circle cx="482.5" cy="1038.8" r=".55"/><circle cx="494.2" cy="1038.8" r=".55"/><circle cx="505.8" cy="1038.8" r=".55"/><circle cx="441.8" cy="1050.9" r=".55"/><circle cx="453.4" cy="1050.9" r=".55"/><circle cx="465.1" cy="1050.9" r=".55"/><circle cx="476.7" cy="1050.9" r=".55"/><circle cx="488.3" cy="1050.9" r=".55"/><circle cx="500.0" cy="1050.9" r=".55"/><circle cx="511.6" cy="1050.9" r=".55"/><circle cx="447.6" cy="1063.0" r=".55"/><circle cx="459.2" cy="1063.0" r=".55"/><circle cx="470.9" cy="1063.0" r=".55"/><circle cx="482.5" cy="1063.0" r=".55"/><circle cx="494.2" cy="1063.0" r=".55"/><circle cx="505.8" cy="1063.0" r=".55"/><circle cx="517.5" cy="1063.0" r=".55"/><circle cx="441.8" cy="1075.1" r=".55"/><circle cx="453.4" cy="1075.1" r=".55"/><circle cx="465.1" cy="1075.1" r=".55"/><circle cx="476.7" cy="1075.1" r=".55"/><circle cx="488.3" cy="1075.1" r=".55"/><circle cx="500.0" cy="1075.1" r=".55"/><circle cx="511.6" cy="1075.1" r=".55"/><circle cx="459.2" cy="1087.2" r=".55"/><circle cx="470.9" cy="1087.2" r=".55"/><circle cx="482.5" cy="1087.2" r=".55"/><circle cx="494.2" cy="1087.2" r=".55"/><circle cx="505.8" cy="1087.2" r=".55"/><circle cx="465.1" cy="1099.3" r=".55"/><circle cx="476.7" cy="1099.3" r=".55"/><circle cx="488.3" cy="1099.3" r=".55"/></g>
<defs><clipPath id="tc26"><circle cx="642.2" cy="1064.0" r="46.8"/></clipPath></defs><g clip-path="url(#tc26)"><g filter="url(#tblur)"><circle cx="642.2" cy="1064.0" r="48.8" fill="#1f49fd"/><path fill="#368eff" d="M594.5 1014.4l97.3 0 -0 99.2 -99.2 0 -0 -99.2zM635 1047.5l-.6 1.9 .7 3.9 2.3 1.7 1.9 -.3 2.1 -3.3 -.1 -2 -.9 -1.9 -1.1 -1.1 -1.9 -.5z"/><path fill="#47e9ee" d="M594.5 1014.4l97.3 0 -0 99.2 -99.2 0 -0 -99.2zM637 1035.8l-3.6 1.1 -1.9 1.6 -2 2.5 -1.8 4.5 -.5 5.9 1.2 5.8 2 3.9 3 2.9 3.9 1.3 3.9 -.9 3.9 -3.4 2.6 -5.7 .6 -5.9 -1.1 -5.8 -2.1 -3.9 -3.9 -3.2z"/><path fill="#50fabe" d="M594.5 1014.4l97.3 0 -0 99.2 -99.2 0 -0 -99.2zM636.4 1028l-2.9 .9 -2 1.3 -4.5 5.6 -2.8 7.8 -.6 7.7 1.5 7.8 2.5 5.2 3.9 4 2 1.1 3.9 .9 3.8 -.7 2 -1 4 -3.6 2.5 -3.9 1.5 -3.9 1.1 -7.8 -1.3 -8.8 -2 -4.8 -1.9 -3 -2 -2.1 -3.9 -2.4z"/><path fill="#64fa91" d="M594.5 1014.4l40.5 0 -3.5 1.9 -2 1.8 -3.1 4.1 -2 3.9 -3.7 11.6 -1.1 11.7 1.4 9.7 3.3 7.8 3 3.9 2.2 2.1 3.9 2.1 3.9 .5 5.8 -1.7 3.9 -2.9 3.5 -4 4 -7.8 1.9 -9.7 -.6 -11.7 -2.9 -10.5 -2.5 -5 -2.9 -3.9 -2.4 -2.2 -3.3 -1.7 50 0 -0 99.2 -99.2 0 -0 -99.2z"/><path fill="#77fa6f" d="M594.5 1014.4l25.4 0 -3.2 7.8 -2.5 11.7 -.5 11.6 1.1 11.7 2.7 9.7 4.2 8.4 2.7 3.3 3.2 2.9 3.9 2 1.9 .3 3.9 -.4 3.9 -1.8 7.8 -6.3 7 -8.4 4.7 -9.7 2.1 -9.7 0 -11.7 -2.1 -11.7 -3.8 -9.7 34.9 0 -0 99.2 -99.2 0 -0 -99.2z"/><path fill="#8efa51" d="M687.9 1041.4l3.9 -1 -0 73.2 -99.2 -0 -0 -59.8 3.9 .9 3.9 2.4 3.8 4.8 9.8 14.7 7.8 7.8 7.7 4.4 5.6 1.4 4.2 -0 4.8 -1.9 6.3 -7.8 10.9 -11.7 4.9 -5.8 8.1 -12.5 3.9 -4.4 3.9 -2.8z"/><path fill="#c0fa31" d="M686 1055.2l5.8 -.5 0 58.9 -99.2 -0 0 -38 3.9 -.9 3.9 .2 5.8 2.9 12.1 8.5 7.3 3.9 7.9 2.4 7.8 -.1 3.8 -1.4 4.3 -2.8 7.4 -8.7 10.2 -8.8 9.3 -9.7 3.9 -3.2z"/><path fill="#f1ed22" d="M684 1062.3l3.9 -1 3.9 .1 -0 52.2 -99.2 0 -0 -25.3 7.7 -3.8 3.9 -.3 5.9 1.9 13.6 6.1 5.8 1.8 7.8 .9 5.8 -.8 3.9 -1.5 3.6 -2.3 10.1 -9.6 15.5 -13.3 3.9 -3z"/><path fill="#ff9016" d="M686 1066.6l5.8 .1 0 46.9 -99.2 -0 0 -13.9 11.7 -8.4 1.9 -.7 3.9 .1 21.4 5.7 5.9 .4 5.8 -.8 3.9 -1.5 3.9 -2.3 11.7 -10.1 13.6 -10.2 5.8 -3.8z"/><path fill="#ff4b14" d="M682.1 1072.3l5.8 -1.3 3.9 1 0 41.6 -99.2 -0 0 -1.5 15.6 -15.1 1.9 -1.3 5.9 -.1 17.5 2.9 5.8 -.1 5.8 -1.3 5.9 -2.9 15.5 -12.4z"/><path fill="#fc2313" d="M682.1 1076.2l3.9 -.6 3.3 1 2.5 1.7 0 35.3 -88.6 0 11.2 -13.6 5.4 -.7 17.6 1 7.7 -1.4 7.8 -4.2 9.7 -7.9 5.9 -3.9 7.8 -4.2z"/><path fill="#f20d11" d="M680.1 1080.3l3.9 -.2 1.9 .7 2.1 1.7 2.2 3.9 1 7.7 -.7 19.5 -77.5 -0 4.8 -8.2 2 -2.1 3.9 -.9 13.6 -.2 7.8 -1.6 7.8 -4 9.7 -7.8 5.8 -3.8 5.9 -2.8z"/><path fill="#e3010f" d="M676.2 1084.2l3.9 -.4 2.6 .7 2 1.9 1.7 3.9 .5 3.9 -.2 5.8 -2.8 13.6 -62.1 0 2.4 -5.8 2.1 -2 14.9 -2.2 5.8 -1.8 5.9 -3.3 13.6 -10.3 3.9 -2z"/><path fill="#aa000c" d="M670.4 1088.3l3.9 -1.1 3.9 -.2 2.7 1.3 2 3.9 .5 3.9 -.6 5.8 -1.7 5.9 -2.9 5.8 -47 0 .8 -3.9 1.4 -1.3 11.7 -3.6 3.9 -1.8 3.9 -2.4 11.7 -9.2z"/><path fill="#7c0009" d="M672.4 1090l3.9 -0 1.9 1 1.6 3.1 .2 3.9 -.6 3.9 -1.4 3.9 -2.4 3.9 -3.2 3.5 -.4 .4 -28.2 -0 -.9 -2 -0 -1.9 10 -6.7 11.7 -9.5 3.9 -2.2z"/></g></g><circle cx="642.2" cy="1064.0" r="46.8" fill="none" stroke="#444" stroke-width="0.5" opacity="0.7"/><path d="M635.6 1015.9l-1.8 1.2M648.8 1015.9l1.8 1.2" stroke="#333" stroke-width="0.8" fill="none"/><path d="M594.2 1053.2l-1.8 -1.2M594.2 1074.8l-1.8 1.2" stroke="#333" stroke-width="0.8" fill="none"/><path d="M690.2 1053.2l1.8 -1.2M690.2 1074.8l1.8 1.2" stroke="#333" stroke-width="0.8" fill="none"/><g fill="#222" opacity="0.45"><circle cx="630.5" cy="1027.5" r=".55"/><circle cx="642.2" cy="1027.5" r=".55"/><circle cx="653.9" cy="1027.5" r=".55"/><circle cx="624.7" cy="1039.7" r=".55"/><circle cx="636.4" cy="1039.7" r=".55"/><circle cx="648.1" cy="1039.7" r=".55"/><circle cx="659.8" cy="1039.7" r=".55"/><circle cx="671.5" cy="1039.7" r=".55"/><circle cx="607.1" cy="1051.8" r=".55"/><circle cx="618.8" cy="1051.8" r=".55"/><circle cx="630.5" cy="1051.8" r=".55"/><circle cx="642.2" cy="1051.8" r=".55"/><circle cx="653.9" cy="1051.8" r=".55"/><circle cx="665.6" cy="1051.8" r=".55"/><circle cx="677.3" cy="1051.8" r=".55"/><circle cx="613.0" cy="1064.0" r=".55"/><circle cx="624.7" cy="1064.0" r=".55"/><circle cx="636.4" cy="1064.0" r=".55"/><circle cx="648.1" cy="1064.0" r=".55"/><circle cx="659.8" cy="1064.0" r=".55"/><circle cx="671.5" cy="1064.0" r=".55"/><circle cx="683.2" cy="1064.0" r=".55"/><circle cx="607.1" cy="1076.2" r=".55"/><circle cx="618.8" cy="1076.2" r=".55"/><circle cx="630.5" cy="1076.2" r=".55"/><circle cx="642.2" cy="1076.2" r=".55"/><circle cx="653.9" cy="1076.2" r=".55"/><circle cx="665.6" cy="1076.2" r=".55"/><circle cx="677.3" cy="1076.2" r=".55"/><circle cx="624.7" cy="1088.3" r=".55"/><circle cx="636.4" cy="1088.3" r=".55"/><circle cx="648.1" cy="1088.3" r=".55"/><circle cx="659.8" cy="1088.3" r=".55"/><circle cx="671.5" cy="1088.3" r=".55"/><circle cx="630.5" cy="1100.5" r=".55"/><circle cx="642.2" cy="1100.5" r=".55"/><circle cx="653.9" cy="1100.5" r=".55"/></g>
<defs><clipPath id="tc27"><circle cx="804.4" cy="1064.0" r="46.0"/></clipPath></defs><g clip-path="url(#tc27)"><g filter="url(#tblur)"><circle cx="804.4" cy="1064.0" r="48.0" fill="#0f1fec"/><path fill="#152ffa" d="M757.6 1015.2l58 0 -.9 3.8 1.2 1.9 8.6 5.3 7.7 5.9 6.5 6 6.9 7.7 1.9 -.3 5.7 -2.4 0 69.6 -97.5 0 -0 -10.8 11.5 -8.9 .9 -1.3 -.9 -3.8 -3 -7.7 -2.4 -11.5 -0 -11.4 2 -13.4 -.5 -1.7 -7.6 -4.1 -0 -22.9z"/><path fill="#2251fe" d="M792 1022.9l7.6 -1.3 7.7 .4 7.6 2.2 7.7 3.8 8.7 6.4 7.3 7.7 3.9 5.7 4 9.6 1.1 7.6 -.4 7.7 -2.1 7.6 -2.6 5.7 -4 5.8 -6.3 6.4 -5.8 4 -9.5 4 -7.7 1.4 -7.6 -0 -7.7 -1.5 -7.6 -3.3 -5.8 -3.8 -7.1 -7.2 -4.8 -7.7 -2.9 -7.6 -1.5 -7.7 -.2 -9.5 1.9 -9.6 2.2 -5.7 4.7 -7.7 5.8 -6.2 5.8 -4.1z"/><path fill="#368eff" d="M795.8 1024.5l7.6 -.6 7.7 1.2 7.6 2.9 7.3 4.4 6.7 5.8 6.2 7.6 3.9 7.7 1.5 5.7 .6 5.7 -.6 7.7 -2.4 7.6 -4.3 7.7 -5 5.7 -6.2 4.9 -7.7 3.8 -5.7 1.6 -7.6 .8 -7.7 -.6 -7.6 -2.3 -5.8 -3 -5.7 -4.5 -5.5 -6.4 -4.2 -7.7 -2.4 -7.6 -.9 -7.7 .5 -7.6 1.8 -7.7 3.5 -7.6 5.3 -6.9 5.7 -4.9 7.7 -4.1z"/><path fill="#47e9ee" d="M795.8 1026.5l5.7 -.7 7.7 .7 7.6 2.5 6.3 3.4 7.1 5.7 5.2 5.8 3.7 5.7 2.9 7.7 .9 7.6 -.7 7.7 -2.5 7.6 -3.3 5.8 -4.3 5.2 -5.7 4.8 -5.7 3.2 -7.7 2.6 -7.6 .9 -7.7 -.6 -7.6 -2.4 -5.8 -3.2 -5.7 -4.7 -4.7 -5.8 -3.2 -5.8 -2.5 -7.6 -1 -7.7 .5 -7.6 2 -7.7 3.2 -6.5 3.8 -5.3 5.7 -5.3 5.8 -3.4z"/><path fill="#50fabe" d="M795.8 1028.4l5.7 -.7 7.7 .7 6.8 2.2 6.6 3.6 5.7 4.5 5.7 6.2 3.9 6.3 2.2 6.1 .9 5.8 -.3 7.6 -2.2 7.7 -3.1 5.7 -4.5 5.7 -4.5 4 -6.3 3.7 -7.1 2.5 -7.6 .9 -5.8 -.4 -7.6 -2 -5.8 -2.8 -5.7 -4.4 -4.6 -5.3 -3.4 -5.7 -2.6 -7.7 -1.1 -7.6 .6 -7.7 1.5 -6.2 3.4 -7.2 4.3 -5.6 4.4 -3.9 6.4 -3.8z"/><path fill="#64fa91" d="M795.8 1030.3l5.7 -.7 5.8 .3 5.7 1.5 6.3 2.9 7.1 5.2 5.7 6 3.9 6 2.2 5.8 .9 5.7 -.4 7.7 -1.5 5.7 -2.8 5.7 -4.2 5.6 -4.4 4 -5.1 3.3 -5.9 2.4 -7.5 1.4 -5.8 -0 -5.7 -1 -6 -2.3 -6 -3.8 -5.2 -5.2 -3.8 -5.7 -2.6 -6.3 -1.5 -7.7 .1 -7.6 1.8 -7.7 2.2 -4.7 3.8 -5.7 5 -4.9 6.1 -3.8z"/><path fill="#77fa6f" d="M797.7 1032.3l5.7 -.3 4.2 .4 5.9 1.9 6.4 3.8 4.8 3.9 5.5 5.4 3.8 5.7 2.3 6.1 .7 5.7 -.4 5.8 -1.7 5.7 -2.8 5.1 -3.8 4.8 -3.8 3.5 -6.3 3.8 -5.2 1.9 -7.7 1 -5.7 -.4 -5.7 -1.5 -5.8 -2.7 -5.2 -4 -4.3 -5.2 -2.5 -4.4 -2.1 -5.7 -1.1 -5.8 -.1 -5.7 1.6 -7.7 2.3 -5.4 3.8 -5.6 4.4 -4.3 6.3 -3.8z"/><path fill="#8efa51" d="M790.1 1049.6l3.8 -1.2 3.8 -.4 17.3 0 5.7 1 5.7 2.8 4.2 3.6 3 5.7 .5 8.5 -2.1 6.8 -3.7 4.3 -3.8 2.2 -9.5 2.3 -11.5 .3 -7.7 -.5 -7.6 -2.1 -3.8 -2.1 -4.1 -4.4 -1.6 -3.8 -.7 -5.7 .5 -5.8 1.2 -3.8 2.8 -3.5 3.8 -2.7z"/><path fill="#c0fa31" d="M792 1051.5l7.6 -1.5 11.5 -.1 7.7 1 5.7 2.4 4.4 4 1.8 3.8 .6 7.7 -1.5 5.7 -1.5 2.2 -3.8 3.1 -3.8 1.7 -5.8 1.3 -7.6 .4 -9.6 -.4 -5.7 -1.2 -3.8 -1.7 -4.3 -3.5 -2 -3.8 -.7 -3.8 .1 -5.8 1.1 -3.8 2.7 -3.8 3.1 -2.3z"/><path fill="#f1ed22" d="M799.6 1051.5l9.6 -.2 5.7 .5 5.7 1.4 4.1 2.2 3.2 3.9 1.3 5.7 -.2 5.7 -1.5 3.9 -1.4 1.9 -3.6 2.6 -3.8 1.5 -5.7 1 -7.7 .3 -5.7 -.2 -5.7 -1.1 -3.9 -1.4 -3.6 -2.7 -2.4 -3.9 -.8 -3.8 .1 -5.7 1.2 -3.8 1.7 -2.4 3.8 -2.9 3.9 -1.5z"/><path fill="#ff9016" d="M795.8 1053.3l7.6 -.9 9.6 .3 5.7 1.2 3.9 1.8 3.4 3.5 1.3 3.9 -.1 7.6 -1.7 3.8 -1.7 1.9 -3.1 2 -3.9 1.3 -5.7 .9 -13.4 -.4 -3.8 -1 -3.8 -1.8 -3.2 -2.9 -1 -1.9 -.9 -3.8 .2 -5.7 1.3 -3.9 1.7 -2 3.8 -2.6z"/><path fill="#ff4b14" d="M793.9 1055.2l5.7 -1.4 9.6 -.3 5.7 .7 5.8 2.1 3.3 2.9 1.5 3.8 .2 5.7 -1 3.9 -1.2 1.9 -2.8 2.3 -3.5 1.5 -4.2 .8 -13.4 0 -3.8 -.7 -3.8 -1.6 -2.9 -2.3 -1.3 -1.9 -1 -3.9 -.1 -3.8 .8 -3.8 1 -1.9 1.8 -1.9z"/><path fill="#fc2313" d="M799.6 1055.2l13.4 0 3.8 1 3.8 2.2 2.2 2.7 .9 3.8 -0 3.8 -1.2 3.9 -1.6 1.9 -2.9 1.9 -5 1.4 -3.8 .4 -9.6 -.4 -5.1 -1.4 -2.5 -1.6 -2.1 -2.2 -1.1 -3.9 -.1 -3.8 .9 -3.8 1.3 -1.9 2.4 -1.9z"/><path fill="#f20d11" d="M799.6 1057.1l11.5 -.2 2.6 .4 4.2 1.9 1.9 1.9 1.3 3.8 -.1 3.8 -1.6 3.9 -2.3 1.9 -2.2 .9 -5.7 1.1 -9.6 -.5 -3.8 -1.3 -1.9 -1.4 -1.9 -2.5 -.6 -2.1 .3 -5.7 1 -1.9 1.8 -1.9z"/><path fill="#e3010f" d="M801.5 1061.1l7.6 -.3 3.9 1.4 2.2 2.7 .2 3.9 -1 1.9 -2.8 1.9 -4.4 .7 -5.7 -.5 -1.9 -.9 -1.6 -1.2 -.9 -1.9 .2 -3.9 1.1 -1.9z"/></g></g><circle cx="804.4" cy="1064.0" r="46.0" fill="none" stroke="#444" stroke-width="0.5" opacity="0.7"/><path d="M798.0 1016.7l-1.8 1.2M810.8 1016.7l1.8 1.2" stroke="#333" stroke-width="0.8" fill="none"/><path d="M757.2 1053.4l-1.8 -1.2M757.2 1074.6l-1.8 1.2" stroke="#333" stroke-width="0.8" fill="none"/><path d="M851.6 1053.4l1.8 -1.2M851.6 1074.6l1.8 1.2" stroke="#333" stroke-width="0.8" fill="none"/><g fill="#222" opacity="0.45"><circle cx="792.9" cy="1028.1" r=".55"/><circle cx="804.4" cy="1028.1" r=".55"/><circle cx="815.9" cy="1028.1" r=".55"/><circle cx="787.1" cy="1040.1" r=".55"/><circle cx="798.6" cy="1040.1" r=".55"/><circle cx="810.1" cy="1040.1" r=".55"/><circle cx="821.6" cy="1040.1" r=".55"/><circle cx="833.1" cy="1040.1" r=".55"/><circle cx="769.9" cy="1052.0" r=".55"/><circle cx="781.4" cy="1052.0" r=".55"/><circle cx="792.9" cy="1052.0" r=".55"/><circle cx="804.4" cy="1052.0" r=".55"/><circle cx="815.9" cy="1052.0" r=".55"/><circle cx="827.4" cy="1052.0" r=".55"/><circle cx="838.9" cy="1052.0" r=".55"/><circle cx="775.6" cy="1064.0" r=".55"/><circle cx="787.1" cy="1064.0" r=".55"/><circle cx="798.6" cy="1064.0" r=".55"/><circle cx="810.1" cy="1064.0" r=".55"/><circle cx="821.6" cy="1064.0" r=".55"/><circle cx="833.1" cy="1064.0" r=".55"/><circle cx="844.6" cy="1064.0" r=".55"/><circle cx="769.9" cy="1076.0" r=".55"/><circle cx="781.4" cy="1076.0" r=".55"/><circle cx="792.9" cy="1076.0" r=".55"/><circle cx="804.4" cy="1076.0" r=".55"/><circle cx="815.9" cy="1076.0" r=".55"/><circle cx="827.4" cy="1076.0" r=".55"/><circle cx="838.9" cy="1076.0" r=".55"/><circle cx="787.1" cy="1087.9" r=".55"/><circle cx="798.6" cy="1087.9" r=".55"/><circle cx="810.1" cy="1087.9" r=".55"/><circle cx="821.6" cy="1087.9" r=".55"/><circle cx="833.1" cy="1087.9" r=".55"/><circle cx="792.9" cy="1099.9" r=".55"/><circle cx="804.4" cy="1099.9" r=".55"/><circle cx="815.9" cy="1099.9" r=".55"/></g>
<defs><clipPath id="tc28"><circle cx="1299.7" cy="778.4" r="46.0"/></clipPath></defs><g clip-path="url(#tc28)"><g filter="url(#tblur)"><circle cx="1299.7" cy="778.4" r="48.0" fill="#0f1fec"/><path fill="#152ffa" d="M1285.4 731.1l4 -1.5 41.1 0 5.9 5.8 3.5 5.7 1.6 3.8 2.1 7.7 .9 9.5 -.8 9.6 -2 7.6 -4.7 11.8 -2.8 9.3 -3.6 7.6 -2.8 3.9 -4.2 4.2 -3.8 2.6 -3.8 1.8 -7.7 1.7 -7.6 .3 -7.7 -1.8 -3.8 -1.9 -5.7 -4.6 -5.1 -6.2 -3.2 -5.7 -2.4 -5.7 -2.2 -7.7 -2.1 -13.4 -.3 -11.5 .9 -9.5 2.3 -7.7 3 -5.7 5.3 -6.1z"/><path fill="#2251fe" d="M1293 735.1l7.6 -1.1 5.8 .3 5.7 1.5 5.8 2.6 5.7 3.7 4.7 4.8 2.3 3.8 2 5.7 1 9.6 -.8 13.4 -.8 7.6 -2.2 9.6 -3.5 7.6 -2.9 3.9 -5.5 4.6 -5.8 2.4 -5.7 1 -5.8 .1 -5.7 -1.3 -5.7 -3.1 -4.2 -3.7 -4.3 -5.8 -3.6 -7.6 -2.3 -7.7 -1.9 -11.4 -.4 -7.7 .5 -7.6 1.7 -7.7 2.6 -5.7 4.2 -5.5 3.9 -3.2 3.8 -1.9z"/><path fill="#368eff" d="M1294.9 737.1l5.7 -.7 5.8 .4 5.7 1.7 5.7 3.1 4 3.4 4.7 5.7 1.8 3.8 1.7 5.8 .8 7.6 -.2 13.4 -.9 7.6 -1.9 7.7 -2.7 5.7 -4.8 5.8 -4.4 3 -5.7 2 -5.7 .7 -5.8 -.3 -3.8 -1 -5.7 -3.3 -4.9 -5 -3.6 -5.7 -2.5 -5.7 -2.1 -7.7 -1.5 -9.5 -.3 -9.6 .8 -7.7 1.7 -5.7 3 -5.7 3.6 -4.3 5.8 -3.8z"/><path fill="#47e9ee" d="M1294.9 738.8l5.7 -.7 5.8 .4 5.7 1.8 3.8 2.2 5.2 4.4 3 3.8 2.9 5.7 1.5 5.8 .9 11.4 -.3 9.6 -1.1 7.7 -1.7 5.7 -3 5.7 -3.5 4.1 -3.9 2.8 -5.7 2.2 -5.7 .8 -5.8 -.4 -3.8 -1 -5.7 -3.5 -3.9 -4 -3.2 -4.8 -3.2 -7.6 -2 -7.7 -1.2 -9.6 -.2 -7.6 .9 -7.6 1.9 -5.8 3.2 -5.6 3.8 -3.9 3.9 -2.4z"/><path fill="#50fabe" d="M1293 740.7l5.7 -1.1 5.8 0 3.8 .8 5.7 2.5 3.9 2.7 4.5 5.1 2.3 3.8 2.1 5.8 1.3 7.6 .3 11.5 -.7 7.6 -1.9 7.7 -2.7 5.7 -3.3 4.3 -3.9 2.9 -5.7 2.3 -5.7 .9 -3.9 -0 -5.7 -1.5 -3.8 -2.1 -3.8 -3.4 -3.9 -5.3 -2.8 -5.7 -1.8 -5.8 -1.7 -9.5 -.7 -7.7 .4 -7.6 1.3 -5.7 2.4 -5.8 2.9 -4 3.9 -3.4z"/><path fill="#64fa91" d="M1296.8 741.1l5.7 -.5 3.9 .5 3.8 1.1 5.7 3.3 3.5 3.3 2.9 3.8 2.7 5.7 1.5 5.8 .8 7.6 0 9.6 -.9 7.6 -1.7 5.7 -2.9 5.8 -4 4.4 -3.8 2.4 -5.7 1.9 -5.8 .5 -3.8 -.4 -5.7 -2.2 -3.8 -2.8 -3.9 -4.5 -2.9 -5.1 -2.2 -5.7 -1.7 -7.6 -1.1 -9.6 -0 -5.7 1.1 -7.7 2.2 -5.7 2.7 -4.3 3.8 -3.6 3.9 -2.1z"/><path fill="#77fa6f" d="M1294.9 742.6l5.7 -.8 3.9 .1 5.7 1.5 3.8 2.1 3.8 3.1 3.3 4 2.9 5.7 1.6 5.8 .9 7.6 0 9.6 -1 7.6 -1.7 5.8 -2.1 4.1 -3.9 4.6 -3.8 2.6 -5.7 1.9 -5.8 .6 -3.8 -.4 -3.8 -1.3 -4.2 -2.6 -3.4 -3.4 -2.9 -4.2 -2.6 -5.8 -2.1 -7.6 -1.2 -7.7 -.4 -7.6 .5 -5.7 1.5 -5.8 1.7 -3.8 3.5 -4.8 3.9 -3z"/><path fill="#8efa51" d="M1300.7 742.9l5.7 .4 3.9 1.3 4.1 2.3 4.2 3.8 2.7 3.8 2.5 5.8 1.4 5.7 .6 5.8 .1 7.6 -.8 7.6 -1.5 5.8 -1.9 4.2 -3.8 5.1 -3.8 2.8 -3.8 1.5 -5.8 1 -5.7 -.4 -3.8 -1.3 -3.9 -2.4 -4.4 -4.8 -3.2 -5.7 -2.1 -5.8 -1.3 -5.7 -1.1 -9.5 .1 -5.8 .8 -5.7 2 -5.8 2.3 -3.8 3.1 -3.3 3.8 -2.4 3.9 -1.3z"/><path fill="#c0fa31" d="M1294.9 744.8l5.7 -.9 3.9 .1 5.7 1.6 3.8 2.2 3.3 2.9 3 3.8 1.9 3.9 1.8 5.7 1 7.7 .1 7.6 -.8 7.7 -1.6 5.7 -1.8 3.8 -3.1 4.1 -3.8 3 -5.7 2.1 -5.8 .6 -3.8 -.4 -3.8 -1.3 -3.8 -2.6 -3.4 -3.6 -2.5 -3.8 -2.5 -5.7 -1.5 -5.8 -1.2 -7.6 -.3 -7.7 .6 -5.7 1.2 -4.6 2.4 -5 3.3 -3.8 3.9 -2.6z"/><path fill="#f1ed22" d="M1300.7 744.9l5.7 .4 3.9 1.3 3.8 2.3 3.8 3.7 2.6 3.8 1.7 3.8 1.5 5.8 .6 5.7 .2 7.7 -.6 5.7 -1.3 5.7 -2.6 5.8 -2.1 2.7 -3.8 3.2 -3.8 1.7 -5.8 1.1 -5.7 -.4 -3.8 -1.4 -3.9 -2.6 -3.7 -4.3 -2.2 -3.8 -2.2 -5.8 -2.4 -13.4 -.1 -5.7 .6 -5.7 1.8 -5.8 2.2 -3.8 2.2 -2.6 3.8 -2.7 3.9 -1.5z"/><path fill="#ff9016" d="M1296.8 746.4l5.7 -.6 3.9 .5 3.8 1.3 3.8 2.4 2.8 2.6 2.9 4.2 2 4.4 1.2 4.8 .8 7.6 -.1 7.7 -.9 5.7 -1.8 5.7 -2.1 3.8 -3.5 3.9 -3.2 2 -5.7 1.6 -3.9 .3 -3.8 -.4 -3.8 -1.5 -3.8 -2.7 -2.8 -3.2 -3 -5.1 -1.9 -5.2 -1.4 -6.9 -.9 -11.4 .8 -5.8 1.5 -4.9 2.8 -4.6 3 -3 3.8 -2.1z"/><path fill="#ff4b14" d="M1293 748.6l3.8 -1.1 5.8 -.6 3.8 .4 3.8 1.4 3.8 2.4 3.3 3.4 2.4 3.8 1.5 3.8 1.3 5.8 .6 7.6 -.2 5.8 -1.2 6.8 -1.7 4.6 -2.3 3.9 -3.7 3.5 -3.8 1.9 -7.6 1.3 -3.9 -.5 -3.8 -1.5 -3.8 -2.8 -1.9 -2.2 -2.3 -3.6 -2.4 -5.7 -1.5 -5.7 -1 -7.7 -.1 -5.7 .8 -5.8 2.1 -5.7 2.5 -3.7 2.2 -2z"/><path fill="#fc2313" d="M1296.8 748.6l7.6 -.5 3.9 .9 3.8 1.9 3.8 3.3 1.9 2.5 2.6 5.5 1.3 4.9 .6 6.5 -.2 7.7 -1 5.7 -1.4 4.2 -1.9 3.6 -3.8 4 -3.8 2.1 -3.8 1 -3.9 .3 -3.8 -.5 -3.8 -1.5 -3.8 -3.1 -3.2 -4.3 -1.9 -3.9 -2.5 -9.5 -.8 -11.5 .7 -5.2 1.5 -4.3 2.2 -3.9 2.1 -2.2 3.8 -2.5z"/><path fill="#f20d11" d="M1294.9 750.3l7.6 -1.2 3.9 .4 3.8 1.4 2.7 1.7 3 2.9 2 2.9 2.4 5.7 1 5.7 .3 7.7 -.5 5.7 -1.3 5.5 -2 4.2 -2.9 3.7 -2.8 2.2 -3.8 1.5 -7.7 .7 -3.8 -1.1 -2.5 -1.4 -5.1 -5.3 -1.9 -3.5 -2 -5.4 -1.8 -12.6 .2 -5.7 .8 -3.8 1.5 -3.8 2.5 -3.9 2.6 -2.3z"/><path fill="#e3010f" d="M1298.7 750.6l3.8 -.4 3.8 .4 3.9 1.5 3.8 2.7 4 5.4 1.7 4.9 .8 4.7 -0 11.5 -.8 4.2 -1.9 5.3 -2.6 3.9 -3.1 2.6 -3.8 1.7 -3.9 .7 -3.8 -0 -3.8 -1.1 -3.2 -2 -2.5 -2.5 -4 -7.1 -1.6 -5.7 -.8 -5.8 -0 -9.5 .8 -3.9 1.7 -4 1.9 -2.6 3.6 -2.9z"/><path fill="#aa000c" d="M1296.8 752.4l7.6 -.7 3.9 .8 3.8 2 3.8 4 1.9 3.5 1.3 4 .7 3.8 .2 7.6 -.7 5.8 -1.5 4.9 -1.9 3.7 -2.5 2.9 -3.2 2.2 -3.8 1.1 -3.9 .4 -3.8 -.5 -2.9 -1.3 -2.6 -1.9 -4 -5.6 -2.6 -7.8 -1.3 -11.5 1.4 -7.7 1.9 -3.8 2.5 -2.9 1.9 -1.4z"/><path fill="#7c0009" d="M1296.8 754.1l7.6 -.7 5.2 1.1 2.5 1.6 2.4 2.3 1.4 2 2.3 5.6 .2 15.3 -.6 3.4 -1.7 4.3 -2.1 3 -3.1 2.7 -5.4 1.9 -5.4 0 -3.3 -1.2 -3.4 -2.6 -2.3 -2.9 -1.9 -3.8 -2 -7.1 -.6 -7.3 .6 -6.9 1.8 -4.5 2.1 -2.8 1.9 -1.6z"/></g></g><circle cx="1299.7" cy="778.4" r="46.0" fill="none" stroke="#444" stroke-width="0.5" opacity="0.7"/><path d="M1293.3 731.1l-1.8 1.2M1306.1 731.1l1.8 1.2" stroke="#333" stroke-width="0.8" fill="none"/><path d="M1252.5 767.8l-1.8 -1.2M1252.5 789.0l-1.8 1.2" stroke="#333" stroke-width="0.8" fill="none"/><path d="M1346.9 767.8l1.8 -1.2M1346.9 789.0l1.8 1.2" stroke="#333" stroke-width="0.8" fill="none"/><g fill="#222" opacity="0.45"><circle cx="1288.2" cy="742.5" r=".55"/><circle cx="1299.7" cy="742.5" r=".55"/><circle cx="1311.2" cy="742.5" r=".55"/><circle cx="1282.5" cy="754.5" r=".55"/><circle cx="1294.0" cy="754.5" r=".55"/><circle cx="1305.5" cy="754.5" r=".55"/><circle cx="1317.0" cy="754.5" r=".55"/><circle cx="1328.5" cy="754.5" r=".55"/><circle cx="1265.2" cy="766.4" r=".55"/><circle cx="1276.7" cy="766.4" r=".55"/><circle cx="1288.2" cy="766.4" r=".55"/><circle cx="1299.7" cy="766.4" r=".55"/><circle cx="1311.2" cy="766.4" r=".55"/><circle cx="1322.7" cy="766.4" r=".55"/><circle cx="1334.2" cy="766.4" r=".55"/><circle cx="1271.0" cy="778.4" r=".55"/><circle cx="1282.5" cy="778.4" r=".55"/><circle cx="1294.0" cy="778.4" r=".55"/><circle cx="1305.5" cy="778.4" r=".55"/><circle cx="1317.0" cy="778.4" r=".55"/><circle cx="1328.5" cy="778.4" r=".55"/><circle cx="1340.0" cy="778.4" r=".55"/><circle cx="1265.2" cy="790.4" r=".55"/><circle cx="1276.7" cy="790.4" r=".55"/><circle cx="1288.2" cy="790.4" r=".55"/><circle cx="1299.7" cy="790.4" r=".55"/><circle cx="1311.2" cy="790.4" r=".55"/><circle cx="1322.7" cy="790.4" r=".55"/><circle cx="1334.2" cy="790.4" r=".55"/><circle cx="1282.5" cy="802.3" r=".55"/><circle cx="1294.0" cy="802.3" r=".55"/><circle cx="1305.5" cy="802.3" r=".55"/><circle cx="1317.0" cy="802.3" r=".55"/><circle cx="1328.5" cy="802.3" r=".55"/><circle cx="1288.2" cy="814.3" r=".55"/><circle cx="1299.7" cy="814.3" r=".55"/><circle cx="1311.2" cy="814.3" r=".55"/></g>
<defs><clipPath id="tc29"><circle cx="1414.6" cy="778.4" r="46.5"/></clipPath></defs><g clip-path="url(#tc29)"><g filter="url(#tblur)"><circle cx="1414.6" cy="778.4" r="48.5" fill="#0f1fec"/><path fill="#152ffa" d="M1382.7 730.6l1.8 -1.5 13.7 0 4.4 3.9 5.2 1.4 5.8 -.3 4.9 -1.1 3.7 -3.9 35.8 0 1.3 2 3.3 7.7 1.3 5 -0 23 -1.1 4.9 -6.4 17.4 -2.7 17.4 -1.8 5.8 -3.7 7.7 -5.9 7.7 -55.4 0 -6 -7.7 -4.3 -9.7 -1.8 -9.6 -.1 -5.8 1.4 -15.5 -2 -25.1 .6 -5.8 1.9 -7.8 2.7 -5.8z"/><path fill="#2251fe" d="M1438.8 734.5l1.9 -.1 3.9 1.1 3.9 3 3.6 6 1.6 5.8 .4 5.8 -.6 5.8 -6.1 21.3 -6.7 15.1 -3.4 10 -2.4 4.3 -3.8 4.5 -5.8 4 -5.8 2.1 -7.8 .3 -5.8 -1.5 -5.8 -3.3 -3.8 -3.6 -3.4 -4.9 -2.3 -5.8 -2.1 -8.3 -3.1 -9.1 -2.2 -9.6 -1 -15.5 .8 -7.7 1 -3.9 3.4 -5.8 2.6 -1.9 2.4 -.9 17.4 -2.3 17.5 -.7z"/><path fill="#368eff" d="M1404 742.3l11.6 -1.2 25.1 .4 3.9 2 1.9 2.2 2.7 6.7 .5 5.8 -.6 7.7 -2.9 13.5 -2.9 7.7 -14.2 23.6 -5.8 4.8 -5.8 1.9 -5.8 0 -3.8 -1 -3.9 -2.1 -3.9 -3.6 -2.7 -4.2 -7.8 -15.5 -2.5 -5.8 -1.5 -5.8 -1.2 -15.5 1 -7.7 1.3 -3.8 2.5 -3.9 3.2 -2.6 5.8 -2.2z"/><path fill="#47e9ee" d="M1411.7 742.5l7.7 -.2 9.7 .8 5.8 .9 5.8 2.1 2.7 2.4 2.3 3.8 1.5 7.8 -.2 5.8 -1.4 9.6 -2.3 7.8 -2.8 5.8 -3.7 5.3 -11.6 13.8 -3.8 3 -5.8 1.7 -5.8 -.9 -3.9 -2.1 -3.9 -4 -7.7 -10.7 -2.8 -4.2 -3.5 -7.7 -1.3 -5.8 -.9 -7.8 -0 -5.8 .9 -5.8 1.2 -3.8 2.5 -4 3.9 -3.1 3.9 -1.8 5.8 -1.7z"/><path fill="#50fabe" d="M1405.9 744.4l5.8 -.9 9.7 -0 5.8 .6 7.7 1.8 3.9 1.9 3 2.6 2.3 3.9 1.4 5.8 -.1 7.7 -1.5 9.7 -1.8 5.8 -3 5.8 -6.1 7.4 -7.8 6.9 -5.8 3.9 -3.8 1.1 -3.9 -.4 -3.9 -1.8 -9.6 -8.8 -5.2 -6.4 -2.2 -3.9 -1.6 -3.8 -1.5 -5.8 -.7 -13.6 1 -5.8 1.5 -3.8 2.9 -3.8 2.7 -2 5 -2.4z"/><path fill="#64fa91" d="M1411.7 744.5l7.7 -.2 5.8 .6 9.7 2.6 3.9 2.3 2.3 2.5 2 3.9 1.2 5.8 -.2 7.7 -1.3 7.8 -1.8 5.8 -3.2 5.8 -4.8 5.6 -5.8 4.8 -7.8 4.2 -3.8 .8 -3.9 -.3 -5.8 -2.6 -5.8 -4.3 -3.9 -3.9 -3.1 -4.3 -2.8 -5.8 -1.6 -5.8 -.6 -5.8 -.2 -5.8 .7 -5.8 1.3 -3.9 2.5 -3.9 3.8 -3.2 3.9 -1.9 5.8 -1.8z"/><path fill="#77fa6f" d="M1405.9 746.3l5.8 -.9 9.7 -.1 5.8 .9 5.8 1.7 3.8 2.1 2.6 2.4 2.3 3.8 1.2 3.9 .5 5.8 -1.1 9.6 -1.6 5.8 -2.7 5.8 -3.1 4.2 -3.9 3.8 -5.8 3.9 -5.8 2.5 -3.8 .6 -3.9 -.3 -5.8 -2.1 -3.9 -2.5 -3.8 -3.3 -4 -4.8 -2.2 -3.9 -2 -5.8 -.9 -5.8 -.3 -7.7 .8 -5.8 1.5 -3.9 2.8 -3.8 2.3 -2 3.9 -2.1z"/><path fill="#8efa51" d="M1409.8 746.4l7.7 -.4 5.8 .4 5.8 1.2 3.9 1.4 3.9 2.5 2.5 2.8 1.9 3.8 .9 3.9 .2 5.8 -.9 7.7 -1.6 5.8 -2.9 5.8 -4 5 -3.9 3.3 -5.8 3.2 -5.8 1.6 -3.8 .2 -3.9 -.7 -5.8 -2.5 -3.9 -2.8 -3.8 -4 -3.3 -5.2 -1.5 -3.9 -1.3 -5.8 -.3 -11.6 .7 -3.8 1.8 -4.2 2.9 -3.6 2.9 -2 5.8 -2.6z"/><path fill="#c0fa31" d="M1405.9 747.9l5.8 -1 5.8 -.2 5.8 .4 5.8 1.3 3.9 1.6 3.8 2.8 2.6 3.3 1.5 3.9 .7 5.8 -.7 7.7 -1.2 5.8 -2.5 5.8 -2.6 3.9 -3.6 3.6 -3.8 2.9 -5.8 2.6 -5.8 .9 -3.9 -.2 -3.9 -1 -3.8 -1.9 -3.9 -2.8 -3.8 -4.1 -2.4 -3.9 -1.6 -3.8 -1.4 -5.8 -.4 -7.8 .5 -5.8 1.2 -3.8 2.1 -3.4 2.5 -2.4 3.3 -2.2z"/><path fill="#f1ed22" d="M1407.8 748.3l5.8 -.7 5.8 -0 9.7 1.7 3.8 1.8 3.9 3.1 3.1 5.8 .8 5.8 -.6 7.8 -1.3 5.8 -2.5 5.8 -3.4 4.5 -3.8 3.5 -3.9 2.4 -5.8 2 -5.8 .4 -3.9 -.6 -3.8 -1.4 -3.9 -2.4 -3.1 -2.6 -3.1 -3.9 -3.3 -7.7 -1 -5.8 -.3 -5.8 .6 -5.8 1.4 -3.9 2.7 -3.9 2.3 -1.9 3.8 -2.1z"/><path fill="#ff9016" d="M1413.6 748.3l5.8 -0 5.8 .8 3.9 1.1 3.8 1.9 2.6 2.1 2.7 3.9 1.3 3.8 .4 3.9 -.3 5.8 -1 5.8 -2.2 5.8 -2.3 3.9 -3.6 3.8 -5.3 3.6 -3.9 1.6 -5.8 .9 -5.8 -.7 -3.8 -1.4 -3.9 -2.3 -3.8 -3.6 -2.6 -3.9 -1.7 -3.8 -1.4 -5.8 -.5 -5.8 .3 -5.8 1 -3.9 2.1 -3.9 1.8 -1.9 2.9 -2.1 3.8 -1.9 3.9 -1.1z"/><path fill="#ff4b14" d="M1407.8 749.9l9.7 -.9 9.6 1.4 3.9 1.6 3.2 2.2 2.6 3.1 1.2 2.7 1.1 5.8 -.3 5.8 -1 5.8 -2.2 5.8 -2.7 4.1 -3.6 3.6 -4.1 2.8 -3.9 1.5 -3.8 .8 -5.8 -.1 -3.9 -1.1 -3.9 -1.9 -3.8 -3.1 -2.4 -2.7 -2.2 -3.9 -1.5 -3.9 -1 -5.8 -.2 -5.8 .3 -3.8 1.2 -4 1.9 -3.3 2.4 -2.4 3.4 -2.2z"/><path fill="#fc2313" d="M1409.8 750.4l11.6 -.3 7.7 2 3.8 2.2 2 1.9 2 3.2 .9 2.6 .5 5.8 -.5 5.8 -.9 4.5 -2.1 5.2 -2.6 3.8 -4.1 3.9 -4.8 2.7 -3.8 1.2 -7.8 .2 -3.8 -1.1 -3.9 -1.9 -3.6 -3 -2.2 -2.7 -1.9 -3.4 -1.9 -5.5 -.6 -5.8 0 -5.8 .7 -3.9 1.8 -3.8 1.9 -2.3 3.9 -2.8z"/><path fill="#f20d11" d="M1405.9 752.3l3.9 -1 5.8 -.5 9.6 .9 6.1 2.6 2.3 1.9 2.5 3.9 1.1 3.8 .2 5.8 -.8 5.8 -1.7 5.6 -2.3 4.1 -3.3 3.8 -6 3.9 -3.9 1.1 -3.8 .5 -3.9 -.3 -3.9 -1 -3.8 -2.1 -2.5 -2.1 -3.2 -3.8 -1.9 -3.9 -1.1 -3.8 -.7 -5.8 .1 -5.8 .8 -3.9 2 -3.9 1.7 -1.9 2.8 -2.1z"/><path fill="#e3010f" d="M1409.8 752.2l5.8 -.5 5.8 .2 7.7 2.2 3.1 2.1 1.8 1.9 1.1 1.9 1.2 3.9 .3 3.9 -.5 5.7 -1.2 5.2 -2 4.5 -2.8 3.9 -2.9 2.6 -3.9 2.2 -3.8 1.3 -7.8 .1 -3.8 -1.1 -3.9 -2.1 -4.7 -5 -2 -3.8 -1.2 -3.9 -.6 -9.6 .5 -3.9 1.5 -3.9 1.3 -1.9 3.3 -2.8 3.8 -2z"/><path fill="#aa000c" d="M1407.8 753.8l3.9 -.8 5.8 -.3 7.7 1 5.8 2.9 1.9 1.9 1.9 3.5 .7 3.8 0 3.9 -.6 5.6 -1.2 4.1 -1.9 3.8 -2.7 3.7 -5.8 4.2 -3.9 1.2 -3.9 .4 -3.8 -.3 -3.9 -1 -5.8 -4.1 -3.9 -6.2 -1 -3.7 -.7 -5.8 .2 -5.8 1.1 -3.8 2.4 -3.7 1.9 -1.7z"/><path fill="#7c0009" d="M1411.7 754.2l9.7 -.1 5.8 1.6 3.8 2.4 2.5 3.9 .7 5.8 -.7 7.7 -.5 3.1 -2 4 -3.8 4.9 -2.1 1.6 -5.7 2.3 -9.6 -.2 -3.9 -1.8 -4.4 -4.2 -1.4 -2.3 -2 -5.4 -.3 -11.6 2.3 -5.5 2.2 -2.3 2.9 -1.9z"/></g></g><circle cx="1414.6" cy="778.4" r="46.5" fill="none" stroke="#444" stroke-width="0.5" opacity="0.7"/><path d="M1408.1 730.6l-1.8 1.2M1421.1 730.6l1.8 1.2" stroke="#333" stroke-width="0.8" fill="none"/><path d="M1366.9 767.7l-1.8 -1.2M1366.9 789.1l-1.8 1.2" stroke="#333" stroke-width="0.8" fill="none"/><path d="M1462.3 767.7l1.8 -1.2M1462.3 789.1l1.8 1.2" stroke="#333" stroke-width="0.8" fill="none"/><g fill="#222" opacity="0.45"><circle cx="1403.0" cy="742.1" r=".55"/><circle cx="1414.6" cy="742.1" r=".55"/><circle cx="1426.2" cy="742.1" r=".55"/><circle cx="1397.2" cy="754.2" r=".55"/><circle cx="1408.8" cy="754.2" r=".55"/><circle cx="1420.4" cy="754.2" r=".55"/><circle cx="1432.0" cy="754.2" r=".55"/><circle cx="1443.7" cy="754.2" r=".55"/><circle cx="1379.7" cy="766.3" r=".55"/><circle cx="1391.3" cy="766.3" r=".55"/><circle cx="1403.0" cy="766.3" r=".55"/><circle cx="1414.6" cy="766.3" r=".55"/><circle cx="1426.2" cy="766.3" r=".55"/><circle cx="1437.8" cy="766.3" r=".55"/><circle cx="1449.5" cy="766.3" r=".55"/><circle cx="1385.5" cy="778.4" r=".55"/><circle cx="1397.2" cy="778.4" r=".55"/><circle cx="1408.8" cy="778.4" r=".55"/><circle cx="1420.4" cy="778.4" r=".55"/><circle cx="1432.0" cy="778.4" r=".55"/><circle cx="1443.7" cy="778.4" r=".55"/><circle cx="1455.3" cy="778.4" r=".55"/><circle cx="1379.7" cy="790.5" r=".55"/><circle cx="1391.3" cy="790.5" r=".55"/><circle cx="1403.0" cy="790.5" r=".55"/><circle cx="1414.6" cy="790.5" r=".55"/><circle cx="1426.2" cy="790.5" r=".55"/><circle cx="1437.8" cy="790.5" r=".55"/><circle cx="1449.5" cy="790.5" r=".55"/><circle cx="1397.2" cy="802.6" r=".55"/><circle cx="1408.8" cy="802.6" r=".55"/><circle cx="1420.4" cy="802.6" r=".55"/><circle cx="1432.0" cy="802.6" r=".55"/><circle cx="1443.7" cy="802.6" r=".55"/><circle cx="1403.0" cy="814.7" r=".55"/><circle cx="1414.6" cy="814.7" r=".55"/><circle cx="1426.2" cy="814.7" r=".55"/></g>
<defs><clipPath id="tc30"><circle cx="1356.4" cy="878.0" r="46.4"/></clipPath></defs><g clip-path="url(#tc30)"><g filter="url(#tblur)"><circle cx="1356.4" cy="878.0" r="48.4" fill="#132bf8"/><path fill="#2251fe" d="M1309.1 828.8l96.4 0 0 98.4 -98.3 -0 -0 -98.4zM1353.6 890.5l-2 2.2 -1 3.6 .2 3.8 1.1 2 3.5 1.8 5.8 .3 1.9 -.3 3.9 -2.2 1.3 -3.5 -0 -3.8 -.6 -2 -1.6 -1.9 -4.9 -1.4 -3.8 .2z"/><path fill="#368eff" d="M1309.1 828.8l96.4 0 0 98.4 -98.3 -0 -0 -98.4zM1358.5 886.7l-5 1 -2 .9 -2 2 -1.6 3.8 -.1 5.9 2.1 3.8 3.6 1.9 5.8 .5 5.9 -.5 3.5 -1.9 2.2 -3.7 .4 -4.1 -.5 -3.8 -1.8 -3.1 -2 -1.4 -3.8 -1.2z"/><path fill="#47e9ee" d="M1309.1 828.8l96.4 0 0 98.4 -98.3 -0 -0 -98.4zM1351.5 886.7l-3.8 3.3 -1.7 4.4 -.2 5.8 1.9 4.2 1.9 1.6 3.9 1.5 7.7 .5 5.8 -1 3.8 -2.7 2 -4.1 .2 -3.9 -.4 -3.8 -1.9 -3.9 -3.7 -2.4 -3.9 -.9 -5.8 0z"/><path fill="#50fabe" d="M1309.1 828.8l96.4 0 0 98.4 -98.3 -0 -0 -98.4zM1352.9 884.8l-3.3 1.5 -1.9 1.6 -2.8 4.6 -.6 7.7 1.5 4.2 1.3 1.6 2.5 1.6 5.8 1.4 9.6 -0 3.4 -1.1 2.4 -1.4 2.2 -2.4 1.3 -3.9 -.1 -7.7 -1.5 -3.8 -3.8 -3.2 -3.9 -1.3 -5.7 -.3z"/><path fill="#64fa91" d="M1309.1 828.8l96.4 0 0 98.4 -98.3 -0 -0 -98.4zM1356.4 882.8l-2.9 .5 -3.8 1.5 -4.3 3.8 -1.9 3.8 -.6 3.9 -.1 3.9 1 3.8 1.3 1.9 2.4 2 6 2 9.7 .5 3.8 -.6 3.9 -1.5 2.7 -2.4 1.1 -1.8 1.3 -3.9 -.1 -7.8 -1.3 -3.8 -1.8 -2.3 -3.9 -2.5 -5.7 -1.2z"/><path fill="#77fa6f" d="M1309.1 828.8l96.4 0 0 52.1 -1.9 -3.9 -1.9 -1.5 -1.9 -.1 -2 1.1 -1.9 2.9 -1.5 7.3 .3 3.8 .9 3.9 2.6 3.8 1.6 .9 1.9 -.1 1.9 -1.6 1.9 -3.9 0 33.7 -98.3 -0 -0 -98.4zM1350.9 882.8l-3.1 1.7 -2.5 2.2 -3.2 5.7 -1 5.8 .2 3.9 1.5 3.8 1.1 1.2 1.9 1.5 3.9 1.6 11.6 1.5 7.7 -.7 5.4 -3.1 2.6 -3.9 1.1 -5.8 -.6 -7.7 -2.7 -4.9 -3.9 -2.8 -5.8 -1.6 -7.7 0z"/><path fill="#8efa51" d="M1309.1 828.8l72.7 0 -3.3 23.5 .1 3.5 4 1.9 3.7 .8 7.7 3.9 2.6 3 0 2 -1.3 1.9 -3.3 2.3 -11.5 4.7 -3.9 .8 -7.7 -.5 -7.7 .9 -7.7 2.3 -3.9 1.7 -4.4 3.2 -4.2 5.8 -2.4 7.7 -.4 5.8 .5 2 1.9 1.9 5.1 2.6 7.8 1.8 11.5 1.4 5.8 -.2 3.9 -1 7.7 -5.1 1.9 .8 5.8 8.1 3.9 4.3 5.8 3.3 5.7 .3 0 3 -98.3 -0 -0 -98.4z"/><path fill="#c0fa31" d="M1332.3 832.6l5.8 .4 3.8 1.4 3.9 2.7 2.8 3.2 2 3.9 1.5 5.8 .5 7.7 -.2 9.6 -1.3 7.8 -2 3.8 -6.1 5.8 -6.8 8.7 -2 1.1 -5.8 1 -1.5 .8 -.7 1.9 .3 1.9 3.7 5.8 5.3 3.9 21.9 4.9 2.9 .9 3.2 1.9 2.7 3.9 .2 1.9 -1.3 3.8 -57.9 0 0 -73.1 4.7 -7.9 6.9 -7.4 3.9 -2.8 3.8 -1.9zM1378.6 864.7l3.9 -.8 5.7 .5 2.4 1.1 1.1 1.9 -1.7 1.9 -1.8 .8 -3.8 .6 -3.9 -.2 -3.4 -1.2 -1.6 -1.9 1.4 -1.9z"/><path fill="#f1ed22" d="M1328.4 838l5.8 -1 3.8 .6 4.8 2.8 3 3.9 2 5.7 .5 5.8 -.2 9.7 -1.1 7.7 -1.3 3.8 -2.3 3.9 -7.3 7.2 -5.8 1.9 -7.7 -.1 -5.8 .9 -1.9 -.5 -1.9 -2.2 -3.4 -9.1 -1.1 -9.7 1 -7.7 2.9 -7.7 4.4 -6.7 5.8 -5.9zM1382.4 867l1.9 -.2 2.1 .6 -2.1 .6 -2.7 -.6zM1316.9 902l1.9 0 8.3 7.8 5.2 2.8 17.4 1.9 4.5 1.1 3.2 1.4 2.9 2.5 1 1.9 .2 1.9 -.6 2 -1.4 1.9 -52.2 -0 -0 -11.7 4.2 -3.7 3.3 -3.9 1 -1.9z"/><path fill="#ff9016" d="M1334.2 840.4l3.9 .9 1.9 1.2 1.9 1.8 2.1 3.8 1.3 7.7 -.6 13.5 -2.5 7.8 -4.1 5.4 -2 1.6 -3.8 1.8 -5.8 .3 -7.7 -2.6 -3.9 -3.7 -2.5 -6.7 -.5 -3.9 .5 -5.8 2.7 -7.7 5.6 -8.2 6.2 -5.3 3.4 -1.4zM1341.9 915.5l7.7 .6 5.8 2.3 2.5 3 .2 1.9 -.9 1.9 -2.1 2 -21.2 -0 -2.1 -2 -1.1 -1.9 .2 -3.9 1.2 -1.9 4 -1.5z"/><path fill="#ff4b14" d="M1330.4 844l3.9 -.5 1.9 .5 1.9 1 2.7 3.1 1.7 5.8 .2 9.6 -1.1 7.8 -2.5 5.7 -2.9 3.3 -1.9 1.4 -2 .8 -3.8 .7 -5.8 -1.6 -3.9 -2.8 -1.9 -2.7 -1.3 -2.9 -.7 -5.8 1.5 -7.7 2.9 -5.8 5.3 -6.3zM1341.9 917.3l5.8 .1 3.8 1.1 1.9 1 1.6 1.9 .1 1.9 -1.6 2.2 -3.2 1.7 -10.3 -.2 -2.9 -1.7 -1.4 -2 -.3 -1.9 .8 -1.9 1.8 -1.2z"/><path fill="#fc2313" d="M1330.4 847.3l3.9 -.3 1.9 .8 2.2 2.3 1.7 5.8 .1 9.6 -1.1 5.8 -2.9 5.2 -3.9 2.9 -3.8 .8 -4.4 -1.2 -4.4 -3.9 -1.7 -3.8 -.5 -5.8 1.6 -5.8 3.3 -5.8 4.1 -4.3zM1341.9 919.3l3.9 -.4 3.2 .5 2.8 2 .1 1.9 -2.3 1.8 -1.9 .5 -5.2 -.4 -2.7 -1.9 -.4 -1.9z"/><path fill="#f20d11" d="M1328.4 851.9l3.9 -1.2 2.7 1.2 2 3.9 .9 7.7 -.6 5.8 -1.7 3.8 -3.3 3.2 -3.9 1 -3.9 -1.2 -1.9 -1.6 -2.1 -3.3 -.8 -3.9 .5 -3.8 1.5 -3.9 2.8 -4.2z"/><path fill="#e3010f" d="M1328.4 856.6l1.9 -.7 2 .4 1.2 1.5 1.6 3.8 .6 3.9 -.5 3.8 -1 2.2 -1.9 2.1 -3.9 1.3 -1.9 -.4 -2.1 -1.3 -1.6 -1.9 -1 -3.9 .1 -1.9 1.6 -3.9 3 -3.6z"/><path fill="#aa000c" d="M1328.4 860.8l1.9 0 2 1.5 1.3 3.2 .1 1.9 -.4 1.9 -1.2 2 -1.8 1.2 -1.9 .3 -1.9 -.5 -1.4 -1 -1.2 -2 -.3 -1.9 1.2 -3.9 1.7 -1.7z"/><path fill="#7c0009" d="M1326.5 864.7l1.9 -1 2 .4 1.1 1.4 .3 1.9 -.5 2 -.9 .9 -2 .5 -2.5 -1.4 -.4 -2z"/></g></g><circle cx="1356.4" cy="878.0" r="46.4" fill="none" stroke="#444" stroke-width="0.5" opacity="0.7"/><path d="M1349.9 830.3l-1.8 1.2M1362.9 830.3l1.8 1.2" stroke="#333" stroke-width="0.8" fill="none"/><path d="M1308.8 867.3l-1.8 -1.2M1308.8 888.7l-1.8 1.2" stroke="#333" stroke-width="0.8" fill="none"/><path d="M1404.0 867.3l1.8 -1.2M1404.0 888.7l1.8 1.2" stroke="#333" stroke-width="0.8" fill="none"/><g fill="#222" opacity="0.45"><circle cx="1344.8" cy="841.8" r=".55"/><circle cx="1356.4" cy="841.8" r=".55"/><circle cx="1368.0" cy="841.8" r=".55"/><circle cx="1339.0" cy="853.9" r=".55"/><circle cx="1350.6" cy="853.9" r=".55"/><circle cx="1362.2" cy="853.9" r=".55"/><circle cx="1373.8" cy="853.9" r=".55"/><circle cx="1385.4" cy="853.9" r=".55"/><circle cx="1321.6" cy="865.9" r=".55"/><circle cx="1333.2" cy="865.9" r=".55"/><circle cx="1344.8" cy="865.9" r=".55"/><circle cx="1356.4" cy="865.9" r=".55"/><circle cx="1368.0" cy="865.9" r=".55"/><circle cx="1379.6" cy="865.9" r=".55"/><circle cx="1391.2" cy="865.9" r=".55"/><circle cx="1327.4" cy="878.0" r=".55"/><circle cx="1339.0" cy="878.0" r=".55"/><circle cx="1350.6" cy="878.0" r=".55"/><circle cx="1362.2" cy="878.0" r=".55"/><circle cx="1373.8" cy="878.0" r=".55"/><circle cx="1385.4" cy="878.0" r=".55"/><circle cx="1397.0" cy="878.0" r=".55"/><circle cx="1321.6" cy="890.1" r=".55"/><circle cx="1333.2" cy="890.1" r=".55"/><circle cx="1344.8" cy="890.1" r=".55"/><circle cx="1356.4" cy="890.1" r=".55"/><circle cx="1368.0" cy="890.1" r=".55"/><circle cx="1379.6" cy="890.1" r=".55"/><circle cx="1391.2" cy="890.1" r=".55"/><circle cx="1339.0" cy="902.1" r=".55"/><circle cx="1350.6" cy="902.1" r=".55"/><circle cx="1362.2" cy="902.1" r=".55"/><circle cx="1373.8" cy="902.1" r=".55"/><circle cx="1385.4" cy="902.1" r=".55"/><circle cx="1344.8" cy="914.2" r=".55"/><circle cx="1356.4" cy="914.2" r=".55"/><circle cx="1368.0" cy="914.2" r=".55"/></g>
<g fill="none" stroke-width="5.6" stroke="#d95af7"><path d="M463.4 1177.8H583.8" stroke-dasharray="16.4 6.3"/><path d="M581 1175V1815.7" stroke-dasharray="16.6 5.92" stroke-dashoffset="2.4"/><path d="M461.2 1181.6V1815.7" stroke-dasharray="16.6 5.9"/><path d="M458.3 1812.9H583.9" stroke-dasharray="19.6 6 16.8 5.6 16.7 5.9 16.9 5.5 16.7 6 9.9 50"/></g>
<defs><clipPath id="cpOrg"><rect x="455" y="1185.2" width="12" height="52.7"/><rect x="455" y="1259.6" width="12" height="52.4"/><rect x="455" y="1335.6" width="12" height="53.1"/></clipPath><clipPath id="cpNav"><rect x="575" y="1185.2" width="12" height="52.7"/><rect x="575" y="1259.6" width="12" height="52.4"/><rect x="575" y="1335.6" width="12" height="53.1"/></clipPath></defs>
<g fill="none" stroke-width="5.6" stroke="#f83cf0" clip-path="url(#cpOrg)"><path d="M463.4 1177.8H583.8" stroke-dasharray="16.4 6.3"/><path d="M581 1175V1815.7" stroke-dasharray="16.6 5.92" stroke-dashoffset="2.4"/><path d="M461.2 1181.6V1815.7" stroke-dasharray="16.6 5.9"/><path d="M458.3 1812.9H583.9" stroke-dasharray="19.6 6 16.8 5.6 16.7 5.9 16.9 5.5 16.7 6 9.9 50"/></g>
<g fill="none" stroke-width="5.6" stroke="#8a10e8" clip-path="url(#cpNav)"><path d="M463.4 1177.8H583.8" stroke-dasharray="16.4 6.3"/><path d="M581 1175V1815.7" stroke-dasharray="16.6 5.92" stroke-dashoffset="2.4"/><path d="M461.2 1181.6V1815.7" stroke-dasharray="16.6 5.9"/><path d="M458.3 1812.9H583.9" stroke-dasharray="19.6 6 16.8 5.6 16.7 5.9 16.9 5.5 16.7 6 9.9 50"/></g>
</svg>
</body></html>
